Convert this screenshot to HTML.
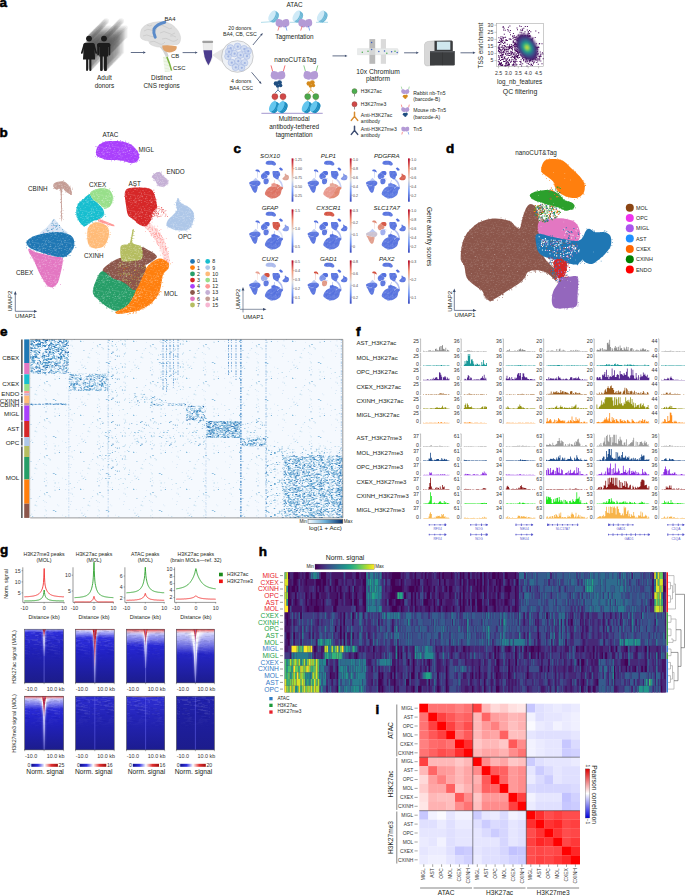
<!DOCTYPE html>
<html><head><meta charset="utf-8"><style>
html,body{margin:0;padding:0;background:#fff;width:685px;height:896px;overflow:hidden}
svg{display:block;font-family:"Liberation Sans", sans-serif}
</style></head><body>
<svg width="685" height="896" viewBox="0 0 685 896" fill="#231f20">
<defs><pattern id="bspk" patternUnits="userSpaceOnUse" width="16" height="16"><path d="M13.0 1.5h1.0v.5h-1.0zM11.7 4.1h0.7v.5h-0.7zM0.5 2.4h0.9v.5h-0.9zM12.4 3.0h0.9v.5h-0.9zM6.1 8.7h1.0v.5h-1.0zM3.8 2.8h0.7v.5h-0.7zM15.6 6.5h1.0v.5h-1.0zM2.8 12.1h1.0v.5h-1.0zM5.8 3.3h0.5v.5h-0.5zM2.3 4.7h0.8v.5h-0.8zM14.0 4.1h1.1v.5h-1.1zM2.7 8.0h0.9v.5h-0.9zM14.4 14.6h1.1v.5h-1.1zM1.3 13.8h0.4v.5h-0.4zM7.3 5.8h0.7v.5h-0.7zM1.4 6.5h0.9v.5h-0.9zM10.7 0.1h1.0v.5h-1.0zM5.0 8.6h0.6v.5h-0.6zM10.7 8.1h1.0v.5h-1.0zM0.9 6.4h1.1v.5h-1.1zM0.4 1.7h0.9v.5h-0.9zM15.7 1.3h0.5v.5h-0.5zM11.1 8.2h1.0v.5h-1.0zM2.0 2.1h0.5v.5h-0.5zM6.8 3.8h0.7v.5h-0.7zM1.4 9.3h0.6v.5h-0.6zM3.5 2.4h0.6v.5h-0.6zM4.8 15.6h0.9v.5h-0.9zM13.8 7.7h0.5v.5h-0.5zM10.1 11.8h1.1v.5h-1.1zM0.1 0.6h1.0v.5h-1.0zM3.7 0.2h0.5v.5h-0.5zM12.9 8.6h1.0v.5h-1.0zM12.4 7.7h0.6v.5h-0.6zM5.5 2.7h1.0v.5h-1.0zM6.5 7.6h0.7v.5h-0.7zM8.7 13.7h0.9v.5h-0.9zM7.9 10.8h0.9v.5h-0.9zM9.8 8.5h0.5v.5h-0.5zM2.4 10.6h0.9v.5h-0.9zM13.3 4.2h0.7v.5h-0.7zM0.1 9.3h0.8v.5h-0.8zM4.2 10.7h1.0v.5h-1.0zM6.9 9.9h0.8v.5h-0.8zM8.9 3.5h0.4v.5h-0.4zM15.8 13.7h1.1v.5h-1.1zM13.5 2.0h0.5v.5h-0.5zM6.5 10.5h0.9v.5h-0.9zM10.8 7.4h0.6v.5h-0.6zM9.8 5.9h0.9v.5h-0.9zM2.6 13.8h0.4v.5h-0.4zM15.8 15.5h0.9v.5h-0.9zM10.0 3.3h0.8v.5h-0.8zM7.1 9.6h0.4v.5h-0.4zM13.1 10.3h1.0v.5h-1.0zM12.7 0.1h0.6v.5h-0.6zM9.6 5.8h0.5v.5h-0.5zM11.9 14.8h0.7v.5h-0.7zM7.7 8.8h0.9v.5h-0.9zM9.3 4.0h0.6v.5h-0.6zM2.8 5.9h0.6v.5h-0.6zM13.9 3.5h0.5v.5h-0.5zM5.4 8.4h1.0v.5h-1.0zM7.3 6.4h1.0v.5h-1.0zM1.3 6.7h0.8v.5h-0.8zM2.1 4.4h1.0v.5h-1.0zM11.3 5.3h1.1v.5h-1.1zM7.9 8.9h0.9v.5h-0.9zM14.3 4.8h0.5v.5h-0.5zM6.5 12.9h1.0v.5h-1.0z" fill="#fff" opacity="0.45"/></pattern><path id="u_cbex_top" d="M40.4 234.5C37.1 233.4 45.1 229.2 47 227C48.9 224.8 50.8 222.3 52 221C53.2 219.7 53.5 218.7 54.3 218.9C55.1 219.1 55.7 220.5 57 222C58.3 223.5 60.4 226 62 228C63.6 230 70.3 232.7 66.7 233.8C63.1 234.9 43.7 235.6 40.4 234.5Z"/><path id="u_cbinh" d="M53.6 183.9C54.3 182.9 56.3 182.1 58 181.7C59.7 181.3 62.1 180.9 63.8 181.4C65.5 181.9 67 183.2 68.2 184.6C69.4 186 70.5 188 71.1 189.7C71.7 191.4 72 194.1 71.8 194.8C71.5 195.5 70.7 194.7 69.6 194.1C68.5 193.5 66.5 191.8 65.3 191.2C64.1 190.6 62.8 186.1 62.2 190.6C61.6 195.1 62.1 213.6 61.9 218.2C61.7 222.8 61.4 222.7 61.1 218.2C60.9 213.7 61.2 195.8 60.4 191C59.6 186.2 57.6 190.3 56.5 189.7C55.4 189.1 54.4 188.5 53.9 187.5C53.4 186.5 52.9 184.9 53.6 183.9Z"/><path id="u_migl" d="M96 152C96.2 150.3 96.7 147.7 98 146C99.3 144.3 101.7 142.8 104 142C106.3 141.2 109 141.1 112 141C115 140.9 119 141 122 141.5C125 142 127.8 142.9 130 144C132.2 145.1 133.6 146.5 135 148C136.4 149.5 137.8 151.3 138.5 153C139.2 154.7 139.4 156.5 139 158C138.6 159.5 137.5 161.2 136 162C134.5 162.8 132 163.2 130 163C128 162.8 126.3 161.5 124 161C121.7 160.5 118.7 160.2 116 160C113.3 159.8 110.5 160.3 108 160C105.5 159.7 102.8 158.7 101 158C99.2 157.3 97.8 157 97 156C96.2 155 95.8 153.7 96 152Z"/><path id="u_endo" d="M154 174C155 173.2 156.8 172.2 158 172C159.2 171.8 160.2 172.3 161 173C161.8 173.7 162 175 163 176C164 177 166.2 177.8 167 179C167.8 180.2 168.3 181.8 168 183C167.7 184.2 166.3 185.4 165 186C163.7 186.6 161.3 186.8 160 186.5C158.7 186.2 157.8 185.1 157 184C156.2 182.9 155.8 181.2 155 180C154.2 178.8 152.2 178 152 177C151.8 176 153 174.8 154 174Z"/><path id="u_cxex_cyan" d="M76.2 210.9C76.5 208.7 77.1 205.7 78.4 203.6C79.7 201.5 82.3 200.1 84.2 198.5C86.1 196.9 88.5 194 90 194.1C91.5 194.2 91.5 197.5 93 199.2C94.5 200.9 97.1 202.6 98.8 204.3C100.5 206 102.3 207.6 103.2 209.4C104.1 211.2 104.6 213.6 103.9 215.3C103.2 217 100.6 218.6 98.8 219.6C97 220.6 94.7 220.4 93 221.1C91.3 221.8 90.1 223.2 88.6 224C87.1 224.8 85.7 226.4 84.2 226.2C82.8 226 81.1 224.2 79.9 222.6C78.7 221 77.5 218.6 76.9 216.7C76.3 214.8 76 213.1 76.2 210.9Z"/><path id="u_cxex_green" d="M90 193.4C90.2 191.8 92.5 190.6 94.5 189.7C96.5 188.8 99.4 188.2 101.8 188.2C104.2 188.2 107.2 188.5 109 189.7C110.8 190.9 112.2 193.4 112.7 195.5C113.2 197.6 112.9 200.2 112.3 202.1C111.7 204 110.5 206.3 109 207.2C107.5 208 104.9 207.8 103.2 207.2C101.5 206.6 100.5 204.9 98.8 203.6C97.1 202.3 94.5 200.9 93 199.2C91.5 197.5 89.8 195 90 193.4Z"/><path id="u_salmon" d="M98.8 219.2C100 219.2 103.6 220.6 106 221.5C108.4 222.4 112.2 224 113.4 224.8C114.6 225.6 114.4 226.4 113 226.2C111.6 226 107.4 224.6 105 223.8C102.6 223 99.5 222.3 98.5 221.5C97.5 220.7 97.5 219.2 98.8 219.2Z"/><path id="u_cxinh" d="M88.6 226.9C89.8 225.4 92.3 223.2 94.5 222.6C96.7 222 99.6 222.6 101.8 223.3C104 224 106.4 225.3 107.6 226.9C108.8 228.5 109 230.6 109 232.8C109 235 108.4 237.9 107.6 240.1C106.8 242.3 105.4 244.6 103.9 245.9C102.4 247.2 100.6 247.7 98.8 248.1C97 248.5 94.7 248.7 93 248.1C91.3 247.5 89.6 246.3 88.6 244.5C87.6 242.7 87.4 239.4 87.2 237.2C87 235 87.2 233 87.4 231.3C87.6 229.6 87.4 228.4 88.6 226.9Z"/><path id="u_ast_tail" d="M147.8 221C149.6 221.5 153.3 226 156 229C158.7 232 161.9 235.3 163.8 239C165.7 242.7 166.5 247.2 167.5 251C168.5 254.8 170.2 260.1 169.8 262C169.4 263.9 166.5 264.3 165 262.5C163.5 260.7 162.5 254.6 161 251C159.5 247.4 157.8 244 156 241C154.2 238 151.8 235.5 150 233C148.2 230.5 145.4 228 145 226C144.6 224 146 220.5 147.8 221Z"/><path id="u_ast" d="M125 192C125.5 190.4 126 189.2 128 188.5C130 187.8 133.8 187.6 137 187.5C140.2 187.4 144.5 187.6 147 188C149.5 188.4 150.7 188.7 152 190C153.3 191.3 154.2 193.8 155 196C155.8 198.2 156.2 201 156.5 203C156.8 205 157.6 206.5 157 208C156.4 209.5 154 210 153 212C152 214 152.2 217.7 151 220C149.8 222.3 147.8 225.2 146 226C144.2 226.8 142 226 140 225C138 224 136 221.7 134 220C132 218.3 129.3 217.5 128 215C126.7 212.5 126.5 207.8 126 205C125.5 202.2 125.2 200.2 125 198C124.8 195.8 124.5 193.6 125 192Z"/><path id="u_opc" d="M178 198C178.7 197.7 179 200.8 180 202C181 203.2 182.3 204 184 205C185.7 206 188.3 206.5 190 208C191.7 209.5 193.5 211.7 194 214C194.5 216.3 193.7 219.7 193 222C192.3 224.3 191.5 226.6 190 228C188.5 229.4 186.3 230.2 184 230.5C181.7 230.8 178.3 230.4 176 230C173.7 229.6 171.6 228.8 170 228C168.4 227.2 166.8 226.3 166.5 225C166.2 223.7 166.9 221.7 168 220C169.1 218.3 171.5 216.7 173 215C174.5 213.3 176.5 211.8 177 210C177.5 208.2 175.8 206 176 204C176.2 202 177.3 198.3 178 198Z"/><path id="u_cbex_blue" d="M26.6 241.5C27.2 240.1 29.4 238.4 31.7 237.2C34 236 37.5 234.9 40.4 234.2C43.3 233.5 46.3 233.2 49.2 232.8C52.1 232.4 55.1 231.9 58 232C60.9 232.1 64.3 232.6 66.7 233.5C69.1 234.4 71.3 235.6 72.6 237.2C73.9 238.8 74.2 241.1 74.3 243C74.4 244.9 74.3 246.9 73.3 248.8C72.3 250.8 70 253.2 68.2 254.7C66.4 256.2 64.7 257.4 62.3 257.6C59.9 257.8 56.8 256.8 53.6 256.1C50.5 255.4 46.8 254.3 43.4 253.2C40 252.1 35.7 250.8 33.1 249.6C30.5 248.4 29.1 247.2 28 245.9C26.9 244.6 26 242.9 26.6 241.5Z"/><path id="u_cbex_pink" d="M28.8 248.8C29.7 248.6 31.7 250.8 34.6 251.8C37.5 252.8 42.9 253.8 46.3 254.7C49.7 255.5 52.3 256.4 55 256.9C57.7 257.4 61.1 256.3 62.3 257.6C63.5 258.9 62.7 262 62.3 264.9C61.9 267.8 60.8 272.2 60.1 275.1C59.4 278 59 280.4 57.9 282.4C56.8 284.3 55 286.1 53.6 286.8C52.2 287.5 50.7 287.5 49.2 286.8C47.7 286.1 46.5 284.8 44.8 282.4C43.1 280 40.8 275.8 39 272.2C37.2 268.6 35.5 263.7 33.9 260.5C32.3 257.3 30.4 255.1 29.5 253.2C28.6 251.2 27.9 249 28.8 248.8Z"/><path id="u_mol_brown" d="M103.2 268.8C104.4 266.7 108.5 264 111.3 262.2C114.1 260.4 116.9 258.9 120 258C123.1 257.1 126.5 258.8 130 257C133.5 255.2 138 248.7 141 247.5C144 246.3 145.5 248.7 147.8 249.8C150.2 250.9 153.7 252.9 155.1 254.2C156.5 255.5 157.5 256.3 156.5 257.8C155.5 259.3 151.4 261.6 149.2 263C146.9 264.4 144.7 264.8 143 266C141.3 267.2 140.6 268.3 139 270C137.4 271.7 135.4 274.4 133.2 276.1C131 277.9 128.3 279.8 125.9 280.5C123.5 281.2 121.3 280.8 118.6 280.5C115.9 280.2 112.2 280 109.8 279C107.4 278 105.1 276.3 104 274.6C102.9 272.9 102 270.9 103.2 268.8Z"/><path id="u_mol_green" d="M99.6 273.2C100.9 271.7 101.6 270.7 104 271.7C106.4 272.7 110.5 277.3 114.2 279C117.9 280.7 122.5 280.9 125.9 281.9C129.3 282.9 132.2 283.9 134.6 284.9C136.9 285.9 139.1 285.5 140 288C140.9 290.5 141.5 296.5 140 300C138.5 303.5 133.8 307.2 131 309C128.2 310.8 125.8 310.3 123 310.5C120.2 310.7 116.9 311 114.2 310.4C111.5 309.8 109.3 308.3 106.9 306.7C104.5 305.1 101.8 302.8 99.6 300.9C97.4 299 94.9 297.1 93.8 295.1C92.7 293.2 92.6 291.6 93 289.2C93.4 286.8 94.9 283.2 96 280.5C97.1 277.8 98.3 274.7 99.6 273.2Z"/><path id="u_mol_orange" d="M156.5 259.3C158.4 258.3 159.4 258.4 160.9 258.6C162.4 258.9 164 260 165.3 260.8C166.6 261.6 168.4 262.4 168.9 263.7C169.4 265 169.2 267 168.2 268.8C167.2 270.6 164.3 271.7 163.1 274.6C161.9 277.5 161.8 282.9 160.9 286.3C160.1 289.7 159.7 292.2 158 295.1C156.3 298 153.6 301.4 150.7 303.8C147.8 306.2 144.2 308.2 140.5 309.7C136.8 311.2 132.5 311.9 128.8 312.6C125.2 313.3 120.8 314.1 118.6 314C116.4 313.9 115 312.9 115.7 311.9C116.4 310.9 120.8 309.5 123 308.2C125.2 306.9 127.1 305.8 128.8 303.8C130.5 301.9 132 298.9 133.2 296.5C134.4 294.1 135.4 291.9 136.1 289.2C136.8 286.5 136.4 283.4 137.6 280.5C138.8 277.6 141.5 274.4 143.4 271.7C145.3 269 147 266.5 149.2 264.4C151.4 262.3 154.6 260.3 156.5 259.3Z"/><path id="u_mol_mix" d="M118 262C120.2 259.4 126.3 261.5 130 261.5C133.7 261.5 137.3 261.1 140 262C142.7 262.9 145.8 264 146 267C146.2 270 142.8 276.2 141 280C139.2 283.8 137.5 289.3 135 290C132.5 290.7 129 286.2 126 284C123 281.8 118.3 280.7 117 277C115.7 273.3 115.8 264.6 118 262Z"/><path id="u_mol_olive" d="M120.8 246.2C122 243.5 127.1 245.3 128.8 244C130.5 242.7 130.4 240.4 131 238.1C131.6 235.8 132.1 231.4 132.6 230.1C133.1 228.8 133.8 228.4 133.8 230.5C133.8 232.6 131.2 239.8 132.4 242.5C133.6 245.2 139.6 244.2 141.2 246.9C142.8 249.6 143 256.3 141.9 258.6C140.8 260.9 137 260.3 134.6 260.8C132.2 261.3 129.5 261.6 127.3 261.5C125.1 261.4 122.6 262.6 121.5 260C120.4 257.4 119.6 248.9 120.8 246.2Z"/></defs>
<text x="-0.6" y="137" font-size="13.5" font-weight="bold" fill="#000" stroke="#000" stroke-width="0.55">b</text>
<use href="#u_cbex_top" fill="#aec7e8" opacity="0.45"/>
<path d="M62.6 230.7h0.6v0.6h-0.6zM51.5 222.9h0.6v0.6h-0.6zM53.8 225.2h0.6v0.6h-0.6zM52.9 228h0.6v0.6h-0.6zM47.8 230.7h0.6v0.6h-0.6zM56.7 222.8h0.6v0.6h-0.6zM61.7 233h0.6v0.6h-0.6zM48.6 230.3h0.6v0.6h-0.6zM52.8 220.5h0.6v0.6h-0.6zM51.8 228.4h0.6v0.6h-0.6zM52.9 232.4h0.6v0.6h-0.6zM47.3 231.5h0.6v0.6h-0.6zM59.3 225.1h0.6v0.6h-0.6zM62.1 229.3h0.6v0.6h-0.6zM49 232.5h0.6v0.6h-0.6zM46.7 234h0.6v0.6h-0.6zM53.8 233.5h0.6v0.6h-0.6zM59 227.4h0.6v0.6h-0.6zM55.9 225.8h0.6v0.6h-0.6zM56.1 224.9h0.6v0.6h-0.6zM55.5 223.4h0.6v0.6h-0.6zM56.5 229.1h0.6v0.6h-0.6zM52.9 220.3h0.6v0.6h-0.6zM60.3 232.6h0.6v0.6h-0.6zM64.7 232h0.6v0.6h-0.6zM64 233.3h0.6v0.6h-0.6zM54.6 225h0.6v0.6h-0.6zM61.7 232.2h0.6v0.6h-0.6zM52.2 229.2h0.6v0.6h-0.6zM56.5 226.5h0.6v0.6h-0.6zM57 232.1h0.6v0.6h-0.6zM46.8 230.3h0.6v0.6h-0.6zM57.1 228.4h0.6v0.6h-0.6zM55.5 225h0.6v0.6h-0.6zM50.1 234.2h0.6v0.6h-0.6zM61.5 233.5h0.6v0.6h-0.6zM46.2 229h0.6v0.6h-0.6zM53.6 219.5h0.6v0.6h-0.6zM43.1 234.3h0.6v0.6h-0.6zM59.6 232h0.6v0.6h-0.6zM58.1 234h0.6v0.6h-0.6zM47 228.2h0.6v0.6h-0.6zM52 221.6h0.6v0.6h-0.6zM52.8 225.3h0.6v0.6h-0.6zM55.4 226.8h0.6v0.6h-0.6zM46.7 233.8h0.6v0.6h-0.6zM49.8 233.7h0.6v0.6h-0.6zM57.1 228.6h0.6v0.6h-0.6zM59.2 225h0.6v0.6h-0.6zM51.3 229.1h0.6v0.6h-0.6zM57.2 224.8h0.6v0.6h-0.6zM51.3 225.2h0.6v0.6h-0.6zM58.9 225.4h0.6v0.6h-0.6zM52.1 222.9h0.6v0.6h-0.6zM53.2 227.7h0.6v0.6h-0.6zM60.3 232.7h0.6v0.6h-0.6zM53.4 223.8h0.6v0.6h-0.6zM52.7 231.5h0.6v0.6h-0.6zM63.4 231.6h0.6v0.6h-0.6zM51 229.5h0.6v0.6h-0.6z" fill="#1f77b4"/>
<path d="M43.9 232.1h0.7v0.7h-0.7zM53.4 225.9h0.7v0.7h-0.7zM57.5 231.2h0.7v0.7h-0.7zM52.1 230.2h0.7v0.7h-0.7zM46.4 233.6h0.7v0.7h-0.7zM51.9 226.6h0.7v0.7h-0.7z" fill="#f7b6d2"/>
<use href="#u_cbinh" fill="#c49c94"/>
<path d="M60.2 199.3h0.7v0.7h-0.7zM60.9 201.4h0.7v0.7h-0.7zM68.5 187.2h0.7v0.7h-0.7zM61.3 201.9h0.7v0.7h-0.7zM63.1 180.2h0.7v0.7h-0.7zM59.8 181.7h0.7v0.7h-0.7zM60.7 215.7h0.7v0.7h-0.7zM54.7 183.1h0.7v0.7h-0.7zM70.1 188.1h0.7v0.7h-0.7zM60.5 201.9h0.7v0.7h-0.7zM61.3 206.2h0.7v0.7h-0.7zM60.3 215.4h0.7v0.7h-0.7zM55.3 184.1h0.7v0.7h-0.7zM60.6 211h0.7v0.7h-0.7zM70.4 194.3h0.7v0.7h-0.7zM62.7 193.9h0.7v0.7h-0.7zM54.5 188h0.7v0.7h-0.7zM71.9 189.1h0.7v0.7h-0.7zM53.5 186.2h0.7v0.7h-0.7zM61.6 217.5h0.7v0.7h-0.7zM61 183.5h0.7v0.7h-0.7zM61.3 205.6h0.7v0.7h-0.7zM65.1 182h0.7v0.7h-0.7zM68.5 186.3h0.7v0.7h-0.7zM70 187.4h0.7v0.7h-0.7zM61.8 217.7h0.7v0.7h-0.7zM70.8 192.3h0.7v0.7h-0.7zM60 202.2h0.7v0.7h-0.7zM69.7 190.8h0.7v0.7h-0.7zM63.3 218.9h0.7v0.7h-0.7zM71.1 191.5h0.7v0.7h-0.7zM65.4 191.7h0.7v0.7h-0.7zM61.9 181.1h0.7v0.7h-0.7zM61.2 216.4h0.7v0.7h-0.7zM53.2 188h0.7v0.7h-0.7zM60.7 194.3h0.7v0.7h-0.7zM59.2 189.9h0.7v0.7h-0.7zM69.9 185.7h0.7v0.7h-0.7zM72.1 187.8h0.7v0.7h-0.7zM61.6 216.1h0.7v0.7h-0.7zM57.9 181.9h0.7v0.7h-0.7zM60.8 212.4h0.7v0.7h-0.7zM61.8 215.7h0.7v0.7h-0.7zM61.5 209.4h0.7v0.7h-0.7zM62.7 210.3h0.7v0.7h-0.7zM70.3 193.9h0.7v0.7h-0.7zM55 184.1h0.7v0.7h-0.7zM59.8 182.4h0.7v0.7h-0.7zM62.5 213.2h0.7v0.7h-0.7zM61.7 191.1h0.7v0.7h-0.7zM60.5 211.9h0.7v0.7h-0.7zM58.8 182.5h0.7v0.7h-0.7zM61.1 211.1h0.7v0.7h-0.7zM59.6 218.1h0.7v0.7h-0.7zM66.8 191.9h0.7v0.7h-0.7zM61.8 207.9h0.7v0.7h-0.7z" fill="#c49c94"/>
<path d="M61.6 212.2h0.5v0.5h-0.5zM64.4 187.8h0.5v0.5h-0.5zM61.2 188.8h0.5v0.5h-0.5zM61.8 185.7h0.5v0.5h-0.5zM69.2 189.7h0.5v0.5h-0.5zM69.7 192.2h0.5v0.5h-0.5zM62.4 186.8h0.5v0.5h-0.5zM67.9 185.5h0.5v0.5h-0.5z" fill="#ffffff"/>
<use href="#u_migl" fill="#aa40fc"/>
<path d="M136.7 150.4h0.7v0.7h-0.7zM106.6 141.8h0.7v0.7h-0.7zM120.2 140.1h0.7v0.7h-0.7zM133 161.8h0.7v0.7h-0.7zM105.5 141.9h0.7v0.7h-0.7zM103.9 159h0.7v0.7h-0.7zM99.1 144.3h0.7v0.7h-0.7zM132.6 145.9h0.7v0.7h-0.7zM99.1 145.4h0.7v0.7h-0.7zM103 143.9h0.7v0.7h-0.7zM102.3 143.1h0.7v0.7h-0.7zM123.3 141.7h0.7v0.7h-0.7zM125 161.3h0.7v0.7h-0.7zM111.1 160.5h0.7v0.7h-0.7zM134 162.3h0.7v0.7h-0.7zM96.7 146.6h0.7v0.7h-0.7zM96.2 153.7h0.7v0.7h-0.7zM128.4 142.4h0.7v0.7h-0.7zM102.9 143.6h0.7v0.7h-0.7zM139.1 154.2h0.7v0.7h-0.7zM97.4 148.3h0.7v0.7h-0.7zM139 156.9h0.7v0.7h-0.7zM131.2 144.5h0.7v0.7h-0.7zM138.9 160.3h0.7v0.7h-0.7zM97.1 149.1h0.7v0.7h-0.7zM131.5 163.2h0.7v0.7h-0.7zM112.5 142h0.7v0.7h-0.7zM95 156.4h0.7v0.7h-0.7zM109.1 141.1h0.7v0.7h-0.7zM110.6 139.2h0.7v0.7h-0.7zM96 152.9h0.7v0.7h-0.7zM126.7 143.1h0.7v0.7h-0.7zM95.5 146.2h0.7v0.7h-0.7zM95.8 152.2h0.7v0.7h-0.7zM125.1 140.7h0.7v0.7h-0.7zM130.4 164h0.7v0.7h-0.7zM137.2 151.3h0.7v0.7h-0.7zM98.8 156.4h0.7v0.7h-0.7zM122 141h0.7v0.7h-0.7zM97.3 156.7h0.7v0.7h-0.7zM123.8 161.7h0.7v0.7h-0.7zM117.1 140h0.7v0.7h-0.7zM105.2 141.3h0.7v0.7h-0.7zM113.9 142.2h0.7v0.7h-0.7zM136.2 158.4h0.7v0.7h-0.7zM97 155h0.7v0.7h-0.7zM136.9 161.1h0.7v0.7h-0.7zM135.8 162.3h0.7v0.7h-0.7zM120.2 160.5h0.7v0.7h-0.7zM124.4 160h0.7v0.7h-0.7zM104.2 158.1h0.7v0.7h-0.7zM114.4 160.3h0.7v0.7h-0.7zM127.1 145.3h0.7v0.7h-0.7zM124 161.1h0.7v0.7h-0.7zM102.5 141.8h0.7v0.7h-0.7zM131.7 146.3h0.7v0.7h-0.7zM124.6 141.9h0.7v0.7h-0.7zM100.3 145.4h0.7v0.7h-0.7zM116.7 158.5h0.7v0.7h-0.7zM130.1 143.9h0.7v0.7h-0.7zM136.2 150h0.7v0.7h-0.7zM126.7 143.7h0.7v0.7h-0.7zM99.5 156.9h0.7v0.7h-0.7zM120.6 142.3h0.7v0.7h-0.7z" fill="#aa40fc"/>
<path d="M127.2 151.6h0.5v0.5h-0.5zM103.9 148.6h0.5v0.5h-0.5zM112.6 141.2h0.5v0.5h-0.5zM105.9 147h0.5v0.5h-0.5zM129.5 150.2h0.5v0.5h-0.5zM132.9 160.8h0.5v0.5h-0.5zM134.5 161.8h0.5v0.5h-0.5zM120.8 155.8h0.5v0.5h-0.5z" fill="#ffffff"/>
<use href="#u_endo" fill="#c5b0d5"/>
<path d="M163 175.1h0.7v0.7h-0.7zM154.6 179.9h0.7v0.7h-0.7zM160.4 174.2h0.7v0.7h-0.7zM158.8 172.4h0.7v0.7h-0.7zM163.3 178.1h0.7v0.7h-0.7zM162.4 186.4h0.7v0.7h-0.7zM161.3 171.5h0.7v0.7h-0.7zM156.2 179.6h0.7v0.7h-0.7zM152.9 175.3h0.7v0.7h-0.7zM152.8 179.4h0.7v0.7h-0.7zM163 186.5h0.7v0.7h-0.7zM167.7 182.8h0.7v0.7h-0.7zM156 177.9h0.7v0.7h-0.7zM157 184.7h0.7v0.7h-0.7zM159.2 171.7h0.7v0.7h-0.7zM161.6 174.4h0.7v0.7h-0.7zM162.1 176.5h0.7v0.7h-0.7zM168.2 181.6h0.7v0.7h-0.7zM162.8 176.2h0.7v0.7h-0.7zM168.3 180.1h0.7v0.7h-0.7zM151.7 176.7h0.7v0.7h-0.7zM152.8 176.7h0.7v0.7h-0.7zM156.1 179.8h0.7v0.7h-0.7zM159.2 173.8h0.7v0.7h-0.7zM153.3 177.6h0.7v0.7h-0.7zM153.2 180.2h0.7v0.7h-0.7zM160.9 172.4h0.7v0.7h-0.7zM157.6 185.5h0.7v0.7h-0.7zM162.3 185.7h0.7v0.7h-0.7zM156.7 184.7h0.7v0.7h-0.7zM160.7 172.6h0.7v0.7h-0.7zM163.7 175.8h0.7v0.7h-0.7zM163.9 186h0.7v0.7h-0.7zM167.7 183.1h0.7v0.7h-0.7zM154.6 173.9h0.7v0.7h-0.7zM164.9 178.8h0.7v0.7h-0.7zM156.3 172.6h0.7v0.7h-0.7zM155.6 179.8h0.7v0.7h-0.7zM167.4 184.5h0.7v0.7h-0.7zM166.7 183.3h0.7v0.7h-0.7zM153.3 173.3h0.7v0.7h-0.7zM156.8 185.1h0.7v0.7h-0.7zM154.3 180.5h0.7v0.7h-0.7zM167 179.8h0.7v0.7h-0.7z" fill="#c5b0d5"/>
<path d="M161.9 184.9h0.5v0.5h-0.5zM159.3 182.3h0.5v0.5h-0.5zM167 179.5h0.5v0.5h-0.5zM163.7 182.6h0.5v0.5h-0.5zM157.8 178.4h0.5v0.5h-0.5zM155.7 174h0.5v0.5h-0.5zM160.1 181.4h0.5v0.5h-0.5zM157.1 181.6h0.5v0.5h-0.5z" fill="#ffffff"/>
<use href="#u_cxex_cyan" fill="#17becf"/>
<path d="M79.5 201h0.7v0.7h-0.7zM76.8 216.9h0.7v0.7h-0.7zM88.9 222.9h0.7v0.7h-0.7zM91.9 222h0.7v0.7h-0.7zM81 203.5h0.7v0.7h-0.7zM95.6 203.2h0.7v0.7h-0.7zM98.4 220.8h0.7v0.7h-0.7zM95.5 221.7h0.7v0.7h-0.7zM80.8 201.7h0.7v0.7h-0.7zM87.5 196.5h0.7v0.7h-0.7zM75.2 212.2h0.7v0.7h-0.7zM79.3 221.3h0.7v0.7h-0.7zM100.5 217.4h0.7v0.7h-0.7zM79.8 202.3h0.7v0.7h-0.7zM85.2 197.4h0.7v0.7h-0.7zM83.8 226.2h0.7v0.7h-0.7zM83.5 225.5h0.7v0.7h-0.7zM76.9 208h0.7v0.7h-0.7zM104.6 214.2h0.7v0.7h-0.7zM92 220.9h0.7v0.7h-0.7zM102.1 210.4h0.7v0.7h-0.7zM78.4 203.1h0.7v0.7h-0.7zM80 222.1h0.7v0.7h-0.7zM82 199h0.7v0.7h-0.7zM76.1 207.2h0.7v0.7h-0.7zM99.3 206.6h0.7v0.7h-0.7zM76.8 217.1h0.7v0.7h-0.7zM84.8 196.8h0.7v0.7h-0.7zM90 194.6h0.7v0.7h-0.7zM94 198.7h0.7v0.7h-0.7zM92.2 196.2h0.7v0.7h-0.7zM90.5 194.2h0.7v0.7h-0.7zM86.5 198.8h0.7v0.7h-0.7zM90.6 196.3h0.7v0.7h-0.7zM77.2 219.6h0.7v0.7h-0.7zM95.3 201.8h0.7v0.7h-0.7zM76.9 215h0.7v0.7h-0.7zM80.7 224.4h0.7v0.7h-0.7zM75.1 214h0.7v0.7h-0.7zM93.9 198.3h0.7v0.7h-0.7zM90.6 193.9h0.7v0.7h-0.7zM94.4 200.9h0.7v0.7h-0.7zM86.2 196.4h0.7v0.7h-0.7zM89.2 195h0.7v0.7h-0.7zM97.4 202.3h0.7v0.7h-0.7zM96 202.4h0.7v0.7h-0.7zM88.8 196.9h0.7v0.7h-0.7zM82.3 199.4h0.7v0.7h-0.7zM95.9 219.5h0.7v0.7h-0.7zM76.3 215.9h0.7v0.7h-0.7zM76.8 207.3h0.7v0.7h-0.7zM104.3 208.1h0.7v0.7h-0.7zM76.9 203.7h0.7v0.7h-0.7zM105.4 216.1h0.7v0.7h-0.7zM102 205.6h0.7v0.7h-0.7zM82.4 224.3h0.7v0.7h-0.7z" fill="#17becf"/>
<path d="M91.6 209.6h0.5v0.5h-0.5zM88.6 212.6h0.5v0.5h-0.5zM86.8 223.4h0.5v0.5h-0.5zM100.5 217.3h0.5v0.5h-0.5zM91.4 213.3h0.5v0.5h-0.5zM91.2 210.7h0.5v0.5h-0.5zM83.4 203h0.5v0.5h-0.5zM88.3 222.9h0.5v0.5h-0.5z" fill="#ffffff"/>
<use href="#u_cxex_green" fill="#98df8a"/>
<path d="M92.5 195.5h0.7v0.7h-0.7zM99.1 188.8h0.7v0.7h-0.7zM93.3 198.4h0.7v0.7h-0.7zM90.1 194.2h0.7v0.7h-0.7zM102.8 207.6h0.7v0.7h-0.7zM104.6 187.1h0.7v0.7h-0.7zM98.7 205.3h0.7v0.7h-0.7zM112.5 202.5h0.7v0.7h-0.7zM113.7 196h0.7v0.7h-0.7zM108.7 191.3h0.7v0.7h-0.7zM105.4 208.2h0.7v0.7h-0.7zM88 193.8h0.7v0.7h-0.7zM91.3 193h0.7v0.7h-0.7zM91.3 195.7h0.7v0.7h-0.7zM105.3 189.4h0.7v0.7h-0.7zM95.4 189.7h0.7v0.7h-0.7zM113.1 197.7h0.7v0.7h-0.7zM111.5 194.5h0.7v0.7h-0.7zM91.2 196.9h0.7v0.7h-0.7zM109.1 188.9h0.7v0.7h-0.7zM92.4 199.8h0.7v0.7h-0.7zM95.1 189.4h0.7v0.7h-0.7zM113.3 199.7h0.7v0.7h-0.7zM112.3 191.3h0.7v0.7h-0.7zM101.2 205.8h0.7v0.7h-0.7zM93.8 199.3h0.7v0.7h-0.7zM109.9 201h0.7v0.7h-0.7zM93.8 192.3h0.7v0.7h-0.7zM109.1 205.1h0.7v0.7h-0.7zM109.5 205.4h0.7v0.7h-0.7zM95.1 189.9h0.7v0.7h-0.7zM106.1 207.8h0.7v0.7h-0.7zM108.4 206h0.7v0.7h-0.7zM109.5 188.2h0.7v0.7h-0.7zM93.5 199.4h0.7v0.7h-0.7zM104.9 207.9h0.7v0.7h-0.7zM112.7 202.4h0.7v0.7h-0.7zM89.4 195.9h0.7v0.7h-0.7zM104.1 207.9h0.7v0.7h-0.7zM109.1 205.9h0.7v0.7h-0.7z" fill="#98df8a"/>
<path d="M109.1 202.4h0.5v0.5h-0.5zM96.9 194.9h0.5v0.5h-0.5zM106.4 206.5h0.5v0.5h-0.5zM105 198.5h0.5v0.5h-0.5zM98.8 195.9h0.5v0.5h-0.5zM106.3 196.3h0.5v0.5h-0.5zM102.1 200.2h0.5v0.5h-0.5zM104.4 189h0.5v0.5h-0.5z" fill="#ffffff"/>
<use href="#u_salmon" fill="#ff9896"/>
<path d="M109.6 223.6h0.7v0.7h-0.7zM112.1 225.4h0.7v0.7h-0.7zM107.2 222h0.7v0.7h-0.7zM108.4 223.1h0.7v0.7h-0.7zM104.1 225.2h0.7v0.7h-0.7zM98.6 222.6h0.7v0.7h-0.7zM102.5 222.8h0.7v0.7h-0.7zM112.8 224.4h0.7v0.7h-0.7zM105.9 222.2h0.7v0.7h-0.7zM102.7 224h0.7v0.7h-0.7zM108.7 224.5h0.7v0.7h-0.7zM101.9 219.4h0.7v0.7h-0.7zM102.5 223.1h0.7v0.7h-0.7zM103.6 221.8h0.7v0.7h-0.7zM100.5 218.5h0.7v0.7h-0.7zM99.8 218.5h0.7v0.7h-0.7zM97.4 221.9h0.7v0.7h-0.7zM112.6 224.2h0.7v0.7h-0.7zM100 220h0.7v0.7h-0.7zM111.2 225h0.7v0.7h-0.7zM106.9 225h0.7v0.7h-0.7zM113.9 225.6h0.7v0.7h-0.7zM107.9 224h0.7v0.7h-0.7zM102.5 220.5h0.7v0.7h-0.7z" fill="#ff9896"/>
<path d="M105.6 222.9h0.5v0.5h-0.5zM106.8 221.9h0.5v0.5h-0.5zM99 220.3h0.5v0.5h-0.5zM107.7 223.1h0.5v0.5h-0.5zM99.4 220.7h0.5v0.5h-0.5zM108.6 223.3h0.5v0.5h-0.5zM101.4 222.5h0.5v0.5h-0.5zM98.6 221.3h0.5v0.5h-0.5z" fill="#ffffff"/>
<use href="#u_cxinh" fill="#ffbb78"/>
<path d="M105.6 242.3h0.7v0.7h-0.7zM107.9 226.3h0.7v0.7h-0.7zM95.6 248.2h0.7v0.7h-0.7zM108.6 234h0.7v0.7h-0.7zM105 244.7h0.7v0.7h-0.7zM84.9 232.8h0.7v0.7h-0.7zM93.2 222.4h0.7v0.7h-0.7zM98.4 221.9h0.7v0.7h-0.7zM88 231.3h0.7v0.7h-0.7zM86.8 235.2h0.7v0.7h-0.7zM94.6 222.8h0.7v0.7h-0.7zM89.6 228.5h0.7v0.7h-0.7zM88.1 240.9h0.7v0.7h-0.7zM110.2 234.3h0.7v0.7h-0.7zM109.8 232.3h0.7v0.7h-0.7zM88.9 243.4h0.7v0.7h-0.7zM104.1 246h0.7v0.7h-0.7zM108.8 234.5h0.7v0.7h-0.7zM101 222.7h0.7v0.7h-0.7zM104.2 247.1h0.7v0.7h-0.7zM87 233.9h0.7v0.7h-0.7zM86.7 233.4h0.7v0.7h-0.7zM89.2 225.6h0.7v0.7h-0.7zM106.9 242.1h0.7v0.7h-0.7zM90.7 246.7h0.7v0.7h-0.7zM88.5 227.8h0.7v0.7h-0.7zM102.2 245.6h0.7v0.7h-0.7zM91.9 245.9h0.7v0.7h-0.7zM108.8 235.9h0.7v0.7h-0.7zM99.2 223.4h0.7v0.7h-0.7zM85.9 238.5h0.7v0.7h-0.7zM87.5 232.6h0.7v0.7h-0.7zM88.7 233.3h0.7v0.7h-0.7zM87.1 238.3h0.7v0.7h-0.7zM94.4 224.2h0.7v0.7h-0.7zM104.4 225.2h0.7v0.7h-0.7zM99.3 224.5h0.7v0.7h-0.7zM105.5 242.8h0.7v0.7h-0.7zM102.3 246.1h0.7v0.7h-0.7zM87.9 228.7h0.7v0.7h-0.7zM108.6 230.6h0.7v0.7h-0.7zM90.3 224.5h0.7v0.7h-0.7zM108.7 237.1h0.7v0.7h-0.7zM102.6 246.4h0.7v0.7h-0.7zM97 250.3h0.7v0.7h-0.7zM89 245.9h0.7v0.7h-0.7zM99.5 247.2h0.7v0.7h-0.7zM100.6 222.7h0.7v0.7h-0.7z" fill="#ffbb78"/>
<path d="M88.1 237.6h0.5v0.5h-0.5zM87.6 235.7h0.5v0.5h-0.5zM103.2 235.8h0.5v0.5h-0.5zM100.4 232.2h0.5v0.5h-0.5zM103 240h0.5v0.5h-0.5zM99.1 243.3h0.5v0.5h-0.5zM100.6 237h0.5v0.5h-0.5zM90.2 236.8h0.5v0.5h-0.5z" fill="#ffffff"/>
<use href="#u_ast_tail" fill="#ff9896" opacity="0.25"/>
<path d="M160.9 240.1h0.7v0.7h-0.7zM148.5 223.7h0.7v0.7h-0.7zM149.9 227.2h0.7v0.7h-0.7zM158.1 242.2h0.7v0.7h-0.7zM150.5 231.1h0.7v0.7h-0.7zM154.8 227.9h0.7v0.7h-0.7zM156.1 238.3h0.7v0.7h-0.7zM147.4 224.5h0.7v0.7h-0.7zM160 241.6h0.7v0.7h-0.7zM162.7 240.6h0.7v0.7h-0.7zM154.8 236h0.7v0.7h-0.7zM150.6 229.2h0.7v0.7h-0.7zM163 250.4h0.7v0.7h-0.7zM163.7 241.9h0.7v0.7h-0.7zM163.4 247.9h0.7v0.7h-0.7zM167.5 251.8h0.7v0.7h-0.7zM168 261.7h0.7v0.7h-0.7zM150.5 233.3h0.7v0.7h-0.7zM165.9 249.4h0.7v0.7h-0.7zM165.4 246.1h0.7v0.7h-0.7zM157.2 243h0.7v0.7h-0.7zM151.8 233.1h0.7v0.7h-0.7zM155.2 236h0.7v0.7h-0.7zM165.2 245.8h0.7v0.7h-0.7zM164.4 253.9h0.7v0.7h-0.7zM167.8 253.6h0.7v0.7h-0.7zM167.5 259.4h0.7v0.7h-0.7zM166.5 248.1h0.7v0.7h-0.7zM167.8 256.7h0.7v0.7h-0.7zM161.2 236.2h0.7v0.7h-0.7zM165.5 254.8h0.7v0.7h-0.7zM163 245.9h0.7v0.7h-0.7zM152.9 233.3h0.7v0.7h-0.7zM153.9 234.6h0.7v0.7h-0.7zM154.7 238.9h0.7v0.7h-0.7zM150.5 233.2h0.7v0.7h-0.7zM147.7 223.1h0.7v0.7h-0.7zM163.3 240.9h0.7v0.7h-0.7zM160.2 238.2h0.7v0.7h-0.7zM167.2 259.3h0.7v0.7h-0.7zM157.1 236.2h0.7v0.7h-0.7zM164 255.2h0.7v0.7h-0.7zM159.9 248.2h0.7v0.7h-0.7zM153.6 236.4h0.7v0.7h-0.7zM153.9 236.2h0.7v0.7h-0.7zM158.9 233.5h0.7v0.7h-0.7zM164.4 251.8h0.7v0.7h-0.7zM160.6 241.7h0.7v0.7h-0.7zM156.3 240.5h0.7v0.7h-0.7zM147.9 222.5h0.7v0.7h-0.7zM163.3 251.6h0.7v0.7h-0.7zM148.7 227.1h0.7v0.7h-0.7zM159.8 248.3h0.7v0.7h-0.7zM160 237.9h0.7v0.7h-0.7zM165 248.2h0.7v0.7h-0.7zM166.5 253.4h0.7v0.7h-0.7zM166.6 261.3h0.7v0.7h-0.7zM160.3 246.6h0.7v0.7h-0.7zM156.6 230.2h0.7v0.7h-0.7zM164.8 246.3h0.7v0.7h-0.7zM149 231h0.7v0.7h-0.7zM162.1 244.4h0.7v0.7h-0.7zM165.8 259.3h0.7v0.7h-0.7zM166.3 248.6h0.7v0.7h-0.7zM166.9 261.5h0.7v0.7h-0.7zM157.4 236.5h0.7v0.7h-0.7zM153.3 237h0.7v0.7h-0.7zM164.7 247.1h0.7v0.7h-0.7zM169.1 260.4h0.7v0.7h-0.7zM156.8 240.4h0.7v0.7h-0.7zM163.9 257.5h0.7v0.7h-0.7zM162.1 242.3h0.7v0.7h-0.7zM157.6 237.6h0.7v0.7h-0.7zM156.1 240.7h0.7v0.7h-0.7zM160.5 239.5h0.7v0.7h-0.7zM149.5 227.6h0.7v0.7h-0.7zM164.7 258.2h0.7v0.7h-0.7zM161.8 246.2h0.7v0.7h-0.7zM162.1 239.2h0.7v0.7h-0.7zM149.5 225.2h0.7v0.7h-0.7zM148.1 228.6h0.7v0.7h-0.7zM162.5 239.2h0.7v0.7h-0.7zM159.5 239.4h0.7v0.7h-0.7zM154.1 234.6h0.7v0.7h-0.7zM147.6 229h0.7v0.7h-0.7zM145.7 226.2h0.7v0.7h-0.7zM156.1 234.8h0.7v0.7h-0.7zM146.8 228.6h0.7v0.7h-0.7zM156 232.5h0.7v0.7h-0.7zM167.1 261.9h0.7v0.7h-0.7zM166.3 260.1h0.7v0.7h-0.7zM152.4 230.1h0.7v0.7h-0.7zM155.9 233h0.7v0.7h-0.7zM157.3 234.9h0.7v0.7h-0.7zM161.1 238.7h0.7v0.7h-0.7zM160.6 246.9h0.7v0.7h-0.7zM164.9 248.5h0.7v0.7h-0.7zM155.4 229h0.7v0.7h-0.7zM169.2 259.7h0.7v0.7h-0.7zM152.3 226.8h0.7v0.7h-0.7zM162.9 252.6h0.7v0.7h-0.7zM162.9 248.8h0.7v0.7h-0.7zM163.8 257.7h0.7v0.7h-0.7zM160.6 243.7h0.7v0.7h-0.7zM162.4 243h0.7v0.7h-0.7zM166.1 249.7h0.7v0.7h-0.7zM156.2 233.3h0.7v0.7h-0.7zM162.9 253.9h0.7v0.7h-0.7zM157.4 236.6h0.7v0.7h-0.7zM165.6 254.3h0.7v0.7h-0.7zM158.9 237.1h0.7v0.7h-0.7zM152.9 231.9h0.7v0.7h-0.7zM154.7 231.8h0.7v0.7h-0.7zM160.1 242.3h0.7v0.7h-0.7zM165.6 248.3h0.7v0.7h-0.7zM146.2 225.6h0.7v0.7h-0.7zM156.1 230.7h0.7v0.7h-0.7zM165.4 257.7h0.7v0.7h-0.7zM157.1 241.2h0.7v0.7h-0.7zM154.7 236.8h0.7v0.7h-0.7zM155.4 232.9h0.7v0.7h-0.7zM146.8 224.1h0.7v0.7h-0.7zM158.3 245h0.7v0.7h-0.7zM158.9 234.1h0.7v0.7h-0.7zM152.3 228.5h0.7v0.7h-0.7zM155 233.4h0.7v0.7h-0.7zM155.1 230h0.7v0.7h-0.7zM148.6 226.8h0.7v0.7h-0.7zM156.2 238.9h0.7v0.7h-0.7zM147.3 224h0.7v0.7h-0.7zM154.6 234.2h0.7v0.7h-0.7zM152.9 233.1h0.7v0.7h-0.7zM154.7 228.8h0.7v0.7h-0.7zM160.4 239.5h0.7v0.7h-0.7zM155.2 233.6h0.7v0.7h-0.7zM163 242.4h0.7v0.7h-0.7zM159.1 237.9h0.7v0.7h-0.7zM157.9 233.5h0.7v0.7h-0.7zM154.2 231.9h0.7v0.7h-0.7zM152.9 234.8h0.7v0.7h-0.7zM149.6 226.2h0.7v0.7h-0.7zM154.4 227.7h0.7v0.7h-0.7zM157.2 242.5h0.7v0.7h-0.7zM162.3 253h0.7v0.7h-0.7zM159.7 234.3h0.7v0.7h-0.7zM148.4 228.2h0.7v0.7h-0.7zM167.7 255.8h0.7v0.7h-0.7zM155.3 233.9h0.7v0.7h-0.7zM157 238.1h0.7v0.7h-0.7zM156.8 235.8h0.7v0.7h-0.7zM166.9 254.3h0.7v0.7h-0.7zM158.3 233h0.7v0.7h-0.7zM160.1 242.3h0.7v0.7h-0.7zM164.9 249.2h0.7v0.7h-0.7zM158.3 237.2h0.7v0.7h-0.7zM162.5 246.9h0.7v0.7h-0.7zM158 244.7h0.7v0.7h-0.7zM148.9 227.3h0.7v0.7h-0.7zM166.1 251.6h0.7v0.7h-0.7zM156.2 234.1h0.7v0.7h-0.7z" fill="#ff9896"/>
<path d="M159.3 232.9h0.7v0.7h-0.7zM159.1 235.8h0.7v0.7h-0.7zM168.2 262.4h0.7v0.7h-0.7zM163.6 238.8h0.7v0.7h-0.7zM160.6 244.9h0.7v0.7h-0.7zM145.2 227.2h0.7v0.7h-0.7zM156 242.5h0.7v0.7h-0.7zM162 245.8h0.7v0.7h-0.7zM162.2 237.3h0.7v0.7h-0.7zM147.1 226h0.7v0.7h-0.7zM162.7 260.1h0.7v0.7h-0.7zM150.7 234.7h0.7v0.7h-0.7zM152 229.6h0.7v0.7h-0.7zM156.9 229.1h0.7v0.7h-0.7zM159.6 235.3h0.7v0.7h-0.7zM167.3 259.2h0.7v0.7h-0.7zM154.4 225.8h0.7v0.7h-0.7zM162.9 264.4h0.7v0.7h-0.7zM151.3 235.5h0.7v0.7h-0.7zM158.5 232.3h0.7v0.7h-0.7zM159.7 250.5h0.7v0.7h-0.7zM144.7 226.3h0.7v0.7h-0.7zM151.4 234.2h0.7v0.7h-0.7zM148.9 224.4h0.7v0.7h-0.7zM145.1 231.2h0.7v0.7h-0.7zM158.9 235h0.7v0.7h-0.7zM167.9 253.2h0.7v0.7h-0.7zM167.6 247.2h0.7v0.7h-0.7zM159 229.9h0.7v0.7h-0.7zM148.2 221.8h0.7v0.7h-0.7zM158.8 230.3h0.7v0.7h-0.7zM166.5 256.8h0.7v0.7h-0.7zM171.9 262h0.7v0.7h-0.7zM153.6 240.9h0.7v0.7h-0.7zM160.4 254.7h0.7v0.7h-0.7zM149.8 230.9h0.7v0.7h-0.7zM160.6 229.2h0.7v0.7h-0.7zM157.1 244.1h0.7v0.7h-0.7zM154.6 234.1h0.7v0.7h-0.7zM159.1 242.6h0.7v0.7h-0.7zM145.7 227.8h0.7v0.7h-0.7zM150.1 231.4h0.7v0.7h-0.7zM156.3 232.6h0.7v0.7h-0.7zM151.3 227.7h0.7v0.7h-0.7zM145 224.7h0.7v0.7h-0.7zM165.4 254.9h0.7v0.7h-0.7zM151.7 221.7h0.7v0.7h-0.7zM154.6 237.8h0.7v0.7h-0.7zM165 243.2h0.7v0.7h-0.7zM156.5 229h0.7v0.7h-0.7zM157.4 225.7h0.7v0.7h-0.7zM165.9 238.2h0.7v0.7h-0.7zM167.2 263.5h0.7v0.7h-0.7zM152.3 228.7h0.7v0.7h-0.7zM159.8 232.7h0.7v0.7h-0.7zM165 250.2h0.7v0.7h-0.7zM167.4 260.4h0.7v0.7h-0.7zM149 231.1h0.7v0.7h-0.7zM146.7 219.1h0.7v0.7h-0.7zM161.1 235h0.7v0.7h-0.7zM168.2 251.3h0.7v0.7h-0.7zM163 258.9h0.7v0.7h-0.7zM157.4 230.8h0.7v0.7h-0.7zM156.5 228.3h0.7v0.7h-0.7zM145.4 224.1h0.7v0.7h-0.7zM166.2 263.3h0.7v0.7h-0.7zM167.6 263.7h0.7v0.7h-0.7zM149.7 223.3h0.7v0.7h-0.7zM165.7 261.3h0.7v0.7h-0.7zM146.5 225.6h0.7v0.7h-0.7z" fill="#ff9896"/>
<path d="M150.3 205h0.7v0.7h-0.7zM150.6 210h0.7v0.7h-0.7zM156.4 206.2h0.7v0.7h-0.7zM155.8 215.6h0.7v0.7h-0.7zM150.6 205.8h0.7v0.7h-0.7zM158.1 213.4h0.7v0.7h-0.7zM161.2 207.1h0.7v0.7h-0.7zM152.7 213.2h0.7v0.7h-0.7zM150.6 203.2h0.7v0.7h-0.7zM163.4 212.5h0.7v0.7h-0.7zM153.2 210.8h0.7v0.7h-0.7zM150.5 209.3h0.7v0.7h-0.7zM151.4 208.5h0.7v0.7h-0.7zM155.6 206.9h0.7v0.7h-0.7zM167.1 216.2h0.7v0.7h-0.7zM151.4 214.5h0.7v0.7h-0.7zM151.8 213.3h0.7v0.7h-0.7zM154.4 213.1h0.7v0.7h-0.7zM163.2 209h0.7v0.7h-0.7zM158 215.9h0.7v0.7h-0.7zM162.5 210.8h0.7v0.7h-0.7zM158.9 209.7h0.7v0.7h-0.7zM156.5 213.1h0.7v0.7h-0.7zM152.9 216h0.7v0.7h-0.7zM153.9 206.5h0.7v0.7h-0.7zM156.1 211.3h0.7v0.7h-0.7zM156.8 215.4h0.7v0.7h-0.7zM161.5 210.6h0.7v0.7h-0.7zM155.3 208.4h0.7v0.7h-0.7zM152.4 205.9h0.7v0.7h-0.7zM150.1 205h0.7v0.7h-0.7zM161.4 207.4h0.7v0.7h-0.7zM158.2 212.8h0.7v0.7h-0.7zM151.9 215.1h0.7v0.7h-0.7zM154.4 210.6h0.7v0.7h-0.7zM162.3 209h0.7v0.7h-0.7zM156 213.5h0.7v0.7h-0.7zM154.6 214.8h0.7v0.7h-0.7zM154.8 211.6h0.7v0.7h-0.7zM158.4 210.9h0.7v0.7h-0.7zM164.8 216.4h0.7v0.7h-0.7zM163.6 212.7h0.7v0.7h-0.7zM155.9 208.9h0.7v0.7h-0.7zM157.2 215.7h0.7v0.7h-0.7zM152.9 203.9h0.7v0.7h-0.7zM154.1 215.4h0.7v0.7h-0.7zM163 212.2h0.7v0.7h-0.7zM157.7 208.1h0.7v0.7h-0.7zM155.9 206.1h0.7v0.7h-0.7zM159.5 216h0.7v0.7h-0.7zM150.3 208.6h0.7v0.7h-0.7zM149.3 206h0.7v0.7h-0.7zM151.2 206.8h0.7v0.7h-0.7zM157 212.6h0.7v0.7h-0.7zM157.9 214.1h0.7v0.7h-0.7zM155.2 211.8h0.7v0.7h-0.7zM152.1 203.6h0.7v0.7h-0.7zM164.6 210.7h0.7v0.7h-0.7zM155.4 212.7h0.7v0.7h-0.7zM153.5 208.6h0.7v0.7h-0.7zM151 209.4h0.7v0.7h-0.7zM154.4 211.3h0.7v0.7h-0.7zM165.5 214.8h0.7v0.7h-0.7zM161.2 211.8h0.7v0.7h-0.7zM165.6 210.4h0.7v0.7h-0.7zM148.7 207.8h0.7v0.7h-0.7zM150.5 207.7h0.7v0.7h-0.7zM153 212.9h0.7v0.7h-0.7zM156.2 204.8h0.7v0.7h-0.7zM149.6 205.4h0.7v0.7h-0.7z" fill="#d62728"/>
<path d="M159 208.2h0.7v0.7h-0.7zM158.2 208.2h0.7v0.7h-0.7zM150.1 209.7h0.7v0.7h-0.7zM152.5 208.2h0.7v0.7h-0.7zM160.2 209.3h0.7v0.7h-0.7zM162.6 209.7h0.7v0.7h-0.7zM151.4 209.5h0.7v0.7h-0.7zM156.2 214.9h0.7v0.7h-0.7zM159.3 205.9h0.7v0.7h-0.7zM161.5 207.5h0.7v0.7h-0.7zM158.2 206.3h0.7v0.7h-0.7zM156.2 214.8h0.7v0.7h-0.7zM158.3 214.3h0.7v0.7h-0.7zM163.1 211.8h0.7v0.7h-0.7zM160.9 209h0.7v0.7h-0.7zM160.4 214.7h0.7v0.7h-0.7zM155.3 205.1h0.7v0.7h-0.7zM151 208.1h0.7v0.7h-0.7zM149.4 209h0.7v0.7h-0.7zM156.3 212.8h0.7v0.7h-0.7zM157.3 217h0.7v0.7h-0.7zM161.2 207.8h0.7v0.7h-0.7zM165.5 213.5h0.7v0.7h-0.7zM167.2 216h0.7v0.7h-0.7zM162.5 214.4h0.7v0.7h-0.7zM160.6 216.2h0.7v0.7h-0.7zM157 206.5h0.7v0.7h-0.7zM150.3 205.5h0.7v0.7h-0.7zM160.7 216.1h0.7v0.7h-0.7zM152.9 208h0.7v0.7h-0.7zM165.6 214.4h0.7v0.7h-0.7zM160.4 214.9h0.7v0.7h-0.7zM159.5 207.7h0.7v0.7h-0.7zM161.7 214.8h0.7v0.7h-0.7zM149.1 207.8h0.7v0.7h-0.7zM153.9 216.3h0.7v0.7h-0.7zM153.8 213.1h0.7v0.7h-0.7zM156.7 208.7h0.7v0.7h-0.7zM158 216.4h0.7v0.7h-0.7zM161.2 208.8h0.7v0.7h-0.7z" fill="#ff9896"/>
<use href="#u_ast" fill="#d62728"/>
<path d="M138.8 222.7h0.7v0.7h-0.7zM149.4 218.8h0.7v0.7h-0.7zM154.3 194.2h0.7v0.7h-0.7zM152 191.3h0.7v0.7h-0.7zM135.3 188.3h0.7v0.7h-0.7zM148.9 222.9h0.7v0.7h-0.7zM145.7 187.7h0.7v0.7h-0.7zM133.9 218.8h0.7v0.7h-0.7zM134.5 186.3h0.7v0.7h-0.7zM156.3 204.8h0.7v0.7h-0.7zM126.3 200.3h0.7v0.7h-0.7zM125.1 198.4h0.7v0.7h-0.7zM134.1 219h0.7v0.7h-0.7zM138.9 187.3h0.7v0.7h-0.7zM137.1 221.8h0.7v0.7h-0.7zM153.4 214h0.7v0.7h-0.7zM150.8 217h0.7v0.7h-0.7zM127 206.8h0.7v0.7h-0.7zM126.6 190.1h0.7v0.7h-0.7zM136 222.2h0.7v0.7h-0.7zM152.3 193.9h0.7v0.7h-0.7zM153.1 212.7h0.7v0.7h-0.7zM128.9 189.8h0.7v0.7h-0.7zM132.2 218.5h0.7v0.7h-0.7zM151.8 216.1h0.7v0.7h-0.7zM155.4 209.9h0.7v0.7h-0.7zM142.7 188.8h0.7v0.7h-0.7zM134.9 186.3h0.7v0.7h-0.7zM139.1 223.8h0.7v0.7h-0.7zM143.9 225.6h0.7v0.7h-0.7zM142.9 224.5h0.7v0.7h-0.7zM146.9 221.4h0.7v0.7h-0.7zM147.1 188.2h0.7v0.7h-0.7zM129.6 216.1h0.7v0.7h-0.7zM144.4 187.7h0.7v0.7h-0.7zM138.4 188.6h0.7v0.7h-0.7zM153.5 189.8h0.7v0.7h-0.7zM124.1 196.1h0.7v0.7h-0.7zM152.7 193.2h0.7v0.7h-0.7zM154.3 213.9h0.7v0.7h-0.7zM139 188.2h0.7v0.7h-0.7zM152.2 216.5h0.7v0.7h-0.7zM152.5 212.5h0.7v0.7h-0.7zM154.8 203h0.7v0.7h-0.7zM126.1 196.1h0.7v0.7h-0.7zM151.1 218.9h0.7v0.7h-0.7zM155.8 202.4h0.7v0.7h-0.7zM146.5 225.3h0.7v0.7h-0.7zM154 192h0.7v0.7h-0.7zM125.7 196.3h0.7v0.7h-0.7zM149.6 220.3h0.7v0.7h-0.7zM126 206.2h0.7v0.7h-0.7zM137.6 223h0.7v0.7h-0.7zM134.2 219.2h0.7v0.7h-0.7zM140.1 188.8h0.7v0.7h-0.7zM155.8 210.5h0.7v0.7h-0.7zM149.7 220.3h0.7v0.7h-0.7zM128.7 215.2h0.7v0.7h-0.7zM156.4 199.6h0.7v0.7h-0.7zM154.2 211.5h0.7v0.7h-0.7zM128.6 215.5h0.7v0.7h-0.7zM131.5 189h0.7v0.7h-0.7zM153.3 214h0.7v0.7h-0.7zM152 218.5h0.7v0.7h-0.7z" fill="#d62728"/>
<path d="M152.1 215h0.5v0.5h-0.5zM151.5 202.1h0.5v0.5h-0.5zM150.8 208.1h0.5v0.5h-0.5zM149.4 215.6h0.5v0.5h-0.5zM135.8 213.3h0.5v0.5h-0.5zM145.5 220.1h0.5v0.5h-0.5zM134.8 189.2h0.5v0.5h-0.5zM148.9 209.2h0.5v0.5h-0.5z" fill="#ffffff"/>
<use href="#u_opc" fill="#aec7e8"/>
<path d="M175.8 205.2h0.7v0.7h-0.7zM176.4 207.9h0.7v0.7h-0.7zM177.3 205.8h0.7v0.7h-0.7zM187.4 209.5h0.7v0.7h-0.7zM183.3 207.1h0.7v0.7h-0.7zM186.1 230.5h0.7v0.7h-0.7zM175.9 207.1h0.7v0.7h-0.7zM170 226.7h0.7v0.7h-0.7zM182.4 203.8h0.7v0.7h-0.7zM184.1 206h0.7v0.7h-0.7zM193.4 216.9h0.7v0.7h-0.7zM186.9 206h0.7v0.7h-0.7zM176.5 211.4h0.7v0.7h-0.7zM178.1 198.5h0.7v0.7h-0.7zM186.4 205.6h0.7v0.7h-0.7zM186.8 230.7h0.7v0.7h-0.7zM175.6 230.2h0.7v0.7h-0.7zM177 203.4h0.7v0.7h-0.7zM177.2 198h0.7v0.7h-0.7zM184.5 205h0.7v0.7h-0.7zM188.8 229.1h0.7v0.7h-0.7zM185.3 205.6h0.7v0.7h-0.7zM167.4 227.6h0.7v0.7h-0.7zM175.1 202h0.7v0.7h-0.7zM180.3 202h0.7v0.7h-0.7zM185.3 230.2h0.7v0.7h-0.7zM170 219h0.7v0.7h-0.7zM182.5 203.6h0.7v0.7h-0.7zM180.5 201.9h0.7v0.7h-0.7zM180.9 230.3h0.7v0.7h-0.7zM166.4 225.2h0.7v0.7h-0.7zM193.7 220.6h0.7v0.7h-0.7zM190.7 227.3h0.7v0.7h-0.7zM192.6 213.5h0.7v0.7h-0.7zM176.1 207.6h0.7v0.7h-0.7zM178.6 199.5h0.7v0.7h-0.7zM190.9 226.5h0.7v0.7h-0.7zM192.9 219.2h0.7v0.7h-0.7zM167.2 225h0.7v0.7h-0.7zM175.2 210.8h0.7v0.7h-0.7zM190.8 226.5h0.7v0.7h-0.7zM183.4 204.7h0.7v0.7h-0.7zM175.9 204.4h0.7v0.7h-0.7zM173.9 204.3h0.7v0.7h-0.7zM168 221.8h0.7v0.7h-0.7zM177.7 213.2h0.7v0.7h-0.7zM179.7 200.2h0.7v0.7h-0.7zM188.8 227.4h0.7v0.7h-0.7zM191.8 224.6h0.7v0.7h-0.7zM168.3 225.4h0.7v0.7h-0.7zM175.8 211.2h0.7v0.7h-0.7zM173.3 214.9h0.7v0.7h-0.7zM176.3 211.2h0.7v0.7h-0.7zM194.3 218.3h0.7v0.7h-0.7zM192.3 211h0.7v0.7h-0.7zM183.4 204.3h0.7v0.7h-0.7zM185.6 206.3h0.7v0.7h-0.7zM172.6 216.8h0.7v0.7h-0.7zM192.6 224h0.7v0.7h-0.7zM178.8 231.1h0.7v0.7h-0.7z" fill="#aec7e8"/>
<path d="M175 216.8h0.5v0.5h-0.5zM173.8 224.3h0.5v0.5h-0.5zM179.3 208.8h0.5v0.5h-0.5zM191.2 223.8h0.5v0.5h-0.5zM190.1 219.6h0.5v0.5h-0.5zM173.1 223.8h0.5v0.5h-0.5zM183.8 219.9h0.5v0.5h-0.5zM180.6 216.1h0.5v0.5h-0.5z" fill="#ffffff"/>
<use href="#u_cbex_blue" fill="#1f77b4"/>
<path d="M43.3 232.5h0.7v0.7h-0.7zM74.5 245.1h0.7v0.7h-0.7zM43 253.3h0.7v0.7h-0.7zM52.9 232.6h0.7v0.7h-0.7zM70.1 254.9h0.7v0.7h-0.7zM51.6 232.8h0.7v0.7h-0.7zM26.6 239.9h0.7v0.7h-0.7zM66.4 256.2h0.7v0.7h-0.7zM75.5 247.2h0.7v0.7h-0.7zM68.2 235.2h0.7v0.7h-0.7zM40.1 234.2h0.7v0.7h-0.7zM70.6 252.1h0.7v0.7h-0.7zM48.1 233.7h0.7v0.7h-0.7zM52 232h0.7v0.7h-0.7zM28.9 244h0.7v0.7h-0.7zM47.8 254.1h0.7v0.7h-0.7zM37.3 235h0.7v0.7h-0.7zM49.6 232.1h0.7v0.7h-0.7zM70.7 237.1h0.7v0.7h-0.7zM69.9 234.9h0.7v0.7h-0.7zM30.2 240.3h0.7v0.7h-0.7zM25.8 242.3h0.7v0.7h-0.7zM71.3 250.5h0.7v0.7h-0.7zM65.1 255.2h0.7v0.7h-0.7zM46 234.1h0.7v0.7h-0.7zM30.5 249.2h0.7v0.7h-0.7zM60.5 232.6h0.7v0.7h-0.7zM43.5 252.3h0.7v0.7h-0.7zM57.3 255.2h0.7v0.7h-0.7zM26 247.5h0.7v0.7h-0.7zM26.4 244.8h0.7v0.7h-0.7zM73.5 245.4h0.7v0.7h-0.7zM36.6 251.1h0.7v0.7h-0.7zM44.5 252.4h0.7v0.7h-0.7zM41.5 252.5h0.7v0.7h-0.7zM57.8 232.3h0.7v0.7h-0.7zM32.1 238.4h0.7v0.7h-0.7zM27.2 242.3h0.7v0.7h-0.7zM55 232.1h0.7v0.7h-0.7zM53.6 256h0.7v0.7h-0.7zM41.2 250.5h0.7v0.7h-0.7zM66.1 255.8h0.7v0.7h-0.7zM39 252.9h0.7v0.7h-0.7zM56.7 232h0.7v0.7h-0.7zM58.1 256.8h0.7v0.7h-0.7zM66.8 253.5h0.7v0.7h-0.7zM68.7 255h0.7v0.7h-0.7zM28.6 245.8h0.7v0.7h-0.7zM36.1 235.9h0.7v0.7h-0.7zM74.5 241.3h0.7v0.7h-0.7zM62.2 258.2h0.7v0.7h-0.7zM61.6 232.8h0.7v0.7h-0.7zM44.3 234.4h0.7v0.7h-0.7zM54.8 256.3h0.7v0.7h-0.7zM56.1 255.2h0.7v0.7h-0.7zM47 254h0.7v0.7h-0.7zM32.5 236.4h0.7v0.7h-0.7zM54.9 257.7h0.7v0.7h-0.7zM61.9 232.8h0.7v0.7h-0.7zM61.1 232h0.7v0.7h-0.7z" fill="#1f77b4"/>
<path d="M50.2 246.3h0.5v0.5h-0.5zM65.2 240.2h0.5v0.5h-0.5zM41.9 249.7h0.5v0.5h-0.5zM49.8 241.2h0.5v0.5h-0.5zM45.9 240.4h0.5v0.5h-0.5zM34.6 248.2h0.5v0.5h-0.5zM69.2 249.6h0.5v0.5h-0.5zM56.9 240.6h0.5v0.5h-0.5z" fill="#ffffff"/>
<use href="#u_cbex_pink" fill="#e377c2"/>
<path d="M29.8 253.6h0.7v0.7h-0.7zM29 249.4h0.7v0.7h-0.7zM45.5 285.7h0.7v0.7h-0.7zM54.8 256.5h0.7v0.7h-0.7zM52.4 286.2h0.7v0.7h-0.7zM31.6 256.6h0.7v0.7h-0.7zM33.5 260.6h0.7v0.7h-0.7zM50.1 254.5h0.7v0.7h-0.7zM31.2 253.2h0.7v0.7h-0.7zM54.3 284.5h0.7v0.7h-0.7zM57.8 256.9h0.7v0.7h-0.7zM40 271.2h0.7v0.7h-0.7zM44.7 253h0.7v0.7h-0.7zM49.9 255.7h0.7v0.7h-0.7zM33 250h0.7v0.7h-0.7zM57.1 282.1h0.7v0.7h-0.7zM31.8 258.4h0.7v0.7h-0.7zM52.9 288h0.7v0.7h-0.7zM55.3 284.3h0.7v0.7h-0.7zM60.3 284.2h0.7v0.7h-0.7zM61.5 263.8h0.7v0.7h-0.7zM32.4 256h0.7v0.7h-0.7zM63.1 269.6h0.7v0.7h-0.7zM46.5 254.7h0.7v0.7h-0.7zM61.9 260.8h0.7v0.7h-0.7zM31 250.4h0.7v0.7h-0.7zM47.3 285.8h0.7v0.7h-0.7zM32.7 252.4h0.7v0.7h-0.7zM30.2 257.6h0.7v0.7h-0.7zM57.6 279.2h0.7v0.7h-0.7zM28.9 248.8h0.7v0.7h-0.7zM41.2 276.3h0.7v0.7h-0.7zM39.1 270.1h0.7v0.7h-0.7zM31.6 255.1h0.7v0.7h-0.7zM47.6 286h0.7v0.7h-0.7zM43.1 280.8h0.7v0.7h-0.7zM33.9 250.8h0.7v0.7h-0.7zM41.5 254.2h0.7v0.7h-0.7zM35.1 263.3h0.7v0.7h-0.7zM38.5 253h0.7v0.7h-0.7zM62.1 260.1h0.7v0.7h-0.7zM37.2 266.2h0.7v0.7h-0.7zM36.2 264.6h0.7v0.7h-0.7zM58 279.4h0.7v0.7h-0.7zM41.6 278h0.7v0.7h-0.7zM53.9 256.9h0.7v0.7h-0.7zM46.4 284.5h0.7v0.7h-0.7zM48 284.9h0.7v0.7h-0.7zM51.9 287.1h0.7v0.7h-0.7zM31.8 250.3h0.7v0.7h-0.7zM49.8 285.5h0.7v0.7h-0.7zM53.7 256.6h0.7v0.7h-0.7zM63.4 260.6h0.7v0.7h-0.7zM28.8 250.2h0.7v0.7h-0.7zM48.4 253.3h0.7v0.7h-0.7zM54.8 285.8h0.7v0.7h-0.7z" fill="#e377c2"/>
<path d="M61.3 257.8h0.5v0.5h-0.5zM40.7 268.1h0.5v0.5h-0.5zM46.2 278.3h0.5v0.5h-0.5zM40.3 271.2h0.5v0.5h-0.5zM34.2 256.9h0.5v0.5h-0.5zM47.7 272.2h0.5v0.5h-0.5zM60.1 260.4h0.5v0.5h-0.5zM40.3 266.4h0.5v0.5h-0.5z" fill="#ffffff"/>
<use href="#u_mol_brown" fill="#8c564b"/>
<path d="M109 276.5h0.7v0.7h-0.7zM111 261.4h0.7v0.7h-0.7zM152.2 261.6h0.7v0.7h-0.7zM153.8 254.3h0.7v0.7h-0.7zM107 267.5h0.7v0.7h-0.7zM149.6 251.6h0.7v0.7h-0.7zM145 248.9h0.7v0.7h-0.7zM144.4 263.9h0.7v0.7h-0.7zM102.7 273.8h0.7v0.7h-0.7zM143.6 248.2h0.7v0.7h-0.7zM139.5 250.1h0.7v0.7h-0.7zM131.8 275.9h0.7v0.7h-0.7zM139.9 269.9h0.7v0.7h-0.7zM139.7 248.3h0.7v0.7h-0.7zM115.7 260.3h0.7v0.7h-0.7zM133.2 252.2h0.7v0.7h-0.7zM139.7 248.7h0.7v0.7h-0.7zM137.8 249.3h0.7v0.7h-0.7zM134.2 255.4h0.7v0.7h-0.7zM134.1 274.9h0.7v0.7h-0.7zM151.2 261.7h0.7v0.7h-0.7zM106.3 277.5h0.7v0.7h-0.7zM108.8 264.2h0.7v0.7h-0.7zM120.8 278.3h0.7v0.7h-0.7zM123.4 280.1h0.7v0.7h-0.7zM103.4 269.5h0.7v0.7h-0.7zM103.2 272.6h0.7v0.7h-0.7zM110.4 262.6h0.7v0.7h-0.7zM106.9 276.2h0.7v0.7h-0.7zM113.7 260.7h0.7v0.7h-0.7zM150.6 261.5h0.7v0.7h-0.7zM151.9 251.2h0.7v0.7h-0.7zM142.8 246.7h0.7v0.7h-0.7zM110.1 278.3h0.7v0.7h-0.7zM135.6 273h0.7v0.7h-0.7zM130.7 257h0.7v0.7h-0.7zM125.5 279.7h0.7v0.7h-0.7zM120.4 281.3h0.7v0.7h-0.7zM138.8 247.4h0.7v0.7h-0.7zM132.3 255.2h0.7v0.7h-0.7zM147.7 263.3h0.7v0.7h-0.7zM147.5 263.5h0.7v0.7h-0.7zM133.5 276.5h0.7v0.7h-0.7zM126 281.9h0.7v0.7h-0.7zM126.5 256.8h0.7v0.7h-0.7zM153.9 253.8h0.7v0.7h-0.7zM133.1 275h0.7v0.7h-0.7zM149.8 261.5h0.7v0.7h-0.7zM137.2 250.8h0.7v0.7h-0.7zM113.6 278.7h0.7v0.7h-0.7zM125.4 279.4h0.7v0.7h-0.7zM136 252.3h0.7v0.7h-0.7zM138.2 250.4h0.7v0.7h-0.7zM145.7 250.4h0.7v0.7h-0.7zM155.4 256.5h0.7v0.7h-0.7zM135.5 253h0.7v0.7h-0.7zM134.2 253.1h0.7v0.7h-0.7zM114.6 260.5h0.7v0.7h-0.7zM146.2 264.3h0.7v0.7h-0.7zM133.5 253.8h0.7v0.7h-0.7zM103.3 270.9h0.7v0.7h-0.7zM121.9 281.3h0.7v0.7h-0.7zM119.5 258h0.7v0.7h-0.7zM129.3 278.6h0.7v0.7h-0.7z" fill="#8c564b"/>
<path d="M107.8 272.2h0.5v0.5h-0.5zM107.1 268.2h0.5v0.5h-0.5zM115.1 275.4h0.5v0.5h-0.5zM149.7 258.3h0.5v0.5h-0.5zM117.8 269.7h0.5v0.5h-0.5zM115.3 267.7h0.5v0.5h-0.5zM126 268.6h0.5v0.5h-0.5zM121.4 258.4h0.5v0.5h-0.5z" fill="#ffffff"/>
<use href="#u_mol_green" fill="#279e68"/>
<path d="M105.7 305h0.7v0.7h-0.7zM100 274.7h0.7v0.7h-0.7zM110.3 275.7h0.7v0.7h-0.7zM105.8 304.5h0.7v0.7h-0.7zM139.6 300.2h0.7v0.7h-0.7zM110.7 277.9h0.7v0.7h-0.7zM101.9 303.5h0.7v0.7h-0.7zM98.1 279.7h0.7v0.7h-0.7zM94 293.7h0.7v0.7h-0.7zM136.3 286.1h0.7v0.7h-0.7zM94.7 286.1h0.7v0.7h-0.7zM94.4 286.4h0.7v0.7h-0.7zM111.4 307.1h0.7v0.7h-0.7zM99.6 273.6h0.7v0.7h-0.7zM102.6 302.8h0.7v0.7h-0.7zM133 307.7h0.7v0.7h-0.7zM133 303.7h0.7v0.7h-0.7zM111.7 279h0.7v0.7h-0.7zM99.2 301h0.7v0.7h-0.7zM115.1 311.7h0.7v0.7h-0.7zM111.7 310.8h0.7v0.7h-0.7zM138.3 298.3h0.7v0.7h-0.7zM130.8 284.5h0.7v0.7h-0.7zM139 301h0.7v0.7h-0.7zM140.9 293.9h0.7v0.7h-0.7zM136.5 287.3h0.7v0.7h-0.7zM105.8 271.9h0.7v0.7h-0.7zM94.2 296.4h0.7v0.7h-0.7zM139.5 299.1h0.7v0.7h-0.7zM136.6 287h0.7v0.7h-0.7zM94.9 283.5h0.7v0.7h-0.7zM101.7 273.6h0.7v0.7h-0.7zM106.5 307.7h0.7v0.7h-0.7zM94.4 285.8h0.7v0.7h-0.7zM99.7 302.8h0.7v0.7h-0.7zM141 297.2h0.7v0.7h-0.7zM108.1 272.7h0.7v0.7h-0.7zM129.3 309.1h0.7v0.7h-0.7zM137.5 302.8h0.7v0.7h-0.7zM96.1 296.1h0.7v0.7h-0.7zM125.1 309.8h0.7v0.7h-0.7zM94.7 284.3h0.7v0.7h-0.7zM122.2 281.6h0.7v0.7h-0.7zM109.2 274.2h0.7v0.7h-0.7zM106.3 307.5h0.7v0.7h-0.7zM136.1 302.6h0.7v0.7h-0.7zM100 273h0.7v0.7h-0.7zM140.2 290h0.7v0.7h-0.7zM115.5 279h0.7v0.7h-0.7zM93.2 290.6h0.7v0.7h-0.7zM129.6 284.8h0.7v0.7h-0.7zM118.8 310.2h0.7v0.7h-0.7zM133.4 284.5h0.7v0.7h-0.7zM97.5 275.2h0.7v0.7h-0.7zM140.1 288.1h0.7v0.7h-0.7zM118.5 280.1h0.7v0.7h-0.7zM94.8 295.5h0.7v0.7h-0.7zM127.7 284h0.7v0.7h-0.7zM101.7 303.3h0.7v0.7h-0.7zM129.7 282.4h0.7v0.7h-0.7z" fill="#279e68"/>
<path d="M115.4 296.2h0.5v0.5h-0.5zM112 307.4h0.5v0.5h-0.5zM126.1 302.9h0.5v0.5h-0.5zM131.5 297h0.5v0.5h-0.5zM113.7 299.7h0.5v0.5h-0.5zM96.9 298.1h0.5v0.5h-0.5zM129.2 287.1h0.5v0.5h-0.5zM103 300.5h0.5v0.5h-0.5z" fill="#ffffff"/>
<use href="#u_mol_orange" fill="#ff7f0e"/>
<path d="M149.3 304.7h0.7v0.7h-0.7zM162.4 282.3h0.7v0.7h-0.7zM163.9 259.6h0.7v0.7h-0.7zM155.1 297.9h0.7v0.7h-0.7zM166.5 268.4h0.7v0.7h-0.7zM127.1 311.7h0.7v0.7h-0.7zM137.9 281.7h0.7v0.7h-0.7zM135.6 312.9h0.7v0.7h-0.7zM124.5 308.5h0.7v0.7h-0.7zM142.6 309.1h0.7v0.7h-0.7zM136.2 311.5h0.7v0.7h-0.7zM127.6 314.3h0.7v0.7h-0.7zM163.7 261.1h0.7v0.7h-0.7zM160.2 284.9h0.7v0.7h-0.7zM138.1 310.1h0.7v0.7h-0.7zM133.1 312.5h0.7v0.7h-0.7zM159.2 294.5h0.7v0.7h-0.7zM136.6 281.9h0.7v0.7h-0.7zM132.6 313h0.7v0.7h-0.7zM151.8 303.2h0.7v0.7h-0.7zM168 263.4h0.7v0.7h-0.7zM135 292.6h0.7v0.7h-0.7zM149.4 264.4h0.7v0.7h-0.7zM116.4 312.3h0.7v0.7h-0.7zM136.2 311.7h0.7v0.7h-0.7zM135.2 310h0.7v0.7h-0.7zM151.3 303.5h0.7v0.7h-0.7zM133.5 292.9h0.7v0.7h-0.7zM130.4 298.7h0.7v0.7h-0.7zM162.5 285.9h0.7v0.7h-0.7zM160.8 291.5h0.7v0.7h-0.7zM117.9 311.5h0.7v0.7h-0.7zM163.5 274.4h0.7v0.7h-0.7zM148.2 265h0.7v0.7h-0.7zM144.5 307.9h0.7v0.7h-0.7zM163.3 274.3h0.7v0.7h-0.7zM167.5 264.5h0.7v0.7h-0.7zM159.7 283.1h0.7v0.7h-0.7zM143.8 271.8h0.7v0.7h-0.7zM145.4 269.3h0.7v0.7h-0.7zM136.7 286.6h0.7v0.7h-0.7zM129.8 302.6h0.7v0.7h-0.7zM158.2 294.5h0.7v0.7h-0.7zM159.2 292.2h0.7v0.7h-0.7zM139 310.1h0.7v0.7h-0.7zM158 292.3h0.7v0.7h-0.7zM152 301.9h0.7v0.7h-0.7zM130 313h0.7v0.7h-0.7zM156.1 298.2h0.7v0.7h-0.7zM136 289h0.7v0.7h-0.7zM165.1 260.8h0.7v0.7h-0.7zM115.3 311.9h0.7v0.7h-0.7zM141.6 272.2h0.7v0.7h-0.7zM143.2 272.8h0.7v0.7h-0.7zM153.5 261.4h0.7v0.7h-0.7zM140.2 277.2h0.7v0.7h-0.7zM141.2 275h0.7v0.7h-0.7zM131.6 297.8h0.7v0.7h-0.7zM165.8 260.9h0.7v0.7h-0.7zM169.9 263.5h0.7v0.7h-0.7zM161.6 278.2h0.7v0.7h-0.7zM160.2 291.2h0.7v0.7h-0.7zM146.1 306.6h0.7v0.7h-0.7zM153.8 262.6h0.7v0.7h-0.7zM121.6 313.4h0.7v0.7h-0.7zM129.1 313.2h0.7v0.7h-0.7zM120.8 309.3h0.7v0.7h-0.7zM162.6 277.4h0.7v0.7h-0.7zM161.1 280.2h0.7v0.7h-0.7zM157.2 260.7h0.7v0.7h-0.7zM135.2 311.6h0.7v0.7h-0.7zM145.7 270.2h0.7v0.7h-0.7zM161.3 259.6h0.7v0.7h-0.7zM133.3 295.9h0.7v0.7h-0.7zM138.3 280.1h0.7v0.7h-0.7zM165.9 260.4h0.7v0.7h-0.7zM132.9 311.7h0.7v0.7h-0.7zM167.6 268.4h0.7v0.7h-0.7zM137.4 287.1h0.7v0.7h-0.7zM158.7 260.4h0.7v0.7h-0.7z" fill="#ff7f0e"/>
<path d="M160.6 283.2h0.5v0.5h-0.5zM143.8 289.1h0.5v0.5h-0.5zM163.6 262.6h0.5v0.5h-0.5zM145.5 273.2h0.5v0.5h-0.5zM150.6 293.1h0.5v0.5h-0.5zM143.8 306.2h0.5v0.5h-0.5zM146.4 278.9h0.5v0.5h-0.5zM128 309.7h0.5v0.5h-0.5z" fill="#ffffff"/>
<use href="#u_mol_mix" fill="#8c564b"/>
<path d="M127.5 275.2h0.7v0.7h-0.7zM129.1 274.2h0.7v0.7h-0.7zM128.9 280.2h0.7v0.7h-0.7zM124.5 279.6h0.7v0.7h-0.7zM126.7 265.5h0.7v0.7h-0.7zM138.6 270.3h0.7v0.7h-0.7zM140.4 280.5h0.7v0.7h-0.7zM117.8 274.5h0.7v0.7h-0.7zM135.2 269.9h0.7v0.7h-0.7zM123.5 270.3h0.7v0.7h-0.7zM127.1 273.6h0.7v0.7h-0.7zM135.6 288.5h0.7v0.7h-0.7zM125.5 262.8h0.7v0.7h-0.7zM139.9 276.4h0.7v0.7h-0.7zM123.8 265.9h0.7v0.7h-0.7zM125.8 274.6h0.7v0.7h-0.7zM141.4 275.5h0.7v0.7h-0.7zM140.1 274.4h0.7v0.7h-0.7zM134.8 275.7h0.7v0.7h-0.7zM123.7 273.1h0.7v0.7h-0.7zM127.7 276.9h0.7v0.7h-0.7zM136.1 272.9h0.7v0.7h-0.7zM126.3 276.1h0.7v0.7h-0.7zM136 284.8h0.7v0.7h-0.7zM123.6 264.4h0.7v0.7h-0.7zM119.7 265h0.7v0.7h-0.7zM139.2 265.9h0.7v0.7h-0.7zM135.5 268.8h0.7v0.7h-0.7zM132.2 287.7h0.7v0.7h-0.7zM120 265.7h0.7v0.7h-0.7zM128.3 262.6h0.7v0.7h-0.7zM130.5 282.3h0.7v0.7h-0.7zM130.4 262.6h0.7v0.7h-0.7zM117.9 267.1h0.7v0.7h-0.7zM131.6 264.4h0.7v0.7h-0.7zM123.3 273.4h0.7v0.7h-0.7zM120.1 264.8h0.7v0.7h-0.7zM129.6 285.5h0.7v0.7h-0.7zM142.4 273.8h0.7v0.7h-0.7zM123.5 266.8h0.7v0.7h-0.7zM136.4 285h0.7v0.7h-0.7zM142 267.4h0.7v0.7h-0.7zM129.4 262.1h0.7v0.7h-0.7zM125.8 269.9h0.7v0.7h-0.7zM120.6 263.7h0.7v0.7h-0.7zM131.5 276.7h0.7v0.7h-0.7zM130.7 278.3h0.7v0.7h-0.7zM131.6 275.5h0.7v0.7h-0.7zM136.4 282.1h0.7v0.7h-0.7zM126.1 274.7h0.7v0.7h-0.7zM118.5 271h0.7v0.7h-0.7zM128.7 272.6h0.7v0.7h-0.7zM123.5 274.4h0.7v0.7h-0.7zM137.8 279.5h0.7v0.7h-0.7zM123.4 272.8h0.7v0.7h-0.7zM135.1 263.1h0.7v0.7h-0.7zM135.1 265.7h0.7v0.7h-0.7zM123.5 275.9h0.7v0.7h-0.7zM136.2 279.7h0.7v0.7h-0.7zM131.9 279h0.7v0.7h-0.7zM140.1 276.1h0.7v0.7h-0.7zM123.3 278h0.7v0.7h-0.7zM127.1 281.9h0.7v0.7h-0.7zM120.2 262.1h0.7v0.7h-0.7zM144.6 265.9h0.7v0.7h-0.7zM122.4 279h0.7v0.7h-0.7zM139 264.8h0.7v0.7h-0.7zM144.5 268.1h0.7v0.7h-0.7zM122.9 273.9h0.7v0.7h-0.7zM122.3 264.1h0.7v0.7h-0.7zM119.3 262.4h0.7v0.7h-0.7zM129.1 283h0.7v0.7h-0.7zM128.9 265h0.7v0.7h-0.7zM128.1 267h0.7v0.7h-0.7zM138.5 272.2h0.7v0.7h-0.7zM128.9 283.8h0.7v0.7h-0.7zM134.2 273.3h0.7v0.7h-0.7zM138.2 277.3h0.7v0.7h-0.7zM127.1 280.1h0.7v0.7h-0.7zM121.8 263.1h0.7v0.7h-0.7zM118.2 272.9h0.7v0.7h-0.7zM141.6 274.3h0.7v0.7h-0.7zM144 265.6h0.7v0.7h-0.7zM145 266.3h0.7v0.7h-0.7zM142.6 267.1h0.7v0.7h-0.7zM133.9 279h0.7v0.7h-0.7zM126.1 279h0.7v0.7h-0.7zM134 270.1h0.7v0.7h-0.7zM121.3 273.7h0.7v0.7h-0.7zM125.2 278.9h0.7v0.7h-0.7zM128.8 263.8h0.7v0.7h-0.7zM134.9 270h0.7v0.7h-0.7zM129.9 282.2h0.7v0.7h-0.7zM142.9 268.9h0.7v0.7h-0.7zM125.9 280h0.7v0.7h-0.7zM142.8 273h0.7v0.7h-0.7zM141.2 267.7h0.7v0.7h-0.7zM119.4 273.4h0.7v0.7h-0.7zM139.3 282.7h0.7v0.7h-0.7zM126.2 266.3h0.7v0.7h-0.7zM129.1 269.8h0.7v0.7h-0.7zM138.8 266h0.7v0.7h-0.7zM118.1 263.9h0.7v0.7h-0.7zM124.8 264.5h0.7v0.7h-0.7zM131.4 271.7h0.7v0.7h-0.7zM124.4 273.5h0.7v0.7h-0.7zM120.4 273.5h0.7v0.7h-0.7zM134.7 270.2h0.7v0.7h-0.7zM123.5 266.7h0.7v0.7h-0.7zM135.7 283.3h0.7v0.7h-0.7zM135.4 264.1h0.7v0.7h-0.7zM126.8 283.8h0.7v0.7h-0.7zM139.9 272.8h0.7v0.7h-0.7zM126.7 274.6h0.7v0.7h-0.7zM132.6 262h0.7v0.7h-0.7zM128.8 273.2h0.7v0.7h-0.7zM134.1 276.6h0.7v0.7h-0.7zM137.2 276.7h0.7v0.7h-0.7zM124.6 271.8h0.7v0.7h-0.7zM126.1 273.5h0.7v0.7h-0.7z" fill="#b5bd61"/>
<path d="M132.1 284.5h0.7v0.7h-0.7zM144.9 269.8h0.7v0.7h-0.7zM139.2 281.6h0.7v0.7h-0.7zM136.2 264.6h0.7v0.7h-0.7zM117.8 272.4h0.7v0.7h-0.7zM138.6 268.7h0.7v0.7h-0.7zM131.5 270.5h0.7v0.7h-0.7zM142.4 265.8h0.7v0.7h-0.7zM137.5 277.4h0.7v0.7h-0.7zM144.7 267.5h0.7v0.7h-0.7zM132.7 286.6h0.7v0.7h-0.7zM135.5 270.3h0.7v0.7h-0.7zM117.5 272.1h0.7v0.7h-0.7zM127.9 283.6h0.7v0.7h-0.7zM142.2 268.3h0.7v0.7h-0.7zM132.3 271.8h0.7v0.7h-0.7zM122.6 278.7h0.7v0.7h-0.7zM133.1 277.3h0.7v0.7h-0.7zM143.6 270.6h0.7v0.7h-0.7zM133.8 269.3h0.7v0.7h-0.7zM127.1 274.8h0.7v0.7h-0.7zM124.9 279.5h0.7v0.7h-0.7zM138.1 270.3h0.7v0.7h-0.7zM133.4 281.1h0.7v0.7h-0.7zM128.7 282.4h0.7v0.7h-0.7zM128.4 267.1h0.7v0.7h-0.7zM124.3 265.8h0.7v0.7h-0.7zM120.2 267.6h0.7v0.7h-0.7zM141.4 276.8h0.7v0.7h-0.7zM140.5 262.9h0.7v0.7h-0.7zM136.1 273h0.7v0.7h-0.7zM119.2 263.9h0.7v0.7h-0.7zM135.5 268.4h0.7v0.7h-0.7zM132.4 269.1h0.7v0.7h-0.7zM121.7 269.9h0.7v0.7h-0.7zM138 275.4h0.7v0.7h-0.7zM128.4 275.4h0.7v0.7h-0.7zM133.1 276.2h0.7v0.7h-0.7zM138.8 268h0.7v0.7h-0.7zM126.2 266.9h0.7v0.7h-0.7zM127.6 262.3h0.7v0.7h-0.7zM138.6 277.7h0.7v0.7h-0.7zM126.5 278h0.7v0.7h-0.7zM134.8 272h0.7v0.7h-0.7zM125.8 271.6h0.7v0.7h-0.7zM134.2 276.3h0.7v0.7h-0.7zM132.2 267h0.7v0.7h-0.7zM133.7 281.6h0.7v0.7h-0.7zM139.2 274.3h0.7v0.7h-0.7zM129.9 275.9h0.7v0.7h-0.7zM132.6 275h0.7v0.7h-0.7zM130.6 282.9h0.7v0.7h-0.7zM123.1 269.1h0.7v0.7h-0.7zM132 281.4h0.7v0.7h-0.7zM117.8 274.9h0.7v0.7h-0.7zM117.8 276.8h0.7v0.7h-0.7zM139 267.8h0.7v0.7h-0.7zM135.8 285.7h0.7v0.7h-0.7zM140 273.7h0.7v0.7h-0.7zM118.7 276.9h0.7v0.7h-0.7z" fill="#8c564b"/>
<path d="M122.3 280.4h0.6v0.6h-0.6zM126.7 267.1h0.6v0.6h-0.6zM131.2 275.6h0.6v0.6h-0.6zM130.9 274.6h0.6v0.6h-0.6zM124.7 268.7h0.6v0.6h-0.6zM137.1 270.7h0.6v0.6h-0.6zM136.6 283.9h0.6v0.6h-0.6zM123.8 268.3h0.6v0.6h-0.6zM138.3 277.9h0.6v0.6h-0.6zM122.9 280.8h0.6v0.6h-0.6zM123.3 270h0.6v0.6h-0.6zM132.6 278.4h0.6v0.6h-0.6zM132.3 285h0.6v0.6h-0.6zM134.4 270.1h0.6v0.6h-0.6zM120.3 275.1h0.6v0.6h-0.6zM143.8 265.6h0.6v0.6h-0.6zM136.8 279.5h0.6v0.6h-0.6zM121.6 267.4h0.6v0.6h-0.6zM136.9 274h0.6v0.6h-0.6zM128.8 275.2h0.6v0.6h-0.6zM134.1 276.7h0.6v0.6h-0.6zM140.9 277h0.6v0.6h-0.6zM119.6 265.7h0.6v0.6h-0.6zM121.4 263.7h0.6v0.6h-0.6zM135.8 277h0.6v0.6h-0.6z" fill="#ff7f0e"/>
<use href="#u_mol_olive" fill="#b5bd61"/>
<path d="M139 257.1h0.7v0.7h-0.7zM133.2 235.3h0.7v0.7h-0.7zM131.9 238.4h0.7v0.7h-0.7zM132.3 235.2h0.7v0.7h-0.7zM128.2 243.9h0.7v0.7h-0.7zM128.6 243h0.7v0.7h-0.7zM129.9 258.7h0.7v0.7h-0.7zM123.2 245.7h0.7v0.7h-0.7zM132.6 229.8h0.7v0.7h-0.7zM139.2 258.3h0.7v0.7h-0.7zM128.5 243.7h0.7v0.7h-0.7zM132 260.5h0.7v0.7h-0.7zM142.1 251.2h0.7v0.7h-0.7zM134.3 231h0.7v0.7h-0.7zM122.5 249.3h0.7v0.7h-0.7zM132 238h0.7v0.7h-0.7zM131.8 235.5h0.7v0.7h-0.7zM131.8 240.2h0.7v0.7h-0.7zM130.7 237.2h0.7v0.7h-0.7zM142 250.1h0.7v0.7h-0.7zM141.2 247h0.7v0.7h-0.7zM125.7 245.2h0.7v0.7h-0.7zM132 229.9h0.7v0.7h-0.7zM132.3 234.4h0.7v0.7h-0.7zM142.2 254.7h0.7v0.7h-0.7zM126.6 260.8h0.7v0.7h-0.7zM136.8 260.2h0.7v0.7h-0.7zM125.9 262.4h0.7v0.7h-0.7zM128.2 243h0.7v0.7h-0.7zM140.1 245.4h0.7v0.7h-0.7zM122 258.9h0.7v0.7h-0.7zM132.9 233.5h0.7v0.7h-0.7zM131.7 238.1h0.7v0.7h-0.7zM133.5 238.3h0.7v0.7h-0.7zM121.4 260.4h0.7v0.7h-0.7zM138.5 245.1h0.7v0.7h-0.7zM141.9 255.8h0.7v0.7h-0.7zM140.3 247.6h0.7v0.7h-0.7zM122.5 260.7h0.7v0.7h-0.7zM132 233.5h0.7v0.7h-0.7zM135.1 260.8h0.7v0.7h-0.7zM122.1 256.2h0.7v0.7h-0.7zM142.7 257.6h0.7v0.7h-0.7zM133.9 235.4h0.7v0.7h-0.7z" fill="#b5bd61"/>
<path d="M122.4 254.2h0.5v0.5h-0.5zM133.9 259h0.5v0.5h-0.5zM129.3 257.8h0.5v0.5h-0.5zM121.1 250.5h0.5v0.5h-0.5zM139.9 253.1h0.5v0.5h-0.5zM141.2 254.1h0.5v0.5h-0.5zM137.9 250.5h0.5v0.5h-0.5zM130 255.5h0.5v0.5h-0.5z" fill="#ffffff"/>
<g fill="url(#bspk)"><use href="#u_migl"/><use href="#u_cxex_cyan"/><use href="#u_cxex_green"/><use href="#u_cxinh"/><use href="#u_ast"/><use href="#u_opc"/><use href="#u_cbex_blue"/><use href="#u_cbex_pink"/><use href="#u_mol_green"/><use href="#u_mol_orange"/><use href="#u_mol_olive"/><use href="#u_mol_brown"/><use href="#u_cbinh"/><use href="#u_endo"/></g>
<text x="102.5" y="137" font-size="6.3">ATAC</text>
<text x="138.5" y="151.5" font-size="6.3">MIGL</text>
<text x="166.5" y="174" font-size="6.3">ENDO</text>
<text x="28" y="190.5" font-size="6.3">CBINH</text>
<text x="89" y="186.5" font-size="6.3">CXEX</text>
<text x="128.5" y="186" font-size="6.3">AST</text>
<text x="178" y="238.5" font-size="6.3">OPC</text>
<text x="84" y="257.5" font-size="6.3">CXINH</text>
<text x="16" y="275" font-size="6.3">CBEX</text>
<text x="164" y="295.5" font-size="6.3">MOL</text>
<circle cx="192.5" cy="261.4" r="2.4" fill="#1f77b4"/>
<text x="197.1" y="263.3" font-size="5.3">0</text>
<circle cx="192.5" cy="267.6" r="2.4" fill="#ff7f0e"/>
<text x="197.1" y="269.5" font-size="5.3">1</text>
<circle cx="192.5" cy="273.9" r="2.4" fill="#279e68"/>
<text x="197.1" y="275.8" font-size="5.3">2</text>
<circle cx="192.5" cy="280.1" r="2.4" fill="#d62728"/>
<text x="197.1" y="282" font-size="5.3">3</text>
<circle cx="192.5" cy="286.3" r="2.4" fill="#aa40fc"/>
<text x="197.1" y="288.2" font-size="5.3">4</text>
<circle cx="192.5" cy="292.5" r="2.4" fill="#8c564b"/>
<text x="197.1" y="294.4" font-size="5.3">5</text>
<circle cx="192.5" cy="298.8" r="2.4" fill="#e377c2"/>
<text x="197.1" y="300.7" font-size="5.3">6</text>
<circle cx="192.5" cy="305" r="2.4" fill="#b5bd61"/>
<text x="197.1" y="306.9" font-size="5.3">7</text>
<circle cx="207.7" cy="261.4" r="2.4" fill="#17becf"/>
<text x="212.3" y="263.3" font-size="5.3">8</text>
<circle cx="207.7" cy="267.6" r="2.4" fill="#aec7e8"/>
<text x="212.3" y="269.5" font-size="5.3">9</text>
<circle cx="207.7" cy="273.9" r="2.4" fill="#ffbb78"/>
<text x="212.3" y="275.8" font-size="5.3">10</text>
<circle cx="207.7" cy="280.1" r="2.4" fill="#98df8a"/>
<text x="212.3" y="282" font-size="5.3">11</text>
<circle cx="207.7" cy="286.3" r="2.4" fill="#ff9896"/>
<text x="212.3" y="288.2" font-size="5.3">12</text>
<circle cx="207.7" cy="292.5" r="2.4" fill="#c5b0d5"/>
<text x="212.3" y="294.4" font-size="5.3">13</text>
<circle cx="207.7" cy="298.8" r="2.4" fill="#c49c94"/>
<text x="212.3" y="300.7" font-size="5.3">14</text>
<circle cx="207.7" cy="305" r="2.4" fill="#f7b6d2"/>
<text x="212.3" y="306.9" font-size="5.3">15</text>
<path d="M15.3 311.3V293.5M15.3 311.3H35" stroke="#3b4a6b" stroke-width="0.7" fill="none"/>
<path d="M13.9 294.5L15.3 291L16.7 294.5Z M34 309.9L37.3 311.3L34 312.7Z" fill="#3b4a6b"/>
<text x="15" y="318.3" font-size="6.1">UMAP1</text>
<text x="11.6" y="311.5" font-size="6.1" transform="rotate(-90 11.6 311.5)">UMAP2</text>
<text x="-0.4" y="6.9" font-size="13.5" font-weight="bold" fill="#000" stroke="#000" stroke-width="0.55">a</text>
<defs><g id="ppl"><circle cx="89" cy="38.6" r="2.95"/><path d="M85.2 43H92.8Q94 43 94.3 44.2L95.1 59.6H83L83.8 44.2Q84 43 85.2 43Z"/><path d="M84.4 44.2L81.8 53M93.6 44.2L96.2 53" stroke="currentColor" stroke-width="1.7" stroke-linecap="round"/><rect x="86.1" y="58" width="1.9" height="13" rx="0.9"/><rect x="89.3" y="58" width="2.1" height="13" rx="0.9"/><circle cx="104" cy="38.6" r="2.95"/><rect x="97.2" y="43" width="13.1" height="4" rx="1.6"/><rect x="99.3" y="44" width="8.9" height="12.5"/><rect x="97.2" y="44" width="1.8" height="11.4" rx="0.9"/><rect x="108.5" y="44" width="1.8" height="11.4" rx="0.9"/><rect x="100.1" y="55" width="2.6" height="16" rx="0.9"/><rect x="104" y="55" width="2.9" height="16" rx="0.9"/></g><filter id="pblur" x="-10%" y="-10%" width="120%" height="120%"><feGaussianBlur stdDeviation="0.5"/></filter></defs><g fill="#555" color="#555" filter="url(#pblur)"><use href="#ppl" transform="translate(17.2 -17.5)" opacity="0.08"/><use href="#ppl" transform="translate(16.1 -16.4)" opacity="0.09"/><use href="#ppl" transform="translate(15 -15.3)" opacity="0.11"/><use href="#ppl" transform="translate(14 -14.2)" opacity="0.12"/><use href="#ppl" transform="translate(12.9 -13.1)" opacity="0.14"/><use href="#ppl" transform="translate(11.8 -12)" opacity="0.15"/><use href="#ppl" transform="translate(10.8 -10.9)" opacity="0.16"/><use href="#ppl" transform="translate(9.7 -9.8)" opacity="0.18"/><use href="#ppl" transform="translate(8.6 -8.8)" opacity="0.19"/><use href="#ppl" transform="translate(7.5 -7.7)" opacity="0.20"/><use href="#ppl" transform="translate(6.4 -6.6)" opacity="0.22"/><use href="#ppl" transform="translate(5.4 -5.5)" opacity="0.23"/><use href="#ppl" transform="translate(4.3 -4.4)" opacity="0.24"/><use href="#ppl" transform="translate(3.2 -3.3)" opacity="0.26"/><use href="#ppl" transform="translate(2.1 -2.2)" opacity="0.27"/><use href="#ppl" transform="translate(1.1 -1.1)" opacity="0.29"/></g><use href="#ppl" fill="#1c1c1c" color="#1c1c1c"/>
<text x="104.4" y="80.2" font-size="6.4" text-anchor="middle">Adult</text>
<text x="104.4" y="87.6" font-size="6.4" text-anchor="middle">donors</text>
<path d="M130.8 52.5L143.2 52.5" stroke="#3b4a6b" stroke-width="0.8"/><path d="M145.8 52.5L143.2 53.7L143.2 51.3Z" fill="#3b4a6b"/>
<path d="M158.5 45.5Q163 50 165.8 56.8L168.8 56.4Q166.5 50 164.5 46Z" fill="#d2d2d2"/><path d="M140.4 33.9C140.6 32.6 140.8 30.3 141.8 28.8C142.8 27.3 144.4 25.8 146.2 24.8C148 23.8 150.5 23.2 152.8 22.6C155.1 22.1 157.8 21.6 160.1 21.5C162.4 21.4 164.6 21.6 166.7 22.2C168.8 22.8 170.7 23.8 172.5 25.1C174.3 26.4 176.3 28.5 177.6 30.2C178.9 31.9 179.7 33.8 180.2 35.4C180.7 37 180.7 38.4 180.5 39.7C180.3 41 179.9 42.5 179.1 43.4C178.3 44.2 177.3 44.6 175.8 44.8C174.3 45 171.8 44.2 170.3 44.5C168.8 44.8 167.9 45.9 166.7 46.3C165.5 46.7 164.5 46.9 163 47C161.5 47.1 159.6 47.2 157.9 47C156.2 46.8 154.2 46.2 152.8 45.6C151.4 45 150.2 44.1 149.5 43.4C148.8 42.7 149.5 41.7 148.8 41.2C148.1 40.7 146.7 40.9 145.5 40.5C144.3 40.1 142.7 39.6 141.8 39C141 38.4 140.6 37.6 140.4 36.8C140.2 35.9 140.2 35.2 140.4 33.9Z" fill="#dedede" stroke="#c9c9c9" stroke-width="0.4"/><path d="M144 31Q148 28 151 30T157 29M143 36Q147 34 150 36T156 35M158 26Q162 24 166 27T172 28M160 33Q164 30 168 33T175 33M162 39Q166 37 170 40T178 39M150 42Q154 40 158 43T165 42M147 25Q150 27 152 25M170 36Q173 35 176 37" stroke="#bdbdbd" stroke-width="0.5" fill="none"/><path d="M164.8 22.2Q157 24 154 29Q153.2 33 155.2 37.2" stroke="#5b8bc9" stroke-width="3" fill="none" stroke-linecap="round"/><path d="M162.3 45.6Q168 44.6 176.6 46.2Q177.6 49.5 173.5 51.5Q169 53.2 165.5 51.6Q162 49.5 162.3 45.6Z" fill="#e0a26a"/><path d="M163 57.5l4.3 -0.5M163.2 58.9l4.4 -0.5M163.4 60.3l4.5 -0.5M163.5 61.7l4.6 -0.5M163.7 63.1l4.7 -0.5M163.9 64.5l4.8 -0.5M164.1 65.9l4.9 -0.5M164.3 67.3l5 -0.5M164.4 68.7l5.1 -0.5M164.6 70.1l5.2 -0.5M164.8 71.5l5.3 -0.5" stroke="#b5d39a" stroke-width="0.4"/><path d="M166.9 56.9Q169.5 63 171.6 70.6" stroke="#7cb342" stroke-width="1.6" fill="none"/><text x="164.4" y="21.1" font-size="5.9">BA4</text><text x="170.9" y="57.6" font-size="5.9">CB</text><text x="173.1" y="70.4" font-size="5.9">CSC</text>
<text x="161.6" y="80.2" font-size="6.4" text-anchor="middle">Distinct</text>
<text x="161.6" y="87.6" font-size="6.4" text-anchor="middle">CNS regions</text>
<path d="M182.6 52.6L195.1 52.6" stroke="#3b4a6b" stroke-width="0.8"/><path d="M197.7 52.6L195.1 53.8L195.1 51.4Z" fill="#3b4a6b"/>
<path d="M212 55L236 40.8L236 72.2Z" fill="#e6e6e6"/><path d="M203 43.4H212.4V57Q211 62 208.4 65.5Q205.8 62 204.3 57Z" fill="#ebebeb" stroke="#c8c8c8" stroke-width="0.3"/><path d="M203.4 50.2H212V57Q210.8 61.5 208.4 65.3Q206 61.5 204.6 57Z" fill="#4b3c8e"/><rect x="202.3" y="40.8" width="10.8" height="2.2" rx="0.8" fill="#a0a0a0"/><circle cx="237.4" cy="56.5" r="15.8" fill="#eef1f6" stroke="#9a9a9a" stroke-width="0.45"/><circle cx="230.4" cy="48" r="3.4" fill="#c5d3ef" fill-opacity="0.7" stroke="#8aa2db" stroke-width="0.35"/><circle cx="230.7" cy="48.2" r="1.1" fill="#7f98d8" opacity="0.6"/><circle cx="237.5" cy="46.5" r="3.4" fill="#c5d3ef" fill-opacity="0.7" stroke="#8aa2db" stroke-width="0.35"/><circle cx="237.8" cy="46.7" r="1.1" fill="#7f98d8" opacity="0.6"/><circle cx="244" cy="48.8" r="3.4" fill="#c5d3ef" fill-opacity="0.7" stroke="#8aa2db" stroke-width="0.35"/><circle cx="244.3" cy="49" r="1.1" fill="#7f98d8" opacity="0.6"/><circle cx="228" cy="56.3" r="3.4" fill="#c5d3ef" fill-opacity="0.7" stroke="#8aa2db" stroke-width="0.35"/><circle cx="228.3" cy="56.5" r="1.1" fill="#7f98d8" opacity="0.6"/><circle cx="234.3" cy="53.5" r="3.4" fill="#c5d3ef" fill-opacity="0.7" stroke="#8aa2db" stroke-width="0.35"/><circle cx="234.6" cy="53.7" r="1.1" fill="#7f98d8" opacity="0.6"/><circle cx="240.3" cy="55" r="3.4" fill="#c5d3ef" fill-opacity="0.7" stroke="#8aa2db" stroke-width="0.35"/><circle cx="240.6" cy="55.2" r="1.1" fill="#7f98d8" opacity="0.6"/><circle cx="246.7" cy="56" r="3.4" fill="#c5d3ef" fill-opacity="0.7" stroke="#8aa2db" stroke-width="0.35"/><circle cx="247" cy="56.2" r="1.1" fill="#7f98d8" opacity="0.6"/><circle cx="231.5" cy="62.5" r="3.4" fill="#c5d3ef" fill-opacity="0.7" stroke="#8aa2db" stroke-width="0.35"/><circle cx="231.8" cy="62.7" r="1.1" fill="#7f98d8" opacity="0.6"/><circle cx="238" cy="61" r="3.4" fill="#c5d3ef" fill-opacity="0.7" stroke="#8aa2db" stroke-width="0.35"/><circle cx="238.3" cy="61.2" r="1.1" fill="#7f98d8" opacity="0.6"/><circle cx="244.5" cy="62.8" r="3.4" fill="#c5d3ef" fill-opacity="0.7" stroke="#8aa2db" stroke-width="0.35"/><circle cx="244.8" cy="63" r="1.1" fill="#7f98d8" opacity="0.6"/><circle cx="235.5" cy="67.2" r="3.4" fill="#c5d3ef" fill-opacity="0.7" stroke="#8aa2db" stroke-width="0.35"/><circle cx="235.8" cy="67.4" r="1.1" fill="#7f98d8" opacity="0.6"/><circle cx="241.5" cy="67.6" r="3.4" fill="#c5d3ef" fill-opacity="0.7" stroke="#8aa2db" stroke-width="0.35"/><circle cx="241.8" cy="67.8" r="1.1" fill="#7f98d8" opacity="0.6"/><circle cx="228.7" cy="51.7" r="3.4" fill="#c5d3ef" fill-opacity="0.7" stroke="#8aa2db" stroke-width="0.35"/><circle cx="229" cy="51.9" r="1.1" fill="#7f98d8" opacity="0.6"/><circle cx="248" cy="51" r="3.4" fill="#c5d3ef" fill-opacity="0.7" stroke="#8aa2db" stroke-width="0.35"/><circle cx="248.3" cy="51.2" r="1.1" fill="#7f98d8" opacity="0.6"/>
<text x="239.8" y="29.9" font-size="5.2" text-anchor="middle">20 donors</text>
<text x="239.8" y="35.6" font-size="5.2" text-anchor="middle">BA4, CB, CSC</text>
<text x="241.2" y="83.3" font-size="5.2" text-anchor="middle">4 donors</text>
<text x="241.2" y="89.5" font-size="5.2" text-anchor="middle">BA4, CSC</text>
<path d="M252.9 45L261.1 35.1" stroke="#3b4a6b" stroke-width="0.8"/><path d="M262.8 33.1L262 35.8L260.2 34.4Z" fill="#3b4a6b"/>
<path d="M251.6 72.3L259.8 82" stroke="#3b4a6b" stroke-width="0.8"/><path d="M261.5 84L258.9 82.8L260.7 81.3Z" fill="#3b4a6b"/>
<text x="294.6" y="6.9" font-size="6.4" text-anchor="middle">ATAC</text><path d="M261 22.4Q270 21.8 274 21.5M290 22.3H300M316 22.3H328" stroke="#7ec6de" stroke-width="0.6" fill="none"/><g transform="translate(273.2 16.4) rotate(28) scale(1.13)"><ellipse cx="1.3" cy="0" rx="3.4" ry="5.2" fill="#8ccbe3"/><rect x="-1.2" y="-5.2" width="2.5" height="10.4" fill="#8ccbe3"/><path d="M0.2 -4.9A2.2 5 0 0 1 0.2 4.9M1.4 -4.8A2.2 4.9 0 0 1 1.4 4.8M2.6 -4.4A2 4.5 0 0 1 2.6 4.4" stroke="#5aa9cc" stroke-width="0.5" fill="none"/><ellipse cx="-1.2" cy="0" rx="2.5" ry="5.2" fill="#cfeaf7"/></g><g transform="translate(297.4 16.4) rotate(28) scale(1.13)"><ellipse cx="1.3" cy="0" rx="3.4" ry="5.2" fill="#8ccbe3"/><rect x="-1.2" y="-5.2" width="2.5" height="10.4" fill="#8ccbe3"/><path d="M0.2 -4.9A2.2 5 0 0 1 0.2 4.9M1.4 -4.8A2.2 4.9 0 0 1 1.4 4.8M2.6 -4.4A2 4.5 0 0 1 2.6 4.4" stroke="#5aa9cc" stroke-width="0.5" fill="none"/><ellipse cx="-1.2" cy="0" rx="2.5" ry="5.2" fill="#cfeaf7"/></g><g transform="translate(321.8 16.4) rotate(28) scale(1.13)"><ellipse cx="1.3" cy="0" rx="3.4" ry="5.2" fill="#8ccbe3"/><rect x="-1.2" y="-5.2" width="2.5" height="10.4" fill="#8ccbe3"/><path d="M0.2 -4.9A2.2 5 0 0 1 0.2 4.9M1.4 -4.8A2.2 4.9 0 0 1 1.4 4.8M2.6 -4.4A2 4.5 0 0 1 2.6 4.4" stroke="#5aa9cc" stroke-width="0.5" fill="none"/><ellipse cx="-1.2" cy="0" rx="2.5" ry="5.2" fill="#cfeaf7"/></g><g transform="translate(282.5 23.1) scale(0.95)" fill="#b49bd6"><circle cx="-3.3" cy="0" r="4"/><circle cx="3.3" cy="0" r="4"/><circle cx="-4.5" cy="-2" r="2.2"/><circle cx="4.5" cy="-2" r="2.2"/><circle cx="-2" cy="2.2" r="2.3"/><circle cx="2" cy="2.2" r="2.3"/></g><path d="M279.3 26.2L277.9 30.6" stroke="#ee3030" stroke-width="0.6"/><path d="M285.7 26.2L286.9 30.6" stroke="#2a6de0" stroke-width="0.6"/><g transform="translate(305.3 23.1) scale(0.95)" fill="#b49bd6"><circle cx="-3.3" cy="0" r="4"/><circle cx="3.3" cy="0" r="4"/><circle cx="-4.5" cy="-2" r="2.2"/><circle cx="4.5" cy="-2" r="2.2"/><circle cx="-2" cy="2.2" r="2.3"/><circle cx="2" cy="2.2" r="2.3"/></g><path d="M302.1 26.2L300.7 30.6" stroke="#ee3030" stroke-width="0.6"/><path d="M308.5 26.2L309.7 30.6" stroke="#2a6de0" stroke-width="0.6"/><text x="294.4" y="38.7" font-size="6.4" text-anchor="middle">Tagmentation</text>
<text x="295.3" y="61.5" font-size="6.4" text-anchor="middle">nanoCUT&amp;Tag</text><path d="M261.4 113.3H322.7" stroke="#b6acd8" stroke-width="1.2"/><path d="M272.7 71.5L271 65.4M283.3 71.5L285 65.4" stroke="#ee3030" stroke-width="0.7"/><g transform="translate(278 75.2) scale(1.0)" fill="#b49bd6"><circle cx="-3.3" cy="0" r="4"/><circle cx="3.3" cy="0" r="4"/><circle cx="-4.5" cy="-2" r="2.2"/><circle cx="4.5" cy="-2" r="2.2"/><circle cx="-2" cy="2.2" r="2.3"/><circle cx="2" cy="2.2" r="2.3"/></g><g fill="#1f4e80"><circle cx="276" cy="83.5" r="2.3"/><circle cx="279.5" cy="82.6" r="2.4"/><circle cx="280.6" cy="85.5" r="1.8"/><circle cx="277.7" cy="86" r="1.8"/></g><path d="M278 87.5V90M278 90L275 93M278 90L281 93" stroke="#1f4e80" stroke-width="0.9" opacity="0.75"/><path d="M274.9 99.5V102" stroke="#555" stroke-width="0.4"/><circle cx="274.9" cy="96.6" r="3.1" fill="#d04848" stroke="#7a4a3a" stroke-width="0.25"/><path d="M283 99.5V102" stroke="#555" stroke-width="0.4"/><circle cx="283" cy="96.6" r="3.1" fill="#d04848" stroke="#7a4a3a" stroke-width="0.25"/><g transform="translate(273.8 107) rotate(28) scale(1.12)"><ellipse cx="1.3" cy="0" rx="3.4" ry="5.2" fill="#2fa9dc"/><rect x="-1.2" y="-5.2" width="2.5" height="10.4" fill="#2fa9dc"/><path d="M0.2 -4.9A2.2 5 0 0 1 0.2 4.9M1.4 -4.8A2.2 4.9 0 0 1 1.4 4.8M2.6 -4.4A2 4.5 0 0 1 2.6 4.4" stroke="#17709e" stroke-width="0.5" fill="none"/><ellipse cx="-1.2" cy="0" rx="2.5" ry="5.2" fill="#64c6ee"/></g><g transform="translate(282 107) rotate(28) scale(1.12)"><ellipse cx="1.3" cy="0" rx="3.4" ry="5.2" fill="#2fa9dc"/><rect x="-1.2" y="-5.2" width="2.5" height="10.4" fill="#2fa9dc"/><path d="M0.2 -4.9A2.2 5 0 0 1 0.2 4.9M1.4 -4.8A2.2 4.9 0 0 1 1.4 4.8M2.6 -4.4A2 4.5 0 0 1 2.6 4.4" stroke="#17709e" stroke-width="0.5" fill="none"/><ellipse cx="-1.2" cy="0" rx="2.5" ry="5.2" fill="#64c6ee"/></g><path d="M305.5 71.5L303.8 65.4M316.1 71.5L317.8 65.4" stroke="#5cb85c" stroke-width="0.7"/><g transform="translate(310.8 75.2) scale(1.0)" fill="#b49bd6"><circle cx="-3.3" cy="0" r="4"/><circle cx="3.3" cy="0" r="4"/><circle cx="-4.5" cy="-2" r="2.2"/><circle cx="4.5" cy="-2" r="2.2"/><circle cx="-2" cy="2.2" r="2.3"/><circle cx="2" cy="2.2" r="2.3"/></g><g fill="#d48a1c"><circle cx="308.8" cy="83.5" r="2.3"/><circle cx="312.3" cy="82.6" r="2.4"/><circle cx="313.4" cy="85.5" r="1.8"/><circle cx="310.5" cy="86" r="1.8"/></g><path d="M310.8 87.5V90M310.8 90L307.8 93M310.8 90L313.8 93" stroke="#d48a1c" stroke-width="0.9" opacity="0.75"/><path d="M307.7 99.5V102" stroke="#555" stroke-width="0.4"/><circle cx="307.7" cy="96.6" r="3.1" fill="#4aa84a" stroke="#7a4a3a" stroke-width="0.25"/><path d="M315.8 99.5V102" stroke="#555" stroke-width="0.4"/><circle cx="315.8" cy="96.6" r="3.1" fill="#4aa84a" stroke="#7a4a3a" stroke-width="0.25"/><g transform="translate(306.6 107) rotate(28) scale(1.12)"><ellipse cx="1.3" cy="0" rx="3.4" ry="5.2" fill="#2fa9dc"/><rect x="-1.2" y="-5.2" width="2.5" height="10.4" fill="#2fa9dc"/><path d="M0.2 -4.9A2.2 5 0 0 1 0.2 4.9M1.4 -4.8A2.2 4.9 0 0 1 1.4 4.8M2.6 -4.4A2 4.5 0 0 1 2.6 4.4" stroke="#17709e" stroke-width="0.5" fill="none"/><ellipse cx="-1.2" cy="0" rx="2.5" ry="5.2" fill="#64c6ee"/></g><g transform="translate(314.8 107) rotate(28) scale(1.12)"><ellipse cx="1.3" cy="0" rx="3.4" ry="5.2" fill="#2fa9dc"/><rect x="-1.2" y="-5.2" width="2.5" height="10.4" fill="#2fa9dc"/><path d="M0.2 -4.9A2.2 5 0 0 1 0.2 4.9M1.4 -4.8A2.2 4.9 0 0 1 1.4 4.8M2.6 -4.4A2 4.5 0 0 1 2.6 4.4" stroke="#17709e" stroke-width="0.5" fill="none"/><ellipse cx="-1.2" cy="0" rx="2.5" ry="5.2" fill="#64c6ee"/></g><text x="294.2" y="121.3" font-size="6.4" text-anchor="middle">Multimodal</text><text x="294.2" y="129.1" font-size="6.4" text-anchor="middle">antibody-tethered</text><text x="294.2" y="136.9" font-size="6.4" text-anchor="middle">tagmentation</text>
<path d="M332.5 55.9L344.9 55.9" stroke="#3b4a6b" stroke-width="0.8"/><path d="M347.5 55.9L344.9 57.1L344.9 54.7Z" fill="#3b4a6b"/>
<rect x="369.4" y="39.1" width="5.8" height="24.7" fill="#b9b9b9"/><rect x="380.8" y="39.1" width="5.2" height="24.7" fill="#dadada"/><path d="M357.5 48.6H397.5Q399.8 51.6 397.5 54.7H357.5Z" fill="#e9ebeb" stroke="#cfd2d2" stroke-width="0.3"/><rect x="369.4" y="48.6" width="5.8" height="6.1" fill="#c8c8c8" opacity="0.6"/><circle cx="371.6" cy="42.6" r="0.75" fill="#3b5fc0"/><circle cx="371.6" cy="49.5" r="0.75" fill="#3b5fc0"/><circle cx="378.8" cy="51.4" r="0.75" fill="#3b5fc0"/><circle cx="384.5" cy="51" r="0.75" fill="#3b5fc0"/><circle cx="391.6" cy="51.8" r="0.75" fill="#3b5fc0"/><circle cx="397.2" cy="52.4" r="0.75" fill="#3b5fc0"/><circle cx="362.3" cy="52.2" r="0.75" fill="#4caf50"/><circle cx="368" cy="51.3" r="0.75" fill="#4caf50"/><circle cx="386.8" cy="53.2" r="0.75" fill="#4caf50"/><circle cx="395" cy="51.3" r="0.75" fill="#4caf50"/><text x="378" y="73.7" font-size="6.7" text-anchor="middle">10x Chromium</text><text x="378" y="81.3" font-size="6.7" text-anchor="middle">platform</text><path d="M404.1 52.8L416.2 52.8" stroke="#3b4a6b" stroke-width="0.8"/><path d="M418.8 52.8L416.2 54L416.2 51.6Z" fill="#3b4a6b"/><path d="M424.5 44.5Q425 42 427.5 41.5L434.5 40.8V65.2L427 66Q424.5 65.6 424.5 63.5Z" fill="#d8d8d8" stroke="#9a9a9a" stroke-width="0.3"/><path d="M434.5 40.8L451.5 40.4Q452.8 40.5 452.8 42V51H434.5Z" fill="#3a3c3e"/><rect x="436.9" y="41.6" width="13.4" height="8.2" fill="#cfe7ee"/><path d="M430 51.2H454.8V64.2Q454.8 65.4 453.5 65.4H430Z" fill="#3c3e40"/><path d="M430 51.2H454.8V52.4H430Z" fill="#55595c"/><path d="M442.5 52.5V65.3" stroke="#2a2b2c" stroke-width="0.4"/><path d="M460.5 52.8L472.9 52.8" stroke="#3b4a6b" stroke-width="0.8"/><path d="M475.5 52.8L472.9 54L472.9 51.6Z" fill="#3b4a6b"/><rect x="496.5" y="23.5" width="47.1" height="43" fill="#fff" stroke="#9a9a9a" stroke-width="0.5"/><path d="M500.8 55.4h1v1h-1zM508.6 46.9h1v1h-1zM499.6 48.7h1v1h-1zM531.1 51h1v1h-1zM530.7 41.2h1v1h-1zM517.5 37.4h1v1h-1zM534.7 56.6h1v1h-1zM525.6 58.7h1v1h-1zM499 42.1h1v1h-1zM529 60.2h1v1h-1zM531.1 64.1h1v1h-1zM532.5 59.1h1v1h-1zM526.7 35.6h1v1h-1zM534.1 54.2h1v1h-1zM511.3 58.8h1v1h-1zM526.4 41.6h1v1h-1zM516.6 45.8h1v1h-1zM523.3 27.8h1v1h-1zM523.6 46.6h1v1h-1zM503.8 33.7h1v1h-1zM529.4 57.1h1v1h-1zM532.7 46.4h1v1h-1zM500.2 37.8h1v1h-1zM502.8 47.7h1v1h-1zM533.6 49.9h1v1h-1zM527.5 34.1h1v1h-1zM529.9 57.5h1v1h-1zM515.7 64.5h1v1h-1zM520.5 47.1h1v1h-1zM506.3 47h1v1h-1zM531.8 40.3h1v1h-1zM515.2 43.6h1v1h-1zM516 59.2h1v1h-1zM523.1 39.7h1v1h-1zM499.9 54.9h1v1h-1zM505.1 36.8h1v1h-1zM531.3 52.1h1v1h-1zM505.2 39.7h1v1h-1zM502.6 27h1v1h-1zM503.1 60.7h1v1h-1zM498.3 64.3h1v1h-1zM534.8 54.4h1v1h-1zM508.5 65.2h1v1h-1zM521.1 43.3h1v1h-1zM501.2 59h1v1h-1zM522.7 40.8h1v1h-1zM514.2 65.4h1v1h-1zM521.2 32.3h1v1h-1zM532.6 57.8h1v1h-1zM511.8 64.5h1v1h-1zM535.3 30.6h1v1h-1zM526 54.3h1v1h-1zM501.8 42.1h1v1h-1zM524.7 38.7h1v1h-1zM524.8 44.8h1v1h-1zM529.5 36.2h1v1h-1zM523.1 51.1h1v1h-1zM528.6 64.1h1v1h-1zM528.4 36h1v1h-1zM500.4 40.5h1v1h-1zM539.2 57.2h1v1h-1zM516.5 27.4h1v1h-1zM517.4 55.4h1v1h-1zM529.2 41.9h1v1h-1zM524.8 42.5h1v1h-1zM506.3 39.9h1v1h-1zM507.1 53.4h1v1h-1zM520.5 63.4h1v1h-1zM518.4 50.2h1v1h-1zM533.6 55.1h1v1h-1zM520.1 48.5h1v1h-1zM514.3 48.7h1v1h-1zM518.8 52h1v1h-1zM528.3 41h1v1h-1zM519.4 51.9h1v1h-1zM521.4 55.2h1v1h-1zM531.1 39.4h1v1h-1zM528.6 44h1v1h-1zM532.5 37.4h1v1h-1zM500.3 49.2h1v1h-1zM502.7 38.2h1v1h-1zM526.8 44.2h1v1h-1zM522.2 45.6h1v1h-1zM529 45.2h1v1h-1zM524.3 57h1v1h-1zM512.9 33h1v1h-1zM501.8 45.5h1v1h-1zM533.5 45.9h1v1h-1zM531.3 46.6h1v1h-1zM523.9 49.4h1v1h-1zM503.1 29.4h1v1h-1zM529.8 35.6h1v1h-1zM500.8 63.4h1v1h-1zM523.3 45.5h1v1h-1zM511.7 48.7h1v1h-1zM516.8 54.9h1v1h-1zM539.8 51.4h1v1h-1zM515.2 49.5h1v1h-1zM509 63.6h1v1h-1zM500.4 51.7h1v1h-1zM504.1 45.1h1v1h-1zM529.8 58.8h1v1h-1zM512.6 52.4h1v1h-1zM507.4 63.9h1v1h-1zM514.3 48.9h1v1h-1zM524.6 39.8h1v1h-1zM507.7 30.2h1v1h-1zM514.6 57.1h1v1h-1zM524.4 55.2h1v1h-1zM500.4 38.1h1v1h-1zM501.1 38.5h1v1h-1zM520.5 43.8h1v1h-1zM503.7 49.7h1v1h-1zM506.8 43.8h1v1h-1zM529 30h1v1h-1zM497.8 47.4h1v1h-1zM522.3 50.5h1v1h-1zM530.3 46.3h1v1h-1zM502.5 53.5h1v1h-1zM519.1 36.4h1v1h-1zM526.6 40.6h1v1h-1zM517.7 40.5h1v1h-1zM538.3 47.1h1v1h-1zM514.4 42.4h1v1h-1zM534.6 53.8h1v1h-1zM523.5 32.8h1v1h-1zM511.1 45.4h1v1h-1zM521.4 43.7h1v1h-1zM500.5 46.7h1v1h-1zM514.7 52.6h1v1h-1zM515.2 42.9h1v1h-1zM535.8 43.3h1v1h-1zM519.2 52.1h1v1h-1zM537.2 49.3h1v1h-1zM499.3 43.9h1v1h-1zM512.7 65.1h1v1h-1zM525.1 57.4h1v1h-1zM520.2 36.7h1v1h-1zM529.9 49.1h1v1h-1zM512.8 45.1h1v1h-1zM528 47.6h1v1h-1zM511.4 56.6h1v1h-1zM529.9 59h1v1h-1zM523.9 50.9h1v1h-1zM532.5 46.1h1v1h-1zM530.7 43.4h1v1h-1zM502 64.2h1v1h-1zM539.2 55.9h1v1h-1zM527.5 36.5h1v1h-1zM515.9 50.5h1v1h-1zM497.9 50.7h1v1h-1zM527.5 53.3h1v1h-1zM504.2 61h1v1h-1zM513 61h1v1h-1zM516.5 57.2h1v1h-1zM529.2 56.9h1v1h-1zM518 53.6h1v1h-1zM514.7 44.5h1v1h-1zM503.2 51.2h1v1h-1zM505.3 64.5h1v1h-1zM522.7 36.1h1v1h-1zM530.1 41.1h1v1h-1zM536.7 47.8h1v1h-1zM519.3 36.6h1v1h-1zM498.8 63.6h1v1h-1zM507.3 46.2h1v1h-1zM512.7 65.1h1v1h-1zM522.3 50.8h1v1h-1zM531.8 44.9h1v1h-1zM521.1 40h1v1h-1zM508.4 47.2h1v1h-1zM499.1 44.3h1v1h-1zM508 54.8h1v1h-1zM530.6 54.4h1v1h-1zM505.9 49.3h1v1h-1zM524.5 31.2h1v1h-1zM498.5 57.1h1v1h-1zM520 54.4h1v1h-1zM505.7 63.6h1v1h-1zM524.8 26h1v1h-1zM531.3 39.1h1v1h-1zM521.3 39.1h1v1h-1zM537.1 46.8h1v1h-1zM516.4 55.2h1v1h-1zM500.4 43.5h1v1h-1zM528.7 49.6h1v1h-1zM519 47.1h1v1h-1zM531.7 41.2h1v1h-1zM522.7 51.7h1v1h-1zM517.2 57h1v1h-1zM498.2 50.8h1v1h-1zM524.1 53.7h1v1h-1zM527.9 43.8h1v1h-1zM504.6 48.5h1v1h-1zM537.1 60.6h1v1h-1zM522.3 50.4h1v1h-1zM530.4 64.8h1v1h-1zM502.3 58.7h1v1h-1zM517 50.8h1v1h-1zM502.3 48.4h1v1h-1zM528 45.4h1v1h-1zM502.1 65h1v1h-1zM527.3 35.8h1v1h-1zM505.6 39.1h1v1h-1zM535.2 46.4h1v1h-1zM505.4 45.9h1v1h-1zM505 60.5h1v1h-1zM525.1 50.5h1v1h-1zM505.2 62.7h1v1h-1zM506.1 60.2h1v1h-1zM527.7 48.3h1v1h-1zM516.4 43.7h1v1h-1zM526.9 55.4h1v1h-1zM520.4 46h1v1h-1zM527.7 55.5h1v1h-1zM513.1 63.3h1v1h-1zM526.7 47.2h1v1h-1zM507.4 64.5h1v1h-1zM525.3 54.4h1v1h-1zM514.1 56.4h1v1h-1zM514 58h1v1h-1zM520.6 36.8h1v1h-1zM504.3 46.8h1v1h-1zM530.6 49.3h1v1h-1zM527.8 51.5h1v1h-1zM509 45.7h1v1h-1zM507.9 26.7h1v1h-1zM507.9 57.2h1v1h-1zM531.5 56.7h1v1h-1zM514.9 38.7h1v1h-1zM522.5 45.7h1v1h-1zM530 59.8h1v1h-1zM500.9 62.3h1v1h-1zM527.7 57.3h1v1h-1zM524.3 35h1v1h-1zM524.6 37.7h1v1h-1zM531.3 47.7h1v1h-1zM501.6 65h1v1h-1zM528.7 42.4h1v1h-1zM523.2 52.8h1v1h-1zM527.6 45.8h1v1h-1zM521 46.1h1v1h-1zM521.3 45.2h1v1h-1zM504.4 56.2h1v1h-1zM504.1 42.1h1v1h-1zM529.1 48.7h1v1h-1zM508.9 55h1v1h-1zM501.1 56.7h1v1h-1zM503.5 45.2h1v1h-1zM529 59.9h1v1h-1zM506.2 61.8h1v1h-1zM521.8 28.5h1v1h-1zM516 48.6h1v1h-1zM522.2 63.3h1v1h-1zM527.2 49.4h1v1h-1zM510.5 38.9h1v1h-1zM510.4 47.1h1v1h-1zM531.7 52.3h1v1h-1zM527.3 45.4h1v1h-1zM519.1 25.6h1v1h-1zM500.4 64.1h1v1h-1zM527.8 31.1h1v1h-1zM512.6 42.2h1v1h-1zM525 43h1v1h-1zM505.9 51.4h1v1h-1zM500.3 43.4h1v1h-1zM534.2 47.3h1v1h-1zM538.1 46.5h1v1h-1zM509.9 52.4h1v1h-1zM528.7 57.7h1v1h-1zM522.1 58h1v1h-1zM525.3 49.8h1v1h-1zM522.3 51.2h1v1h-1zM521.9 38.9h1v1h-1zM533.7 50.5h1v1h-1zM535.1 47.2h1v1h-1zM512.6 59.2h1v1h-1zM533.9 48.3h1v1h-1zM517 40.1h1v1h-1zM505.8 39.7h1v1h-1zM534.7 36.9h1v1h-1zM513.7 63.7h1v1h-1zM504.9 58.5h1v1h-1zM515.9 44.2h1v1h-1zM507.9 63.4h1v1h-1zM503.1 51.1h1v1h-1zM512 35.5h1v1h-1zM526.5 65.4h1v1h-1zM511.5 45.9h1v1h-1zM517.9 54.8h1v1h-1zM513.9 43.9h1v1h-1zM526.4 62.6h1v1h-1zM537 58.4h1v1h-1zM514.4 43.6h1v1h-1zM509.4 25.5h1v1h-1zM500.8 54.4h1v1h-1zM513.8 53.7h1v1h-1zM502.4 55.5h1v1h-1zM497.9 46.6h1v1h-1zM534.5 58.3h1v1h-1zM542.7 58.2h1v1h-1zM500.8 38.9h1v1h-1zM522.4 39.7h1v1h-1zM498 55.2h1v1h-1zM527 60.7h1v1h-1zM531.1 38.7h1v1h-1zM502.6 37.7h1v1h-1zM508.9 64h1v1h-1zM501.8 54.1h1v1h-1zM513 40.4h1v1h-1zM520.4 34.7h1v1h-1zM514.9 58.2h1v1h-1zM520.5 39.7h1v1h-1zM512.9 56.7h1v1h-1zM521.4 42.8h1v1h-1zM520.6 59.2h1v1h-1zM532 60.7h1v1h-1zM537.8 63.8h1v1h-1zM503.1 43h1v1h-1zM521.7 41.2h1v1h-1zM527.2 54.9h1v1h-1zM515 42.5h1v1h-1zM531.3 43.8h1v1h-1zM513.7 35.1h1v1h-1zM518.8 38.6h1v1h-1zM502.1 54.6h1v1h-1zM516.6 46.3h1v1h-1zM498.4 37.2h1v1h-1zM515.8 37.5h1v1h-1zM509.7 46.8h1v1h-1zM521.7 30h1v1h-1zM515.3 63.2h1v1h-1zM530.9 50.3h1v1h-1zM498.5 61.3h1v1h-1zM512.7 40.9h1v1h-1zM527.5 52.5h1v1h-1zM530.6 47h1v1h-1zM512.3 47h1v1h-1zM517.3 51h1v1h-1zM524.2 47.7h1v1h-1zM506.6 59h1v1h-1zM512 52h1v1h-1zM515.2 38.7h1v1h-1zM497.8 42h1v1h-1zM514.7 37.1h1v1h-1zM507.8 46.3h1v1h-1zM502.1 56.8h1v1h-1zM536.2 52.6h1v1h-1zM513.7 56.8h1v1h-1zM519.3 45h1v1h-1zM505.8 62.5h1v1h-1zM516 50.9h1v1h-1zM518.3 34.6h1v1h-1zM526.7 56.1h1v1h-1zM514.8 55.7h1v1h-1zM533.3 54.6h1v1h-1zM522.4 47.9h1v1h-1zM526.7 42.8h1v1h-1zM503.9 57h1v1h-1zM530 51.4h1v1h-1zM504.4 51.6h1v1h-1zM504.4 41.6h1v1h-1zM505.6 65.3h1v1h-1zM520.4 40.1h1v1h-1zM498.5 47.9h1v1h-1zM518.6 40.7h1v1h-1zM523.7 51.2h1v1h-1zM523.1 60.3h1v1h-1zM522.3 56.7h1v1h-1zM524.2 53.3h1v1h-1zM527.1 34.9h1v1h-1zM525.1 35.8h1v1h-1zM522.7 53.1h1v1h-1zM533.4 50.8h1v1h-1zM517.7 38.2h1v1h-1zM506.4 49.6h1v1h-1zM523.1 59.1h1v1h-1zM535.5 57.6h1v1h-1zM524.8 57.4h1v1h-1zM504.8 36.8h1v1h-1zM523.3 49.5h1v1h-1zM515.8 49.9h1v1h-1zM512.7 40.4h1v1h-1zM521.1 65.6h1v1h-1zM511.6 47.7h1v1h-1zM506.3 48.5h1v1h-1zM526.5 55.1h1v1h-1zM512.8 64h1v1h-1zM536.3 61.9h1v1h-1zM502.1 39.9h1v1h-1zM518 43.9h1v1h-1zM510.7 60.4h1v1h-1zM522.4 52.4h1v1h-1zM539.6 55.4h1v1h-1zM528.7 55h1v1h-1zM507.5 48.8h1v1h-1zM519.5 43.5h1v1h-1zM525.8 45.6h1v1h-1zM529.2 36h1v1h-1zM514.6 54.9h1v1h-1zM498 64.4h1v1h-1zM528.2 52.3h1v1h-1zM502.5 59.1h1v1h-1zM500.9 62.9h1v1h-1zM540.3 60.4h1v1h-1zM520.6 35.6h1v1h-1zM519.6 31.8h1v1h-1zM511.8 51.8h1v1h-1zM519.4 60.9h1v1h-1zM529.1 54.7h1v1h-1zM507.7 50.8h1v1h-1zM526 47.5h1v1h-1zM520.5 54.5h1v1h-1zM524.9 40.2h1v1h-1zM517.2 38.2h1v1h-1zM534.4 46.3h1v1h-1zM528.6 42.9h1v1h-1zM526.9 26h1v1h-1zM519.5 45.2h1v1h-1zM526 57.8h1v1h-1zM523.2 42.6h1v1h-1zM522.8 56.9h1v1h-1zM531.9 64.9h1v1h-1zM509.9 30.1h1v1h-1zM509.6 54.9h1v1h-1zM536.2 47h1v1h-1zM523.9 48.7h1v1h-1zM497.9 41.7h1v1h-1zM513.8 39.3h1v1h-1zM516.1 44.4h1v1h-1zM517.6 39.4h1v1h-1zM534.7 59.3h1v1h-1zM524 44.6h1v1h-1zM498.5 59.1h1v1h-1zM519.3 43.6h1v1h-1zM521.6 37.3h1v1h-1zM503.9 48.6h1v1h-1zM506.5 55.1h1v1h-1zM534.6 48.3h1v1h-1zM500.2 60.1h1v1h-1zM528.6 41.2h1v1h-1zM505.6 53.6h1v1h-1zM531.4 43.9h1v1h-1zM499.9 55.2h1v1h-1zM534.1 61.6h1v1h-1zM498.8 59.1h1v1h-1zM525.3 34.9h1v1h-1zM510.5 57.1h1v1h-1zM528.2 43.7h1v1h-1zM525.1 47.4h1v1h-1zM510.9 60.4h1v1h-1zM504.1 57.7h1v1h-1zM515.2 50.5h1v1h-1zM505.2 53.1h1v1h-1zM522.3 45.1h1v1h-1zM526.1 60.4h1v1h-1zM523.7 55.2h1v1h-1zM532 38.5h1v1h-1zM527.1 51.6h1v1h-1zM510 34.3h1v1h-1zM509.3 31.7h1v1h-1zM525.2 60.6h1v1h-1zM528.5 35h1v1h-1zM521.4 30.2h1v1h-1zM514.6 60.2h1v1h-1zM520.5 47.9h1v1h-1zM522.1 35.1h1v1h-1zM526.3 52.1h1v1h-1zM524 42.6h1v1h-1zM528.1 43.9h1v1h-1zM518.6 41.8h1v1h-1zM502.9 58.4h1v1h-1zM524.3 50.7h1v1h-1zM523.1 42.3h1v1h-1zM528.9 33h1v1h-1zM519.8 54.2h1v1h-1zM501.7 41.4h1v1h-1zM509.2 48h1v1h-1zM528.1 49.9h1v1h-1zM519 36.9h1v1h-1zM509.9 46.3h1v1h-1zM527.6 48h1v1h-1zM517 29.3h1v1h-1zM519.5 64.1h1v1h-1zM520.7 25.9h1v1h-1zM498.8 52.6h1v1h-1zM516.4 60.9h1v1h-1zM535.2 49h1v1h-1zM500.2 64.6h1v1h-1zM509.2 55.1h1v1h-1zM519.3 42.8h1v1h-1zM507.7 30.6h1v1h-1zM529.3 34.8h1v1h-1zM513.7 57.1h1v1h-1zM527.7 47.2h1v1h-1zM513.1 64h1v1h-1zM529.9 60.2h1v1h-1zM532.3 50.8h1v1h-1zM500.3 50.3h1v1h-1zM502.6 40.3h1v1h-1zM526.6 44.3h1v1h-1zM542.4 53.5h1v1h-1zM518.2 44.3h1v1h-1zM514.4 50.2h1v1h-1zM531 51.7h1v1h-1zM512.2 52.5h1v1h-1zM503.3 61h1v1h-1zM501.2 50.6h1v1h-1zM516 39.4h1v1h-1zM515.9 55.9h1v1h-1zM505.2 65.5h1v1h-1zM508.7 38.5h1v1h-1zM512.5 44.7h1v1h-1zM514.1 46.2h1v1h-1zM497.8 60.8h1v1h-1zM532.9 55.3h1v1h-1zM533.4 58.2h1v1h-1zM501.4 59h1v1h-1zM528.5 51.2h1v1h-1zM510.1 50.8h1v1h-1zM502 54.3h1v1h-1zM522.9 36.9h1v1h-1zM499.1 57.8h1v1h-1zM512.4 37.7h1v1h-1zM514.8 61.8h1v1h-1zM538.7 43.5h1v1h-1zM526.2 42.1h1v1h-1zM514.6 46.9h1v1h-1zM505.3 53.7h1v1h-1zM508.3 49.3h1v1h-1zM537.3 53.9h1v1h-1zM526 41.3h1v1h-1zM524.8 61.6h1v1h-1zM515.4 64.4h1v1h-1zM518.9 51.5h1v1h-1zM541.5 43.2h1v1h-1zM528.8 47.8h1v1h-1zM527.2 49.8h1v1h-1zM517.5 47.2h1v1h-1zM540.4 53.5h1v1h-1zM529.3 48.2h1v1h-1zM521.6 51h1v1h-1zM535.2 54.6h1v1h-1zM538.8 58.7h1v1h-1zM524.9 56.5h1v1h-1zM519.9 50.2h1v1h-1zM522.6 40.7h1v1h-1zM504.6 49h1v1h-1zM524.5 37.8h1v1h-1zM508.3 64.5h1v1h-1zM531 57.1h1v1h-1zM526 58.6h1v1h-1zM506.5 51h1v1h-1zM500.6 64.9h1v1h-1zM530.4 40h1v1h-1zM527.8 32.3h1v1h-1zM510.8 43.9h1v1h-1zM508.8 63.5h1v1h-1zM531.7 58.5h1v1h-1zM529 44h1v1h-1zM521.4 50.4h1v1h-1zM522.5 49.2h1v1h-1zM516.7 44.8h1v1h-1zM535.7 59.4h1v1h-1zM517 49.2h1v1h-1zM527.8 55h1v1h-1zM508.2 47.4h1v1h-1zM531.3 46.2h1v1h-1zM532.5 58.7h1v1h-1zM524.8 50.6h1v1h-1zM506.7 57.9h1v1h-1zM502.3 64.6h1v1h-1zM532.3 53.1h1v1h-1zM511.4 54.4h1v1h-1zM523.6 37.9h1v1h-1zM517.6 34.8h1v1h-1zM520.6 34.8h1v1h-1zM540.5 56.1h1v1h-1zM513.3 53.5h1v1h-1zM531.4 42.1h1v1h-1zM513.6 62h1v1h-1zM525.3 57.2h1v1h-1zM521.3 42.2h1v1h-1zM509 47.5h1v1h-1zM513.7 61.3h1v1h-1zM523.8 52.2h1v1h-1zM500.7 53.1h1v1h-1zM541.9 52.3h1v1h-1zM514.8 61h1v1h-1zM532.4 55.9h1v1h-1zM527.8 47.7h1v1h-1zM514.1 55.8h1v1h-1zM503.3 52.2h1v1h-1zM517.1 51.8h1v1h-1zM505 53.7h1v1h-1zM516.9 56.2h1v1h-1zM532.9 50.7h1v1h-1zM509.1 53.1h1v1h-1zM530.8 42.9h1v1h-1zM502.2 36.5h1v1h-1zM508.5 60.3h1v1h-1zM504.2 65.2h1v1h-1zM523.2 49.7h1v1h-1zM514.1 36.4h1v1h-1zM504.7 29.7h1v1h-1zM522.4 50.3h1v1h-1zM510.5 54h1v1h-1zM517.9 55h1v1h-1zM506.1 59.5h1v1h-1zM515.5 46.1h1v1h-1zM507.9 52.5h1v1h-1zM510.9 51.8h1v1h-1zM503.6 27.8h1v1h-1zM529.3 49.7h1v1h-1zM508.4 60.5h1v1h-1zM525.1 45.4h1v1h-1zM513.4 45.6h1v1h-1zM526.3 53.6h1v1h-1zM499.8 62.9h1v1h-1zM526.8 57.8h1v1h-1zM498.9 62.5h1v1h-1zM530.3 43h1v1h-1zM527.4 51h1v1h-1zM525.6 41.2h1v1h-1zM524.1 41h1v1h-1zM530.7 42.6h1v1h-1zM531 56.5h1v1h-1zM530.8 55h1v1h-1zM517.3 55.4h1v1h-1zM501.3 46.7h1v1h-1zM508.6 47.5h1v1h-1zM499.1 39.7h1v1h-1zM498.5 55.8h1v1h-1zM500.9 57h1v1h-1zM503.2 60.9h1v1h-1zM506.8 60.9h1v1h-1zM532.4 53.4h1v1h-1zM517 51h1v1h-1zM506.9 39.9h1v1h-1zM516 53.5h1v1h-1zM502.8 54.1h1v1h-1zM532.9 63.2h1v1h-1zM511.1 52.9h1v1h-1zM528.9 61.4h1v1h-1zM509.2 46.8h1v1h-1zM527.1 51.7h1v1h-1zM502.4 39.8h1v1h-1zM505.9 63.1h1v1h-1zM527.6 33h1v1h-1zM503.4 36.9h1v1h-1zM526.6 57.2h1v1h-1zM521.3 43.3h1v1h-1zM526.8 60.4h1v1h-1zM500.1 63.2h1v1h-1zM524.3 46.4h1v1h-1zM498.6 45.3h1v1h-1zM538.6 60.2h1v1h-1zM521.6 42.8h1v1h-1zM520 42.7h1v1h-1zM514.7 59.1h1v1h-1zM498.7 61.5h1v1h-1zM530.9 48.1h1v1h-1zM513.8 42.3h1v1h-1zM536.9 50.9h1v1h-1zM512.9 60.7h1v1h-1zM499.6 64.2h1v1h-1zM530.4 38.8h1v1h-1zM523.8 36.3h1v1h-1zM536.3 48.2h1v1h-1zM512.9 54.2h1v1h-1zM513.2 37.3h1v1h-1zM531.5 59.1h1v1h-1zM517.1 43.2h1v1h-1zM499 46.7h1v1h-1zM501.9 45.3h1v1h-1zM512.1 56h1v1h-1zM502.7 51.4h1v1h-1zM528.9 42.8h1v1h-1zM514.3 52.3h1v1h-1zM536 56.9h1v1h-1zM519.1 57h1v1h-1zM531.9 51.1h1v1h-1zM512 49.4h1v1h-1zM504.4 50h1v1h-1zM521.5 39.7h1v1h-1zM534.3 51.7h1v1h-1zM534 56.6h1v1h-1zM516.4 55.2h1v1h-1zM530.4 39.6h1v1h-1zM525 41.3h1v1h-1zM510.7 61.2h1v1h-1zM537.9 58.4h1v1h-1zM521.5 41.3h1v1h-1zM514.5 45.5h1v1h-1zM508.9 47h1v1h-1zM527.5 50.8h1v1h-1zM512.8 41.5h1v1h-1zM530.3 31.2h1v1h-1zM522.9 50.3h1v1h-1zM509.5 38.4h1v1h-1zM506.8 64.9h1v1h-1zM498.6 49.1h1v1h-1zM512.4 36.1h1v1h-1zM522.4 39.3h1v1h-1zM511.2 51.3h1v1h-1zM527.3 57.8h1v1h-1zM522.2 29.6h1v1h-1zM503.8 49.2h1v1h-1zM526.5 54.1h1v1h-1zM504.3 49.7h1v1h-1zM529.2 39.4h1v1h-1zM525.2 45.4h1v1h-1zM520 46.1h1v1h-1zM530.3 42.4h1v1h-1zM528.6 56.6h1v1h-1zM530 47.5h1v1h-1zM524.5 50.9h1v1h-1zM525.6 59.1h1v1h-1zM508.5 52.8h1v1h-1zM500.1 41.4h1v1h-1zM540.3 54.4h1v1h-1zM499.7 51.8h1v1h-1zM507.7 52.5h1v1h-1zM533.2 49.8h1v1h-1zM506.7 61.7h1v1h-1zM516.2 36.2h1v1h-1zM517.8 57.5h1v1h-1zM514.6 47.7h1v1h-1zM517.2 52.8h1v1h-1zM538.3 55.8h1v1h-1zM502.6 47.1h1v1h-1zM520.4 62h1v1h-1zM526.4 38.1h1v1h-1zM526.2 43.6h1v1h-1zM527.8 63.1h1v1h-1zM525.1 44h1v1h-1zM512.7 64.3h1v1h-1zM534.8 47.5h1v1h-1zM508.9 59.9h1v1h-1zM516.5 56.1h1v1h-1zM501.7 49.3h1v1h-1zM522.6 47.9h1v1h-1zM500 59.9h1v1h-1zM509 44.6h1v1h-1zM500.7 62.1h1v1h-1zM514.4 36.7h1v1h-1zM531.3 46.3h1v1h-1zM507.9 62h1v1h-1zM530 47.7h1v1h-1zM519.4 42.4h1v1h-1zM539.3 58.6h1v1h-1zM515.4 54.2h1v1h-1zM504.5 42.4h1v1h-1zM529.9 48h1v1h-1zM507.2 53.2h1v1h-1zM498.2 49.7h1v1h-1zM520.1 29.5h1v1h-1zM538.2 32.3h1v1h-1zM509.1 59h1v1h-1zM520.5 36.3h1v1h-1zM526.1 55.2h1v1h-1zM526.8 29.5h1v1h-1zM530.6 63.4h1v1h-1zM518 52.2h1v1h-1zM508.9 48.1h1v1h-1zM504.6 45.6h1v1h-1zM507.3 28.9h1v1h-1zM500.5 36.2h1v1h-1zM521.5 55.9h1v1h-1zM512.5 52.4h1v1h-1zM530.4 49.3h1v1h-1zM530.7 45h1v1h-1zM520.4 61.3h1v1h-1zM507.6 62.8h1v1h-1zM510 61.7h1v1h-1zM536.2 59.5h1v1h-1zM523.1 47.5h1v1h-1zM526.4 41.2h1v1h-1zM501.6 52h1v1h-1zM510 38.6h1v1h-1zM504.4 58.3h1v1h-1zM523.3 59.3h1v1h-1zM499 48.3h1v1h-1zM510.5 46h1v1h-1zM520.5 46.8h1v1h-1zM539.1 43.1h1v1h-1zM527.7 47.2h1v1h-1zM521 41.7h1v1h-1zM501 40.3h1v1h-1zM514.2 48.6h1v1h-1zM517 46.3h1v1h-1zM519.6 46.3h1v1h-1zM533.1 61.7h1v1h-1zM522.7 41.1h1v1h-1zM531.1 43.8h1v1h-1zM508.4 64h1v1h-1zM498 50.2h1v1h-1zM522.3 40.3h1v1h-1zM502.7 25.9h1v1h-1zM499 51h1v1h-1zM541.5 63.2h1v1h-1zM500.8 41.3h1v1h-1zM527.7 49.8h1v1h-1zM519.5 44.7h1v1h-1zM522.4 53h1v1h-1zM537.6 53h1v1h-1zM510.8 48h1v1h-1zM534.7 48.7h1v1h-1zM516.4 64.2h1v1h-1zM530.2 54.3h1v1h-1zM520.1 44.7h1v1h-1z" fill="#46085c"/><defs><filter id="qcb" x="-30%" y="-30%" width="160%" height="160%"><feGaussianBlur stdDeviation="1.1"/></filter></defs><g transform="rotate(-30 527 47.4)" filter="url(#qcb)"><ellipse cx="527" cy="47.4" rx="9.6" ry="14.6" fill="#471567"/><ellipse cx="527" cy="47.4" rx="8.4" ry="12.6" fill="#46307e"/><ellipse cx="527" cy="47.4" rx="7.6" ry="10.4" fill="#3d4b8a"/><ellipse cx="527" cy="47.4" rx="6.4" ry="8.6" fill="#31688e"/><ellipse cx="527" cy="47.4" rx="5.2" ry="7.0" fill="#26828e"/><ellipse cx="527" cy="47.4" rx="4.1" ry="5.6" fill="#1f9e89"/><ellipse cx="527" cy="47.4" rx="3.1" ry="4.3" fill="#35b779"/><ellipse cx="527" cy="47.4" rx="2.2" ry="3.1" fill="#6ece58"/><ellipse cx="527" cy="47.4" rx="1.4" ry="2.0" fill="#b5de2b"/><ellipse cx="527" cy="47.4" rx="0.8" ry="1.2" fill="#fde725"/></g><text x="493.4" y="27" font-size="5.2" text-anchor="end" fill="#333">30</text><path d="M494.4 25.2h2.1" stroke="#666" stroke-width="0.35"/><text x="493.4" y="34.1" font-size="5.2" text-anchor="end" fill="#333">25</text><path d="M494.4 32.3h2.1" stroke="#666" stroke-width="0.35"/><text x="493.4" y="41.2" font-size="5.2" text-anchor="end" fill="#333">20</text><path d="M494.4 39.4h2.1" stroke="#666" stroke-width="0.35"/><text x="493.4" y="48.3" font-size="5.2" text-anchor="end" fill="#333">15</text><path d="M494.4 46.5h2.1" stroke="#666" stroke-width="0.35"/><text x="493.4" y="55.3" font-size="5.2" text-anchor="end" fill="#333">10</text><path d="M494.4 53.5h2.1" stroke="#666" stroke-width="0.35"/><text x="493.4" y="62.4" font-size="5.2" text-anchor="end" fill="#333">5</text><path d="M494.4 60.6h2.1" stroke="#666" stroke-width="0.35"/><text x="498.5" y="74.6" font-size="5.2" text-anchor="middle" fill="#333">2.5</text><path d="M498.5 66.5v1.8" stroke="#666" stroke-width="0.35"/><text x="508.4" y="74.6" font-size="5.2" text-anchor="middle" fill="#333">3.0</text><path d="M508.4 66.5v1.8" stroke="#666" stroke-width="0.35"/><text x="518.3" y="74.6" font-size="5.2" text-anchor="middle" fill="#333">3.5</text><path d="M518.3 66.5v1.8" stroke="#666" stroke-width="0.35"/><text x="528.2" y="74.6" font-size="5.2" text-anchor="middle" fill="#333">4.0</text><path d="M528.2 66.5v1.8" stroke="#666" stroke-width="0.35"/><text x="538.6" y="74.6" font-size="5.2" text-anchor="middle" fill="#333">4.5</text><path d="M538.6 66.5v1.8" stroke="#666" stroke-width="0.35"/><text x="519.6" y="84.3" font-size="6.3" text-anchor="middle">log_nb_features</text><text x="520" y="93.6" font-size="6.9" text-anchor="middle">QC filtering</text><text x="482.6" y="45.5" font-size="6.4" text-anchor="middle" transform="rotate(-90 482.6 45.5)">TSS enrichment</text>
<path d="M354.5 93.5V96.5" stroke="#333" stroke-width="0.5"/><circle cx="354.5" cy="91.2" r="2.6" fill="#4caf50" stroke="#6d4c41" stroke-width="0.3"/><text x="360.8" y="93.1" font-size="5.1">H3K27ac</text><path d="M354.5 106.5V109.5" stroke="#333" stroke-width="0.5"/><circle cx="354.5" cy="104.2" r="2.6" fill="#d04848" stroke="#6d4c41" stroke-width="0.3"/><text x="360.8" y="106" font-size="5.1">H3K27me3</text><path d="M354.5 112.2V116.4L351.3 120.4M354.5 116.4L357.7 120.4" stroke="#d88a2c" stroke-width="1.5" stroke-linecap="round" stroke-linejoin="round" fill="none"/><text x="360.8" y="117.3" font-size="5.1">Anti-H3K27ac</text><text x="360.8" y="123" font-size="5.1">antibody</text><path d="M354.5 126.2V130.4L351.3 134.4M354.5 130.4L357.7 134.4" stroke="#3a4a70" stroke-width="1.5" stroke-linecap="round" stroke-linejoin="round" fill="none"/><text x="360.8" y="131" font-size="5.1">Anti-H3K27me3</text><text x="360.8" y="136.6" font-size="5.1">antibody</text><path d="M402 89.4L401.3 86.6M408.6 89.4L409.3 86.6" stroke="#5cb85c" stroke-width="0.5"/><g transform="translate(405.3 91.6) scale(0.55)" fill="#b49bd6"><circle cx="-3.3" cy="0" r="4"/><circle cx="3.3" cy="0" r="4"/><circle cx="-4.5" cy="-2" r="2.2"/><circle cx="4.5" cy="-2" r="2.2"/><circle cx="-2" cy="2.2" r="2.3"/><circle cx="2" cy="2.2" r="2.3"/></g><g fill="#d48a1c"><circle cx="404.3" cy="96.2" r="1.5"/><circle cx="406.3" cy="95.9" r="1.5"/><circle cx="405.3" cy="97.6" r="1.3"/></g><path d="M402 107.4L401.3 104.6M408.6 107.4L409.3 104.6" stroke="#ee3030" stroke-width="0.5"/><g transform="translate(405.3 109.6) scale(0.55)" fill="#b49bd6"><circle cx="-3.3" cy="0" r="4"/><circle cx="3.3" cy="0" r="4"/><circle cx="-4.5" cy="-2" r="2.2"/><circle cx="4.5" cy="-2" r="2.2"/><circle cx="-2" cy="2.2" r="2.3"/><circle cx="2" cy="2.2" r="2.3"/></g><g fill="#1f4e80"><circle cx="404.3" cy="114.2" r="1.5"/><circle cx="406.3" cy="113.9" r="1.5"/><circle cx="405.3" cy="115.6" r="1.3"/></g><text x="413.2" y="94.6" font-size="5.1">Rabbit nb-Tn5</text><text x="413.2" y="100.7" font-size="5.1">(barcode-B)</text><text x="413.2" y="112.4" font-size="5.1">Mouse nb-Tn5</text><text x="413.2" y="118.5" font-size="5.1">(barcode-A)</text><g transform="translate(405.3 129) scale(0.55)" fill="#b49bd6"><circle cx="-3.3" cy="0" r="4"/><circle cx="3.3" cy="0" r="4"/><circle cx="-4.5" cy="-2" r="2.2"/><circle cx="4.5" cy="-2" r="2.2"/><circle cx="-2" cy="2.2" r="2.3"/><circle cx="2" cy="2.2" r="2.3"/></g><path d="M402.5 131.8L401.8 134.5" stroke="#ee3030" stroke-width="0.5"/><path d="M408.1 131.8L408.8 134.5" stroke="#2a6de0" stroke-width="0.5"/><text x="413.2" y="131.4" font-size="5.1">Tn5</text>
<defs><pattern id="cspk" patternUnits="userSpaceOnUse" width="20" height="20"><path d="M16.0 6.5h1.1v1.2h-1.1zM16.5 2.3h1.5v1.2h-1.5zM11.2 12.2h1.0v1.2h-1.0zM12.6 10.0h2.0v1.2h-2.0zM0.6 19.1h1.0v1.2h-1.0zM16.3 10.1h2.0v1.2h-2.0zM3.7 6.4h0.9v1.2h-0.9zM15.6 10.7h1.1v1.2h-1.1zM3.8 1.6h1.1v1.2h-1.1zM11.2 8.8h1.8v1.2h-1.8zM1.5 16.8h2.2v1.2h-2.2zM14.8 14.9h2.0v1.2h-2.0zM1.9 9.2h0.9v1.2h-0.9zM15.6 10.8h0.9v1.2h-0.9zM8.9 15.5h1.6v1.2h-1.6zM2.4 18.7h0.9v1.2h-0.9zM16.9 19.5h1.9v1.2h-1.9zM18.9 10.6h1.1v1.2h-1.1zM9.4 14.8h1.9v1.2h-1.9zM7.7 18.9h0.8v1.2h-0.8zM9.9 0.8h1.3v1.2h-1.3zM19.8 2.4h2.2v1.2h-2.2zM18.1 13.8h0.9v1.2h-0.9zM9.4 13.8h0.9v1.2h-0.9zM6.0 1.8h2.0v1.2h-2.0zM18.3 18.5h1.9v1.2h-1.9zM11.5 1.2h1.5v1.2h-1.5zM15.2 15.1h0.8v1.2h-0.8zM0.2 1.8h2.1v1.2h-2.1zM2.3 7.8h1.5v1.2h-1.5zM17.7 2.7h1.2v1.2h-1.2zM15.4 1.7h1.0v1.2h-1.0zM0.5 19.2h1.1v1.2h-1.1zM10.0 7.6h2.2v1.2h-2.2zM14.2 12.0h1.5v1.2h-1.5zM5.4 16.8h0.9v1.2h-0.9zM12.4 5.9h1.2v1.2h-1.2zM9.1 3.8h1.6v1.2h-1.6zM1.4 0.4h1.0v1.2h-1.0zM1.8 17.6h1.5v1.2h-1.5zM13.6 15.6h1.0v1.2h-1.0zM19.0 7.7h1.4v1.2h-1.4zM9.8 13.9h1.9v1.2h-1.9zM3.9 16.6h1.4v1.2h-1.4zM5.0 17.3h2.0v1.2h-2.0zM17.2 6.5h2.1v1.2h-2.1zM15.5 19.4h1.9v1.2h-1.9zM20.0 9.6h1.8v1.2h-1.8zM15.6 10.5h1.5v1.2h-1.5zM8.0 17.4h1.3v1.2h-1.3zM14.9 11.2h1.8v1.2h-1.8zM6.2 1.6h1.7v1.2h-1.7zM2.9 7.2h1.9v1.2h-1.9zM1.0 18.2h1.6v1.2h-1.6zM11.2 13.5h0.9v1.2h-0.9zM0.4 14.4h1.6v1.2h-1.6zM12.8 16.5h1.2v1.2h-1.2zM3.2 19.4h0.9v1.2h-0.9zM10.3 12.5h2.1v1.2h-2.1zM1.7 14.0h0.9v1.2h-0.9z" fill="#fff" opacity="0.35"/></pattern><linearGradient id="cwg" x1="0" y1="1" x2="0" y2="0"><stop offset="0" stop-color="#3b4cc0"/><stop offset="0.25" stop-color="#7b9ff9"/><stop offset="0.5" stop-color="#dddddd"/><stop offset="0.75" stop-color="#f49a7b"/><stop offset="1" stop-color="#b40426"/></linearGradient></defs>
<text x="233.5" y="153.3" font-size="13.5" font-weight="bold" fill="#000" stroke="#000" stroke-width="0.55">c</text>
<text x="270" y="158.3" font-size="6.2" text-anchor="middle" font-style="italic">SOX10</text>
<g transform="translate(249 160.7) scale(0.238 0.219) translate(-26 -141)"><use href="#u_cbex_top" fill="#8fa6ee" opacity="0.6"/><use href="#u_cbinh" fill="#5470de"/><use href="#u_migl" fill="#5470de"/><use href="#u_endo" fill="#5470de"/><use href="#u_cxex_cyan" fill="#5470de"/><use href="#u_cxex_green" fill="#5470de"/><use href="#u_salmon" fill="#5470de" opacity="0.45"/><use href="#u_cxinh" fill="#5470de"/><use href="#u_ast_tail" fill="#7d93e6" opacity="0.45"/><use href="#u_ast" fill="#5470de"/><use href="#u_opc" fill="#dca090"/><use href="#u_cbex_blue" fill="#5470de"/><use href="#u_cbex_pink" fill="#5470de"/><use href="#u_mol_brown" fill="#dc7060"/><use href="#u_mol_green" fill="#dc7060"/><use href="#u_mol_orange" fill="#dc7060"/><use href="#u_mol_mix" fill="#dc7060"/><use href="#u_mol_olive" fill="#e8968a"/></g><g transform="translate(249 160.7) scale(0.238 0.219) translate(-26 -141)" fill="url(#cspk)"><use href="#u_mol_green"/><use href="#u_mol_orange"/><use href="#u_mol_brown"/><use href="#u_cbex_blue"/><use href="#u_cbex_pink"/><use href="#u_ast"/><use href="#u_opc"/><use href="#u_migl"/><use href="#u_cxex_cyan"/><use href="#u_cxinh"/></g>
<rect x="291.6" y="158.4" width="1.8" height="43.3" fill="url(#cwg)"/><path d="M293.4 159.9h1" stroke="#333" stroke-width="0.4"/><text x="294.9" y="161.2" font-size="3.6" fill="#444">1.25</text><path d="M293.4 168.7h1" stroke="#333" stroke-width="0.4"/><text x="294.9" y="170" font-size="3.6" fill="#444">1.00</text><path d="M293.4 177.6h1" stroke="#333" stroke-width="0.4"/><text x="294.9" y="178.9" font-size="3.6" fill="#444">0.75</text><path d="M293.4 186.4h1" stroke="#333" stroke-width="0.4"/><text x="294.9" y="187.7" font-size="3.6" fill="#444">0.50</text><path d="M293.4 195.2h1" stroke="#333" stroke-width="0.4"/><text x="294.9" y="196.5" font-size="3.6" fill="#444">0.25</text>
<text x="328.4" y="158.3" font-size="6.2" text-anchor="middle" font-style="italic">PLP1</text>
<g transform="translate(307.4 160.7) scale(0.238 0.219) translate(-26 -141)"><use href="#u_cbex_top" fill="#8fa6ee" opacity="0.6"/><use href="#u_cbinh" fill="#5470de"/><use href="#u_migl" fill="#5470de"/><use href="#u_endo" fill="#5470de"/><use href="#u_cxex_cyan" fill="#5470de"/><use href="#u_cxex_green" fill="#5470de"/><use href="#u_salmon" fill="#5470de" opacity="0.45"/><use href="#u_cxinh" fill="#5470de"/><use href="#u_ast_tail" fill="#7d93e6" opacity="0.45"/><use href="#u_ast" fill="#5470de"/><use href="#u_opc" fill="#7d93e6"/><use href="#u_cbex_blue" fill="#5470de"/><use href="#u_cbex_pink" fill="#5470de"/><use href="#u_mol_brown" fill="#e8968a"/><use href="#u_mol_green" fill="#e8968a"/><use href="#u_mol_orange" fill="#e0826a"/><use href="#u_mol_mix" fill="#e8968a"/><use href="#u_mol_olive" fill="#e6a898"/></g><g transform="translate(307.4 160.7) scale(0.238 0.219) translate(-26 -141)" fill="url(#cspk)"><use href="#u_mol_green"/><use href="#u_mol_orange"/><use href="#u_mol_brown"/><use href="#u_cbex_blue"/><use href="#u_cbex_pink"/><use href="#u_ast"/><use href="#u_opc"/><use href="#u_migl"/><use href="#u_cxex_cyan"/><use href="#u_cxinh"/></g>
<rect x="349.8" y="158.4" width="1.8" height="43.3" fill="url(#cwg)"/><path d="M351.6 159.9h1" stroke="#333" stroke-width="0.4"/><text x="353.1" y="161.2" font-size="3.6" fill="#444">1.0</text><path d="M351.6 168.7h1" stroke="#333" stroke-width="0.4"/><text x="353.1" y="170" font-size="3.6" fill="#444">0.8</text><path d="M351.6 177.6h1" stroke="#333" stroke-width="0.4"/><text x="353.1" y="178.9" font-size="3.6" fill="#444">0.6</text><path d="M351.6 186.4h1" stroke="#333" stroke-width="0.4"/><text x="353.1" y="187.7" font-size="3.6" fill="#444">0.4</text><path d="M351.6 195.2h1" stroke="#333" stroke-width="0.4"/><text x="353.1" y="196.5" font-size="3.6" fill="#444">0.2</text>
<text x="386.8" y="158.3" font-size="6.2" text-anchor="middle" font-style="italic">PDGFRA</text>
<g transform="translate(365.8 160.7) scale(0.238 0.219) translate(-26 -141)"><use href="#u_cbex_top" fill="#8fa6ee" opacity="0.6"/><use href="#u_cbinh" fill="#5470de"/><use href="#u_migl" fill="#5470de"/><use href="#u_endo" fill="#5470de"/><use href="#u_cxex_cyan" fill="#5470de"/><use href="#u_cxex_green" fill="#5470de"/><use href="#u_salmon" fill="#5470de" opacity="0.45"/><use href="#u_cxinh" fill="#5470de"/><use href="#u_ast_tail" fill="#5470de" opacity="0.45"/><use href="#u_ast" fill="#5470de"/><use href="#u_opc" fill="#d65a48"/><use href="#u_cbex_blue" fill="#5470de"/><use href="#u_cbex_pink" fill="#5470de"/><use href="#u_mol_brown" fill="#5574e0"/><use href="#u_mol_green" fill="#5574e0"/><use href="#u_mol_orange" fill="#5574e0"/><use href="#u_mol_mix" fill="#5470de"/><use href="#u_mol_olive" fill="#6a84e6"/></g><g transform="translate(365.8 160.7) scale(0.238 0.219) translate(-26 -141)" fill="url(#cspk)"><use href="#u_mol_green"/><use href="#u_mol_orange"/><use href="#u_mol_brown"/><use href="#u_cbex_blue"/><use href="#u_cbex_pink"/><use href="#u_ast"/><use href="#u_opc"/><use href="#u_migl"/><use href="#u_cxex_cyan"/><use href="#u_cxinh"/></g>
<rect x="408" y="158.4" width="1.8" height="43.3" fill="url(#cwg)"/><path d="M409.8 159.9h1" stroke="#333" stroke-width="0.4"/><text x="411.3" y="161.2" font-size="3.6" fill="#444">1.0</text><path d="M409.8 168.7h1" stroke="#333" stroke-width="0.4"/><text x="411.3" y="170" font-size="3.6" fill="#444">0.8</text><path d="M409.8 177.6h1" stroke="#333" stroke-width="0.4"/><text x="411.3" y="178.9" font-size="3.6" fill="#444">0.6</text><path d="M409.8 186.4h1" stroke="#333" stroke-width="0.4"/><text x="411.3" y="187.7" font-size="3.6" fill="#444">0.4</text><path d="M409.8 195.2h1" stroke="#333" stroke-width="0.4"/><text x="411.3" y="196.5" font-size="3.6" fill="#444">0.2</text>
<text x="270" y="209.5" font-size="6.2" text-anchor="middle" font-style="italic">GFAP</text>
<g transform="translate(249 211.7) scale(0.238 0.219) translate(-26 -141)"><use href="#u_cbex_top" fill="#8fa6ee" opacity="0.6"/><use href="#u_cbinh" fill="#5470de"/><use href="#u_migl" fill="#5470de"/><use href="#u_endo" fill="#5470de"/><use href="#u_cxex_cyan" fill="#5470de"/><use href="#u_cxex_green" fill="#5470de"/><use href="#u_salmon" fill="#5470de" opacity="0.45"/><use href="#u_cxinh" fill="#5470de"/><use href="#u_ast_tail" fill="#b8c4ee" opacity="0.45"/><use href="#u_ast" fill="#d4503e"/><use href="#u_opc" fill="#7f96e8"/><use href="#u_cbex_blue" fill="#5470de"/><use href="#u_cbex_pink" fill="#5470de"/><use href="#u_mol_brown" fill="#5470de"/><use href="#u_mol_green" fill="#5470de"/><use href="#u_mol_orange" fill="#5470de"/><use href="#u_mol_mix" fill="#5470de"/><use href="#u_mol_olive" fill="#5470de"/></g><g transform="translate(249 211.7) scale(0.238 0.219) translate(-26 -141)" fill="url(#cspk)"><use href="#u_mol_green"/><use href="#u_mol_orange"/><use href="#u_mol_brown"/><use href="#u_cbex_blue"/><use href="#u_cbex_pink"/><use href="#u_ast"/><use href="#u_opc"/><use href="#u_migl"/><use href="#u_cxex_cyan"/><use href="#u_cxinh"/></g>
<rect x="291.6" y="209.4" width="1.8" height="43.3" fill="url(#cwg)"/><path d="M293.4 210.9h1" stroke="#333" stroke-width="0.4"/><text x="294.9" y="212.2" font-size="3.6" fill="#444">1.5</text><path d="M293.4 228.6h1" stroke="#333" stroke-width="0.4"/><text x="294.9" y="229.9" font-size="3.6" fill="#444">1.0</text><path d="M293.4 246.2h1" stroke="#333" stroke-width="0.4"/><text x="294.9" y="247.5" font-size="3.6" fill="#444">0.5</text>
<text x="328.4" y="209.5" font-size="6.2" text-anchor="middle" font-style="italic">CX3CR1</text>
<g transform="translate(307.4 211.7) scale(0.238 0.219) translate(-26 -141)"><use href="#u_cbex_top" fill="#8fa6ee" opacity="0.6"/><use href="#u_cbinh" fill="#5470de"/><use href="#u_migl" fill="#d4503e"/><use href="#u_endo" fill="#5470de"/><use href="#u_cxex_cyan" fill="#5470de"/><use href="#u_cxex_green" fill="#5470de"/><use href="#u_salmon" fill="#5470de" opacity="0.45"/><use href="#u_cxinh" fill="#5470de"/><use href="#u_ast_tail" fill="#5470de" opacity="0.45"/><use href="#u_ast" fill="#5470de"/><use href="#u_opc" fill="#5470de"/><use href="#u_cbex_blue" fill="#5470de"/><use href="#u_cbex_pink" fill="#5470de"/><use href="#u_mol_brown" fill="#5470de"/><use href="#u_mol_green" fill="#5470de"/><use href="#u_mol_orange" fill="#5470de"/><use href="#u_mol_mix" fill="#5470de"/><use href="#u_mol_olive" fill="#5470de"/></g><g transform="translate(307.4 211.7) scale(0.238 0.219) translate(-26 -141)" fill="url(#cspk)"><use href="#u_mol_green"/><use href="#u_mol_orange"/><use href="#u_mol_brown"/><use href="#u_cbex_blue"/><use href="#u_cbex_pink"/><use href="#u_ast"/><use href="#u_opc"/><use href="#u_migl"/><use href="#u_cxex_cyan"/><use href="#u_cxinh"/></g>
<rect x="349.8" y="209.4" width="1.8" height="43.3" fill="url(#cwg)"/><path d="M351.6 210.9h1" stroke="#333" stroke-width="0.4"/><text x="353.1" y="212.2" font-size="3.6" fill="#444">0.3</text><path d="M351.6 222.7h1" stroke="#333" stroke-width="0.4"/><text x="353.1" y="224" font-size="3.6" fill="#444">0.2</text><path d="M351.6 234.4h1" stroke="#333" stroke-width="0.4"/><text x="353.1" y="235.7" font-size="3.6" fill="#444">0.1</text><path d="M351.6 246.2h1" stroke="#333" stroke-width="0.4"/><text x="353.1" y="247.5" font-size="3.6" fill="#444">0</text>
<text x="386.8" y="209.5" font-size="6.2" text-anchor="middle" font-style="italic">SLC17A7</text>
<g transform="translate(365.8 211.7) scale(0.238 0.219) translate(-26 -141)"><use href="#u_cbex_top" fill="#8fa6ee" opacity="0.6"/><use href="#u_cbinh" fill="#e08a74"/><use href="#u_migl" fill="#5470de"/><use href="#u_endo" fill="#5470de"/><use href="#u_cxex_cyan" fill="#e08a74"/><use href="#u_cxex_green" fill="#d65a48"/><use href="#u_salmon" fill="#5470de" opacity="0.45"/><use href="#u_cxinh" fill="#9aaaee"/><use href="#u_ast_tail" fill="#5470de" opacity="0.45"/><use href="#u_ast" fill="#5470de"/><use href="#u_opc" fill="#5470de"/><use href="#u_cbex_blue" fill="#c8c0d0"/><use href="#u_cbex_pink" fill="#e09a88"/><use href="#u_mol_brown" fill="#5470de"/><use href="#u_mol_green" fill="#5470de"/><use href="#u_mol_orange" fill="#5470de"/><use href="#u_mol_mix" fill="#5470de"/><use href="#u_mol_olive" fill="#5470de"/></g><g transform="translate(365.8 211.7) scale(0.238 0.219) translate(-26 -141)" fill="url(#cspk)"><use href="#u_mol_green"/><use href="#u_mol_orange"/><use href="#u_mol_brown"/><use href="#u_cbex_blue"/><use href="#u_cbex_pink"/><use href="#u_ast"/><use href="#u_opc"/><use href="#u_migl"/><use href="#u_cxex_cyan"/><use href="#u_cxinh"/></g>
<rect x="408" y="209.4" width="1.8" height="43.3" fill="url(#cwg)"/><path d="M409.8 210.9h1" stroke="#333" stroke-width="0.4"/><text x="411.3" y="212.2" font-size="3.6" fill="#444">1.0</text><path d="M409.8 219.7h1" stroke="#333" stroke-width="0.4"/><text x="411.3" y="221" font-size="3.6" fill="#444">0.8</text><path d="M409.8 228.6h1" stroke="#333" stroke-width="0.4"/><text x="411.3" y="229.9" font-size="3.6" fill="#444">0.6</text><path d="M409.8 237.4h1" stroke="#333" stroke-width="0.4"/><text x="411.3" y="238.7" font-size="3.6" fill="#444">0.4</text><path d="M409.8 246.2h1" stroke="#333" stroke-width="0.4"/><text x="411.3" y="247.5" font-size="3.6" fill="#444">0.2</text>
<text x="270" y="260.7" font-size="6.2" text-anchor="middle" font-style="italic">CUX2</text>
<g transform="translate(249 262.7) scale(0.238 0.219) translate(-26 -141)"><use href="#u_cbex_top" fill="#8fa6ee" opacity="0.6"/><use href="#u_cbinh" fill="#e8a090"/><use href="#u_migl" fill="#a8b8ec"/><use href="#u_endo" fill="#5470de"/><use href="#u_cxex_cyan" fill="#9aa8e6"/><use href="#u_cxex_green" fill="#d4503e"/><use href="#u_salmon" fill="#5470de" opacity="0.45"/><use href="#u_cxinh" fill="#5470de"/><use href="#u_ast_tail" fill="#5470de" opacity="0.45"/><use href="#u_ast" fill="#5470de"/><use href="#u_opc" fill="#5470de"/><use href="#u_cbex_blue" fill="#5470de"/><use href="#u_cbex_pink" fill="#5470de"/><use href="#u_mol_brown" fill="#5470de"/><use href="#u_mol_green" fill="#5470de"/><use href="#u_mol_orange" fill="#5470de"/><use href="#u_mol_mix" fill="#5470de"/><use href="#u_mol_olive" fill="#5470de"/></g><g transform="translate(249 262.7) scale(0.238 0.219) translate(-26 -141)" fill="url(#cspk)"><use href="#u_mol_green"/><use href="#u_mol_orange"/><use href="#u_mol_brown"/><use href="#u_cbex_blue"/><use href="#u_cbex_pink"/><use href="#u_ast"/><use href="#u_opc"/><use href="#u_migl"/><use href="#u_cxex_cyan"/><use href="#u_cxinh"/></g>
<rect x="291.6" y="260.4" width="1.8" height="43.3" fill="url(#cwg)"/><path d="M293.4 261.9h1" stroke="#333" stroke-width="0.4"/><text x="294.9" y="263.2" font-size="3.6" fill="#444">0.5</text><path d="M293.4 270.7h1" stroke="#333" stroke-width="0.4"/><text x="294.9" y="272" font-size="3.6" fill="#444">0.4</text><path d="M293.4 279.5h1" stroke="#333" stroke-width="0.4"/><text x="294.9" y="280.8" font-size="3.6" fill="#444">0.3</text><path d="M293.4 288.4h1" stroke="#333" stroke-width="0.4"/><text x="294.9" y="289.7" font-size="3.6" fill="#444">0.2</text><path d="M293.4 297.2h1" stroke="#333" stroke-width="0.4"/><text x="294.9" y="298.5" font-size="3.6" fill="#444">0.1</text>
<text x="328.4" y="260.7" font-size="6.2" text-anchor="middle" font-style="italic">GAD1</text>
<g transform="translate(307.4 262.7) scale(0.238 0.219) translate(-26 -141)"><use href="#u_cbex_top" fill="#8fa6ee" opacity="0.6"/><use href="#u_cbinh" fill="#d4503e"/><use href="#u_migl" fill="#5470de"/><use href="#u_endo" fill="#5470de"/><use href="#u_cxex_cyan" fill="#7890e6"/><use href="#u_cxex_green" fill="#5470de"/><use href="#u_salmon" fill="#5470de" opacity="0.45"/><use href="#u_cxinh" fill="#e09480"/><use href="#u_ast_tail" fill="#5470de" opacity="0.45"/><use href="#u_ast" fill="#5470de"/><use href="#u_opc" fill="#5470de"/><use href="#u_cbex_blue" fill="#5470de"/><use href="#u_cbex_pink" fill="#5470de"/><use href="#u_mol_brown" fill="#5470de"/><use href="#u_mol_green" fill="#5470de"/><use href="#u_mol_orange" fill="#5470de"/><use href="#u_mol_mix" fill="#5470de"/><use href="#u_mol_olive" fill="#5470de"/></g><g transform="translate(307.4 262.7) scale(0.238 0.219) translate(-26 -141)" fill="url(#cspk)"><use href="#u_mol_green"/><use href="#u_mol_orange"/><use href="#u_mol_brown"/><use href="#u_cbex_blue"/><use href="#u_cbex_pink"/><use href="#u_ast"/><use href="#u_opc"/><use href="#u_migl"/><use href="#u_cxex_cyan"/><use href="#u_cxinh"/></g>
<rect x="349.8" y="260.4" width="1.8" height="43.3" fill="url(#cwg)"/><path d="M351.6 261.9h1" stroke="#333" stroke-width="0.4"/><text x="353.1" y="263.2" font-size="3.6" fill="#444">0.8</text><path d="M351.6 273.7h1" stroke="#333" stroke-width="0.4"/><text x="353.1" y="275" font-size="3.6" fill="#444">0.6</text><path d="M351.6 285.4h1" stroke="#333" stroke-width="0.4"/><text x="353.1" y="286.7" font-size="3.6" fill="#444">0.4</text><path d="M351.6 297.2h1" stroke="#333" stroke-width="0.4"/><text x="353.1" y="298.5" font-size="3.6" fill="#444">0.2</text>
<text x="386.8" y="260.7" font-size="6.2" text-anchor="middle" font-style="italic">PAX2</text>
<g transform="translate(365.8 262.7) scale(0.238 0.219) translate(-26 -141)"><use href="#u_cbex_top" fill="#8fa6ee" opacity="0.6"/><use href="#u_cbinh" fill="#d4503e"/><use href="#u_migl" fill="#5470de"/><use href="#u_endo" fill="#5470de"/><use href="#u_cxex_cyan" fill="#5470de"/><use href="#u_cxex_green" fill="#5470de"/><use href="#u_salmon" fill="#5470de" opacity="0.45"/><use href="#u_cxinh" fill="#5470de"/><use href="#u_ast_tail" fill="#5470de" opacity="0.45"/><use href="#u_ast" fill="#5470de"/><use href="#u_opc" fill="#5470de"/><use href="#u_cbex_blue" fill="#5470de"/><use href="#u_cbex_pink" fill="#5470de"/><use href="#u_mol_brown" fill="#5470de"/><use href="#u_mol_green" fill="#5470de"/><use href="#u_mol_orange" fill="#5470de"/><use href="#u_mol_mix" fill="#5470de"/><use href="#u_mol_olive" fill="#5470de"/></g><g transform="translate(365.8 262.7) scale(0.238 0.219) translate(-26 -141)" fill="url(#cspk)"><use href="#u_mol_green"/><use href="#u_mol_orange"/><use href="#u_mol_brown"/><use href="#u_cbex_blue"/><use href="#u_cbex_pink"/><use href="#u_ast"/><use href="#u_opc"/><use href="#u_migl"/><use href="#u_cxex_cyan"/><use href="#u_cxinh"/></g>
<rect x="408" y="260.4" width="1.8" height="43.3" fill="url(#cwg)"/><path d="M409.8 261.9h1" stroke="#333" stroke-width="0.4"/><text x="411.3" y="263.2" font-size="3.6" fill="#444">0.3</text><path d="M409.8 279.5h1" stroke="#333" stroke-width="0.4"/><text x="411.3" y="280.8" font-size="3.6" fill="#444">0.2</text><path d="M409.8 297.2h1" stroke="#333" stroke-width="0.4"/><text x="411.3" y="298.5" font-size="3.6" fill="#444">0.1</text>
<text x="427.4" y="207" font-size="6.6" transform="rotate(90 427.4 207)">Gene activity scores</text>
<path d="M243 312.4V289.5M239.9 309.3H264" stroke="#56647e" stroke-width="0.7" fill="none"/>
<path d="M241.6 290.5L243 287L244.4 290.5Z M263 307.9L266.5 309.3L263 310.7Z" fill="#3b4a6b"/>
<text x="243" y="318.5" font-size="6.0">UMAP1</text>
<text x="239.6" y="309.3" font-size="6.0" transform="rotate(-90 239.6 309.3)">UMAP2</text>
<text x="446" y="152.7" font-size="13.5" font-weight="bold" fill="#000" stroke="#000" stroke-width="0.55">d</text>
<text x="536" y="155" font-size="6.3" text-anchor="middle">nanoCUT&amp;Tag</text>
<path d="M469 231C471.1 228.8 474.9 224.8 478.4 222.8C481.9 220.8 486.1 219.6 490 218.9C493.9 218.2 498.2 218.4 501.7 218.9C505.2 219.4 508.6 220.3 511 221.7C513.4 223 514.5 225.9 516 227C517.5 228.1 519 229.2 520 228C521 226.8 521.2 222.7 522 220C522.8 217.3 523.6 214.3 524.5 212C525.4 209.7 526.4 207.3 527.5 206C528.6 204.7 529.8 203.9 531 204C532.2 204.1 533.9 205 535 206.5C536.1 208 536.8 210.4 537.5 213C538.2 215.6 538.4 218.2 539 222C539.6 225.8 540.7 231.3 541 236C541.3 240.7 540.1 246 541 250C541.9 254 544.1 257.3 546.1 260.2C548.1 263.1 551.2 264.7 553.1 267.2C555 269.7 557.4 273.2 557.8 275.4C558.2 277.5 556.6 280 555.4 280.1C554.2 280.2 552.5 277.4 550.8 276C549.1 274.6 547.5 273 545 272C542.5 271 538.8 270 536 270C533.2 270 529.8 270.8 528 272C526.2 273.2 526.4 275.3 525.1 277C523.8 278.7 522.4 280.7 520.4 282.4C518.4 284.1 516.1 285.4 513.4 287.1C510.7 288.9 507.2 290.9 504.1 292.9C501 294.8 497.1 297.4 494.7 298.8C492.3 300.2 491.6 301.3 490 301.1C488.4 300.9 486.8 299.4 485.4 297.6C484 295.9 483.8 292.8 481.9 290.6C479.9 288.5 476.2 286.9 473.7 284.7C471.2 282.5 468.3 280.8 466.7 277.7C465.1 274.6 465.3 269.2 464.3 266.1C463.3 263 461.2 262.6 460.8 259.1C460.4 255.6 461.2 248.9 462 245C462.8 241.1 464.3 238 465.5 235.7C466.7 233.4 466.9 233.2 469 231Z" fill="#8c564b"/>
<path d="M511.3 223.8h0.7v0.7h-0.7zM502.6 292.9h0.7v0.7h-0.7zM479 288.7h0.7v0.7h-0.7zM552.3 265.2h0.7v0.7h-0.7zM461.5 247.4h0.7v0.7h-0.7zM485.4 297.8h0.7v0.7h-0.7zM520.6 223.9h0.7v0.7h-0.7zM463.8 243.6h0.7v0.7h-0.7zM544.7 270.8h0.7v0.7h-0.7zM515.7 226.6h0.7v0.7h-0.7zM469.3 230.6h0.7v0.7h-0.7zM540.5 272.3h0.7v0.7h-0.7zM461 258.7h0.7v0.7h-0.7zM521.7 281.1h0.7v0.7h-0.7zM545 271.6h0.7v0.7h-0.7zM499.5 294.9h0.7v0.7h-0.7zM536.6 212.3h0.7v0.7h-0.7zM540.7 229.7h0.7v0.7h-0.7zM556 270.6h0.7v0.7h-0.7zM463.3 264.4h0.7v0.7h-0.7zM468.6 277.8h0.7v0.7h-0.7zM484.5 297.5h0.7v0.7h-0.7zM535.4 271.3h0.7v0.7h-0.7zM466.7 275.4h0.7v0.7h-0.7zM502.7 294.1h0.7v0.7h-0.7zM530.7 272h0.7v0.7h-0.7zM524.2 276h0.7v0.7h-0.7zM539.3 270.8h0.7v0.7h-0.7zM503.5 220.2h0.7v0.7h-0.7zM498.8 297.1h0.7v0.7h-0.7zM460.5 251.1h0.7v0.7h-0.7zM525 275.6h0.7v0.7h-0.7zM546.4 272.6h0.7v0.7h-0.7zM479.9 288.8h0.7v0.7h-0.7zM522 220.3h0.7v0.7h-0.7zM511 221.7h0.7v0.7h-0.7zM488.4 219.4h0.7v0.7h-0.7zM547.1 274h0.7v0.7h-0.7zM550.5 265.3h0.7v0.7h-0.7zM530.1 205.1h0.7v0.7h-0.7zM543.5 252.5h0.7v0.7h-0.7zM464.8 236.6h0.7v0.7h-0.7zM502.3 297.3h0.7v0.7h-0.7zM540.9 246.6h0.7v0.7h-0.7zM540.6 216.6h0.7v0.7h-0.7zM542.5 271.6h0.7v0.7h-0.7zM491.5 220h0.7v0.7h-0.7zM524.8 277.2h0.7v0.7h-0.7zM540.2 232.6h0.7v0.7h-0.7zM497.2 299.8h0.7v0.7h-0.7zM474.2 225.5h0.7v0.7h-0.7zM480.2 289.9h0.7v0.7h-0.7zM469.7 229.1h0.7v0.7h-0.7zM556.3 279.7h0.7v0.7h-0.7zM548.5 262.9h0.7v0.7h-0.7zM468 279.5h0.7v0.7h-0.7zM523.8 277.9h0.7v0.7h-0.7zM533.7 270.3h0.7v0.7h-0.7zM538.7 215.6h0.7v0.7h-0.7zM523.8 212.5h0.7v0.7h-0.7zM502.1 294h0.7v0.7h-0.7zM481.1 221.9h0.7v0.7h-0.7zM514.8 225.7h0.7v0.7h-0.7zM524.9 278.8h0.7v0.7h-0.7zM464.5 241.8h0.7v0.7h-0.7zM535.1 272.2h0.7v0.7h-0.7zM492.6 300.4h0.7v0.7h-0.7zM500.7 217.6h0.7v0.7h-0.7zM505 218.8h0.7v0.7h-0.7zM460.7 258.8h0.7v0.7h-0.7zM483.4 294h0.7v0.7h-0.7zM471.5 227.9h0.7v0.7h-0.7zM506.4 220.2h0.7v0.7h-0.7zM554.4 270.4h0.7v0.7h-0.7zM482.8 220.8h0.7v0.7h-0.7zM533.8 271h0.7v0.7h-0.7zM463.4 240.5h0.7v0.7h-0.7zM478.5 222.3h0.7v0.7h-0.7zM466.9 234.6h0.7v0.7h-0.7zM465.2 268.6h0.7v0.7h-0.7zM539.3 217.4h0.7v0.7h-0.7zM461.6 251.5h0.7v0.7h-0.7zM540.3 229.2h0.7v0.7h-0.7zM461.4 250.4h0.7v0.7h-0.7zM539 221.7h0.7v0.7h-0.7zM512.4 287.4h0.7v0.7h-0.7zM473.4 227.3h0.7v0.7h-0.7zM492.2 299.9h0.7v0.7h-0.7zM547.4 273.6h0.7v0.7h-0.7zM556.8 276.4h0.7v0.7h-0.7zM522 221.7h0.7v0.7h-0.7zM523.5 215.4h0.7v0.7h-0.7zM461.9 246.3h0.7v0.7h-0.7zM534.3 205.5h0.7v0.7h-0.7zM515.6 286.5h0.7v0.7h-0.7zM518.3 227.2h0.7v0.7h-0.7zM483.6 295.5h0.7v0.7h-0.7zM474.5 226.1h0.7v0.7h-0.7zM558.6 276.4h0.7v0.7h-0.7zM541.3 234.1h0.7v0.7h-0.7zM533.9 269.7h0.7v0.7h-0.7zM536.7 212.8h0.7v0.7h-0.7zM461 255.4h0.7v0.7h-0.7zM483.9 295.2h0.7v0.7h-0.7zM557.7 276.9h0.7v0.7h-0.7zM491.9 219.4h0.7v0.7h-0.7zM471.9 282.1h0.7v0.7h-0.7zM461.2 247.6h0.7v0.7h-0.7zM529.3 271.6h0.7v0.7h-0.7zM463.3 263.9h0.7v0.7h-0.7zM466 273.4h0.7v0.7h-0.7zM464.9 236.9h0.7v0.7h-0.7zM464.2 241.2h0.7v0.7h-0.7zM489.7 300.6h0.7v0.7h-0.7zM479.1 288.1h0.7v0.7h-0.7zM554.9 272.1h0.7v0.7h-0.7zM544.4 271.7h0.7v0.7h-0.7zM509.1 289.8h0.7v0.7h-0.7zM494.3 219h0.7v0.7h-0.7zM522.1 279.5h0.7v0.7h-0.7zM502.2 294.6h0.7v0.7h-0.7zM541.5 247.5h0.7v0.7h-0.7zM541.9 269.9h0.7v0.7h-0.7zM490.2 300h0.7v0.7h-0.7zM464.4 240.9h0.7v0.7h-0.7zM549.2 262.8h0.7v0.7h-0.7zM520.9 220.4h0.7v0.7h-0.7zM551.7 275.6h0.7v0.7h-0.7zM522.2 217.1h0.7v0.7h-0.7zM474.9 225.8h0.7v0.7h-0.7zM522.1 280.9h0.7v0.7h-0.7zM463.5 244.7h0.7v0.7h-0.7zM486.4 299.2h0.7v0.7h-0.7zM519.6 228.9h0.7v0.7h-0.7zM540 246.1h0.7v0.7h-0.7zM511.5 289.5h0.7v0.7h-0.7zM485.1 294.7h0.7v0.7h-0.7zM473.4 226.9h0.7v0.7h-0.7zM475.1 227.1h0.7v0.7h-0.7zM533.8 206h0.7v0.7h-0.7zM527.2 275h0.7v0.7h-0.7zM541.7 237.9h0.7v0.7h-0.7zM534 210.3h0.7v0.7h-0.7zM540.7 245.8h0.7v0.7h-0.7zM521.8 279.7h0.7v0.7h-0.7zM511.2 288.5h0.7v0.7h-0.7zM464 236h0.7v0.7h-0.7zM541.7 235.6h0.7v0.7h-0.7zM552.3 278h0.7v0.7h-0.7zM517.4 227.4h0.7v0.7h-0.7zM551.9 275h0.7v0.7h-0.7zM489.7 298.9h0.7v0.7h-0.7zM461.6 256.2h0.7v0.7h-0.7zM542.1 231.9h0.7v0.7h-0.7zM476.7 285.2h0.7v0.7h-0.7zM535.5 270.1h0.7v0.7h-0.7zM535.9 210.4h0.7v0.7h-0.7zM534.2 206.4h0.7v0.7h-0.7zM546.7 261.3h0.7v0.7h-0.7zM527.8 207.1h0.7v0.7h-0.7zM511.4 222.8h0.7v0.7h-0.7zM522 279.7h0.7v0.7h-0.7zM468.5 232.9h0.7v0.7h-0.7zM537 215.6h0.7v0.7h-0.7zM535.3 271.2h0.7v0.7h-0.7zM523.8 277.2h0.7v0.7h-0.7zM535.5 211.5h0.7v0.7h-0.7zM502.8 294.5h0.7v0.7h-0.7zM467.1 233.7h0.7v0.7h-0.7zM467.5 232.2h0.7v0.7h-0.7zM465.8 272.1h0.7v0.7h-0.7zM553.2 267.5h0.7v0.7h-0.7zM500 294.7h0.7v0.7h-0.7zM520.9 282.3h0.7v0.7h-0.7zM539.3 226.9h0.7v0.7h-0.7zM535.1 269.7h0.7v0.7h-0.7zM481.2 220.2h0.7v0.7h-0.7zM488.4 218.4h0.7v0.7h-0.7zM492.9 299.8h0.7v0.7h-0.7zM546.3 273h0.7v0.7h-0.7zM485.4 295.8h0.7v0.7h-0.7zM480 287.9h0.7v0.7h-0.7zM537.4 213.3h0.7v0.7h-0.7zM489.8 301.1h0.7v0.7h-0.7zM488.2 299.4h0.7v0.7h-0.7zM461.9 242.5h0.7v0.7h-0.7zM487.1 298h0.7v0.7h-0.7zM484.2 221.2h0.7v0.7h-0.7zM554.7 269.9h0.7v0.7h-0.7zM526.7 209.3h0.7v0.7h-0.7z" fill="#8c564b"/>
<path d="M529.6 217.9h0.5v0.5h-0.5zM461.9 246.7h0.5v0.5h-0.5zM487.8 248.6h0.5v0.5h-0.5zM479.5 286.8h0.5v0.5h-0.5zM489.9 272.1h0.5v0.5h-0.5zM503 270.6h0.5v0.5h-0.5zM508 266.4h0.5v0.5h-0.5zM473.4 251.7h0.5v0.5h-0.5zM482.7 269.4h0.5v0.5h-0.5zM474.9 256.6h0.5v0.5h-0.5zM483.8 276.8h0.5v0.5h-0.5zM517.1 270.9h0.5v0.5h-0.5zM488.9 289.6h0.5v0.5h-0.5zM471 273.6h0.5v0.5h-0.5zM495.8 284.2h0.5v0.5h-0.5zM494.3 254h0.5v0.5h-0.5zM490.7 269.6h0.5v0.5h-0.5zM462.7 247.5h0.5v0.5h-0.5zM472.2 237.6h0.5v0.5h-0.5zM555.7 277.7h0.5v0.5h-0.5zM523.4 239.3h0.5v0.5h-0.5zM532.2 224.6h0.5v0.5h-0.5zM465.3 253.4h0.5v0.5h-0.5zM538.1 248.1h0.5v0.5h-0.5zM505.4 254.4h0.5v0.5h-0.5zM503.7 274.8h0.5v0.5h-0.5zM479.4 268.1h0.5v0.5h-0.5zM482.4 264.8h0.5v0.5h-0.5zM535.9 244h0.5v0.5h-0.5zM505.2 269.7h0.5v0.5h-0.5z" fill="#ffffff"/>
<path d="M539 222C540.7 220.2 544.9 219.9 548.4 219.3C551.9 218.7 556.2 218 560.1 218.2C564 218.4 568.9 219.3 571.8 220.5C574.7 221.7 576.2 223 577.6 225.2C579 227.3 579.9 230.8 580 233.4C580.1 236 579.8 239.3 578 241C576.2 242.7 572.5 243.5 569.5 243.5C566.5 243.5 563.2 241.6 560 241C556.8 240.4 553.2 240.7 550 240C546.8 239.3 543 238.7 541 237C539 235.3 538.3 232.5 538 230C537.7 227.5 537.3 223.8 539 222Z" fill="#e377c2"/>
<path d="M571.7 245h0.7v0.7h-0.7zM537 230.6h0.7v0.7h-0.7zM562.5 219.3h0.7v0.7h-0.7zM559.5 243h0.7v0.7h-0.7zM546.6 220.2h0.7v0.7h-0.7zM549.8 240.7h0.7v0.7h-0.7zM573.5 221.6h0.7v0.7h-0.7zM561.1 218.8h0.7v0.7h-0.7zM551.5 218h0.7v0.7h-0.7zM562.6 241h0.7v0.7h-0.7zM577.2 226.8h0.7v0.7h-0.7zM562.4 241.4h0.7v0.7h-0.7zM575.8 241.8h0.7v0.7h-0.7zM558.7 240.8h0.7v0.7h-0.7zM556.1 218.7h0.7v0.7h-0.7zM546.7 221h0.7v0.7h-0.7zM554.3 241.4h0.7v0.7h-0.7zM577.5 236.7h0.7v0.7h-0.7zM573.5 220.3h0.7v0.7h-0.7zM560.3 241h0.7v0.7h-0.7zM541.3 222.6h0.7v0.7h-0.7zM540.5 235h0.7v0.7h-0.7zM557.8 239.3h0.7v0.7h-0.7zM548.4 239.7h0.7v0.7h-0.7zM547.9 237.7h0.7v0.7h-0.7zM580.3 233.3h0.7v0.7h-0.7zM539 226.3h0.7v0.7h-0.7zM545.1 219.6h0.7v0.7h-0.7zM576.7 224.2h0.7v0.7h-0.7zM546.2 239.2h0.7v0.7h-0.7zM566.4 219.8h0.7v0.7h-0.7zM539.3 223.7h0.7v0.7h-0.7zM548.3 217.8h0.7v0.7h-0.7zM539.2 220.5h0.7v0.7h-0.7zM578.3 234.3h0.7v0.7h-0.7zM564.8 220.3h0.7v0.7h-0.7zM573.4 242h0.7v0.7h-0.7zM537.8 230.1h0.7v0.7h-0.7zM539.2 233.6h0.7v0.7h-0.7zM563.4 219h0.7v0.7h-0.7zM551.6 219.6h0.7v0.7h-0.7zM579.3 232.6h0.7v0.7h-0.7zM558.8 241.8h0.7v0.7h-0.7zM575 242.8h0.7v0.7h-0.7zM572.7 220.6h0.7v0.7h-0.7zM564.4 219.6h0.7v0.7h-0.7zM571.6 220.5h0.7v0.7h-0.7zM538.8 221.9h0.7v0.7h-0.7zM561.6 242.7h0.7v0.7h-0.7zM538.5 226.5h0.7v0.7h-0.7zM539 223.7h0.7v0.7h-0.7zM578.4 230.1h0.7v0.7h-0.7zM568 243.9h0.7v0.7h-0.7zM542.3 237.5h0.7v0.7h-0.7zM567.2 218.8h0.7v0.7h-0.7zM538.9 223.9h0.7v0.7h-0.7zM555.6 241.5h0.7v0.7h-0.7zM579.1 231h0.7v0.7h-0.7zM562.7 218.4h0.7v0.7h-0.7zM564.5 219.5h0.7v0.7h-0.7z" fill="#e377c2"/>
<path d="M540.8 226.4h0.5v0.5h-0.5zM569.6 235.8h0.5v0.5h-0.5zM557.7 237.3h0.5v0.5h-0.5zM556.9 240.1h0.5v0.5h-0.5zM563.6 221.7h0.5v0.5h-0.5zM561.8 230.3h0.5v0.5h-0.5z" fill="#ffffff"/>
<path d="M537 234C539.8 232.5 548.5 236.1 553.1 237C557.7 237.9 560.9 238.8 564.8 239.5C568.7 240.2 573.6 241.2 576.5 241C579.4 240.8 580.8 239.7 582.3 238C583.8 236.3 584.6 232.6 585.8 231C587 229.4 587.7 228.5 589.3 228.7C590.9 228.9 592.7 231.6 595.2 232.2C597.7 232.8 602 231.6 604.5 232.2C607 232.8 609.2 233.6 610.3 235.7C611.4 237.8 611.6 242.3 611 245C610.4 247.7 608.3 250.1 606.8 252C605.3 253.9 604.5 254.8 602.2 256.7C599.9 258.6 595.5 262.7 592.8 263.7C590.1 264.7 587.5 263.2 585.8 262.6C584 262 583.8 259.9 582.3 260.2C580.8 260.5 579 264 576.5 264.5C574 265 570.2 263.8 567.1 263C564 262.2 560.9 260.8 557.8 260C554.7 259.2 551.4 259 548.4 258C545.4 257 542 256 540 254C538 252 537 249.3 536.5 246C536 242.7 534.2 235.5 537 234Z" fill="#1f77b4"/>
<path d="M565 239.2h0.7v0.7h-0.7zM573 263.5h0.7v0.7h-0.7zM589.7 263.1h0.7v0.7h-0.7zM603.1 254.4h0.7v0.7h-0.7zM542.4 254.4h0.7v0.7h-0.7zM581.1 240.2h0.7v0.7h-0.7zM577 263.1h0.7v0.7h-0.7zM607.7 251.7h0.7v0.7h-0.7zM564 238.7h0.7v0.7h-0.7zM580.8 261.7h0.7v0.7h-0.7zM594.3 231h0.7v0.7h-0.7zM566.1 263.3h0.7v0.7h-0.7zM539.2 252h0.7v0.7h-0.7zM594.3 261.5h0.7v0.7h-0.7zM598.6 259h0.7v0.7h-0.7zM541.4 253.4h0.7v0.7h-0.7zM611.5 245.3h0.7v0.7h-0.7zM589.1 262.1h0.7v0.7h-0.7zM605.6 231.8h0.7v0.7h-0.7zM537.6 249.5h0.7v0.7h-0.7zM536 238.9h0.7v0.7h-0.7zM537 246h0.7v0.7h-0.7zM551.9 235.3h0.7v0.7h-0.7zM604.5 233.5h0.7v0.7h-0.7zM536.7 246.5h0.7v0.7h-0.7zM582.1 261.3h0.7v0.7h-0.7zM563.8 239.5h0.7v0.7h-0.7zM552.1 237.2h0.7v0.7h-0.7zM560.2 239.1h0.7v0.7h-0.7zM592 229.5h0.7v0.7h-0.7zM582.9 238h0.7v0.7h-0.7zM568 263.9h0.7v0.7h-0.7zM556.3 258.8h0.7v0.7h-0.7zM548.6 257.7h0.7v0.7h-0.7zM555.5 238.6h0.7v0.7h-0.7zM606.5 231h0.7v0.7h-0.7zM537.9 249.4h0.7v0.7h-0.7zM585.7 232.7h0.7v0.7h-0.7zM576.8 263.8h0.7v0.7h-0.7zM536.1 241.2h0.7v0.7h-0.7zM549.9 259.7h0.7v0.7h-0.7zM570.9 263.4h0.7v0.7h-0.7zM573.5 240.4h0.7v0.7h-0.7zM610 241.5h0.7v0.7h-0.7zM543.2 255h0.7v0.7h-0.7zM563.4 238.6h0.7v0.7h-0.7zM583.2 236.5h0.7v0.7h-0.7zM595.7 262.4h0.7v0.7h-0.7zM535.6 248.7h0.7v0.7h-0.7zM549.9 235h0.7v0.7h-0.7zM537.6 242.2h0.7v0.7h-0.7zM599.3 257.8h0.7v0.7h-0.7zM586.6 231.2h0.7v0.7h-0.7zM576.8 264.1h0.7v0.7h-0.7zM552.1 236.5h0.7v0.7h-0.7zM565.9 262.3h0.7v0.7h-0.7zM566.6 239.9h0.7v0.7h-0.7zM537.1 239.9h0.7v0.7h-0.7zM562.2 239.8h0.7v0.7h-0.7zM600.1 232.1h0.7v0.7h-0.7zM609.4 248.2h0.7v0.7h-0.7zM577.1 264.5h0.7v0.7h-0.7zM577.5 264.1h0.7v0.7h-0.7zM578.2 263.3h0.7v0.7h-0.7zM612.3 242.2h0.7v0.7h-0.7zM534.8 235.7h0.7v0.7h-0.7zM546.2 236.3h0.7v0.7h-0.7zM604.8 233.2h0.7v0.7h-0.7zM604.5 230.2h0.7v0.7h-0.7zM580.2 240.1h0.7v0.7h-0.7zM568 262h0.7v0.7h-0.7zM539 249.2h0.7v0.7h-0.7zM587.8 231.4h0.7v0.7h-0.7zM546.7 256.6h0.7v0.7h-0.7zM569.1 263h0.7v0.7h-0.7zM541.8 235.3h0.7v0.7h-0.7zM579.9 261.1h0.7v0.7h-0.7zM579.9 263.2h0.7v0.7h-0.7zM611.7 239.1h0.7v0.7h-0.7zM582.4 236.8h0.7v0.7h-0.7zM607.2 233.7h0.7v0.7h-0.7zM602.4 256.2h0.7v0.7h-0.7zM548.7 236.2h0.7v0.7h-0.7zM554.7 238.2h0.7v0.7h-0.7zM552.3 236.5h0.7v0.7h-0.7zM609.5 246.8h0.7v0.7h-0.7zM540.1 253.4h0.7v0.7h-0.7zM593.7 230.2h0.7v0.7h-0.7zM586.4 262.2h0.7v0.7h-0.7zM605.3 232.1h0.7v0.7h-0.7zM548 257.9h0.7v0.7h-0.7zM607.2 252h0.7v0.7h-0.7zM563.6 261.8h0.7v0.7h-0.7zM603.8 231.3h0.7v0.7h-0.7zM541.5 254h0.7v0.7h-0.7zM588.8 263h0.7v0.7h-0.7zM586.5 228.5h0.7v0.7h-0.7zM582.2 237.9h0.7v0.7h-0.7zM600.6 232.4h0.7v0.7h-0.7zM584 263.1h0.7v0.7h-0.7zM582.4 235.2h0.7v0.7h-0.7zM567.9 241.6h0.7v0.7h-0.7zM607.5 234.6h0.7v0.7h-0.7zM550.8 260.1h0.7v0.7h-0.7zM600.8 260.8h0.7v0.7h-0.7zM539.4 251.7h0.7v0.7h-0.7zM566.2 262.4h0.7v0.7h-0.7zM582.5 236.8h0.7v0.7h-0.7zM537.4 236.1h0.7v0.7h-0.7zM566.7 239.2h0.7v0.7h-0.7z" fill="#1f77b4"/>
<path d="M593.4 251.8h0.5v0.5h-0.5zM568.4 259.2h0.5v0.5h-0.5zM539.2 247.6h0.5v0.5h-0.5zM551.5 246.4h0.5v0.5h-0.5zM582 259.3h0.5v0.5h-0.5zM575.5 259.8h0.5v0.5h-0.5z" fill="#ffffff"/>
<path d="M554.3 260.6C555.6 258.9 560.4 258.8 562.5 259.4C564.6 260 566.4 262 567 264.1C567.6 266.2 566.8 269.6 566 272.1C565.2 274.6 563.7 278 562.3 278.9C560.9 279.8 559.1 279.2 557.8 277.6C556.5 276.1 555 272.4 554.4 269.6C553.8 266.8 552.9 262.3 554.3 260.6Z" fill="#d62728"/>
<path d="M553.1 262.1h0.7v0.7h-0.7zM556.4 274.6h0.7v0.7h-0.7zM561.6 279.1h0.7v0.7h-0.7zM554.6 266.2h0.7v0.7h-0.7zM558.9 261.4h0.7v0.7h-0.7zM555.7 260.8h0.7v0.7h-0.7zM560.5 259.5h0.7v0.7h-0.7zM566 269.7h0.7v0.7h-0.7zM566.3 270.2h0.7v0.7h-0.7zM554.5 270.5h0.7v0.7h-0.7zM563.2 278.5h0.7v0.7h-0.7zM564.9 274.8h0.7v0.7h-0.7zM566.3 261.5h0.7v0.7h-0.7zM553.1 266h0.7v0.7h-0.7zM566.4 265.1h0.7v0.7h-0.7zM566.1 271.9h0.7v0.7h-0.7zM555.6 265.7h0.7v0.7h-0.7zM557.9 276.5h0.7v0.7h-0.7zM555.3 260.7h0.7v0.7h-0.7zM555.4 271.8h0.7v0.7h-0.7zM562.3 277.2h0.7v0.7h-0.7zM553.4 270.6h0.7v0.7h-0.7zM557.5 260.2h0.7v0.7h-0.7zM559.5 277.2h0.7v0.7h-0.7zM562.2 277.9h0.7v0.7h-0.7zM565.3 269.2h0.7v0.7h-0.7zM565.6 269.5h0.7v0.7h-0.7zM562.6 277.2h0.7v0.7h-0.7zM558 275.9h0.7v0.7h-0.7zM553.7 263.3h0.7v0.7h-0.7zM562.5 261.5h0.7v0.7h-0.7zM554.8 259.3h0.7v0.7h-0.7zM554 262.9h0.7v0.7h-0.7zM566.4 266.7h0.7v0.7h-0.7zM556.6 259.6h0.7v0.7h-0.7z" fill="#d62728"/>
<path d="M561.9 263.5h0.5v0.5h-0.5zM564.2 271h0.5v0.5h-0.5zM564.8 271.3h0.5v0.5h-0.5zM563.5 274.5h0.5v0.5h-0.5zM558.7 261.3h0.5v0.5h-0.5zM558.8 264.5h0.5v0.5h-0.5z" fill="#ffffff"/>
<path d="M560.1 277.9C562.1 276.7 566.8 277 569.5 276.7C572.2 276.4 575 275.7 576.5 276.3C578 276.9 578.1 277.1 578.3 280.1C578.5 283.1 577.9 289.8 577.6 294.1C577.3 298.4 578.2 303.5 576.5 305.8C574.8 308.1 570.6 307.7 567.1 308.1C563.6 308.5 557.9 309.1 555.4 308.1C552.9 307.1 552.3 305 551.9 302.3C551.5 299.6 552.1 294.9 553.1 291.8C554.1 288.7 556.6 286 557.8 283.7C559 281.4 558.1 279.1 560.1 277.9Z" fill="#9467bd"/>
<path d="M559.5 280.7h0.7v0.7h-0.7zM577.6 283.5h0.7v0.7h-0.7zM553.1 295.7h0.7v0.7h-0.7zM556.5 288.2h0.7v0.7h-0.7zM576.7 291.4h0.7v0.7h-0.7zM564.1 308.5h0.7v0.7h-0.7zM560 307.5h0.7v0.7h-0.7zM575.4 305.8h0.7v0.7h-0.7zM576.9 277.6h0.7v0.7h-0.7zM563.5 306.7h0.7v0.7h-0.7zM576.5 285.8h0.7v0.7h-0.7zM578.1 294.6h0.7v0.7h-0.7zM554.2 292.5h0.7v0.7h-0.7zM551.6 295.4h0.7v0.7h-0.7zM557.1 285.8h0.7v0.7h-0.7zM571.2 307.5h0.7v0.7h-0.7zM575.2 277.4h0.7v0.7h-0.7zM568.6 276.9h0.7v0.7h-0.7zM552.8 295.3h0.7v0.7h-0.7zM560.4 307h0.7v0.7h-0.7zM566.8 307.6h0.7v0.7h-0.7zM578.4 289.6h0.7v0.7h-0.7zM554.9 289.7h0.7v0.7h-0.7zM569.5 307h0.7v0.7h-0.7zM566.6 308.4h0.7v0.7h-0.7zM577.2 279.6h0.7v0.7h-0.7zM568.5 276.2h0.7v0.7h-0.7zM552.2 294.6h0.7v0.7h-0.7zM567.4 307.8h0.7v0.7h-0.7zM554.3 292h0.7v0.7h-0.7zM578.6 281.3h0.7v0.7h-0.7zM577.6 277.9h0.7v0.7h-0.7zM578.2 284.1h0.7v0.7h-0.7zM568.5 277.1h0.7v0.7h-0.7zM572.2 307.9h0.7v0.7h-0.7zM578.4 284.2h0.7v0.7h-0.7zM568 276.3h0.7v0.7h-0.7zM575.3 298.6h0.7v0.7h-0.7zM572.8 306.9h0.7v0.7h-0.7zM577.4 296.6h0.7v0.7h-0.7zM578.3 286.9h0.7v0.7h-0.7zM577.8 293.5h0.7v0.7h-0.7zM577.5 305.7h0.7v0.7h-0.7zM577.5 302.5h0.7v0.7h-0.7zM555.5 288.7h0.7v0.7h-0.7zM576.9 276h0.7v0.7h-0.7zM554.7 307h0.7v0.7h-0.7zM577.8 304.5h0.7v0.7h-0.7zM572.7 307.6h0.7v0.7h-0.7zM553.2 294.2h0.7v0.7h-0.7zM577.4 292.7h0.7v0.7h-0.7zM578 302.2h0.7v0.7h-0.7zM558.2 281.1h0.7v0.7h-0.7zM566.6 309h0.7v0.7h-0.7zM575 276.1h0.7v0.7h-0.7z" fill="#9467bd"/>
<path d="M562.4 279h0.5v0.5h-0.5zM567.3 280.5h0.5v0.5h-0.5zM564.6 286.9h0.5v0.5h-0.5zM570.3 281.3h0.5v0.5h-0.5zM577.4 278.6h0.5v0.5h-0.5zM553.7 297.7h0.5v0.5h-0.5z" fill="#ffffff"/>
<path d="M541.4 167.5C541.9 165.6 542.9 161.9 544.9 160.5C546.9 159.1 550.2 158.9 553.1 158.9C556 158.9 559.4 158.9 562.5 160.5C565.6 162.1 568.7 165.8 571.8 168.7C574.9 171.6 579 175.3 581.1 178C583.2 180.7 584.2 182.5 584.6 185C585 187.5 584.9 191 583.5 193.2C582.1 195.3 579.2 197.3 576.5 197.9C573.8 198.5 569.8 197.5 567.1 196.7C564.4 195.9 562.1 194.8 560.1 193.2C558.1 191.6 556.6 189.3 555.4 187.4C554.2 185.5 554.6 183.4 553.1 181.5C551.6 179.6 548 177.2 546.1 175.7C544.2 174.1 542.7 173.6 541.9 172.2C541.1 170.8 540.9 169.4 541.4 167.5Z" fill="#ff7f0e"/>
<path d="M549.3 180.2h0.7v0.7h-0.7zM542.4 174.3h0.7v0.7h-0.7zM575.1 172.2h0.7v0.7h-0.7zM559.7 192.8h0.7v0.7h-0.7zM576.6 173.8h0.7v0.7h-0.7zM577.7 176.6h0.7v0.7h-0.7zM546.3 178h0.7v0.7h-0.7zM576.5 197.4h0.7v0.7h-0.7zM583.6 194h0.7v0.7h-0.7zM541.1 167.3h0.7v0.7h-0.7zM554.4 182.7h0.7v0.7h-0.7zM543 170.3h0.7v0.7h-0.7zM578.9 176.6h0.7v0.7h-0.7zM557.3 189.9h0.7v0.7h-0.7zM582.1 189.8h0.7v0.7h-0.7zM556.9 187.4h0.7v0.7h-0.7zM552 159.3h0.7v0.7h-0.7zM568.3 165.7h0.7v0.7h-0.7zM584.7 185h0.7v0.7h-0.7zM541.7 171.5h0.7v0.7h-0.7zM562.5 160.8h0.7v0.7h-0.7zM573.2 169.4h0.7v0.7h-0.7zM579 195.8h0.7v0.7h-0.7zM546 159.6h0.7v0.7h-0.7zM541.6 171h0.7v0.7h-0.7zM545.5 175.6h0.7v0.7h-0.7zM556.3 187h0.7v0.7h-0.7zM558.4 159.2h0.7v0.7h-0.7zM568.1 164.4h0.7v0.7h-0.7zM566 163.7h0.7v0.7h-0.7zM564.9 195.3h0.7v0.7h-0.7zM574.2 199.2h0.7v0.7h-0.7zM583.7 186h0.7v0.7h-0.7zM583.3 193.3h0.7v0.7h-0.7zM557.3 158.4h0.7v0.7h-0.7zM580.2 196.7h0.7v0.7h-0.7zM553.7 180.3h0.7v0.7h-0.7zM568.3 197.5h0.7v0.7h-0.7zM560.4 159.6h0.7v0.7h-0.7zM554.9 186.6h0.7v0.7h-0.7zM547.6 161.3h0.7v0.7h-0.7zM554.3 184h0.7v0.7h-0.7zM565.4 195.9h0.7v0.7h-0.7zM543.8 173.4h0.7v0.7h-0.7zM553 183.8h0.7v0.7h-0.7zM584.3 186.1h0.7v0.7h-0.7zM554.1 185.5h0.7v0.7h-0.7zM558.8 159.8h0.7v0.7h-0.7zM543.5 165.7h0.7v0.7h-0.7zM566.3 196h0.7v0.7h-0.7zM583.5 181.8h0.7v0.7h-0.7zM584.2 183.3h0.7v0.7h-0.7zM544.1 172.7h0.7v0.7h-0.7zM575.5 172.6h0.7v0.7h-0.7zM584.9 183.5h0.7v0.7h-0.7zM549 158.4h0.7v0.7h-0.7zM547.6 159.2h0.7v0.7h-0.7zM570.2 196.3h0.7v0.7h-0.7zM582.8 180h0.7v0.7h-0.7zM585.2 185h0.7v0.7h-0.7zM567.9 194.9h0.7v0.7h-0.7zM568.3 166.1h0.7v0.7h-0.7zM575.2 171.3h0.7v0.7h-0.7zM585.4 185.4h0.7v0.7h-0.7zM583.4 184.2h0.7v0.7h-0.7zM573.5 170.2h0.7v0.7h-0.7zM545.9 159.2h0.7v0.7h-0.7zM581.2 180.2h0.7v0.7h-0.7zM566.8 165.2h0.7v0.7h-0.7zM576.9 198.2h0.7v0.7h-0.7zM543.8 162.9h0.7v0.7h-0.7zM584.2 185.7h0.7v0.7h-0.7zM541.3 171h0.7v0.7h-0.7zM574.5 171.9h0.7v0.7h-0.7zM542 167.6h0.7v0.7h-0.7z" fill="#ff7f0e"/>
<path d="M560.2 187.2h0.5v0.5h-0.5zM564.6 178.3h0.5v0.5h-0.5zM554.3 183.3h0.5v0.5h-0.5zM553.4 172h0.5v0.5h-0.5zM570.4 179.7h0.5v0.5h-0.5zM564.6 173.1h0.5v0.5h-0.5z" fill="#ffffff"/>
<path d="M529.7 195.5C529.7 194.1 532 192.9 534.4 192C536.8 191.1 540.7 190.4 543.8 190.2C546.9 190 550.4 190 553.1 190.9C555.8 191.8 558.2 193.9 560.1 195.5C562 197.1 562.8 199 564.8 200.2C566.8 201.4 570.2 201.6 571.8 202.6C573.4 203.6 574.6 204.9 574.6 206.1C574.6 207.3 573.4 208.9 571.8 209.6C570.2 210.3 567.1 210.7 564.8 210.3C562.5 209.9 560.5 208.1 557.8 207.2C555.1 206.3 551.1 205.7 548.4 204.9C545.7 204.1 543.7 203.4 541.4 202.6C539.1 201.8 536.3 201.4 534.4 200.2C532.5 199 529.7 196.9 529.7 195.5Z" fill="#2ca02c"/>
<path d="M556.4 206.7h0.7v0.7h-0.7zM534 199.4h0.7v0.7h-0.7zM547 203.9h0.7v0.7h-0.7zM531.2 198.2h0.7v0.7h-0.7zM561.2 207.7h0.7v0.7h-0.7zM555.7 192.9h0.7v0.7h-0.7zM555.5 192.7h0.7v0.7h-0.7zM562 196.8h0.7v0.7h-0.7zM570.2 201.9h0.7v0.7h-0.7zM539.2 192.4h0.7v0.7h-0.7zM568.8 201.6h0.7v0.7h-0.7zM573.5 205.5h0.7v0.7h-0.7zM543 191h0.7v0.7h-0.7zM560.2 194.9h0.7v0.7h-0.7zM541.7 191h0.7v0.7h-0.7zM545.9 203.3h0.7v0.7h-0.7zM532.2 198.6h0.7v0.7h-0.7zM564.1 199.3h0.7v0.7h-0.7zM572.6 208.2h0.7v0.7h-0.7zM540.3 201.9h0.7v0.7h-0.7zM567.4 209h0.7v0.7h-0.7zM536.1 192.4h0.7v0.7h-0.7zM554.3 206.7h0.7v0.7h-0.7zM572.1 209h0.7v0.7h-0.7zM544.4 203.2h0.7v0.7h-0.7zM551 192.1h0.7v0.7h-0.7zM564.3 210.1h0.7v0.7h-0.7zM559 194h0.7v0.7h-0.7zM538.4 191.9h0.7v0.7h-0.7zM568.2 201.4h0.7v0.7h-0.7zM558 193.2h0.7v0.7h-0.7zM573.2 205h0.7v0.7h-0.7zM566.8 210.2h0.7v0.7h-0.7zM559.1 208.1h0.7v0.7h-0.7zM542.2 204.3h0.7v0.7h-0.7zM547.4 203.5h0.7v0.7h-0.7zM551.5 205.7h0.7v0.7h-0.7zM568.1 209.5h0.7v0.7h-0.7zM567.8 201.2h0.7v0.7h-0.7zM548.4 190.1h0.7v0.7h-0.7zM550.6 205.4h0.7v0.7h-0.7zM565.9 209.8h0.7v0.7h-0.7zM534.8 191.5h0.7v0.7h-0.7zM537.7 201.7h0.7v0.7h-0.7zM544.5 204.3h0.7v0.7h-0.7zM556.4 190.9h0.7v0.7h-0.7zM542.7 205.2h0.7v0.7h-0.7zM573 208.5h0.7v0.7h-0.7zM536.6 190.8h0.7v0.7h-0.7zM571.3 209.1h0.7v0.7h-0.7zM531.7 193.6h0.7v0.7h-0.7zM566.2 209.8h0.7v0.7h-0.7zM561.7 209h0.7v0.7h-0.7zM549.5 191h0.7v0.7h-0.7zM552.2 189h0.7v0.7h-0.7zM565.2 210.1h0.7v0.7h-0.7zM560.8 194.8h0.7v0.7h-0.7zM536.2 192.1h0.7v0.7h-0.7zM536.2 192.4h0.7v0.7h-0.7zM562 197.8h0.7v0.7h-0.7zM564.4 209.5h0.7v0.7h-0.7zM575.1 207.6h0.7v0.7h-0.7zM537.4 201h0.7v0.7h-0.7zM546.9 189.6h0.7v0.7h-0.7zM542.5 202.8h0.7v0.7h-0.7zM540.1 190.3h0.7v0.7h-0.7zM565.7 200.4h0.7v0.7h-0.7zM538.4 191.2h0.7v0.7h-0.7zM561.2 197.2h0.7v0.7h-0.7zM537.1 190.3h0.7v0.7h-0.7z" fill="#2ca02c"/>
<path d="M562.7 207.1h0.5v0.5h-0.5zM569.9 209.7h0.5v0.5h-0.5zM538 195.4h0.5v0.5h-0.5zM553.4 203.3h0.5v0.5h-0.5zM558.6 196.3h0.5v0.5h-0.5zM548.8 204h0.5v0.5h-0.5z" fill="#ffffff"/>
<g fill="url(#bspk)" opacity="0.5"><path d="M469 231C471.1 228.8 474.9 224.8 478.4 222.8C481.9 220.8 486.1 219.6 490 218.9C493.9 218.2 498.2 218.4 501.7 218.9C505.2 219.4 508.6 220.3 511 221.7C513.4 223 514.5 225.9 516 227C517.5 228.1 519 229.2 520 228C521 226.8 521.2 222.7 522 220C522.8 217.3 523.6 214.3 524.5 212C525.4 209.7 526.4 207.3 527.5 206C528.6 204.7 529.8 203.9 531 204C532.2 204.1 533.9 205 535 206.5C536.1 208 536.8 210.4 537.5 213C538.2 215.6 538.4 218.2 539 222C539.6 225.8 540.7 231.3 541 236C541.3 240.7 540.1 246 541 250C541.9 254 544.1 257.3 546.1 260.2C548.1 263.1 551.2 264.7 553.1 267.2C555 269.7 557.4 273.2 557.8 275.4C558.2 277.5 556.6 280 555.4 280.1C554.2 280.2 552.5 277.4 550.8 276C549.1 274.6 547.5 273 545 272C542.5 271 538.8 270 536 270C533.2 270 529.8 270.8 528 272C526.2 273.2 526.4 275.3 525.1 277C523.8 278.7 522.4 280.7 520.4 282.4C518.4 284.1 516.1 285.4 513.4 287.1C510.7 288.9 507.2 290.9 504.1 292.9C501 294.8 497.1 297.4 494.7 298.8C492.3 300.2 491.6 301.3 490 301.1C488.4 300.9 486.8 299.4 485.4 297.6C484 295.9 483.8 292.8 481.9 290.6C479.9 288.5 476.2 286.9 473.7 284.7C471.2 282.5 468.3 280.8 466.7 277.7C465.1 274.6 465.3 269.2 464.3 266.1C463.3 263 461.2 262.6 460.8 259.1C460.4 255.6 461.2 248.9 462 245C462.8 241.1 464.3 238 465.5 235.7C466.7 233.4 466.9 233.2 469 231Z"/></g>
<path d="M534.6 214h1.0v1.0h-1.0zM550 214.3h1.0v1.0h-1.0zM548.6 210.8h1.0v1.0h-1.0zM540.8 206.2h1.0v1.0h-1.0zM542.8 208.1h1.0v1.0h-1.0zM541.1 212.7h1.0v1.0h-1.0zM552.7 208.8h1.0v1.0h-1.0zM546.4 218.2h1.0v1.0h-1.0zM545.8 215.8h1.0v1.0h-1.0zM542.4 220.9h1.0v1.0h-1.0zM537.5 205.7h1.0v1.0h-1.0zM537.8 207.8h1.0v1.0h-1.0zM537.9 208.7h1.0v1.0h-1.0zM538.6 206.5h1.0v1.0h-1.0zM537.1 205.4h1.0v1.0h-1.0zM539.8 209.9h1.0v1.0h-1.0zM551.7 213.1h1.0v1.0h-1.0zM558.7 213.3h1.0v1.0h-1.0zM556.3 216.4h1.0v1.0h-1.0zM547 220.3h1.0v1.0h-1.0zM555.1 217.2h1.0v1.0h-1.0zM539 207.7h1.0v1.0h-1.0zM543.7 210.9h1.0v1.0h-1.0zM552.6 206.6h1.0v1.0h-1.0zM554.6 216.9h1.0v1.0h-1.0zM549.7 205.7h1.0v1.0h-1.0zM534.5 207h1.0v1.0h-1.0zM549.4 207.2h1.0v1.0h-1.0zM540 213.9h1.0v1.0h-1.0zM536.3 211.7h1.0v1.0h-1.0zM551.1 211.4h1.0v1.0h-1.0zM542.9 208.2h1.0v1.0h-1.0zM537.4 215.9h1.0v1.0h-1.0zM543.9 211.3h1.0v1.0h-1.0zM541.6 216.9h1.0v1.0h-1.0zM549.8 213h1.0v1.0h-1.0zM539.2 219.7h1.0v1.0h-1.0zM551.6 211.4h1.0v1.0h-1.0zM556.3 211.9h1.0v1.0h-1.0zM540.1 206.9h1.0v1.0h-1.0zM550 213.3h1.0v1.0h-1.0zM540.8 212.8h1.0v1.0h-1.0zM540.3 218.4h1.0v1.0h-1.0zM541.3 207.5h1.0v1.0h-1.0zM552.7 206.1h1.0v1.0h-1.0zM556.8 211.5h1.0v1.0h-1.0zM556.5 215.9h1.0v1.0h-1.0zM549.2 216.3h1.0v1.0h-1.0zM541.7 204.1h1.0v1.0h-1.0zM538.9 206.9h1.0v1.0h-1.0zM535.4 210.9h1.0v1.0h-1.0zM552.6 215.4h1.0v1.0h-1.0zM545.2 204.4h1.0v1.0h-1.0zM540.1 212h1.0v1.0h-1.0zM552.9 208.2h1.0v1.0h-1.0zM538.4 214.6h1.0v1.0h-1.0zM539.9 217.2h1.0v1.0h-1.0zM547.1 221.1h1.0v1.0h-1.0zM549.3 215.2h1.0v1.0h-1.0zM536.8 209.9h1.0v1.0h-1.0zM536.3 209.6h1.0v1.0h-1.0zM543.5 219.6h1.0v1.0h-1.0zM542.7 211.4h1.0v1.0h-1.0zM556.1 208.7h1.0v1.0h-1.0zM555.5 208.8h1.0v1.0h-1.0zM547.8 216.8h1.0v1.0h-1.0zM553.3 215.4h1.0v1.0h-1.0zM536.4 212.2h1.0v1.0h-1.0zM546.4 207.6h1.0v1.0h-1.0zM536.8 207.1h1.0v1.0h-1.0zM537.7 213.8h1.0v1.0h-1.0zM547.2 210.5h1.0v1.0h-1.0zM539.7 205.5h1.0v1.0h-1.0zM541.1 212h1.0v1.0h-1.0zM545.8 207.8h1.0v1.0h-1.0zM542.8 210.8h1.0v1.0h-1.0zM534.8 212.7h1.0v1.0h-1.0zM541.4 218.7h1.0v1.0h-1.0zM545.6 208.4h1.0v1.0h-1.0zM550.9 210.5h1.0v1.0h-1.0zM559.6 211.7h1.0v1.0h-1.0zM542.5 221.2h1.0v1.0h-1.0zM542.8 220.1h1.0v1.0h-1.0zM558.8 210.7h1.0v1.0h-1.0zM536.6 212.7h1.0v1.0h-1.0zM551.7 206.3h1.0v1.0h-1.0zM541.9 209.4h1.0v1.0h-1.0zM538.3 217.4h1.0v1.0h-1.0zM540.2 205.1h1.0v1.0h-1.0zM540.9 214h1.0v1.0h-1.0zM539.7 208h1.0v1.0h-1.0zM540.6 220.3h1.0v1.0h-1.0zM541.8 210.8h1.0v1.0h-1.0zM535.7 212.1h1.0v1.0h-1.0zM539.2 211.8h1.0v1.0h-1.0zM534.1 208.9h1.0v1.0h-1.0zM549.1 215h1.0v1.0h-1.0zM534 209.8h1.0v1.0h-1.0z" fill="#8c564b"/><path d="M535.5 214.3h1.0v1.0h-1.0zM538.8 205.1h1.0v1.0h-1.0zM534.9 205.2h1.0v1.0h-1.0zM538.6 216.1h1.0v1.0h-1.0zM554 212.1h1.0v1.0h-1.0zM551.9 208h1.0v1.0h-1.0zM542.2 220.8h1.0v1.0h-1.0zM541.5 216.4h1.0v1.0h-1.0zM552.7 209.2h1.0v1.0h-1.0zM546.4 206.6h1.0v1.0h-1.0zM544.2 210.1h1.0v1.0h-1.0zM544.3 210.3h1.0v1.0h-1.0zM554.5 210.8h1.0v1.0h-1.0zM543.6 212.4h1.0v1.0h-1.0zM549.2 205.4h1.0v1.0h-1.0zM545.8 205.6h1.0v1.0h-1.0zM559.8 212.1h1.0v1.0h-1.0zM546.6 215.3h1.0v1.0h-1.0zM542.1 212.4h1.0v1.0h-1.0zM554.1 217.4h1.0v1.0h-1.0zM545.6 215.6h1.0v1.0h-1.0zM550.7 210h1.0v1.0h-1.0zM547.2 220.8h1.0v1.0h-1.0zM548.8 208.3h1.0v1.0h-1.0zM550.9 218.6h1.0v1.0h-1.0zM544.4 220.5h1.0v1.0h-1.0zM536.5 206.3h1.0v1.0h-1.0zM554.6 206.7h1.0v1.0h-1.0zM541.8 213.1h1.0v1.0h-1.0zM546 217.9h1.0v1.0h-1.0zM553.9 212.9h1.0v1.0h-1.0zM534.7 209.5h1.0v1.0h-1.0zM545.2 213.4h1.0v1.0h-1.0zM546.7 208.1h1.0v1.0h-1.0zM558.7 210.9h1.0v1.0h-1.0zM537.4 211.5h1.0v1.0h-1.0zM558.5 211h1.0v1.0h-1.0zM535.4 208.3h1.0v1.0h-1.0zM546.9 208h1.0v1.0h-1.0zM545.4 206.4h1.0v1.0h-1.0zM543.3 212.3h1.0v1.0h-1.0zM539.3 214.3h1.0v1.0h-1.0zM555.3 216.7h1.0v1.0h-1.0zM549.9 216.1h1.0v1.0h-1.0zM553.2 212.8h1.0v1.0h-1.0zM538.5 217.2h1.0v1.0h-1.0zM546.3 210.6h1.0v1.0h-1.0zM549.8 206h1.0v1.0h-1.0zM535.7 207.5h1.0v1.0h-1.0zM540.9 213.1h1.0v1.0h-1.0zM545.6 217.7h1.0v1.0h-1.0zM545.4 218.7h1.0v1.0h-1.0zM539.2 220.1h1.0v1.0h-1.0zM543.6 206.4h1.0v1.0h-1.0zM540.8 210.4h1.0v1.0h-1.0zM539.7 208.4h1.0v1.0h-1.0zM554.9 215.2h1.0v1.0h-1.0zM558.2 211.1h1.0v1.0h-1.0zM546.1 220.4h1.0v1.0h-1.0zM550.7 209.1h1.0v1.0h-1.0zM539.5 208.3h1.0v1.0h-1.0zM553.3 212.7h1.0v1.0h-1.0zM557.2 212.3h1.0v1.0h-1.0zM547.3 212.2h1.0v1.0h-1.0zM551.9 219.2h1.0v1.0h-1.0zM549.9 213.3h1.0v1.0h-1.0zM534.9 213.2h1.0v1.0h-1.0zM546.5 216h1.0v1.0h-1.0zM535.2 207.7h1.0v1.0h-1.0zM533.9 209.8h1.0v1.0h-1.0zM554.5 217.2h1.0v1.0h-1.0zM535.9 215h1.0v1.0h-1.0zM538.1 207.6h1.0v1.0h-1.0zM541.9 206.9h1.0v1.0h-1.0zM548.2 217.5h1.0v1.0h-1.0zM552 207.1h1.0v1.0h-1.0zM542.2 208.5h1.0v1.0h-1.0zM541 216.8h1.0v1.0h-1.0zM539.3 212.3h1.0v1.0h-1.0zM554.2 214.5h1.0v1.0h-1.0zM544 215.5h1.0v1.0h-1.0zM547.9 209.5h1.0v1.0h-1.0zM544.4 221.8h1.0v1.0h-1.0zM537.7 206h1.0v1.0h-1.0zM539.9 208.3h1.0v1.0h-1.0zM543.1 219.5h1.0v1.0h-1.0zM538.5 208.2h1.0v1.0h-1.0zM544 210.4h1.0v1.0h-1.0zM546.4 212.4h1.0v1.0h-1.0z" fill="#2ca02c"/><path d="M541.7 206.3h1.0v1.0h-1.0zM548.4 213.9h1.0v1.0h-1.0zM537.9 214.3h1.0v1.0h-1.0zM538.1 205.3h1.0v1.0h-1.0zM540.7 210.6h1.0v1.0h-1.0zM538.9 208.8h1.0v1.0h-1.0zM544.6 213.7h1.0v1.0h-1.0zM546.9 214.9h1.0v1.0h-1.0zM538.6 210.5h1.0v1.0h-1.0zM541.4 206.2h1.0v1.0h-1.0zM553.5 209h1.0v1.0h-1.0zM538.4 212.6h1.0v1.0h-1.0zM540.5 208.3h1.0v1.0h-1.0zM555.7 212.4h1.0v1.0h-1.0zM557 211.5h1.0v1.0h-1.0zM542 218.3h1.0v1.0h-1.0zM537.2 216.7h1.0v1.0h-1.0zM542.1 212h1.0v1.0h-1.0zM557.8 214.1h1.0v1.0h-1.0zM542.3 218.9h1.0v1.0h-1.0zM543.6 209h1.0v1.0h-1.0zM549.1 217.6h1.0v1.0h-1.0zM554.5 216.7h1.0v1.0h-1.0zM535.5 213.2h1.0v1.0h-1.0zM534.6 208.5h1.0v1.0h-1.0zM535 205.2h1.0v1.0h-1.0zM551.4 211h1.0v1.0h-1.0zM540.6 208.2h1.0v1.0h-1.0zM551.1 205.7h1.0v1.0h-1.0zM556.5 210.6h1.0v1.0h-1.0zM557.2 210.6h1.0v1.0h-1.0zM533.8 211.1h1.0v1.0h-1.0zM549.1 211.2h1.0v1.0h-1.0zM534.6 210.8h1.0v1.0h-1.0zM550.1 208.1h1.0v1.0h-1.0zM549.7 216h1.0v1.0h-1.0zM549.3 217.8h1.0v1.0h-1.0z" fill="#ff7f0e"/><path d="M536.2 211.2h1.0v1.0h-1.0zM553.6 214.1h1.0v1.0h-1.0zM539.7 210.7h1.0v1.0h-1.0zM547.8 219.8h1.0v1.0h-1.0zM541.6 205.8h1.0v1.0h-1.0zM553 211.9h1.0v1.0h-1.0zM542.3 208.4h1.0v1.0h-1.0zM553.8 213.4h1.0v1.0h-1.0zM549.3 209.9h1.0v1.0h-1.0zM542.3 215.4h1.0v1.0h-1.0zM538.7 212.8h1.0v1.0h-1.0zM551.1 218h1.0v1.0h-1.0zM540.2 204.2h1.0v1.0h-1.0zM537.9 217.5h1.0v1.0h-1.0zM544.4 220.4h1.0v1.0h-1.0zM541.8 208.7h1.0v1.0h-1.0zM544.7 212.7h1.0v1.0h-1.0zM550.7 208.1h1.0v1.0h-1.0zM549.9 217.1h1.0v1.0h-1.0zM546.6 220.3h1.0v1.0h-1.0zM546.6 218.9h1.0v1.0h-1.0zM555.8 207.8h1.0v1.0h-1.0zM541.5 217.8h1.0v1.0h-1.0zM537.4 207.3h1.0v1.0h-1.0zM546.6 215.1h1.0v1.0h-1.0zM545 221.1h1.0v1.0h-1.0zM536.4 211.4h1.0v1.0h-1.0zM546.2 204.9h1.0v1.0h-1.0zM538.2 208.3h1.0v1.0h-1.0zM542.6 218.7h1.0v1.0h-1.0zM554.7 217.2h1.0v1.0h-1.0zM547.5 217.8h1.0v1.0h-1.0zM546.7 207.8h1.0v1.0h-1.0zM535.8 212.3h1.0v1.0h-1.0zM534.4 214.6h1.0v1.0h-1.0zM541.4 207.3h1.0v1.0h-1.0z" fill="#1f77b4"/>
<path d="M541.8 241.2h1.0v1.0h-1.0zM575.9 244.3h1.0v1.0h-1.0zM563.5 247.9h1.0v1.0h-1.0zM550.4 240.8h1.0v1.0h-1.0zM561.7 245h1.0v1.0h-1.0zM562.7 242.4h1.0v1.0h-1.0zM571.2 244.4h1.0v1.0h-1.0zM568.2 247.3h1.0v1.0h-1.0zM572.3 246h1.0v1.0h-1.0zM546.3 245.8h1.0v1.0h-1.0zM553.3 245.5h1.0v1.0h-1.0zM563.6 251.1h1.0v1.0h-1.0zM569.3 257.3h1.0v1.0h-1.0zM552.2 240.4h1.0v1.0h-1.0zM558 242.4h1.0v1.0h-1.0zM564.5 257.2h1.0v1.0h-1.0zM542.5 243h1.0v1.0h-1.0zM575.4 242.9h1.0v1.0h-1.0zM550.7 250.2h1.0v1.0h-1.0zM550.7 242.8h1.0v1.0h-1.0zM572.1 243.2h1.0v1.0h-1.0zM555.4 256h1.0v1.0h-1.0zM572.4 245.3h1.0v1.0h-1.0zM574 245h1.0v1.0h-1.0zM567.6 255.3h1.0v1.0h-1.0zM568.9 242h1.0v1.0h-1.0zM556.4 252.9h1.0v1.0h-1.0zM550.6 240.8h1.0v1.0h-1.0zM568.7 242.8h1.0v1.0h-1.0zM576.2 248.7h1.0v1.0h-1.0zM553.2 251.5h1.0v1.0h-1.0zM564.4 242.7h1.0v1.0h-1.0zM567.2 252.1h1.0v1.0h-1.0zM564.3 248h1.0v1.0h-1.0zM558.6 252.4h1.0v1.0h-1.0zM561.1 253.6h1.0v1.0h-1.0zM544.7 241.1h1.0v1.0h-1.0zM559.9 248.4h1.0v1.0h-1.0zM543.3 241.7h1.0v1.0h-1.0zM546.1 248h1.0v1.0h-1.0zM557.5 241.1h1.0v1.0h-1.0zM541 245.7h1.0v1.0h-1.0zM556.8 252.3h1.0v1.0h-1.0zM540.1 239h1.0v1.0h-1.0zM557 245.5h1.0v1.0h-1.0zM551.7 245.2h1.0v1.0h-1.0z" fill="#8c564b"/><path d="M542.5 237.3h1.0v1.0h-1.0zM559.7 240.6h1.0v1.0h-1.0zM559.2 240.3h1.0v1.0h-1.0zM559.3 251.4h1.0v1.0h-1.0zM570.1 247.6h1.0v1.0h-1.0zM544.2 249.3h1.0v1.0h-1.0zM550.6 243.2h1.0v1.0h-1.0zM562.4 246h1.0v1.0h-1.0zM554.1 247.4h1.0v1.0h-1.0zM572.9 243.9h1.0v1.0h-1.0zM573.6 242.9h1.0v1.0h-1.0zM560 251.2h1.0v1.0h-1.0zM572.5 249.3h1.0v1.0h-1.0zM544.9 247h1.0v1.0h-1.0zM564.2 254.1h1.0v1.0h-1.0zM564.6 241.4h1.0v1.0h-1.0zM568.3 243.7h1.0v1.0h-1.0zM547.5 240.8h1.0v1.0h-1.0zM573 254.5h1.0v1.0h-1.0zM560.4 256.6h1.0v1.0h-1.0zM567.4 249.7h1.0v1.0h-1.0zM572.8 245.9h1.0v1.0h-1.0zM568.1 244.1h1.0v1.0h-1.0zM558 239.7h1.0v1.0h-1.0zM558 248.7h1.0v1.0h-1.0zM558.3 246.5h1.0v1.0h-1.0zM566.7 246h1.0v1.0h-1.0zM575.7 245.7h1.0v1.0h-1.0zM562.3 252.2h1.0v1.0h-1.0zM568.1 250.7h1.0v1.0h-1.0zM560 249h1.0v1.0h-1.0zM561 250.6h1.0v1.0h-1.0zM547.1 250h1.0v1.0h-1.0zM556.6 254.2h1.0v1.0h-1.0zM555.9 239.3h1.0v1.0h-1.0zM550 252.9h1.0v1.0h-1.0zM572.8 242.8h1.0v1.0h-1.0zM571.5 249.4h1.0v1.0h-1.0zM568.4 249.1h1.0v1.0h-1.0zM552.2 238.8h1.0v1.0h-1.0zM551.2 243.8h1.0v1.0h-1.0zM558.5 248.1h1.0v1.0h-1.0zM563.5 247h1.0v1.0h-1.0zM558.1 246.3h1.0v1.0h-1.0zM559.4 251.3h1.0v1.0h-1.0zM564.2 245.8h1.0v1.0h-1.0zM550.5 252.5h1.0v1.0h-1.0zM551.5 241.2h1.0v1.0h-1.0zM543.3 245.9h1.0v1.0h-1.0zM578.1 249.9h1.0v1.0h-1.0zM570.6 251.8h1.0v1.0h-1.0zM573.2 254.4h1.0v1.0h-1.0zM546.9 247.5h1.0v1.0h-1.0zM562.9 255.8h1.0v1.0h-1.0zM554.3 245.7h1.0v1.0h-1.0zM575.4 243h1.0v1.0h-1.0zM572.3 244h1.0v1.0h-1.0zM571.6 250.6h1.0v1.0h-1.0zM574.6 250.1h1.0v1.0h-1.0zM551.3 247h1.0v1.0h-1.0zM560.2 249.7h1.0v1.0h-1.0zM567.9 251h1.0v1.0h-1.0zM574.9 248.8h1.0v1.0h-1.0zM573.7 251.2h1.0v1.0h-1.0zM571.8 248.3h1.0v1.0h-1.0zM577.4 246.8h1.0v1.0h-1.0zM546.3 241.1h1.0v1.0h-1.0zM554.3 243h1.0v1.0h-1.0zM552 246.7h1.0v1.0h-1.0zM544.4 246.7h1.0v1.0h-1.0zM542.8 248.8h1.0v1.0h-1.0zM555 250.6h1.0v1.0h-1.0zM562.8 246.3h1.0v1.0h-1.0zM576.4 245h1.0v1.0h-1.0zM555 245.8h1.0v1.0h-1.0zM551 243.1h1.0v1.0h-1.0zM558 249.5h1.0v1.0h-1.0zM541.4 244.1h1.0v1.0h-1.0zM568.4 250.9h1.0v1.0h-1.0zM560 245.8h1.0v1.0h-1.0zM541.7 248.3h1.0v1.0h-1.0zM556.9 254.5h1.0v1.0h-1.0zM547.1 239.2h1.0v1.0h-1.0zM574.6 249.5h1.0v1.0h-1.0zM576.8 246.1h1.0v1.0h-1.0zM543.8 246.4h1.0v1.0h-1.0z" fill="#1f77b4"/><path d="M546.8 250.1h1.0v1.0h-1.0zM567.4 247.4h1.0v1.0h-1.0zM572.2 244.5h1.0v1.0h-1.0zM557.2 248.9h1.0v1.0h-1.0zM550 243.8h1.0v1.0h-1.0zM567.5 256.9h1.0v1.0h-1.0zM556.3 241.1h1.0v1.0h-1.0zM545.2 243.4h1.0v1.0h-1.0zM563.4 246.9h1.0v1.0h-1.0zM568.1 246.4h1.0v1.0h-1.0zM576.2 252.4h1.0v1.0h-1.0zM560.1 240.3h1.0v1.0h-1.0zM570.8 253.5h1.0v1.0h-1.0zM562.6 249.5h1.0v1.0h-1.0zM545.9 241.9h1.0v1.0h-1.0zM571.9 248.5h1.0v1.0h-1.0zM556.8 249.8h1.0v1.0h-1.0zM567.6 256.6h1.0v1.0h-1.0zM567.2 241h1.0v1.0h-1.0zM559.9 249.3h1.0v1.0h-1.0zM571.9 250.4h1.0v1.0h-1.0zM561.3 256.7h1.0v1.0h-1.0zM552.5 251.6h1.0v1.0h-1.0zM570.2 250.3h1.0v1.0h-1.0zM568.9 248.5h1.0v1.0h-1.0zM543.2 240.1h1.0v1.0h-1.0zM566.1 256.1h1.0v1.0h-1.0zM563 253.3h1.0v1.0h-1.0zM576.7 245.6h1.0v1.0h-1.0zM559.8 256.3h1.0v1.0h-1.0zM573.3 247.7h1.0v1.0h-1.0zM575.2 247h1.0v1.0h-1.0zM554.4 241.7h1.0v1.0h-1.0zM567.4 242.9h1.0v1.0h-1.0zM566.8 255.1h1.0v1.0h-1.0zM541.1 244.6h1.0v1.0h-1.0zM551.7 242.8h1.0v1.0h-1.0zM554 245h1.0v1.0h-1.0zM571.8 255.5h1.0v1.0h-1.0z" fill="#e377c2"/><path d="M541.6 241.4h1.0v1.0h-1.0zM558.5 244.6h1.0v1.0h-1.0zM567 246.9h1.0v1.0h-1.0zM558.5 240.3h1.0v1.0h-1.0zM552.9 242.3h1.0v1.0h-1.0zM555.8 244.3h1.0v1.0h-1.0zM554.6 239.7h1.0v1.0h-1.0zM554 254.4h1.0v1.0h-1.0zM571.9 247.1h1.0v1.0h-1.0zM554.2 248.6h1.0v1.0h-1.0zM569.9 257.8h1.0v1.0h-1.0zM563.2 255.9h1.0v1.0h-1.0zM563.2 254h1.0v1.0h-1.0zM546.4 241h1.0v1.0h-1.0zM547.4 242.5h1.0v1.0h-1.0zM555.6 252.4h1.0v1.0h-1.0zM573.7 247.4h1.0v1.0h-1.0zM558.4 244.3h1.0v1.0h-1.0zM554.7 244.4h1.0v1.0h-1.0zM566.3 240.3h1.0v1.0h-1.0zM569.4 241.5h1.0v1.0h-1.0zM541.5 239.8h1.0v1.0h-1.0zM542 246.1h1.0v1.0h-1.0zM541.9 249.4h1.0v1.0h-1.0zM545.5 239.8h1.0v1.0h-1.0zM568.9 246.5h1.0v1.0h-1.0zM572.2 245.6h1.0v1.0h-1.0zM558.6 244.1h1.0v1.0h-1.0zM570.2 254.1h1.0v1.0h-1.0zM570.2 254.5h1.0v1.0h-1.0zM553.7 247.1h1.0v1.0h-1.0zM569.6 245.4h1.0v1.0h-1.0zM570.9 252.3h1.0v1.0h-1.0zM557.7 244.4h1.0v1.0h-1.0zM568.9 252.2h1.0v1.0h-1.0zM574.5 251h1.0v1.0h-1.0zM559.5 246.6h1.0v1.0h-1.0zM565.6 253.1h1.0v1.0h-1.0zM565.6 241.6h1.0v1.0h-1.0zM571.4 251.5h1.0v1.0h-1.0zM556.3 255.6h1.0v1.0h-1.0zM566.7 256h1.0v1.0h-1.0zM578.8 249.6h1.0v1.0h-1.0zM545 238.1h1.0v1.0h-1.0zM541 243.1h1.0v1.0h-1.0zM543.9 241.2h1.0v1.0h-1.0zM543 244.5h1.0v1.0h-1.0zM538.7 236.3h1.0v1.0h-1.0zM561 240.4h1.0v1.0h-1.0zM575 247.9h1.0v1.0h-1.0zM560 255.3h1.0v1.0h-1.0zM544.7 238.6h1.0v1.0h-1.0zM541 241.4h1.0v1.0h-1.0zM540.9 244.7h1.0v1.0h-1.0zM559.8 242.7h1.0v1.0h-1.0zM559.7 248.6h1.0v1.0h-1.0zM555.8 245.9h1.0v1.0h-1.0zM556.6 242.1h1.0v1.0h-1.0zM571.5 247.1h1.0v1.0h-1.0zM572.9 245.2h1.0v1.0h-1.0zM565 246.9h1.0v1.0h-1.0zM564.4 249.7h1.0v1.0h-1.0zM559.4 242.2h1.0v1.0h-1.0zM575.2 247.3h1.0v1.0h-1.0zM544.9 249.7h1.0v1.0h-1.0zM561.2 242.6h1.0v1.0h-1.0zM567.3 251.9h1.0v1.0h-1.0zM543.5 242h1.0v1.0h-1.0zM567.2 252.7h1.0v1.0h-1.0zM562.4 251.3h1.0v1.0h-1.0zM573.2 248.3h1.0v1.0h-1.0zM547.3 244.3h1.0v1.0h-1.0zM560.3 255.3h1.0v1.0h-1.0zM553.1 239.7h1.0v1.0h-1.0zM578 250.3h1.0v1.0h-1.0zM573.8 249.4h1.0v1.0h-1.0zM560.2 253.1h1.0v1.0h-1.0zM542.7 242.3h1.0v1.0h-1.0zM549.5 253.3h1.0v1.0h-1.0zM575.2 248.6h1.0v1.0h-1.0zM547.4 240.2h1.0v1.0h-1.0zM556 255.2h1.0v1.0h-1.0zM545.7 245.7h1.0v1.0h-1.0zM573.6 245.5h1.0v1.0h-1.0zM553.8 250.9h1.0v1.0h-1.0zM549.1 249.9h1.0v1.0h-1.0zM550.8 239.4h1.0v1.0h-1.0zM578.3 251.2h1.0v1.0h-1.0zM542.5 239h1.0v1.0h-1.0z" fill="#ffffff"/>
<path d="M559.1 279.4h1.0v1.0h-1.0zM555.3 280.3h1.0v1.0h-1.0zM553.2 258.9h1.0v1.0h-1.0zM565 266h1.0v1.0h-1.0zM552.9 276.6h1.0v1.0h-1.0zM551.1 262.2h1.0v1.0h-1.0zM557.2 266.4h1.0v1.0h-1.0zM563.4 259.8h1.0v1.0h-1.0zM564.4 275.2h1.0v1.0h-1.0zM556.1 273.5h1.0v1.0h-1.0zM556.8 281.6h1.0v1.0h-1.0zM556.3 271.8h1.0v1.0h-1.0zM561.8 258.7h1.0v1.0h-1.0zM565.3 263.7h1.0v1.0h-1.0zM559.6 260.5h1.0v1.0h-1.0zM559.8 280.5h1.0v1.0h-1.0zM560 269.6h1.0v1.0h-1.0zM558 268.7h1.0v1.0h-1.0zM560 268.3h1.0v1.0h-1.0zM555.3 276.4h1.0v1.0h-1.0zM552.2 261.8h1.0v1.0h-1.0zM549.2 257.9h1.0v1.0h-1.0zM561.8 261.2h1.0v1.0h-1.0zM548.3 262.6h1.0v1.0h-1.0zM561.3 261.7h1.0v1.0h-1.0zM563 259.4h1.0v1.0h-1.0zM565.3 279.4h1.0v1.0h-1.0zM562.5 259.6h1.0v1.0h-1.0zM564.8 276.8h1.0v1.0h-1.0zM559.8 280.7h1.0v1.0h-1.0zM560.2 279.9h1.0v1.0h-1.0zM555.3 266.3h1.0v1.0h-1.0zM557.2 275.5h1.0v1.0h-1.0zM566.9 261.1h1.0v1.0h-1.0zM553.6 263.7h1.0v1.0h-1.0zM560.3 260.2h1.0v1.0h-1.0z" fill="#8c564b"/><path d="M558.2 265.7h1.0v1.0h-1.0zM568.9 267h1.0v1.0h-1.0zM554.2 277h1.0v1.0h-1.0zM564.8 261.1h1.0v1.0h-1.0zM555.3 279.2h1.0v1.0h-1.0zM549.9 268.9h1.0v1.0h-1.0zM549.2 270.4h1.0v1.0h-1.0zM567.4 265.5h1.0v1.0h-1.0zM565.8 268.9h1.0v1.0h-1.0zM560.5 257.7h1.0v1.0h-1.0zM565.8 262.8h1.0v1.0h-1.0zM548.3 257.6h1.0v1.0h-1.0zM551.1 270.6h1.0v1.0h-1.0zM549.4 261.8h1.0v1.0h-1.0zM556.9 257.8h1.0v1.0h-1.0zM558.2 267.7h1.0v1.0h-1.0zM555.7 262h1.0v1.0h-1.0zM553.2 262.7h1.0v1.0h-1.0zM562.3 266.3h1.0v1.0h-1.0zM560.5 276.8h1.0v1.0h-1.0zM554.1 265h1.0v1.0h-1.0zM558 264.9h1.0v1.0h-1.0zM557.6 274.9h1.0v1.0h-1.0zM567.6 262.8h1.0v1.0h-1.0zM551.8 257.5h1.0v1.0h-1.0zM562.5 264.8h1.0v1.0h-1.0zM551.8 259.7h1.0v1.0h-1.0zM566.6 276.5h1.0v1.0h-1.0zM554.9 278.1h1.0v1.0h-1.0z" fill="#d62728"/><path d="M552.1 273.6h1.0v1.0h-1.0zM553.9 277.2h1.0v1.0h-1.0zM559.2 280.9h1.0v1.0h-1.0zM551.1 263.5h1.0v1.0h-1.0zM560.9 276.9h1.0v1.0h-1.0zM555.7 280h1.0v1.0h-1.0zM549.8 270.3h1.0v1.0h-1.0zM567.3 270.9h1.0v1.0h-1.0zM553.4 267.9h1.0v1.0h-1.0zM549.3 262.5h1.0v1.0h-1.0zM555 262.4h1.0v1.0h-1.0zM557.5 258h1.0v1.0h-1.0zM549.3 258.4h1.0v1.0h-1.0zM560 260.9h1.0v1.0h-1.0zM552.6 270.1h1.0v1.0h-1.0zM557.3 261.9h1.0v1.0h-1.0zM554.9 258.4h1.0v1.0h-1.0zM559.2 265.3h1.0v1.0h-1.0zM551.9 259.8h1.0v1.0h-1.0zM555.8 265.7h1.0v1.0h-1.0zM552.1 269.8h1.0v1.0h-1.0zM558.2 274.1h1.0v1.0h-1.0zM559.3 269h1.0v1.0h-1.0zM553.6 271.9h1.0v1.0h-1.0zM551.9 272.5h1.0v1.0h-1.0zM556.1 272.6h1.0v1.0h-1.0zM550 261.5h1.0v1.0h-1.0zM566.5 274.5h1.0v1.0h-1.0z" fill="#1f77b4"/><path d="M564 260.4h1.0v1.0h-1.0zM565 279.7h1.0v1.0h-1.0zM557 279.3h1.0v1.0h-1.0zM557.5 261.5h1.0v1.0h-1.0zM554.5 259.1h1.0v1.0h-1.0zM557.9 274.3h1.0v1.0h-1.0zM565 278.9h1.0v1.0h-1.0zM566.9 261.3h1.0v1.0h-1.0zM558 270.5h1.0v1.0h-1.0zM560.8 271.2h1.0v1.0h-1.0zM566.1 275h1.0v1.0h-1.0zM561.1 271.9h1.0v1.0h-1.0zM549.9 256.8h1.0v1.0h-1.0zM556.2 275.3h1.0v1.0h-1.0zM569.1 269.5h1.0v1.0h-1.0zM558.8 265h1.0v1.0h-1.0zM558.2 271.9h1.0v1.0h-1.0zM557.7 260.8h1.0v1.0h-1.0zM555.4 267.6h1.0v1.0h-1.0zM551.6 258.5h1.0v1.0h-1.0zM558.5 278.5h1.0v1.0h-1.0zM554 259.7h1.0v1.0h-1.0zM552.5 273.8h1.0v1.0h-1.0zM565.8 266.4h1.0v1.0h-1.0zM556.9 276.3h1.0v1.0h-1.0zM562 276.7h1.0v1.0h-1.0zM564.2 272.8h1.0v1.0h-1.0z" fill="#9467bd"/>
<path d="M569.8 229.9h1.0v1.0h-1.0zM567.3 232.4h1.0v1.0h-1.0zM566.1 231.1h1.0v1.0h-1.0zM576.9 228.2h1.0v1.0h-1.0zM575.5 230.6h1.0v1.0h-1.0zM566.6 230.5h1.0v1.0h-1.0zM565.2 231.7h1.0v1.0h-1.0zM570.4 234.4h1.0v1.0h-1.0zM576.7 237.2h1.0v1.0h-1.0zM578.3 236.7h1.0v1.0h-1.0zM564.2 234.4h1.0v1.0h-1.0zM572.5 234.8h1.0v1.0h-1.0zM577.4 235.1h1.0v1.0h-1.0zM575.4 237.2h1.0v1.0h-1.0zM563.7 228.4h1.0v1.0h-1.0zM571.1 237.4h1.0v1.0h-1.0z" fill="#ffffff"/><path d="M574.9 231.1h1.0v1.0h-1.0zM577.2 234.4h1.0v1.0h-1.0zM568.4 237.6h1.0v1.0h-1.0zM566.3 233.7h1.0v1.0h-1.0zM569.4 235.1h1.0v1.0h-1.0zM579.3 236.8h1.0v1.0h-1.0zM568.3 229.4h1.0v1.0h-1.0zM577.3 229.7h1.0v1.0h-1.0zM576.4 236.9h1.0v1.0h-1.0zM577.9 236.3h1.0v1.0h-1.0zM570.8 230.9h1.0v1.0h-1.0zM569.8 228.3h1.0v1.0h-1.0zM576.6 238.2h1.0v1.0h-1.0zM561.9 227.5h1.0v1.0h-1.0zM578.5 230.8h1.0v1.0h-1.0zM578 235.8h1.0v1.0h-1.0zM569.6 237.3h1.0v1.0h-1.0zM568 237h1.0v1.0h-1.0zM563.7 234.3h1.0v1.0h-1.0zM564.2 227.3h1.0v1.0h-1.0zM568.5 231.7h1.0v1.0h-1.0zM567 231h1.0v1.0h-1.0zM575.2 234.8h1.0v1.0h-1.0zM569.3 230.1h1.0v1.0h-1.0zM570.2 229.7h1.0v1.0h-1.0zM572.8 230.9h1.0v1.0h-1.0zM569.7 232.3h1.0v1.0h-1.0z" fill="#e377c2"/><path d="M571.4 232h1.0v1.0h-1.0zM569.1 235.6h1.0v1.0h-1.0zM567.8 238.2h1.0v1.0h-1.0zM569.2 232.1h1.0v1.0h-1.0zM566.6 233.3h1.0v1.0h-1.0zM563.1 229.3h1.0v1.0h-1.0zM578.1 234.1h1.0v1.0h-1.0zM568.7 238h1.0v1.0h-1.0zM565.8 227.2h1.0v1.0h-1.0zM573.4 228h1.0v1.0h-1.0zM577.8 232.5h1.0v1.0h-1.0zM575 237.6h1.0v1.0h-1.0zM568.5 235.3h1.0v1.0h-1.0zM570.8 231.1h1.0v1.0h-1.0zM568.1 237.1h1.0v1.0h-1.0zM566.6 230.5h1.0v1.0h-1.0zM567.9 231.2h1.0v1.0h-1.0z" fill="#1f77b4"/>
<path d="M558.4 186.1h1v1h-1zM556.7 188.4h1v1h-1zM550.9 187.6h1v1h-1zM557.3 191.4h1v1h-1zM556.1 196.2h1v1h-1zM552.8 190.8h1v1h-1zM550.4 198.4h1v1h-1zM558.7 188.8h1v1h-1zM558.7 187.9h1v1h-1zM554 194h1v1h-1zM556.9 196.3h1v1h-1zM555.3 186.6h1v1h-1zM550.7 189.8h1v1h-1zM551.7 190h1v1h-1z" fill="#ff7f0e"/><path d="M555.4 189.7h1v1h-1zM554.7 194.6h1v1h-1zM559.4 191.9h1v1h-1zM558.7 196.8h1v1h-1zM548.7 191.3h1v1h-1zM549.7 189.3h1v1h-1zM550.3 196.7h1v1h-1zM554.7 194.5h1v1h-1zM558.1 193.3h1v1h-1zM549.3 198.3h1v1h-1zM553.4 191.6h1v1h-1z" fill="#8c564b"/><path d="M553.6 194.5h1v1h-1zM558.5 199.9h1v1h-1zM558.6 198.9h1v1h-1zM558.9 187.6h1v1h-1zM548 196.7h1v1h-1zM559.1 191.9h1v1h-1zM555 188.4h1v1h-1zM556.6 186.6h1v1h-1zM560 187.7h1v1h-1zM552.8 198.7h1v1h-1zM557.3 187.2h1v1h-1zM556.9 191.3h1v1h-1zM551.9 192.1h1v1h-1zM557.4 186.4h1v1h-1zM557.7 193h1v1h-1z" fill="#2ca02c"/>
<circle cx="629.8" cy="207.7" r="4" fill="#8b4513"/>
<text x="636" y="209.7" font-size="5.4">MOL</text>
<circle cx="629.8" cy="218" r="4" fill="#ee33ee"/>
<text x="636" y="220" font-size="5.4">OPC</text>
<circle cx="629.8" cy="228.3" r="4" fill="#aa55ee"/>
<text x="636" y="230.3" font-size="5.4">MIGL</text>
<circle cx="629.8" cy="238.6" r="4" fill="#1e90ff"/>
<text x="636" y="240.6" font-size="5.4">AST</text>
<circle cx="629.8" cy="248.9" r="4" fill="#ff6600"/>
<text x="636" y="250.9" font-size="5.4">CXEX</text>
<circle cx="629.8" cy="259.2" r="4" fill="#008000"/>
<text x="636" y="261.2" font-size="5.4">CXINH</text>
<circle cx="629.8" cy="269.5" r="4" fill="#ff0000"/>
<text x="636" y="271.5" font-size="5.4">ENDO</text>
<path d="M454.3 310.4V291M454.3 310.4H474" stroke="#3b4a6b" stroke-width="0.7" fill="none"/>
<path d="M452.9 292L454.3 288.5L455.7 292Z M473 309L476.5 310.4L473 311.8Z" fill="#3b4a6b"/>
<text x="454.5" y="317.4" font-size="6.1">UMAP1</text>
<text x="451.7" y="311.8" font-size="6.1" transform="rotate(-90 451.7 311.8)">UMAP2</text>
<defs><pattern id="ebg" patternUnits="userSpaceOnUse" width="53" height="37"><path d="M44.9 28.3h0.7v0.6h-0.7zM28.7 34.7h0.8v0.6h-0.8zM1.5 8.2h0.9v0.6h-0.9zM12.2 8.1h0.9v0.6h-0.9zM44.4 20.6h1v0.6h-1zM31.1 32.7h1.2v0.7h-1.2zM29.1 26h1v0.6h-1zM26.9 28.8h0.9v0.6h-0.9zM46.1 21.1h0.7v0.7h-0.7zM44.6 24.9h0.6v0.5h-0.6zM40 9.2h0.6v0.7h-0.6zM3.7 5.9h0.9v0.6h-0.9zM37.7 16.8h0.8v0.6h-0.8zM20.5 15.6h0.7v0.5h-0.7zM0.9 5.4h1.1v0.5h-1.1zM46 36h1.1v0.7h-1.1zM18.4 7.6h1v0.6h-1zM5.5 24.6h0.7v0.6h-0.7zM46.2 33.3h0.5v0.6h-0.5zM52.3 29h0.8v0.6h-0.8zM9 33.7h0.7v0.7h-0.7zM30.3 8.3h0.6v0.6h-0.6zM46.9 1.5h0.7v0.8h-0.7zM6.1 6.2h0.7v0.7h-0.7zM48.3 14h1.3v0.8h-1.3zM13.4 17.6h0.6v0.7h-0.6zM0.6 36.4h0.7v0.7h-0.7zM13.1 3h0.7v0.8h-0.7zM17.3 11.7h1.2v0.8h-1.2zM17.7 20.1h1v0.7h-1zM1.1 9h0.6v0.7h-0.6zM4 23.5h0.7v0.7h-0.7z" fill="#c6dbef"/><path d="M34.5 29.2h0.6v0.5h-0.6zM12.1 35h1.2v0.5h-1.2zM49.6 15.6h1.2v0.7h-1.2zM1.8 9h1.1v0.6h-1.1zM1.6 1.6h1.1v0.8h-1.1zM20.9 6.3h0.9v0.8h-0.9zM42.9 19.2h0.9v0.6h-0.9zM18.9 12.8h0.9v0.7h-0.9zM24.3 1h0.7v0.6h-0.7zM45.6 29.5h1.1v0.7h-1.1zM35.9 20.2h0.7v0.8h-0.7zM17 23.3h0.5v0.6h-0.5zM44.4 34.5h0.8v0.8h-0.8zM25.7 36.5h0.7v0.7h-0.7zM44.6 13.6h0.8v0.6h-0.8zM5.5 1.4h0.6v0.8h-0.6zM16.6 2.3h1.2v0.8h-1.2zM36.5 24.5h0.7v0.7h-0.7zM34.6 23.8h1.3v0.6h-1.3z" fill="#9ecae1"/><path d="M22.9 28.2h0.5v0.6h-0.5zM28.6 31.8h0.7v0.7h-0.7zM27 7.7h1v0.7h-1zM27.4 8.3h1v0.6h-1zM2 30.3h1.3v0.7h-1.3zM32 35.3h1.2v0.5h-1.2zM43.9 12.6h1v0.7h-1zM29.9 34.2h0.9v0.6h-0.9zM43.9 0.5h1v0.5h-1z" fill="#6baed6"/><path d="M30.6 17h0.7v0.7h-0.7zM0.3 29h1.2v0.8h-1.2zM46.4 11.3h1.2v0.6h-1.2zM39.4 15.4h0.7v0.5h-0.7zM5.9 8h1v0.8h-1z" fill="#4292c6"/><path d="M45.6 4.5h0.8v0.7h-0.8z" fill="#2171b5"/></pattern><pattern id="eblk" patternUnits="userSpaceOnUse" width="41" height="27"><path d="M1.1 12.6h0.9v0.6h-0.9zM14.9 4.6h1.4v0.5h-1.4zM40.6 4.1h0.6v0.6h-0.6zM1.5 11h0.7v0.7h-0.7zM32.9 9.9h1.2v0.8h-1.2zM18.5 11.1h1.2v0.6h-1.2zM31 5.2h1.3v0.6h-1.3zM34.9 17.3h1.8v0.7h-1.8zM27 21h1.5v0.6h-1.5zM36.7 26.7h1.4v0.5h-1.4zM21.2 19.3h0.9v0.8h-0.9zM19.9 22.6h1.4v0.7h-1.4zM3.3 20.4h0.7v0.7h-0.7zM22.9 26.1h1v0.7h-1zM9.8 5.1h1.4v0.6h-1.4zM12.5 21.5h0.5v0.5h-0.5zM8.7 1.4h0.8v0.6h-0.8zM22.9 2.3h1.4v0.6h-1.4zM10.1 21.3h1.8v0.6h-1.8zM25.6 26h0.7v0.7h-0.7zM12.3 11.5h0.5v0.6h-0.5zM15.1 26.3h1.1v0.7h-1.1zM10.5 0.5h1.3v0.8h-1.3zM39.2 15.7h1.4v0.6h-1.4zM12 21.3h1.8v0.7h-1.8zM29.3 14h1.3v0.6h-1.3zM27.9 0.8h0.5v0.5h-0.5zM17.8 14.9h1.7v0.5h-1.7zM34.8 20.2h1.5v0.8h-1.5zM34.2 7.1h0.5v0.7h-0.5zM20.5 14.3h1v0.7h-1zM17.3 14.3h0.8v0.8h-0.8zM21.9 19.6h1.8v0.6h-1.8zM6.1 14.3h1.5v0.7h-1.5zM16.7 13.3h1v0.7h-1zM17.2 10.8h1.6v0.6h-1.6zM33.4 11.4h0.7v0.5h-0.7zM23.1 26.8h0.5v0.8h-0.5zM25.2 26.9h1.5v0.6h-1.5zM4.3 15h1.5v0.6h-1.5zM1.8 8.9h1v0.8h-1zM29.9 24.3h1.2v0.8h-1.2zM23.9 10.7h1.4v0.6h-1.4zM23 2.3h1.2v0.7h-1.2zM28.9 6.4h1.1v0.8h-1.1zM34.6 0.2h1.8v0.8h-1.8zM11.7 9.9h1.4v0.7h-1.4zM40.2 5.8h0.7v0.7h-0.7zM34.3 0.2h1.9v0.7h-1.9zM27.6 22.7h1.4v0.7h-1.4zM34.3 3.9h1.6v0.6h-1.6zM21 9.3h1.7v0.5h-1.7zM13.7 14.8h1.5v0.7h-1.5zM34.9 16h1.5v0.5h-1.5zM8.5 6.8h1.9v0.6h-1.9zM29 25.3h1.4v0.5h-1.4zM9.3 10.5h1.8v0.6h-1.8zM10.9 3.3h1.9v0.6h-1.9zM37.9 6.8h1.9v0.6h-1.9zM38.3 13.1h1.2v0.6h-1.2zM1.5 1.7h1.1v0.5h-1.1zM18.8 10.1h0.8v0.5h-0.8zM20.5 19h1.2v0.5h-1.2zM7.7 4.2h0.7v0.6h-0.7zM38.6 24.8h1.1v0.8h-1.1z" fill="#c6dbef"/><path d="M36.6 21.5h1.5v0.8h-1.5zM30.9 19.3h1.1v0.7h-1.1zM37.2 7.2h1.8v0.6h-1.8zM30.5 1.6h1.4v0.6h-1.4zM35.9 2.9h1.2v0.8h-1.2zM8.6 23.8h1.1v0.7h-1.1zM24.8 11.3h0.5v0.7h-0.5zM2.3 0.9h0.7v0.5h-0.7zM18.2 6.8h1.3v0.7h-1.3zM4.1 4.9h0.8v0.6h-0.8zM25.5 10.9h1.4v0.8h-1.4zM6.7 10.3h1.2v0.6h-1.2zM34.2 10.5h0.9v0.7h-0.9zM13 25h0.6v0.5h-0.6zM10.3 11.4h0.9v0.6h-0.9zM9.8 16.5h1v0.6h-1zM37.7 22.2h1.2v0.7h-1.2zM15.5 8h1.1v0.6h-1.1zM31.4 26.6h0.8v0.7h-0.8zM23.8 17.4h1.4v0.7h-1.4zM19.2 15.5h0.9v0.6h-0.9zM24.9 10.1h0.6v0.7h-0.6zM12.3 26h1.8v0.6h-1.8zM8.7 1.7h1.4v0.5h-1.4zM1 12.9h0.7v0.5h-0.7zM12.7 17.8h1.2v0.8h-1.2zM0.3 10.9h1.2v0.6h-1.2zM14.4 0.6h1.5v0.8h-1.5zM34.7 26.5h0.8v0.6h-0.8zM28.9 0h0.6v0.7h-0.6zM7.6 10.7h1.7v0.5h-1.7zM9.4 16.7h1.4v0.7h-1.4zM4.2 20.9h1.2v0.8h-1.2zM17.9 11.1h1.4v0.8h-1.4zM14.1 10.6h1.3v0.7h-1.3zM22.7 9.1h0.8v0.5h-0.8zM9.5 14h1.6v0.6h-1.6zM33 8h1.3v0.7h-1.3zM21.1 19.9h1.5v0.6h-1.5zM10.7 0.7h1.4v0.6h-1.4zM39.2 17.4h1.2v0.6h-1.2zM27.4 18.4h0.7v0.8h-0.7zM4.3 13.3h0.8v0.6h-0.8zM3.5 22.1h1.3v0.7h-1.3zM31.8 25.9h1.9v0.5h-1.9zM7.8 10.1h1.4v0.6h-1.4zM13.9 8.3h0.7v0.7h-0.7zM34.4 0.9h0.7v0.5h-0.7zM17.3 22.8h1.7v0.8h-1.7zM25.5 23.6h1v0.7h-1zM35.1 12h1.2v0.7h-1.2zM31.3 4.9h1.2v0.6h-1.2zM0.2 5.6h0.9v0.7h-0.9zM37.6 22h0.5v0.6h-0.5zM35.5 0.2h0.5v0.6h-0.5zM28 23.3h1.9v0.6h-1.9zM10.3 8.1h0.8v0.8h-0.8zM4 18.8h0.8v0.6h-0.8zM22.9 9.9h1.5v0.6h-1.5zM6.6 0.8h1v0.5h-1zM38.9 12.3h0.6v0.8h-0.6zM10.4 7.1h1.4v0.5h-1.4zM21.8 24.8h0.8v0.8h-0.8zM22.1 15.7h1.5v0.8h-1.5zM4.3 26.2h1.2v0.8h-1.2zM18.7 15h1.5v0.6h-1.5zM30.4 5.3h1.8v0.6h-1.8zM31.1 15.7h1.4v0.6h-1.4zM38.9 25.2h0.8v0.8h-0.8zM18.3 9.9h1.7v0.6h-1.7zM15.4 17.5h1.3v0.5h-1.3zM16.7 19.4h0.9v0.7h-0.9zM7.1 26.6h1v0.6h-1zM11.8 4.8h0.5v0.6h-0.5zM1.4 10.5h1.7v0.5h-1.7zM16.1 4.9h1.9v0.7h-1.9zM3.7 19.4h1.8v0.6h-1.8zM31.3 22.9h1.1v0.6h-1.1zM37.3 7.2h1.7v0.6h-1.7zM36.4 2.3h1.7v0.6h-1.7zM20.3 6.6h1.9v0.6h-1.9zM13.3 24.1h0.8v0.6h-0.8zM23.7 25.6h1v0.6h-1zM3.2 18h0.7v0.7h-0.7zM6.2 8.8h1v0.8h-1zM14.3 19.6h1v0.8h-1zM19.4 24.2h1.1v0.6h-1.1zM1.3 4.2h1.3v0.6h-1.3zM40.7 2.5h1.5v0.7h-1.5zM25.5 15h0.9v0.6h-0.9zM17.9 0.5h1.1v0.5h-1.1zM39.5 26h0.9v0.5h-0.9zM3.2 7.7h1.2v0.6h-1.2zM22.2 16.9h0.7v0.7h-0.7zM26.1 2.9h1.1v0.8h-1.1z" fill="#9ecae1"/><path d="M5.6 13.8h1.9v0.7h-1.9zM37.9 13.5h1.7v0.6h-1.7zM31.4 20h1.8v0.7h-1.8zM4.2 12.1h1.7v0.5h-1.7zM19 8.4h1.4v0.6h-1.4zM30.9 10.7h0.7v0.5h-0.7zM18.7 21.6h0.9v0.7h-0.9zM39.1 21.7h1.8v0.8h-1.8zM9.5 13.2h0.9v0.6h-0.9zM40.9 4h1.1v0.5h-1.1zM9.5 18.1h1.5v0.6h-1.5zM4.6 14.6h1.8v0.7h-1.8zM28.8 10.9h1.9v0.7h-1.9zM30.6 17.8h1.6v0.8h-1.6zM27.7 9h0.9v0.7h-0.9zM18.2 23.5h0.9v0.7h-0.9zM22.1 24.7h0.6v0.7h-0.6zM26.5 21.5h1.4v0.6h-1.4zM9.5 7.5h1.8v0.5h-1.8zM6.8 11.9h0.9v0.8h-0.9zM32.6 6.3h1.6v0.7h-1.6zM33.8 9.2h1.7v0.8h-1.7zM28.3 25.6h1.5v0.7h-1.5zM25.4 8.6h1.7v0.7h-1.7zM16.9 14.2h0.6v0.5h-0.6zM7.1 4h1.4v0.5h-1.4zM22.9 3.7h1.2v0.5h-1.2zM32.7 21.9h1.3v0.6h-1.3zM29.5 12.3h1.4v0.5h-1.4zM19.4 6.9h0.8v0.6h-0.8zM0.5 23.5h0.8v0.6h-0.8zM10.5 19.6h1v0.6h-1zM34.2 0.5h1.3v0.5h-1.3zM15.6 5.8h0.8v0.7h-0.8zM32.1 15.7h1.5v0.7h-1.5zM22 16.6h1.4v0.8h-1.4zM13.9 24.9h1.3v0.5h-1.3zM32.4 4.4h0.6v0.7h-0.6zM11 5.9h1.6v0.8h-1.6zM20.7 24.2h1.5v0.7h-1.5zM1.7 12.3h0.7v0.8h-0.7zM24.8 19.8h0.8v0.8h-0.8zM3.3 16.2h1.1v0.8h-1.1zM3.9 0.5h0.5v0.6h-0.5zM14.8 4.9h0.8v0.7h-0.8zM8.1 1.1h1v0.7h-1zM37.9 17.6h1v0.6h-1zM31.4 6h0.9v0.7h-0.9zM9.7 12.3h1.1v0.5h-1.1zM12.9 4.2h0.9v0.6h-0.9zM19.8 22.7h1.6v0.8h-1.6zM26.2 4.3h0.8v0.7h-0.8zM36.6 4.4h0.6v0.7h-0.6zM40.9 19.6h1.6v0.8h-1.6zM27.9 3.6h1.5v0.6h-1.5zM9.7 23.9h1.8v0.7h-1.8zM3.7 12.8h1.4v0.7h-1.4zM39.5 16.8h1.9v0.6h-1.9zM13.3 0h1.8v0.5h-1.8zM33.3 12.4h1.1v0.7h-1.1zM4.9 7.8h1.5v0.8h-1.5zM17.7 19.7h1.4v0.5h-1.4zM17.5 16.5h1.7v0.6h-1.7zM37.7 9.2h0.7v0.7h-0.7zM38.5 22.2h0.9v0.6h-0.9zM11.3 26.6h1.9v0.7h-1.9zM16.9 1.9h1.1v0.5h-1.1zM33.1 6.1h0.8v0.8h-0.8zM24.6 20.4h1.7v0.6h-1.7zM28.9 22h1.4v0.6h-1.4zM22.3 22.5h0.5v0.7h-0.5zM10 22.4h0.8v0.6h-0.8zM5.7 8.4h0.5v0.7h-0.5zM32.3 11.4h1.5v0.8h-1.5zM31.6 0.6h1.1v0.5h-1.1zM1.3 22.1h0.8v0.6h-0.8zM24.4 20.4h0.7v0.6h-0.7zM17.9 12.1h0.9v0.7h-0.9zM37.8 22.6h0.9v0.5h-0.9zM26.9 3.8h0.9v0.5h-0.9zM18.8 4.5h1.7v0.7h-1.7zM36.7 5.6h0.6v0.7h-0.6zM5.9 15.8h1v0.7h-1zM16.5 23.6h0.7v0.7h-0.7zM11.5 1.9h1.6v0.7h-1.6zM20.1 0.5h1.6v0.7h-1.6zM31.5 21.1h0.9v0.7h-0.9zM29.9 4.1h0.6v0.6h-0.6zM29.3 23.4h1v0.7h-1zM10.4 1.5h1.1v0.7h-1.1zM18.4 20.8h1.1v0.7h-1.1zM32.6 8.8h0.7v0.7h-0.7zM34.6 21.6h0.8v0.8h-0.8zM11.1 5.2h1.2v0.6h-1.2zM7.6 16.5h1.5v0.7h-1.5zM38.7 13.9h1.3v0.5h-1.3zM35.7 26.4h1.9v0.5h-1.9zM40.4 26.1h1.7v0.7h-1.7zM36.2 13h0.7v0.6h-0.7zM40.8 23.9h0.9v0.5h-0.9zM10.7 10h1.8v0.6h-1.8zM22 17.8h1.8v0.6h-1.8zM24.5 25.6h0.5v0.6h-0.5zM1.5 21.8h0.8v0.6h-0.8zM17.7 19.8h0.6v0.5h-0.6zM9.3 3.5h1.7v0.6h-1.7zM18.7 24.7h1.3v0.7h-1.3zM13.9 12.2h1.6v0.8h-1.6zM4.2 13.9h1.8v0.5h-1.8zM31.3 8.1h1.5v0.6h-1.5zM23.1 11.4h1.1v0.5h-1.1zM8.9 14.8h0.5v0.7h-0.5zM27.7 3.1h0.7v0.6h-0.7zM19.2 14.8h0.6v0.6h-0.6zM4.1 11.3h1.6v0.6h-1.6zM4.7 4.3h0.7v0.7h-0.7zM0 13.1h1.7v0.6h-1.7zM22.8 23.8h0.5v0.7h-0.5zM17.5 25.7h1.4v0.6h-1.4zM18.4 2h1v0.5h-1zM4.7 16.4h1.3v0.8h-1.3zM22.8 9.7h0.5v0.6h-0.5zM35.7 3.3h0.6v0.7h-0.6zM3.2 14.6h1.1v0.5h-1.1zM18.3 7.4h1.8v0.6h-1.8zM37.9 7h1.5v0.7h-1.5zM36.4 6.5h1.9v0.6h-1.9zM29.6 13.4h0.6v0.5h-0.6zM30.7 16.6h1.6v0.6h-1.6zM15.6 13.2h1v0.6h-1zM10.6 25.3h0.6v0.5h-0.6zM37.6 0.1h1.6v0.8h-1.6zM29 22.9h1.3v0.5h-1.3zM10.4 22.3h1.7v0.5h-1.7z" fill="#6baed6"/><path d="M27.5 8.3h1.3v0.7h-1.3zM6.5 11.6h1.1v0.7h-1.1zM32.4 9.6h1.9v0.8h-1.9zM20 6h1v0.7h-1zM12.8 5.6h1.2v0.8h-1.2zM3.1 22.2h1.5v0.8h-1.5zM30.4 3.1h1v0.5h-1zM16.1 13.9h0.7v0.8h-0.7zM20.8 26.6h1.8v0.8h-1.8zM2.1 11.3h1.2v0.6h-1.2zM11.9 26.6h1v0.5h-1zM4.1 8.3h1.7v0.7h-1.7zM3 7.7h1v0.8h-1zM37.7 15.8h1.6v0.5h-1.6zM5.9 11.9h0.5v0.7h-0.5zM38.4 19h1.2v0.8h-1.2zM0.5 12.5h1.5v0.8h-1.5zM33.5 0.5h1.8v0.7h-1.8zM37.1 23.9h0.6v0.7h-0.6zM19.2 5.5h1.9v0.5h-1.9zM27.5 9.9h1.1v0.6h-1.1zM22.1 26.6h1.9v0.8h-1.9zM35.2 24.4h1.5v0.7h-1.5zM27 0.8h1.3v0.6h-1.3zM19.5 1.3h1.6v0.7h-1.6zM22.3 5h1.8v0.8h-1.8zM11.4 24.4h1.3v0.6h-1.3zM11.2 24.6h0.8v0.6h-0.8zM16.1 14.2h1.8v0.6h-1.8zM35.3 6h1.4v0.7h-1.4zM35.8 16h1.5v0.7h-1.5zM16 11.8h1.9v0.6h-1.9zM16.5 13.9h0.6v0.7h-0.6zM2.1 14h1.2v0.6h-1.2zM23.4 6.8h1.1v0.6h-1.1zM15 22.9h1.1v0.7h-1.1zM21.9 12.4h1.8v0.7h-1.8zM14.9 21.6h1v0.5h-1zM26.6 11h1.2v0.8h-1.2zM32.1 24.2h1.4v0.7h-1.4zM2.1 8.9h1.2v0.8h-1.2zM6.8 8.2h1.7v0.7h-1.7zM19.1 7.5h1.2v0.7h-1.2zM34.8 4.2h1.8v0.5h-1.8zM8 14.9h0.5v0.5h-0.5zM29.5 23.2h1.6v0.5h-1.6zM40.2 18.3h1.2v0.6h-1.2zM36.1 14.5h0.6v0.8h-0.6zM31.9 6.2h1v0.5h-1zM25.5 19.2h1.3v0.6h-1.3zM34.2 5.1h0.5v0.7h-0.5zM13.2 1.9h0.5v0.8h-0.5zM40.3 11.7h1.9v0.8h-1.9zM7.1 21.3h1.1v0.7h-1.1zM31.1 12.9h1.8v0.8h-1.8zM24.2 2.8h0.5v0.6h-0.5zM34.7 20.8h1.7v0.5h-1.7zM1.4 7.5h0.8v0.6h-0.8zM35.9 5.5h0.7v0.7h-0.7zM4.1 14.5h1.4v0.6h-1.4zM5.4 12.5h1.3v0.6h-1.3zM24.3 16.9h1.8v0.7h-1.8zM7.1 24.6h1.8v0.7h-1.8zM40.3 12.6h1.4v0.7h-1.4zM29.1 23.6h1.6v0.6h-1.6zM35.4 1.5h1.4v0.7h-1.4zM35.6 20.3h0.9v0.7h-0.9zM2.4 5.6h1.7v0.8h-1.7zM21.7 22.1h0.6v0.6h-0.6zM5.1 5h1v0.7h-1zM24.9 16.9h1.1v0.8h-1.1zM25.8 1.8h0.8v0.7h-0.8zM7.8 1.7h1.6v0.6h-1.6zM28.9 16h1.1v0.6h-1.1zM10.1 7.1h1.6v0.6h-1.6zM27.9 12.6h1.6v0.6h-1.6zM39.2 6.9h0.5v0.5h-0.5zM8.9 25.6h0.6v0.8h-0.6zM31.7 7.1h1.3v0.7h-1.3zM22.8 11.7h1v0.6h-1zM3.3 11.2h1.1v0.8h-1.1zM25.9 24h0.8v0.7h-0.8zM33.2 7.2h1v0.6h-1zM0.9 2.8h1.1v0.5h-1.1zM33.5 10.8h1.5v0.7h-1.5zM2.1 2.5h0.8v0.8h-0.8zM31.7 9.2h1.8v0.6h-1.8zM21.3 7.7h0.7v0.6h-0.7zM28 18.5h0.5v0.7h-0.5zM28 14.1h1.7v0.8h-1.7zM17.7 14.6h1.6v0.7h-1.6zM25.8 18.5h1.3v0.6h-1.3zM18.6 9.2h0.6v0.5h-0.6zM14.7 7.6h0.8v0.7h-0.8zM41 25.9h1v0.8h-1zM3.5 12.6h1.5v0.7h-1.5zM40.1 20h1.1v0.8h-1.1zM24.5 16h1.6v0.7h-1.6zM6.1 24.5h0.8v0.6h-0.8zM4.8 1.1h0.8v0.5h-0.8zM31.1 14.4h1v0.5h-1zM9.9 14.8h1.9v0.6h-1.9zM18 14.4h1.1v0.7h-1.1zM19.3 6.6h1.6v0.8h-1.6zM21.9 4.2h1.2v0.7h-1.2zM9.9 19.5h1.5v0.7h-1.5zM27.6 17.3h1v0.7h-1zM10.8 14.1h1.7v0.7h-1.7zM30.4 0.9h0.7v0.5h-0.7zM39.6 20.6h1.5v0.7h-1.5zM36.6 15.2h1.2v0.6h-1.2zM38.9 9h1.1v0.7h-1.1zM12.5 7.4h1.9v0.7h-1.9zM17.2 14.9h0.9v0.6h-0.9zM37 16.2h1.5v0.7h-1.5zM36.2 20.4h1.5v0.7h-1.5zM2.6 21.3h1.7v0.6h-1.7zM27 5.2h1.6v0.6h-1.6zM8.3 7.7h1.1v0.6h-1.1zM31.2 19h1.8v0.7h-1.8zM6.5 7.2h1.6v0.8h-1.6zM13.1 13.1h0.9v0.6h-0.9zM29.7 6.9h1.2v0.7h-1.2zM38.3 1.5h1v0.6h-1zM3.8 0.6h1.5v0.7h-1.5zM37.6 3.2h0.9v0.7h-0.9zM26.1 7.1h0.5v0.6h-0.5zM37.4 22.5h1.7v0.7h-1.7zM32 6.6h1.9v0.7h-1.9zM6.3 14.2h1.8v0.6h-1.8zM9 8.2h1.3v0.7h-1.3zM7.9 15.5h0.6v0.7h-0.6zM13.7 16.9h1v0.6h-1zM32.8 5.2h1.8v0.8h-1.8zM13.7 20.8h1.8v0.7h-1.8zM9.7 23.3h1v0.7h-1zM22.8 22.5h0.8v0.6h-0.8zM9.3 20.9h1.6v0.6h-1.6zM13.2 11.7h1.8v0.8h-1.8zM29.5 15.6h1.1v0.6h-1.1zM37 11.8h1.1v0.7h-1.1zM19.9 5.5h1.6v0.5h-1.6zM4.8 9.3h1.8v0.7h-1.8zM30.1 26.5h1.4v0.7h-1.4zM32.2 24.5h0.5v0.6h-0.5zM29.5 5.2h1.3v0.7h-1.3zM34 23.6h1.4v0.8h-1.4zM1.3 12h0.7v0.6h-0.7zM27.7 13.3h1v0.5h-1zM37 19.6h1.7v0.7h-1.7zM1.1 4.8h1v0.6h-1zM13.1 23.2h1.7v0.7h-1.7zM15.6 20.2h1.9v0.7h-1.9zM26.7 16.7h0.9v0.5h-0.9zM18.5 11.6h1.1v0.8h-1.1zM24.9 6.5h1.6v0.7h-1.6z" fill="#4292c6"/><path d="M21.6 15.1h0.8v0.5h-0.8zM36.9 12.4h1.3v0.8h-1.3zM6.4 5h1.5v0.6h-1.5zM28.9 12.8h0.8v0.7h-0.8zM29.1 6.9h1.1v0.7h-1.1zM39.5 19.7h1.1v0.7h-1.1zM7.4 13.8h1.2v0.6h-1.2zM8.2 20.1h1.3v0.6h-1.3zM5.7 16.5h1.1v0.6h-1.1zM16.6 18.2h1.6v0.8h-1.6zM3.8 17.1h1v0.7h-1zM32.7 17h0.9v0.6h-0.9zM15.5 9.8h0.9v0.5h-0.9zM18.1 17.3h1.8v0.6h-1.8zM38.4 20.3h1.9v0.6h-1.9zM36.2 20.6h1.1v0.7h-1.1zM2.5 3.9h1.7v0.6h-1.7zM5.4 14.1h1.7v0.6h-1.7zM25 10.7h1.9v0.6h-1.9zM5.7 13.3h0.7v0.5h-0.7zM6.7 2.8h1.6v0.7h-1.6zM24.5 1h0.8v0.5h-0.8zM19 7.9h0.8v0.7h-0.8zM28.4 21.2h1.1v0.6h-1.1zM28 8.3h0.8v0.8h-0.8zM26.4 13.4h1.6v0.8h-1.6zM3.7 25.5h1.4v0.5h-1.4zM14.9 25.6h1.4v0.7h-1.4zM20.9 26.1h0.5v0.6h-0.5zM0.3 18.2h1.9v0.7h-1.9zM3.1 14.6h1.4v0.6h-1.4zM4.5 16.1h0.6v0.6h-0.6zM5.2 11.5h1.1v0.6h-1.1zM25.5 0.8h0.9v0.8h-0.9zM16.7 24.6h1.3v0.6h-1.3zM29.6 6.1h1.3v0.6h-1.3zM24.1 13.8h0.7v0.6h-0.7zM34.6 16.6h1.6v0.5h-1.6zM12.5 15.4h1.2v0.5h-1.2zM21.6 21.6h0.9v0.5h-0.9zM8.5 11.3h0.7v0.7h-0.7zM14.4 22.8h0.7v0.6h-0.7zM3.5 22.5h1.5v0.6h-1.5zM18.9 2.4h1.7v0.7h-1.7zM1.7 15.2h1.8v0.7h-1.8zM23.5 22.3h1.2v0.6h-1.2zM2.1 21.1h0.8v0.6h-0.8zM1.9 8.7h1.1v0.6h-1.1zM4.4 17.9h1.4v0.7h-1.4zM33.1 20.8h0.9v0.7h-0.9zM39.8 22.1h1v0.5h-1zM11.4 20.5h1.7v0.6h-1.7zM8.8 13h1.2v0.6h-1.2zM7 4.7h1.4v0.5h-1.4zM23.4 20.4h1.5v0.8h-1.5zM17.5 6.4h1.7v0.6h-1.7zM9.4 8.1h1.2v0.6h-1.2zM12.7 16.3h0.8v0.7h-0.8zM8.2 0.3h1.3v0.6h-1.3zM0.8 21.2h0.7v0.6h-0.7zM12.3 3.8h0.7v0.6h-0.7zM8.5 24.9h1v0.7h-1zM16.7 25.8h0.9v0.6h-0.9zM19.6 4.9h1.4v0.8h-1.4zM27.9 8.2h1.1v0.7h-1.1zM37.4 20.7h1v0.7h-1zM14.3 14.7h1.4v0.6h-1.4zM34.8 5.8h1.4v0.8h-1.4zM11.6 1h1.4v0.7h-1.4zM7.6 21.5h1.1v0.6h-1.1zM4.3 11.2h0.7v0.5h-0.7zM6.1 14.1h1.7v0.7h-1.7zM7.4 23.3h0.7v0.6h-0.7zM27.9 18.1h1.5v0.6h-1.5zM19.4 25h1.4v0.7h-1.4zM40.2 19.3h1.8v0.6h-1.8zM1.9 18.8h0.9v0.6h-0.9zM35.4 15.1h1.5v0.7h-1.5zM14.8 12.1h1.5v0.6h-1.5zM32.6 5.6h1.1v0.8h-1.1zM31.4 20.1h0.5v0.6h-0.5zM29.4 14.4h1.7v0.7h-1.7zM30.3 24.6h1.5v0.7h-1.5zM31.5 11h0.7v0.5h-0.7zM9.3 19h1.6v0.7h-1.6zM38.9 26.7h0.5v0.6h-0.5zM10.6 15.7h1.2v0.7h-1.2zM8.9 25.2h0.9v0.6h-0.9zM22.2 22.6h1.2v0.5h-1.2zM23 9.4h1.4v0.6h-1.4zM27.4 0h1.4v0.6h-1.4zM30.7 17h0.6v0.7h-0.6zM19.3 15.5h1v0.7h-1zM8 1h1.6v0.7h-1.6zM34.6 3.3h0.9v0.8h-0.9zM12.2 22.3h1.8v0.6h-1.8zM25.2 21.4h1.1v0.7h-1.1zM20.7 26.1h1.3v0.6h-1.3zM0.8 5.6h1.2v0.7h-1.2zM21.1 13.8h1.6v0.7h-1.6zM18 3.4h1.8v0.6h-1.8zM7.1 10.6h1.5v0.8h-1.5zM20.7 18.5h1.8v0.7h-1.8zM9.6 7.6h0.6v0.5h-0.6zM4.3 20.9h0.9v0.8h-0.9zM15.5 12.2h1.1v0.5h-1.1zM28 14.4h1.5v0.7h-1.5zM9.7 11.4h0.9v0.5h-0.9z" fill="#2171b5"/><path d="M38.9 1.5h0.6v0.8h-0.6zM38.9 14.7h1.1v0.6h-1.1zM29 13.6h1.2v0.7h-1.2zM1 19.7h0.5v0.6h-0.5zM14.5 12.9h1.8v0.6h-1.8zM5.2 0.8h1v0.6h-1zM5.3 25.3h1.5v0.8h-1.5zM26.6 1.3h1.8v0.6h-1.8zM33.9 18.2h0.9v0.8h-0.9zM23.4 13.9h1.1v0.6h-1.1zM32.8 17.5h0.7v0.7h-0.7zM22.5 15.4h1.5v0.6h-1.5zM4.8 16.1h1.4v0.6h-1.4zM39.7 10.5h1.4v0.7h-1.4zM35.9 17.2h1.3v0.6h-1.3zM7.2 21.7h1.7v0.6h-1.7zM2.6 4h1.2v0.5h-1.2zM39 16.6h1v0.8h-1zM26.9 1.2h1.5v0.6h-1.5zM38.2 22.4h0.7v0.5h-0.7zM23.8 0.6h1v0.8h-1zM30.9 23.8h1.7v0.5h-1.7zM39 1h1.1v0.7h-1.1zM28.8 1.5h1.6v0.6h-1.6zM21.4 2.9h1.1v0.7h-1.1zM27 21h1.1v0.6h-1.1zM30.8 26.3h1.1v0.6h-1.1zM16.6 0.2h1.2v0.7h-1.2zM25.2 19.5h0.8v0.8h-0.8zM6.1 15.6h0.7v0.8h-0.7zM20 17.6h0.7v0.6h-0.7zM34.5 26.8h1.3v0.6h-1.3zM25.1 12.4h1.7v0.6h-1.7zM16.8 6.8h1.3v0.5h-1.3zM37.1 11.7h1.6v0.6h-1.6zM17 5.9h0.8v0.7h-0.8zM30.1 19.7h1.4v0.8h-1.4zM13.1 12.8h0.5v0.6h-0.5zM35.4 5.6h1.4v0.5h-1.4zM1.7 15.6h1.4v0.6h-1.4zM25 13.8h1.6v0.7h-1.6zM13.9 14.3h1.8v0.6h-1.8z" fill="#08519c"/></pattern><pattern id="emid" patternUnits="userSpaceOnUse" width="43" height="29"><path d="M0.6 24.3h0.9v0.6h-0.9zM37.2 13.7h1.5v0.8h-1.5zM36.7 28.7h0.6v0.7h-0.6zM26.4 1.3h1.5v0.6h-1.5zM25.8 0.9h0.8v0.6h-0.8zM32 5h0.9v0.7h-0.9zM21.6 9.2h0.9v0.6h-0.9zM25.3 0.1h0.7v0.7h-0.7zM3.9 2.9h1.7v0.6h-1.7zM36.2 3.5h1.7v0.7h-1.7zM21.5 28.2h1.1v0.7h-1.1zM20.6 11.1h0.7v0.6h-0.7zM4 24.2h0.9v0.6h-0.9zM34.5 25.8h1.8v0.6h-1.8zM33.1 19.2h1.2v0.7h-1.2zM1.8 2.3h0.8v0.5h-0.8zM29.3 28.1h1.3v0.5h-1.3zM3.9 4.9h0.6v0.5h-0.6zM16.8 9.7h1.5v0.8h-1.5zM20.1 22h1.4v0.5h-1.4zM17.2 27.7h0.6v0.7h-0.6zM3.5 18.8h0.8v0.5h-0.8zM35.5 3.3h0.5v0.8h-0.5zM9.4 4.8h1.8v0.7h-1.8zM12.9 11.9h0.6v0.5h-0.6zM5.7 15.4h1.3v0.5h-1.3zM8.8 22.3h1.2v0.8h-1.2zM18.5 18.2h1.4v0.8h-1.4zM27.7 26h1.8v0.6h-1.8zM24.7 15.9h1.2v0.6h-1.2zM8.3 27.2h1.9v0.8h-1.9zM0.6 25.2h1.6v0.8h-1.6zM36.7 11.1h1.9v0.6h-1.9zM40.2 15.2h1.3v0.5h-1.3zM18.6 9.1h0.8v0.8h-0.8zM3.6 22.8h1v0.6h-1zM13.6 16.6h1.3v0.7h-1.3zM30.5 25.2h1.8v0.5h-1.8zM10.3 17h1.4v0.6h-1.4zM40.8 9.2h1v0.8h-1zM10.8 5.9h0.7v0.8h-0.7zM38.9 7.7h0.9v0.8h-0.9zM38.3 2.6h0.6v0.7h-0.6zM22 27.2h0.8v0.7h-0.8zM15.1 17.4h1v0.8h-1zM34 9.2h0.9v0.7h-0.9zM23.8 10.5h1.3v0.6h-1.3zM1.6 4.6h0.6v0.8h-0.6zM34.1 18.1h1.3v0.6h-1.3zM10.9 22.4h0.7v0.7h-0.7zM39.9 0.9h1.9v0.6h-1.9zM40.5 9.2h0.6v0.6h-0.6zM12.1 20.6h1.9v0.7h-1.9zM41.6 17.7h0.9v0.6h-0.9zM9.9 24.3h1.5v0.8h-1.5zM25.5 5.4h0.6v0.6h-0.6zM10.8 28.6h0.6v0.7h-0.6zM19.5 26.1h1v0.6h-1zM42 14.8h1.4v0.6h-1.4zM22.7 4.2h1.3v0.8h-1.3zM12 1.5h1.1v0.8h-1.1zM36.5 10.8h1.2v0.7h-1.2zM11.2 28.9h1.5v0.8h-1.5zM40 18.3h1.4v0.7h-1.4zM38.8 9.6h1.4v0.6h-1.4zM25.7 29h0.8v0.7h-0.8zM8.1 18.9h1.1v0.8h-1.1zM3 5.3h1.5v0.6h-1.5zM19.6 27.6h1.7v0.6h-1.7zM2.8 27.8h1.2v0.6h-1.2zM38 28.8h1.5v0.8h-1.5zM17.4 25.6h0.7v0.7h-0.7zM29.7 22.7h0.7v0.7h-0.7zM34.9 23.8h1.1v0.5h-1.1zM34.4 20.2h1v0.7h-1zM18.3 12.9h0.7v0.6h-0.7zM38.3 23.5h0.8v0.7h-0.8zM24.5 19h0.6v0.5h-0.6zM33.8 27.8h1.3v0.6h-1.3zM18 14.8h1.9v0.6h-1.9zM35 9.5h1.8v0.6h-1.8zM40.1 22.3h0.8v0.7h-0.8zM35.6 17.8h1.5v0.6h-1.5zM20.3 17.7h1.3v0.7h-1.3zM31.2 9.3h1.8v0.7h-1.8zM42.4 20.6h0.9v0.7h-0.9zM10.8 21.9h1v0.5h-1zM37 5.2h1.3v0.8h-1.3zM36.7 5.1h1v0.7h-1zM8.1 24.2h1v0.6h-1zM31.3 11h1.7v0.7h-1.7z" fill="#c6dbef"/><path d="M23.4 10.7h1.3v0.7h-1.3zM27.3 25.2h1.2v0.7h-1.2zM37 28h1.8v0.7h-1.8zM19.6 17.2h0.9v0.6h-0.9zM34.6 6.9h0.8v0.6h-0.8zM34.7 24.3h0.8v0.6h-0.8zM34.1 7.9h1v0.6h-1zM37.1 13.8h1.6v0.6h-1.6zM23 23.7h0.7v0.7h-0.7zM5.4 2h1.9v0.8h-1.9zM23.9 20.8h1v0.5h-1zM16.1 17.5h1.6v0.6h-1.6zM20 3.6h1.6v0.7h-1.6zM7.7 7.2h1.4v0.7h-1.4zM29.7 21.9h1.4v0.7h-1.4zM11.5 5.8h1.3v0.6h-1.3zM29.7 27.6h0.9v0.7h-0.9zM8 20.4h1.7v0.8h-1.7zM37.2 9.1h1.1v0.7h-1.1zM38.3 19h0.7v0.8h-0.7zM14.3 20.9h1.3v0.7h-1.3zM16.5 25.3h0.6v0.7h-0.6zM33.1 10.3h1v0.6h-1zM4.3 3.3h1.6v0.7h-1.6zM8.1 12.1h1.5v0.7h-1.5zM34.1 18.1h0.6v0.6h-0.6zM3.3 15.6h1.8v0.6h-1.8zM19.8 5.7h0.8v0.6h-0.8zM33.9 13.5h1.8v0.6h-1.8zM11.4 23.6h1.4v0.6h-1.4zM31.8 21.3h1.7v0.7h-1.7zM36.3 18.6h1.7v0.8h-1.7zM27.7 17h0.5v0.6h-0.5zM38.4 2.5h1.2v0.6h-1.2zM15.1 28.9h1v0.6h-1zM40.8 27.4h0.9v0.6h-0.9zM5.7 7.3h1.9v0.5h-1.9zM8.6 2.3h1.2v0.7h-1.2zM2.3 22h0.7v0.6h-0.7zM6.2 3.7h1v0.8h-1zM15.2 27.6h1.2v0.7h-1.2zM41.4 24.4h0.7v0.6h-0.7zM2.3 28.4h1.1v0.8h-1.1zM5.3 14.5h1.5v0.6h-1.5zM23.6 25.6h1.1v0.8h-1.1zM15.9 17.8h0.7v0.5h-0.7zM20.2 24.9h1.3v0.6h-1.3zM35.4 27.2h0.7v0.8h-0.7zM30.1 6.2h1.4v0.7h-1.4zM32.3 11.4h1.3v0.7h-1.3zM35.2 28.6h1v0.8h-1zM21.7 4.8h0.6v0.7h-0.6zM13.5 27.3h0.7v0.8h-0.7zM6.8 28.4h1.5v0.6h-1.5zM5.9 18.1h1.7v0.5h-1.7zM30 5h0.5v0.7h-0.5zM1.1 0.8h1v0.6h-1zM39.8 12h0.5v0.6h-0.5zM26.9 2.6h1.8v0.5h-1.8zM20.3 7.4h1v0.7h-1zM4.2 5.2h1.2v0.6h-1.2zM9.8 5.7h1.3v0.7h-1.3zM25.6 27.5h0.9v0.8h-0.9zM3.7 25.7h0.8v0.6h-0.8zM23.3 16.2h1.1v0.7h-1.1zM39.7 9h1.4v0.5h-1.4zM5.3 16.7h0.5v0.8h-0.5zM36.4 13.9h1v0.7h-1zM34.2 7.6h0.6v0.7h-0.6zM28.5 0.8h0.8v0.7h-0.8zM23.1 28.1h0.8v0.7h-0.8zM36.4 12.9h1.2v0.7h-1.2zM31.3 23.2h1.7v0.6h-1.7zM7.1 26.1h1.1v0.6h-1.1zM37.1 23.7h1.3v0.5h-1.3zM35.6 24.2h1.9v0.7h-1.9zM8.4 21.2h1.7v0.7h-1.7zM31 15.2h1v0.7h-1zM36.9 22.2h1.6v0.5h-1.6zM7.3 22.2h0.7v0.8h-0.7zM34.4 25.8h1.6v0.6h-1.6zM35.8 3.2h1.7v0.7h-1.7zM23.5 5.9h1.5v0.6h-1.5zM4.7 11h1.2v0.7h-1.2zM0.2 27.9h1.1v0.5h-1.1zM30.1 5.1h1v0.7h-1zM32.6 2.8h0.6v0.5h-0.6zM7.5 24.3h0.9v0.8h-0.9zM23.8 18.1h1.2v0.7h-1.2zM39.2 5.9h0.7v0.7h-0.7zM14.3 24.2h0.9v0.8h-0.9zM22.5 10.6h1.3v0.6h-1.3zM0.7 12.7h1.7v0.6h-1.7zM34.3 2.2h0.5v0.7h-0.5zM16.2 14.7h0.9v0.7h-0.9zM38.9 10.2h0.8v0.5h-0.8zM9.3 25.6h1.1v0.6h-1.1zM10.7 23.9h1v0.6h-1zM22.4 11.6h1v0.6h-1zM21.7 17.4h0.6v0.7h-0.6zM28.1 20.3h0.9v0.5h-0.9zM31.5 5.5h1.3v0.7h-1.3zM22.1 18.5h1.9v0.7h-1.9zM11.6 22h0.8v0.8h-0.8zM29.6 20.1h0.8v0.7h-0.8zM7.5 14.7h1.3v0.6h-1.3zM11.7 18.1h0.6v0.6h-0.6zM11.9 8.9h0.8v0.6h-0.8zM22.9 10.4h1.6v0.8h-1.6zM9.4 0.8h0.9v0.8h-0.9zM21.5 20.6h1.4v0.7h-1.4zM1.7 12h1.7v0.7h-1.7zM2.5 27.6h0.8v0.5h-0.8zM12.2 19h1.5v0.6h-1.5zM21.9 1.7h1.6v0.7h-1.6zM24.9 17.2h0.6v0.6h-0.6zM21.7 3.9h1.3v0.8h-1.3zM12.4 23.1h1v0.6h-1zM22 14.4h0.5v0.5h-0.5zM32.9 6.6h1.9v0.6h-1.9zM0.8 14.3h1.2v0.7h-1.2zM7.5 17h1.4v0.6h-1.4zM0.5 17.2h1.5v0.5h-1.5zM32.3 20.6h0.7v0.8h-0.7zM5.1 25.7h1.3v0.6h-1.3zM0.5 12.2h0.8v0.6h-0.8zM4.3 21.8h1.8v0.6h-1.8zM32.1 10.9h1.5v0.7h-1.5zM31 28.3h1.1v0.8h-1.1zM12.3 10.9h0.7v0.8h-0.7zM41.1 8.3h1.5v0.8h-1.5zM18.2 24h1.8v0.7h-1.8zM22.7 7.6h1v0.5h-1zM42.4 3.6h1.9v0.5h-1.9zM5.1 11.8h1.5v0.7h-1.5zM28.3 24.3h1.5v0.6h-1.5zM10 26.9h0.6v0.6h-0.6zM34.7 0.2h0.9v0.7h-0.9zM28.4 27.2h0.8v0.7h-0.8zM3.9 23.6h1v0.5h-1zM22.3 13.8h0.7v0.8h-0.7zM15.7 13.8h0.6v0.6h-0.6zM32.3 17.2h1v0.7h-1zM2.1 22.4h0.9v0.8h-0.9z" fill="#9ecae1"/><path d="M15.1 17h1.3v0.8h-1.3zM6.5 8.5h1.6v0.8h-1.6zM18.5 20.9h0.8v0.6h-0.8zM15.9 17.3h0.9v0.6h-0.9zM36.8 4.9h1v0.7h-1zM17.6 26.7h0.7v0.5h-0.7zM12.4 9.9h0.8v0.5h-0.8zM17.8 27.2h1.4v0.6h-1.4zM20.3 22.5h0.5v0.5h-0.5zM15.8 11.5h1v0.6h-1zM27.6 26h0.7v0.5h-0.7zM36.7 17h0.9v0.6h-0.9zM33.3 4.2h1.9v0.6h-1.9zM31 24.8h1.1v0.7h-1.1zM9 17h1.8v0.6h-1.8zM24.4 5.9h0.9v0.7h-0.9zM37 14h1.3v0.7h-1.3zM8.3 15.4h0.6v0.7h-0.6zM30.1 15.6h1.1v0.7h-1.1zM20 22h1.1v0.6h-1.1zM7.2 0.8h0.7v0.6h-0.7zM2.6 0.7h1.1v0.6h-1.1zM11.6 4.9h1.5v0.7h-1.5zM38.6 21.3h1v0.6h-1zM25.9 12.9h0.7v0.8h-0.7zM40.8 26.2h1.8v0.6h-1.8zM27.5 1.2h1.5v0.6h-1.5zM14.8 21.5h1.5v0.6h-1.5zM6.9 9h1.1v0.7h-1.1zM14.5 1.5h1.3v0.5h-1.3zM10.6 23.3h1.1v0.6h-1.1zM35.7 16h0.9v0.6h-0.9zM7.3 5.3h1.5v0.8h-1.5zM41.2 4.5h0.9v0.7h-0.9zM36.6 24h1.8v0.7h-1.8zM38.5 27.8h1.4v0.6h-1.4zM4.6 11.3h1.9v0.6h-1.9zM0.9 10h1.5v0.7h-1.5zM6.3 17.4h1v0.7h-1zM13.7 10.4h1.3v0.8h-1.3zM28 25.4h1.3v0.5h-1.3zM12.2 0.9h1.3v0.8h-1.3zM29.3 3.5h1.7v0.6h-1.7zM38.3 8.3h0.8v0.7h-0.8zM27 19.1h1.1v0.5h-1.1zM9.1 5.4h0.6v0.6h-0.6zM36.6 24.2h0.6v0.6h-0.6zM7.6 7.3h0.9v0.7h-0.9zM4.8 6.4h1.1v0.7h-1.1zM24.9 7.8h1.8v0.7h-1.8zM7.7 20.8h1v0.7h-1zM38.4 25.7h1.3v0.8h-1.3zM31.2 5h1.1v0.6h-1.1zM24.8 3.1h0.6v0.6h-0.6zM18.7 7.6h1.8v0.6h-1.8zM37.4 21.6h1.2v0.7h-1.2zM34.6 7.5h1.3v0.7h-1.3zM2 4.9h1.4v0.6h-1.4zM1.9 16.1h1.5v0.8h-1.5zM41.8 2.9h1.6v0.6h-1.6zM34.4 10h0.8v0.6h-0.8zM43 3.5h1.2v0.6h-1.2zM41.4 0.2h0.6v0.7h-0.6zM25.9 0.8h0.9v0.7h-0.9zM18.6 5.8h1.1v0.7h-1.1zM13.6 12.8h1.8v0.6h-1.8zM36 27.1h1.6v0.7h-1.6zM7.3 9.5h0.7v0.6h-0.7zM4.6 21.9h1.1v0.7h-1.1zM30 9.2h1v0.7h-1zM22.5 14.2h1.7v0.6h-1.7zM30.6 5.9h0.9v0.5h-0.9zM30.2 1.7h1.8v0.8h-1.8zM5.3 5.2h1.6v0.5h-1.6zM21.8 21.7h1.6v0.6h-1.6zM26.4 6.6h1.7v0.5h-1.7zM8.9 18.9h0.8v0.7h-0.8zM12.3 28.4h1.7v0.7h-1.7zM27.9 21.8h1.9v0.5h-1.9zM38.1 18.1h0.9v0.7h-0.9zM38.6 11.6h0.6v0.8h-0.6zM38.6 23.8h0.8v0.7h-0.8zM9.6 1.3h1.5v0.7h-1.5zM35.8 5.7h1.1v0.5h-1.1zM38 14.5h0.7v0.6h-0.7zM5.2 28.1h1.3v0.7h-1.3zM24.2 28.6h1.2v0.7h-1.2zM30.6 17.5h1.5v0.8h-1.5zM31.7 16.9h0.9v0.7h-0.9zM26.3 10.9h1.8v0.7h-1.8zM28.1 27.5h1.6v0.7h-1.6zM32.3 5.9h1.5v0.8h-1.5zM39.7 26h0.7v0.6h-0.7zM40.7 9.9h1.2v0.8h-1.2zM14.7 5.1h0.8v0.8h-0.8zM8.2 23.8h1.8v0.7h-1.8zM42.5 23h1.6v0.5h-1.6zM38.6 5.2h1.1v0.5h-1.1zM13.8 26.1h0.6v0.6h-0.6zM11.8 18.1h1.5v0.5h-1.5zM11.1 10.1h0.8v0.6h-0.8zM16.1 2.8h1.3v0.6h-1.3zM27.4 0.6h1.2v0.6h-1.2zM27.3 1.5h1.2v0.7h-1.2zM42.1 27.2h0.7v0.7h-0.7zM4.8 25.4h1.8v0.7h-1.8zM30 2.8h1.7v0.6h-1.7zM31.8 17.6h1.1v0.6h-1.1zM1.3 7.4h1.7v0.5h-1.7zM26.9 8.8h1.5v0.6h-1.5zM1.4 9.1h0.5v0.6h-0.5zM25.4 27.3h0.6v0.6h-0.6zM6.7 10.3h1.3v0.6h-1.3zM32.5 11.2h0.8v0.5h-0.8zM36.8 12.7h1.2v0.7h-1.2zM8 27.6h1.6v0.7h-1.6zM26.5 8.6h0.6v0.7h-0.6zM20.3 25.3h1.5v0.7h-1.5zM21.8 2.2h0.8v0.5h-0.8zM1.1 13.8h0.7v0.8h-0.7zM35.7 12.8h1v0.8h-1zM19.5 10.9h1.6v0.8h-1.6zM2 1.2h1.8v0.8h-1.8zM22 15.9h1.7v0.6h-1.7zM38.5 9.1h1.3v0.7h-1.3zM29.9 24.9h1.9v0.6h-1.9zM8.3 22h1.4v0.6h-1.4zM11.2 19.6h1.4v0.6h-1.4zM7.2 10.9h1.5v0.7h-1.5zM23.3 2.2h1.3v0.6h-1.3zM24.1 16.5h1.6v0.6h-1.6zM23.9 13.4h1.5v0.5h-1.5zM7.6 7.1h0.9v0.5h-0.9zM17 13.1h1.9v0.8h-1.9zM7.2 13.7h1.5v0.6h-1.5zM30.5 11.1h0.5v0.6h-0.5zM21.4 12.7h1.5v0.6h-1.5zM36.1 10.3h1.3v0.6h-1.3zM19.3 0.8h1.6v0.6h-1.6zM31 4.3h1.1v0.7h-1.1zM19.5 10.7h0.9v0.8h-0.9zM9.2 19.1h0.5v0.6h-0.5zM31.6 8h1.4v0.8h-1.4zM40 11.5h1.1v0.8h-1.1zM35.1 9.2h0.6v0.5h-0.6zM33.3 6.8h1.1v0.8h-1.1zM33.6 9.4h1.2v0.7h-1.2zM13.9 21.4h1.7v0.6h-1.7zM37.2 11.9h1.1v0.7h-1.1zM38.5 23h1v0.6h-1zM30.5 19.2h0.7v0.6h-0.7zM2.6 26.4h0.5v0.5h-0.5zM23.1 2.2h0.9v0.8h-0.9zM40.6 27.8h0.9v0.5h-0.9zM18 17.8h1.1v0.6h-1.1zM4.8 24.2h1.5v0.6h-1.5zM6.2 1.3h1.4v0.6h-1.4z" fill="#6baed6"/><path d="M2.8 22h1.3v0.6h-1.3zM39.6 11.5h1.6v0.6h-1.6zM39.9 24.8h1.9v0.7h-1.9zM9.1 24.1h1.3v0.6h-1.3zM6.7 1.2h1.7v0.6h-1.7zM25.6 16.2h1.4v0.8h-1.4zM0.9 17.9h1.4v0.5h-1.4zM20 19.7h1v0.7h-1zM1 1.8h1.4v0.8h-1.4zM4.4 9.3h1v0.8h-1zM12.3 23.5h0.6v0.8h-0.6zM39.7 26h1.8v0.7h-1.8zM25.2 10.5h0.8v0.6h-0.8zM18.1 20.1h1.1v0.6h-1.1zM29.9 2.1h1.1v0.6h-1.1zM39.4 15h1.1v0.7h-1.1zM20.1 24.2h1.7v0.7h-1.7zM41.2 24.8h0.8v0.6h-0.8zM29 0.2h1v0.6h-1zM5.1 8h1.4v0.5h-1.4zM4.9 14.3h1v0.7h-1zM24.4 5.3h1.4v0.7h-1.4zM19.7 9.1h0.7v0.5h-0.7zM32.4 15.8h1.5v0.6h-1.5zM33.2 10.2h1.7v0.5h-1.7zM25.5 4.2h1.1v0.6h-1.1zM25.1 18.4h1.9v0.7h-1.9zM19.1 16.4h1.8v0.8h-1.8zM9.6 0.1h0.8v0.7h-0.8zM2.2 11.7h1.1v0.5h-1.1zM14.9 3.6h0.6v0.7h-0.6zM38.7 5.8h1.9v0.6h-1.9zM40.7 2.5h0.9v0.8h-0.9zM16.6 14.1h0.7v0.7h-0.7zM33.9 15.5h0.8v0.6h-0.8zM35 6h1.3v0.6h-1.3zM3.3 10h1.2v0.5h-1.2zM31.6 12.3h1.4v0.7h-1.4zM30.1 28.3h1.9v0.8h-1.9zM15.5 24.7h0.9v0.6h-0.9zM39.9 23.6h1.3v0.6h-1.3zM17.6 10.2h1.1v0.7h-1.1zM39.2 3h1.4v0.6h-1.4zM2 6.8h1.8v0.5h-1.8zM20 15.6h1.1v0.7h-1.1zM22.6 22.2h0.6v0.7h-0.6zM12.1 28h1.1v0.6h-1.1zM37.6 28.6h1.2v0.6h-1.2zM3 12.3h1.7v0.7h-1.7zM15.5 8.7h1.2v0.6h-1.2zM31.7 24h1.7v0.8h-1.7zM3.6 0.8h1v0.5h-1zM19 1.6h1.6v0.8h-1.6zM4.6 15.3h1.7v0.6h-1.7zM37.1 13h1.2v0.7h-1.2zM15.1 13.9h1.3v0.6h-1.3zM24.2 11.2h0.7v0.7h-0.7zM22 5.8h0.8v0.8h-0.8zM9.7 13.3h1.9v0.6h-1.9zM7.1 19.3h0.9v0.7h-0.9zM21.7 27.6h1.7v0.7h-1.7zM6.4 15.8h1.4v0.7h-1.4zM11.4 22.1h1.3v0.7h-1.3zM22.4 12.4h0.9v0.5h-0.9zM18.9 3.7h1.9v0.6h-1.9zM13.1 13.7h0.9v0.6h-0.9zM41.1 13.8h0.8v0.6h-0.8zM32.3 10.5h1.5v0.6h-1.5zM4.5 22.2h1.2v0.6h-1.2zM39.3 5.6h1.7v0.7h-1.7zM42.1 4h1.6v0.8h-1.6zM17.5 9.7h0.9v0.6h-0.9zM20.6 14.4h1.1v0.6h-1.1zM8 28.5h0.7v0.8h-0.7zM26.7 22.2h1.5v0.5h-1.5zM17.4 27.8h1.1v0.6h-1.1zM19.7 19.1h1.3v0.7h-1.3zM24.8 0h0.7v0.6h-0.7zM21.3 24.9h1.2v0.6h-1.2zM10.3 20.6h1.4v0.5h-1.4zM9.8 28.9h0.7v0.6h-0.7zM17 25.5h1.6v0.7h-1.6zM37.8 21.5h1.8v0.7h-1.8zM20.9 5.7h1.3v0.6h-1.3zM35.5 10.3h0.9v0.8h-0.9zM16.3 16.3h1.1v0.7h-1.1zM40.7 19.1h1.3v0.8h-1.3zM5.4 15.2h0.9v0.8h-0.9zM27 9.3h1.1v0.8h-1.1zM11.9 25.7h0.6v0.8h-0.6zM35.4 10.3h0.6v0.6h-0.6zM1.1 3.2h1.6v0.8h-1.6zM18.3 0.7h0.6v0.6h-0.6zM4.9 6.8h1.1v0.7h-1.1zM23.5 18.2h0.7v0.6h-0.7zM9.2 19.5h1.9v0.6h-1.9zM8.4 15h1.3v0.6h-1.3zM39.1 23.1h1.6v0.5h-1.6zM27 27.2h0.5v0.6h-0.5zM13.3 18.6h1.4v0.7h-1.4zM3 18.3h0.5v0.8h-0.5zM8.4 19.9h1.3v0.6h-1.3zM13.1 5.7h1.8v0.6h-1.8zM25.9 12.9h1.2v0.7h-1.2zM1 24.5h1.1v0.6h-1.1zM22.7 8.5h1.7v0.6h-1.7zM35.5 11.5h1.3v0.6h-1.3zM42.1 16.1h1.4v0.7h-1.4zM15.2 25h1.7v0.7h-1.7zM29.9 5.7h1.6v0.5h-1.6zM13.7 22.3h0.5v0.8h-0.5zM13.8 24.1h1.6v0.6h-1.6zM40.5 6.9h0.8v0.8h-0.8zM5.7 11.2h1.8v0.8h-1.8zM11.8 7.2h0.6v0.6h-0.6zM13 8.1h0.8v0.7h-0.8zM36.2 18.6h1.6v0.6h-1.6zM37.3 21h1.2v0.7h-1.2zM32.4 1.2h0.6v0.6h-0.6zM30.1 4.4h1.2v0.7h-1.2zM35.6 23.4h0.6v0.7h-0.6zM22.6 2.1h1.4v0.5h-1.4zM11.6 15.4h1.4v0.8h-1.4zM13.4 5.2h0.9v0.5h-0.9zM16.7 21.9h1.7v0.6h-1.7zM32.5 17.3h1.3v0.7h-1.3zM29.7 7.9h1.4v0.7h-1.4zM7.9 19.4h0.7v0.7h-0.7zM2.9 22.7h1.8v0.8h-1.8zM34.3 28.1h0.7v0.8h-0.7zM40.2 23.8h0.9v0.6h-0.9zM9.9 17.3h0.6v0.6h-0.6zM11 4.3h1.5v0.6h-1.5zM24 0.3h1v0.5h-1zM41 3.2h1.4v0.6h-1.4zM17.4 1.4h0.8v0.6h-0.8zM19.2 25.5h1.5v0.7h-1.5zM21.2 2.1h1.7v0.7h-1.7zM23.3 1.5h1.8v0.6h-1.8zM30.8 9.3h1.9v0.6h-1.9zM42.3 24.2h0.7v0.5h-0.7zM38.2 15.1h1v0.5h-1zM11.7 12.9h1.7v0.6h-1.7zM29.8 7.9h1.2v0.6h-1.2zM35.2 8.8h0.6v0.8h-0.6zM2.3 4.3h1.2v0.6h-1.2zM5.7 26.5h0.9v0.6h-0.9zM27.1 10.4h1.4v0.6h-1.4zM33.5 17h0.7v0.7h-0.7zM22 18.5h1v0.7h-1zM38.7 10.2h1.6v0.6h-1.6zM6.2 3.5h1.7v0.5h-1.7zM38.3 1.2h0.8v0.6h-0.8zM5.7 12.6h1.3v0.5h-1.3zM9.9 16.7h1v0.8h-1zM15.2 5.2h1.2v0.7h-1.2zM30.3 15h1.8v0.6h-1.8zM41.1 22.9h1.2v0.7h-1.2zM29.5 13.5h1v0.6h-1zM10 3.9h1.7v0.5h-1.7zM11.8 9.2h0.9v0.5h-0.9zM11.8 19.2h1.7v0.6h-1.7z" fill="#4292c6"/><path d="M37.8 2.8h0.7v0.6h-0.7zM42.2 14.7h1.9v0.6h-1.9zM1.2 16.5h1.5v0.6h-1.5zM19.4 6.5h0.7v0.7h-0.7zM27.6 23.4h1v0.5h-1zM9.5 21.6h1.7v0.7h-1.7zM34.7 23.9h0.5v0.7h-0.5zM2.1 7.9h0.9v0.7h-0.9zM26.8 12.5h1v0.6h-1zM40.3 10.9h1.8v0.7h-1.8zM34.1 19.4h1.5v0.7h-1.5zM41 16.8h1.6v0.5h-1.6zM22 20.7h0.6v0.7h-0.6zM2.6 9.4h1.3v0.7h-1.3zM39.1 2.8h1.8v0.6h-1.8zM32.6 8.6h1.4v0.7h-1.4zM11.4 21.9h1.8v0.7h-1.8zM29.9 3.9h1.7v0.7h-1.7zM30.8 21.5h1v0.7h-1zM37 12.7h1.6v0.6h-1.6zM30.9 10.6h1v0.7h-1zM39.4 27.3h0.5v0.6h-0.5zM15.6 12h0.8v0.7h-0.8zM26.5 18.6h1.6v0.8h-1.6zM42.4 17.8h1.8v0.7h-1.8zM17.5 28.9h1.8v0.6h-1.8zM7.9 2.8h1.5v0.6h-1.5zM34.7 8.6h0.8v0.7h-0.8zM42.1 1h0.8v0.5h-0.8zM10.6 3.9h1.6v0.7h-1.6zM7.8 11.1h1.7v0.6h-1.7zM27.1 23.7h0.5v0.6h-0.5zM7.7 28.8h1.4v0.7h-1.4zM37.6 1.4h1.8v0.7h-1.8zM8.6 17.2h1.8v0.8h-1.8zM37.1 24.2h0.9v0.8h-0.9zM7.9 8h1v0.7h-1zM35.5 9.6h1.1v0.7h-1.1zM8.7 11.4h0.6v0.7h-0.6zM5.7 15.4h1.4v0.6h-1.4zM39.1 24.9h1.5v0.6h-1.5zM8.7 2.7h1.6v0.7h-1.6zM32.2 8.4h0.5v0.7h-0.5zM37.3 15h1.1v0.5h-1.1zM31.5 26.2h0.6v0.7h-0.6zM19.1 19.4h1v0.6h-1zM21.5 2.9h1.8v0.7h-1.8zM21.9 18.3h0.6v0.7h-0.6zM18.1 20.6h1.3v0.6h-1.3zM24.3 9.9h1.1v0.5h-1.1zM18.7 4.2h0.8v0.7h-0.8zM9.9 26.1h1v0.6h-1zM39.3 16.2h0.7v0.6h-0.7zM17.1 10h1.4v0.7h-1.4zM18.8 22.3h1.2v0.5h-1.2zM16.1 10.5h1v0.5h-1zM36.4 25.4h1.9v0.5h-1.9zM43 19.6h1.7v0.7h-1.7zM12.7 2.1h1.8v0.7h-1.8zM12.8 24.6h0.6v0.6h-0.6zM28.9 0h1.1v0.6h-1.1zM30 17.9h1.9v0.6h-1.9zM1.8 7.7h1v0.6h-1zM20.3 21.9h1v0.7h-1zM0.5 16.4h1.2v0.5h-1.2zM25.4 10.1h1.6v0.7h-1.6zM36 16.1h1.7v0.7h-1.7zM9.7 25.7h1.8v0.6h-1.8zM35.2 27.7h1.2v0.7h-1.2zM35.4 20.7h1v0.6h-1zM10.6 9.4h1.1v0.7h-1.1zM16 9.7h0.6v0.8h-0.6zM24.6 3.2h1.9v0.5h-1.9zM17.2 0.3h1.6v0.8h-1.6zM19 28.9h1.7v0.8h-1.7zM24.6 7.4h1.9v0.5h-1.9zM28 4.5h0.8v0.6h-0.8zM36.8 8.8h0.8v0.7h-0.8zM26.9 8h0.8v0.7h-0.8zM12.8 22.8h1.2v0.6h-1.2zM40.5 15.4h0.5v0.5h-0.5zM28 10.2h0.8v0.7h-0.8zM37.7 11.6h1.5v0.7h-1.5zM4.3 28.5h1v0.8h-1zM11.7 6.2h1.7v0.8h-1.7zM25.1 15.8h1.6v0.7h-1.6zM12.4 24h1.8v0.7h-1.8zM38.8 7.7h1.2v0.8h-1.2zM30.2 25.1h1.6v0.7h-1.6zM23.4 3.1h0.9v0.8h-0.9zM8.7 14.7h1.2v0.6h-1.2zM15.1 13.1h1.3v0.7h-1.3zM20.3 14.6h0.6v0.8h-0.6zM16.1 19.8h1.5v0.7h-1.5zM27.9 9.7h0.7v0.6h-0.7zM32.6 12.8h1.5v0.7h-1.5zM37 1.5h1.9v0.6h-1.9zM32.5 28h1.6v0.6h-1.6zM15.3 9.6h1.1v0.7h-1.1zM26.4 25.8h1.2v0.6h-1.2zM23.1 16.9h1.8v0.7h-1.8zM19.6 21.1h0.8v0.8h-0.8zM21.3 20.9h1.6v0.5h-1.6zM0.3 21.6h1.9v0.8h-1.9zM18.9 17.6h0.7v0.7h-0.7zM20.3 25.1h0.8v0.6h-0.8zM36.4 25.2h1.5v0.6h-1.5zM14.3 10.5h1.6v0.5h-1.6zM38 26.7h1.6v0.5h-1.6zM29.1 7.7h1v0.6h-1zM31.9 11.9h0.5v0.7h-0.5zM11.9 1.8h1.3v0.5h-1.3zM37.3 1.1h1.9v0.7h-1.9zM18.7 2h1.5v0.7h-1.5zM35.9 23.9h1.7v0.6h-1.7zM21.3 18.9h0.8v0.7h-0.8zM36.8 12.3h0.6v0.8h-0.6zM12.6 11.6h1.6v0.6h-1.6zM34.2 15h0.6v0.5h-0.6zM35.2 6.5h1.8v0.7h-1.8zM39 9.2h1v0.8h-1z" fill="#2171b5"/><path d="M20.2 24.3h1.2v0.7h-1.2zM18.8 18.2h0.9v0.7h-0.9zM38.6 11h1.1v0.7h-1.1zM22.4 15.9h0.5v0.6h-0.5zM37.8 28.6h1.1v0.8h-1.1zM20.1 6.7h0.8v0.7h-0.8zM9.4 2.7h1.2v0.5h-1.2zM9.5 16.3h1.1v0.7h-1.1zM3 7.8h1.2v0.6h-1.2zM29.7 2.4h1.1v0.7h-1.1zM2.8 0.3h1.2v0.6h-1.2zM28.4 15.3h0.8v0.6h-0.8zM26.3 7.6h1.5v0.5h-1.5zM8.2 2.4h1.5v0.7h-1.5zM19.6 16.4h0.9v0.7h-0.9zM38 17h1.7v0.8h-1.7zM0.1 5.7h0.8v0.7h-0.8zM26.4 27.4h1.2v0.7h-1.2zM16 20.5h1.3v0.6h-1.3zM41.6 22.2h0.8v0.6h-0.8zM32.5 10.2h0.5v0.6h-0.5zM5.6 22.5h1.8v0.6h-1.8zM35.3 20.6h1.6v0.8h-1.6zM9.4 10.8h1.8v0.5h-1.8zM42.4 6.4h0.9v0.5h-0.9z" fill="#08519c"/></pattern><pattern id="elow" patternUnits="userSpaceOnUse" width="37" height="31"><path d="M3.8 12.3h0.7v0.5h-0.7zM22.4 20.8h1.1v0.6h-1.1zM33.6 17.7h1.5v0.8h-1.5zM30.1 1.3h0.6v0.7h-0.6zM19.8 14.6h0.9v0.8h-0.9zM15.3 6.3h1.2v0.6h-1.2zM2.3 7.1h1.3v0.7h-1.3zM12.2 5.5h1v0.5h-1zM10.7 29.9h1.4v0.6h-1.4zM1.7 5.3h1.4v0.6h-1.4zM3.6 30.4h1v0.6h-1zM2 5.2h1.2v0.5h-1.2zM18.2 7.7h1.6v0.5h-1.6zM15.2 1.1h1v0.6h-1zM7.7 7.2h1.5v0.5h-1.5zM34.3 17.5h1.6v0.6h-1.6zM7.8 27.1h1.5v0.8h-1.5zM33.3 4h1.6v0.7h-1.6zM6.2 19.7h1.1v0.7h-1.1zM22 15.2h1.5v0.7h-1.5zM13.4 23.8h1.1v0.5h-1.1zM4.2 19.2h1.5v0.7h-1.5zM11.2 25.9h1v0.7h-1zM32.3 5.5h0.7v0.6h-0.7zM9.1 26.3h0.9v0.7h-0.9zM24.2 10.1h0.8v0.5h-0.8zM35.1 25.7h1.4v0.7h-1.4zM36 30.6h1.5v0.7h-1.5zM11.7 3.8h0.6v0.8h-0.6zM32.9 21.8h1.3v0.7h-1.3zM5.8 26.3h1.4v0.6h-1.4zM23.4 7.9h1.4v0.7h-1.4zM33.1 19.4h0.9v0.8h-0.9zM2.6 24.2h1.5v0.7h-1.5zM36.2 25.6h1.1v0.5h-1.1zM17.7 4.5h0.9v0.8h-0.9zM15.3 30.2h1.3v0.8h-1.3zM25.6 24.5h1.3v0.6h-1.3zM0.7 27.5h1.5v0.6h-1.5zM33.8 4.1h1.3v0.5h-1.3zM35.9 9.2h1.1v0.7h-1.1zM28.4 5.6h0.7v0.5h-0.7zM21.2 6h1.2v0.6h-1.2zM16.1 9.7h1.2v0.6h-1.2zM12.4 16.7h1.1v0.6h-1.1zM30.3 27.1h0.6v0.8h-0.6z" fill="#c6dbef"/><path d="M34 24.8h1.3v0.6h-1.3zM10.2 5.4h0.6v0.6h-0.6zM23.2 22.7h1.4v0.8h-1.4zM3.3 29h1.5v0.7h-1.5zM15.3 18.6h1v0.5h-1zM27.6 9.9h1.1v0.8h-1.1zM5 11.8h1.6v0.6h-1.6zM28.6 12.7h1.6v0.6h-1.6zM24.3 24.8h1.2v0.7h-1.2zM24.2 21.3h0.8v0.8h-0.8zM32.5 6.3h1.2v0.6h-1.2zM31.7 24.1h0.6v0.8h-0.6zM20 28h1.3v0.5h-1.3zM20.2 15.1h1.3v0.6h-1.3zM24.5 4.1h0.6v0.5h-0.6zM23 2.9h0.9v0.8h-0.9zM8.5 10.1h1.2v0.8h-1.2zM0.5 5.7h1.1v0.7h-1.1zM13.5 29.5h1.2v0.5h-1.2zM3.4 8h0.7v0.8h-0.7zM2.5 5.2h1.5v0.6h-1.5zM25.2 26.7h0.9v0.6h-0.9zM1 27.2h0.5v0.8h-0.5zM17.6 22.3h0.7v0.7h-0.7zM19.5 30.6h0.9v0.5h-0.9zM36.6 5.2h0.8v0.8h-0.8zM12.1 30.5h1.2v0.6h-1.2zM20.2 16.8h0.9v0.7h-0.9zM26.2 29.3h0.7v0.6h-0.7zM16.5 4.2h0.5v0.7h-0.5zM22.2 18.6h1.3v0.5h-1.3zM29.6 4.3h0.5v0.6h-0.5zM25 16.9h1.6v0.8h-1.6zM36.5 4.4h1.3v0.7h-1.3zM32 6.5h1v0.6h-1z" fill="#9ecae1"/><path d="M33.1 29.6h1.3v0.8h-1.3zM30.6 2.6h1.1v0.6h-1.1zM11.5 7.2h1v0.8h-1zM22.7 13.7h0.7v0.7h-0.7zM6.6 28h0.9v0.7h-0.9zM27.6 19.2h1.4v0.6h-1.4zM20.4 15.6h0.7v0.8h-0.7zM18.4 16.9h1.2v0.6h-1.2zM23.1 19.3h0.5v0.7h-0.5zM30.2 9.2h0.9v0.7h-0.9zM15.1 19.5h1.4v0.6h-1.4zM9.5 15.8h0.5v0.6h-0.5zM33 15.5h0.6v0.6h-0.6zM36.2 1.8h1.5v0.7h-1.5zM31.2 3.2h0.7v0.5h-0.7zM28.1 1.2h0.7v0.6h-0.7zM34.7 15.4h0.5v0.6h-0.5zM14.5 4.3h0.9v0.6h-0.9zM15.5 3.6h0.8v0.7h-0.8zM22.4 16.9h0.8v0.5h-0.8zM35.5 27.5h0.8v0.6h-0.8z" fill="#6baed6"/><path d="M30.7 25h1.4v0.6h-1.4zM23 25.4h0.8v0.6h-0.8zM30.7 15.5h0.5v0.6h-0.5zM24.2 24.5h1.3v0.6h-1.3zM2.8 30.1h1.6v0.7h-1.6zM8.1 0.1h1.5v0.5h-1.5zM4.3 25.1h1.4v0.8h-1.4zM28.6 14.6h1.1v0.5h-1.1zM17.3 28.3h0.8v0.8h-0.8zM5.9 18.1h1v0.7h-1zM28.1 30h0.6v0.7h-0.6zM15 18.6h1.5v0.7h-1.5zM14.8 12.4h1.4v0.6h-1.4zM28.8 4.6h0.8v0.6h-0.8zM6 24.5h1.2v0.7h-1.2zM9.7 16.3h0.7v0.5h-0.7zM32.5 22.3h1.1v0.7h-1.1zM30.8 18.2h0.6v0.7h-0.6zM11.3 20.1h1.5v0.7h-1.5zM33 27.4h1.2v0.7h-1.2zM2.8 26.3h0.7v0.7h-0.7zM17.8 30.2h1.1v0.6h-1.1zM7.3 14.6h0.6v0.8h-0.6z" fill="#4292c6"/><path d="M23.2 21h1.2v0.6h-1.2zM26.1 28.6h1.5v0.6h-1.5zM6.1 2.9h0.7v0.8h-0.7zM6.4 6.7h1.6v0.8h-1.6zM7.9 0.8h0.7v0.7h-0.7z" fill="#2171b5"/></pattern><pattern id="evl" patternUnits="userSpaceOnUse" width="29" height="23"><path d="M0.1 20h0.7v0.6h-0.7zM8.7 13.9h0.5v0.7h-0.5zM21.9 21.4h1.3v0.6h-1.3zM20 22.9h0.6v0.5h-0.6zM14.3 19.3h0.6v0.7h-0.6zM24.5 6.8h0.9v0.8h-0.9zM7.9 18h1.3v0.6h-1.3zM15.9 5.8h1.1v0.6h-1.1zM24.3 21.6h0.9v0.7h-0.9z" fill="#c6dbef"/><path d="M0.4 5h0.8v0.8h-0.8zM9 18.8h0.9v0.6h-0.9zM20.4 1.3h1.4v0.5h-1.4zM0.3 1.1h0.7v0.8h-0.7zM15.2 17.8h0.6v0.7h-0.6zM17.7 21.1h0.8v0.8h-0.8zM9.1 7.3h0.7v0.5h-0.7zM8.4 9.3h0.6v0.6h-0.6zM20.4 6.5h0.9v0.7h-0.9z" fill="#9ecae1"/><path d="M21.5 18.3h1.3v0.7h-1.3zM4.6 18.3h0.6v0.7h-0.6zM5.9 21.6h1.1v0.8h-1.1zM24.5 0.4h1.2v0.6h-1.2zM24.9 0.8h1.4v0.5h-1.4zM13.2 9.7h0.6v0.8h-0.6zM22.5 16h1.1v0.7h-1.1zM8.5 21.7h1.1v0.7h-1.1zM18.8 18.3h0.8v0.7h-0.8zM24 8.1h1.3v0.8h-1.3zM28.3 22h1v0.7h-1zM21.2 4h1.2v0.7h-1.2zM12.2 14.3h1.2v0.7h-1.2zM0.8 3.7h0.9v0.7h-0.9z" fill="#6baed6"/><path d="M0.8 10.7h1.3v0.7h-1.3zM3.3 10.8h0.7v0.7h-0.7zM8.7 8.3h0.6v0.5h-0.6zM18.3 18.1h0.6v0.6h-0.6zM28.3 10.4h0.9v0.7h-0.9z" fill="#4292c6"/><path d="M25.3 6.7h1.4v0.7h-1.4zM15.5 9.3h0.7v0.7h-0.7zM27.8 14.4h0.9v0.6h-0.9z" fill="#2171b5"/></pattern></defs>
<text x="0" y="336" font-size="13.5" font-weight="bold" fill="#000" stroke="#000" stroke-width="0.55">e</text>
<rect x="30.2" y="339.4" width="312.6" height="178.5" fill="#f5f9fe"/>
<rect x="30.2" y="339.4" width="312.6" height="178.5" fill="url(#ebg)"/>
<rect x="30.2" y="339.4" width="38.6" height="23.6" fill="url(#eblk)"/>
<rect x="30.2" y="339.4" width="38.6" height="34.4" fill="url(#eblk)"/>
<rect x="68.8" y="373.8" width="39.4" height="17" fill="url(#eblk)"/>
<rect x="68.8" y="373.8" width="39.4" height="17" fill="url(#elow)"/>
<rect x="129" y="393.3" width="37.5" height="10.2" fill="url(#elow)"/>
<rect x="108" y="339.4" width="20" height="65.6" fill="url(#evl)"/>
<rect x="155" y="339.4" width="31" height="50.6" fill="url(#evl)"/>
<rect x="150" y="403.5" width="36" height="2.3" fill="url(#eblk)"/>
<rect x="185.9" y="405.8" width="20" height="15.2" fill="url(#eblk)"/>
<rect x="205.9" y="421" width="34.4" height="16.8" fill="url(#eblk)"/>
<rect x="205.9" y="421" width="34.4" height="16.8" fill="url(#emid)"/>
<rect x="240.3" y="421" width="25.5" height="16.8" fill="url(#evl)"/>
<rect x="240.3" y="437.8" width="25.5" height="8.4" fill="url(#eblk)"/>
<rect x="100" y="421" width="105" height="25" fill="url(#evl)"/>
<rect x="100" y="446" width="30" height="34" fill="url(#evl)"/>
<rect x="265.8" y="446.2" width="77" height="71.7" fill="url(#elow)"/>
<rect x="265.8" y="446.2" width="17.8" height="71.7" fill="url(#elow)"/>
<rect x="283.6" y="455" width="59.2" height="62.9" fill="url(#emid)"/>
<rect x="283.6" y="455" width="59.2" height="62.9" fill="url(#elow)"/>
<rect x="30.2" y="403.2" width="38.6" height="1.8" fill="url(#eblk)"/>
<path d="M163 339.4V390" stroke="#3a82c4" stroke-width="0.8" stroke-dasharray="1.6 1.2 0.8 1.8 2.2 0.9" opacity="0.9"/>
<path d="M166.5 339.4V392" stroke="#3a82c4" stroke-width="0.8" stroke-dasharray="1.6 1.2 0.8 1.8 2.2 0.9" opacity="0.7"/>
<path d="M170 339.4V372" stroke="#3a82c4" stroke-width="0.8" stroke-dasharray="1.6 1.2 0.8 1.8 2.2 0.9" opacity="0.8"/>
<path d="M173.5 339.4V388" stroke="#3a82c4" stroke-width="0.8" stroke-dasharray="1.6 1.2 0.8 1.8 2.2 0.9" opacity="0.7"/>
<path d="M178 339.4V376" stroke="#3a82c4" stroke-width="0.8" stroke-dasharray="1.6 1.2 0.8 1.8 2.2 0.9" opacity="0.8"/>
<path d="M228.5 339.4V375" stroke="#3a82c4" stroke-width="0.8" stroke-dasharray="1.6 1.2 0.8 1.8 2.2 0.9" opacity="0.9"/>
<path d="M231.5 339.4V372" stroke="#3a82c4" stroke-width="0.8" stroke-dasharray="1.6 1.2 0.8 1.8 2.2 0.9" opacity="0.7"/>
<path d="M236 339.4V380" stroke="#3a82c4" stroke-width="0.8" stroke-dasharray="1.6 1.2 0.8 1.8 2.2 0.9" opacity="0.9"/>
<path d="M240.6 339.4V517.9" stroke="#3a82c4" stroke-width="0.8" stroke-dasharray="1.6 1.2 0.8 1.8 2.2 0.9" opacity="1.0"/>
<path d="M241.4 339.4V517.9" stroke="#3a82c4" stroke-width="0.8" stroke-dasharray="1.6 1.2 0.8 1.8 2.2 0.9" opacity="0.6"/>
<path d="M266 339.4V517.9" stroke="#3a82c4" stroke-width="0.8" stroke-dasharray="1.6 1.2 0.8 1.8 2.2 0.9" opacity="0.6"/>
<path d="M108.2 339.4V517.9" stroke="#3a82c4" stroke-width="0.8" stroke-dasharray="1.6 1.2 0.8 1.8 2.2 0.9" opacity="0.35"/>
<path d="M341.3 339.4V517.9" stroke="#3a82c4" stroke-width="0.8" stroke-dasharray="1.6 1.2 0.8 1.8 2.2 0.9" opacity="0.5"/>
<path d="M68.8 390V517.9" stroke="#3a82c4" stroke-width="0.8" stroke-dasharray="1.6 1.2 0.8 1.8 2.2 0.9" opacity="0.3"/>
<path d="M206 437.8V517.9" stroke="#3a82c4" stroke-width="0.8" stroke-dasharray="1.6 1.2 0.8 1.8 2.2 0.9" opacity="0.3"/>
<path d="M30.5 404.3H68.5" stroke="#3b80c0" stroke-width="0.8" stroke-dasharray="3 1 2 1.5" opacity="0.8"/>
<path d="M30.2 339.4H342.8V517.9H30.2" stroke="#555" stroke-width="0.6" fill="none"/>
<path d="M29.7 339.4V517.9" stroke="#bbb" stroke-width="1"/>
<rect x="24.2" y="339.4" width="5" height="23.6" fill="#1f77b4"/>
<rect x="24.2" y="363" width="5" height="11.3" fill="#e377c2"/>
<rect x="24.2" y="374.3" width="5" height="9.7" fill="#17becf"/>
<rect x="24.2" y="384" width="5" height="7" fill="#98df8a"/>
<rect x="24.2" y="391" width="5" height="2.4" fill="#ff9896"/>
<rect x="24.2" y="393.4" width="5" height="2.3" fill="#c5b0d5"/>
<rect x="24.2" y="395.7" width="5" height="7.3" fill="#ffbb78"/>
<rect x="24.2" y="403" width="5" height="2.6" fill="#c49c94"/>
<rect x="24.2" y="405.6" width="5" height="15.4" fill="#aa40fc"/>
<rect x="24.2" y="421" width="5" height="16.2" fill="#d62728"/>
<rect x="24.2" y="437.2" width="5" height="8.8" fill="#aec7e8"/>
<rect x="24.2" y="446" width="5" height="11" fill="#b5bd61"/>
<rect x="24.2" y="457" width="5" height="22.5" fill="#279e68"/>
<rect x="24.2" y="479.5" width="5" height="24.2" fill="#ff7f0e"/>
<rect x="24.2" y="503.7" width="5" height="14.2" fill="#8c564b"/>
<path d="M21.9 339.4V373.9M21.9 374.8V392.5M21.9 393.8V395.2M21.9 396.2V403M21.9 403.8V404.8M21.9 405.7V420.6M21.9 421.5V437M21.9 437.8V445.6M21.9 446.6V517.9" stroke="#111" stroke-width="1.1"/>
<text x="19.3" y="359.9" font-size="6.25" text-anchor="end">CBEX</text>
<text x="19.3" y="385.8" font-size="6.25" text-anchor="end">CXEX</text>
<text x="19.3" y="395.7" font-size="6.25" text-anchor="end">ENDO</text>
<text x="19.3" y="402.5" font-size="6.25" text-anchor="end">CXINH</text>
<text x="19.3" y="406.8" font-size="6.25" text-anchor="end">CBINH</text>
<text x="19.3" y="415.9" font-size="6.25" text-anchor="end">MIGL</text>
<text x="19.3" y="431.2" font-size="6.25" text-anchor="end">AST</text>
<text x="19.3" y="444.6" font-size="6.25" text-anchor="end">OPC</text>
<text x="19.3" y="480.4" font-size="6.25" text-anchor="end">MOL</text>
<defs><linearGradient id="eblues"><stop offset="0" stop-color="#f7fbff"/><stop offset="0.5" stop-color="#6baed6"/><stop offset="1" stop-color="#08306b"/></linearGradient></defs>
<rect x="308" y="519.5" width="34.8" height="3.8" fill="url(#eblues)" stroke="#444" stroke-width="0.5"/>
<text x="306.8" y="522.9" font-size="4.6" text-anchor="end">Min</text>
<text x="343.8" y="522.9" font-size="4.6">Max</text>
<text x="325.4" y="529.9" font-size="6.2" text-anchor="middle">log(1 + Acc)</text>
<text x="356" y="335.8" font-size="13.5" font-weight="bold" fill="#000" stroke="#000" stroke-width="0.55">f</text>
<text x="356.4" y="345.4" font-size="6.05">AST_H3K27ac</text>
<path d="M419.7 338.9H420.6V351.7H419.7" stroke="#8a8a8a" stroke-width="0.55" fill="none"/>
<text x="419" y="343.2" font-size="5.2" text-anchor="end" fill="#333">25</text>
<text x="419" y="351.6" font-size="5.2" text-anchor="end" fill="#333">0</text>
<path d="M423 351.5v-0.7h0.8v0.2h0.8v0.3h0.8v0h0.8v-0.3h0.8v0.3h0.8v-0.2h0.8v-1h0.8v0.6h0.8v-0.4h0.8v0.7h0.8v-0.2h0.8v0h0.8v0h0.8v0.3h0.8v-2.1h0.8v-0.4h0.8v1.9h0.8v-0.8h0.8v0.8h0.8v-3.3h0.8v-1.2h0.8v4.3h0.8v-4.2h0.8v-1h0.8v3.7h0.8v0.1h0.8v1.6h0.8v-2.7h0.8v3.2h0.8v-1.2h0.8v0.5h0.8v0.5h0.8V351.5Z" fill="#8f8f8f"/>
<path d="M460.3 338.9H461.2V351.7H460.3" stroke="#8a8a8a" stroke-width="0.55" fill="none"/>
<text x="459.6" y="343.2" font-size="5.2" text-anchor="end" fill="#333">36</text>
<text x="459.6" y="351.6" font-size="5.2" text-anchor="end" fill="#333">0</text>
<path d="M463.8 351.5v-0.4h0.8v-0.1h0.8v0h0.8v0h0.8v-0.4h0.8v0h0.8v-0.1h0.8v0h0.8v0.5h0.8v-0.2h0.8v0.2h0.8v0.1h0.8v0.2h0.8v-0.3h0.8v0.3h0.8v0h0.8v-0.3h0.8v0h0.8v0h0.8v0.3h0.8v0h0.8v-0.3h0.8v0.3h0.8v0h0.8v-0.3h0.8v0.1h0.8v0.1h0.8v-0.2h0.8v0.3h0.8V351.5Z" fill="#8f8f8f"/>
<path d="M502.5 338.9H503.4V351.7H502.5" stroke="#8a8a8a" stroke-width="0.55" fill="none"/>
<text x="501.8" y="343.2" font-size="5.2" text-anchor="end" fill="#333">36</text>
<text x="501.8" y="351.6" font-size="5.2" text-anchor="end" fill="#333">0</text>
<path d="M505.8 351.5v-0.5h0.8v-0.2h0.8v-0.7h0.8v0.4h0.8v-1.2h0.8v1.7h0.8v-0.1h0.8v0h0.8v0.1h0.8v0.1h0.8v-0.1h0.8v-0.8h0.8v0.9h0.8v-0.1h0.8v-0.8h0.8v0.7h0.8v-1.3h0.8v-0.3h0.8v-0.8h0.8v1.9h0.8v-1.5h0.8v0.8h0.8v0.5h0.8v-0.1h0.8v0.4h0.8v0.8h0.8v-0.3h0.8v0h0.8v0h0.8v0h0.8v0h0.8v0.2h0.8v0.1h0.8v-0.3h0.8v0.3h0.8v-0.3h0.8v0h0.8V351.5Z" fill="#8f8f8f"/>
<path d="M542.8 338.9H543.7V351.7H542.8" stroke="#8a8a8a" stroke-width="0.55" fill="none"/>
<text x="542.1" y="343.2" font-size="5.2" text-anchor="end" fill="#333">20</text>
<text x="542.1" y="351.6" font-size="5.2" text-anchor="end" fill="#333">0</text>
<path d="M546 351.5v-0.5h0.8v-0.3h0.8v0.3h0.8v-0.4h0.8v0.7h0.8v-0.3h0.8v-0.8h0.8v0.8h0.8v-0.7h0.8v0.7h0.8v0h0.8v0h0.8v-0.1h0.8v-2h0.8v2h0.8v0h0.8v-1.6h0.8v-0.8h0.8v2.4h0.8v-0.1h0.8v-0.1h0.8v-0.9h0.8v0.9h0.8v-0.1h0.8v0.4h0.8v0.3h0.8v-0.4h0.8v0h0.8v0h0.8v0.1h0.8v-0.6h0.8v0.2h0.8v0h0.8v0.4h0.8v-0.7h0.8v0.6h0.8v-0.5h0.8v-0.6h0.8v1.2h0.8v-0.7h0.8v0.4h0.8v-0.2h0.8v0.8h0.8v-0.2h0.8v0.2h0.8v-0.3h0.8v0h0.8v0.3h0.8v-0.3h0.8v0h0.8v0h0.8v0h0.8V351.5Z" fill="#8f8f8f"/>
<path d="M593.3 338.9H594.2V351.7H593.3" stroke="#8a8a8a" stroke-width="0.55" fill="none"/>
<text x="592.6" y="343.2" font-size="5.2" text-anchor="end" fill="#333">20</text>
<text x="592.6" y="351.6" font-size="5.2" text-anchor="end" fill="#333">0</text>
<path d="M596.5 351.5v-1.2h0.8v-0.9h0.8v0.6h0.8v0.3h0.8v-1.8h0.8v0h0.8v2.7h0.8v-3.3h0.8v2.7h0.8v-1.6h0.8v1.4h0.8v-0.9h0.8v0.2h0.8v-6.7h0.8v-0.5h0.8v2h0.8v-4.8h0.8v7.3h0.8v3.8h0.8v-2.9h0.8v1.6h0.8v1.5h0.8v-3.2h0.8v-1.9h0.8v2.4h0.8v-1.3h0.8v3.1h0.8v-3.4h0.8v3.5h0.8v-4.6h0.8v3h0.8v-0.6h0.8v2.1h0.8v0.2h0.8v-3h0.8v1.3h0.8v1.1h0.8v-3h0.8v3.1h0.8v-2.8h0.8v3.4h0.8v0.4h0.8v-2.4h0.8v-0.2h0.8v-0.1h0.8v2.9h0.8v-1.5h0.8v1.5h0.8v-0.6h0.8v0.1h0.8v-1h0.8v0.9h0.8v-0.1h0.8v0.7h0.8v-0.7h0.8v-1.5h0.8v1.4h0.8v-1.7h0.8v-0.2h0.8v0.9h0.8v0.9h0.8v-1.1h0.8v2h0.8v-0.9h0.8v0.3h0.8v0h0.8V351.5Z" fill="#8f8f8f"/>
<path d="M658 338.9H658.9V351.7H658" stroke="#8a8a8a" stroke-width="0.55" fill="none"/>
<text x="657.3" y="343.2" font-size="5.2" text-anchor="end" fill="#333">44</text>
<text x="657.3" y="351.6" font-size="5.2" text-anchor="end" fill="#333">0</text>
<path d="M661 351.5v-0.2h0.8v0h0.8v-0.3h0.8v0.2h0.8v-0.2h0.8v-0.3h0.8v0.3h0.8v0h0.8v0h0.8v0.1h0.8v-0.1h0.8v-0.2h0.8v0h0.8v0.5h0.8v-0.3h0.8v0h0.8v0.3h0.8v0h0.8v0h0.8v-0.3h0.8v0h0.8v0.3h0.8v-0.3h0.8v0h0.8v0.3h0.8v0h0.8v0h0.8v-0.3h0.8v0.3h0.8v-0.3h0.8v0h0.8v0.3h0.8V351.5Z" fill="#8f8f8f"/>
<text x="356.4" y="359.8" font-size="6.05">MOL_H3K27ac</text>
<path d="M419.7 353.3H420.6V366.1H419.7" stroke="#8a8a8a" stroke-width="0.55" fill="none"/>
<text x="419" y="357.6" font-size="5.2" text-anchor="end" fill="#333">25</text>
<text x="419" y="366" font-size="5.2" text-anchor="end" fill="#333">0</text>
<path d="M423 365.9v-0.5h0.8v0.3h0.8v0h0.8v0h0.8v-0.3h0.8v0h0.8v0h0.8v0h0.8v0h0.8v0h0.8v0.3h0.8v0h0.8v-0.3h0.8v0h0.8v0.1h0.8v0.2h0.8v-0.4h0.8v0.3h0.8v-0.2h0.8v0h0.8v0h0.8v0.3h0.8v-0.7h0.8v0.1h0.8v0.6h0.8v-0.3h0.8v0.2h0.8v-0.2h0.8v0.3h0.8v0h0.8v-0.3h0.8v0h0.8v0h0.8V365.9Z" fill="#1a9a9a"/>
<path d="M460.3 353.3H461.2V366.1H460.3" stroke="#8a8a8a" stroke-width="0.55" fill="none"/>
<text x="459.6" y="357.6" font-size="5.2" text-anchor="end" fill="#333">36</text>
<text x="459.6" y="366" font-size="5.2" text-anchor="end" fill="#333">0</text>
<path d="M463.8 365.9v-1.1h0.8v-3.9h0.8v2.9h0.8v-3.4h0.8v0.7h0.8v-7h0.8v2h0.8v-2h0.8v9.3h0.8v-4h0.8v-0.1h0.8v2h0.8v2.4h0.8v1.7h0.8v-0.8h0.8v0.3h0.8v-1.4h0.8v0.4h0.8v1.1h0.8v-0.6h0.8v1.3h0.8v-0.3h0.8v-3.4h0.8v2.8h0.8v-4.7h0.8v3.6h0.8v1.1h0.8v0.3h0.8v-2.2h0.8V365.9Z" fill="#1a9a9a"/>
<path d="M502.5 353.3H503.4V366.1H502.5" stroke="#8a8a8a" stroke-width="0.55" fill="none"/>
<text x="501.8" y="357.6" font-size="5.2" text-anchor="end" fill="#333">36</text>
<text x="501.8" y="366" font-size="5.2" text-anchor="end" fill="#333">0</text>
<path d="M505.8 365.9v-0.5h0.8v0.3h0.8v-0.3h0.8v0h0.8v0h0.8v0.3h0.8v-0.3h0.8v0h0.8v0h0.8v0.3h0.8v-0.3h0.8v0h0.8v0h0.8v0.2h0.8v-0.2h0.8v-0.1h0.8v0h0.8v0.1h0.8v-0.3h0.8v0.3h0.8v0h0.8v0h0.8v0.3h0.8v-0.3h0.8v0h0.8v0h0.8v0.3h0.8v0h0.8v-0.3h0.8v0h0.8v0.3h0.8v-0.3h0.8v0.3h0.8v0h0.8v-0.3h0.8v0h0.8v0h0.8V365.9Z" fill="#1a9a9a"/>
<path d="M542.8 353.3H543.7V366.1H542.8" stroke="#8a8a8a" stroke-width="0.55" fill="none"/>
<text x="542.1" y="357.6" font-size="5.2" text-anchor="end" fill="#333">20</text>
<text x="542.1" y="366" font-size="5.2" text-anchor="end" fill="#333">0</text>
<path d="M546 365.9v-0.2h0.8v0h0.8v-0.3h0.8v-0.1h0.8v0.1h0.8v-0.2h0.8v0.2h0.8v-0.2h0.8v0.2h0.8v-0.2h0.8v0h0.8v0.2h0.8v-0.1h0.8v0.1h0.8v-0.4h0.8v0h0.8v0.1h0.8v0.2h0.8v0.4h0.8v-0.5h0.8v0.2h0.8v0.3h0.8v0h0.8v-0.3h0.8v0.3h0.8v-0.3h0.8v0.2h0.8v0h0.8v-0.2h0.8v0h0.8v0.3h0.8v-0.3h0.8v-0.5h0.8v0.8h0.8v-0.3h0.8v-0.1h0.8v0.4h0.8v-0.3h0.8v0h0.8v0h0.8v0h0.8v0.3h0.8v-0.3h0.8v0h0.8v0.3h0.8v-0.1h0.8v0h0.8v0.1h0.8v-0.3h0.8v0h0.8v0h0.8v0h0.8V365.9Z" fill="#1a9a9a"/>
<path d="M593.3 353.3H594.2V366.1H593.3" stroke="#8a8a8a" stroke-width="0.55" fill="none"/>
<text x="592.6" y="357.6" font-size="5.2" text-anchor="end" fill="#333">20</text>
<text x="592.6" y="366" font-size="5.2" text-anchor="end" fill="#333">0</text>
<path d="M596.5 365.9v-0.5h0.8v-0.2h0.8v0.2h0.8v0.3h0.8v-0.6h0.8v0.3h0.8v-0.1h0.8v0h0.8v0.1h0.8v-0.4h0.8v0.6h0.8v-0.6h0.8v-1h0.8v1.3h0.8v-1.4h0.8v1.4h0.8v-1h0.8v1.2h0.8v-0.6h0.8v-0.1h0.8v0.5h0.8v0h0.8v-1.4h0.8v-0.4h0.8v1.2h0.8v0.5h0.8v-1.2h0.8v0.8h0.8v0.1h0.8v0.1h0.8v0h0.8v0.1h0.8v0.3h0.8v0.3h0.8v-0.3h0.8v-0.8h0.8v0.8h0.8v-0.2h0.8v-0.8h0.8v0.1h0.8v0.9h0.8v-0.8h0.8v0h0.8v0.2h0.8v0.2h0.8v0.4h0.8v-0.6h0.8v0.5h0.8v0.1h0.8v-0.2h0.8v0.2h0.8v-0.2h0.8v0.2h0.8v0h0.8v0h0.8v0.1h0.8v-0.1h0.8v0.2h0.8v-0.2h0.8v0.2h0.8v-1.1h0.8v0.9h0.8v0.2h0.8v-0.2h0.8v-0.5h0.8v0.3h0.8V365.9Z" fill="#1a9a9a"/>
<path d="M658 353.3H658.9V366.1H658" stroke="#8a8a8a" stroke-width="0.55" fill="none"/>
<text x="657.3" y="357.6" font-size="5.2" text-anchor="end" fill="#333">44</text>
<text x="657.3" y="366" font-size="5.2" text-anchor="end" fill="#333">0</text>
<path d="M661 365.9v-0.5h0.8v0h0.8v0.3h0.8v-0.3h0.8v0.3h0.8v-0.4h0.8v0.1h0.8v0h0.8v0.3h0.8v-0.1h0.8v-0.2h0.8v0h0.8v0.1h0.8v-0.1h0.8v0h0.8v0h0.8v0h0.8v0.3h0.8v-0.3h0.8v0h0.8v0h0.8v0h0.8v0h0.8v0h0.8v0h0.8v0h0.8v0.3h0.8v-0.3h0.8v0.3h0.8v-0.3h0.8v0.3h0.8v0h0.8V365.9Z" fill="#1a9a9a"/>
<text x="356.4" y="374.1" font-size="6.05">OPC_H3K27ac</text>
<path d="M419.7 367.6H420.6V380.4H419.7" stroke="#8a8a8a" stroke-width="0.55" fill="none"/>
<text x="419" y="371.9" font-size="5.2" text-anchor="end" fill="#333">25</text>
<text x="419" y="380.3" font-size="5.2" text-anchor="end" fill="#333">0</text>
<path d="M423 380.2v-0.4h0.8v-0.1h0.8v0.3h0.8v-0.3h0.8v0h0.8v-0.4h0.8v0.3h0.8v0.1h0.8v0.2h0.8v-0.6h0.8v0.5h0.8v-1h0.8v0.9h0.8v-1.9h0.8v1.3h0.8v-1.3h0.8v-0.8h0.8v0.5h0.8v1.6h0.8v0.2h0.8v-7h0.8v0.5h0.8v2h0.8v2h0.8v2.9h0.8v-2.5h0.8v0.1h0.8v-1.3h0.8v1.3h0.8v2h0.8v-1.7h0.8v1.7h0.8v-0.8h0.8V380.2Z" fill="#54278f"/>
<path d="M460.3 367.6H461.2V380.4H460.3" stroke="#8a8a8a" stroke-width="0.55" fill="none"/>
<text x="459.6" y="371.9" font-size="5.2" text-anchor="end" fill="#333">36</text>
<text x="459.6" y="380.3" font-size="5.2" text-anchor="end" fill="#333">0</text>
<path d="M463.8 380.2v-0.5h0.8v-0.9h0.8v0.5h0.8v0.4h0.8v-2.2h0.8v-2.6h0.8v1.1h0.8v3.2h0.8v-1.7h0.8v0.3h0.8v1.9h0.8v0.3h0.8v-0.5h0.8v-0.1h0.8v0.3h0.8v-0.7h0.8v1h0.8v-1.1h0.8v0.7h0.8v0.1h0.8v-0.5h0.8v-1.1h0.8v-0.4h0.8v-1.4h0.8v2h0.8v-3.5h0.8v4.5h0.8v-1.6h0.8v2h0.8V380.2Z" fill="#54278f"/>
<path d="M502.5 367.6H503.4V380.4H502.5" stroke="#8a8a8a" stroke-width="0.55" fill="none"/>
<text x="501.8" y="371.9" font-size="5.2" text-anchor="end" fill="#333">36</text>
<text x="501.8" y="380.3" font-size="5.2" text-anchor="end" fill="#333">0</text>
<path d="M505.8 380.2v-1.7h0.8v-2.7h0.8v3.1h0.8v-0.5h0.8v-1.5h0.8v1.5h0.8v1.6h0.8v-3h0.8v2.1h0.8v0.2h0.8v0.2h0.8v-1.9h0.8v1.1h0.8v-0.9h0.8v-3.3h0.8v-1.3h0.8v-0.2h0.8v2.7h0.8v-2.7h0.8v6.8h0.8v-2.9h0.8v-3.7h0.8v0.4h0.8v3h0.8v0.8h0.8v-0.5h0.8v0.8h0.8v1.4h0.8v-0.2h0.8v0.8h0.8v-0.8h0.8v0h0.8v0.4h0.8v0.3h0.8v0.1h0.8v-0.4h0.8v0.4h0.8V380.2Z" fill="#54278f"/>
<path d="M542.8 367.6H543.7V380.4H542.8" stroke="#8a8a8a" stroke-width="0.55" fill="none"/>
<text x="542.1" y="371.9" font-size="5.2" text-anchor="end" fill="#333">20</text>
<text x="542.1" y="380.3" font-size="5.2" text-anchor="end" fill="#333">0</text>
<path d="M546 380.2v-1.3h0.8v0.3h0.8v0.5h0.8v-2.4h0.8v1.9h0.8v-0.9h0.8v0.3h0.8v0h0.8v0.1h0.8v-0.2h0.8v1h0.8v-1.3h0.8v0.8h0.8v-1.5h0.8v2h0.8v-3.3h0.8v1.6h0.8v-0.4h0.8v1.4h0.8v0.8h0.8v-0.1h0.8v-0.7h0.8v0.7h0.8v0.1h0.8v-0.8h0.8v-0.4h0.8v0.7h0.8v0.7h0.8v-0.1h0.8v-0.5h0.8v-1.6h0.8v-0.5h0.8v0.5h0.8v1.9h0.8v-1.3h0.8v0h0.8v0.1h0.8v-0.9h0.8v1.4h0.8v-0.6h0.8v-1.5h0.8v1.7h0.8v0.6h0.8v0.7h0.8v0h0.8v-0.6h0.8v0.9h0.8v-0.2h0.8v-0.3h0.8v0.2h0.8v0h0.8v0h0.8V380.2Z" fill="#54278f"/>
<path d="M593.3 367.6H594.2V380.4H593.3" stroke="#8a8a8a" stroke-width="0.55" fill="none"/>
<text x="592.6" y="371.9" font-size="5.2" text-anchor="end" fill="#333">20</text>
<text x="592.6" y="380.3" font-size="5.2" text-anchor="end" fill="#333">0</text>
<path d="M596.5 380.2v-2.8h0.8v-0.3h0.8v1.4h0.8v-1.3h0.8v-0.1h0.8v1.6h0.8v0.7h0.8v-4.6h0.8v0.8h0.8v-1.4h0.8v-2.1h0.8v4.8h0.8v-7.2h0.8v7.4h0.8v-2.2h0.8v4.1h0.8v-2.2h0.8v-0.5h0.8v0.8h0.8v-8.7h0.8v7.6h0.8v-1.1h0.8v-4.7h0.8v6.8h0.8v0h0.8v-1.9h0.8v-1.2h0.8v1.1h0.8v3.4h0.8v-7.4h0.8v3.3h0.8v-0.2h0.8v0.7h0.8v0.9h0.8v-2.8h0.8v1.6h0.8v0.5h0.8v-3.3h0.8v-3.1h0.8v7.9h0.8v0.2h0.8v1.5h0.8v-2.8h0.8v-7h0.8v6.8h0.8v-5.5h0.8v5.7h0.8v3h0.8v0.4h0.8v-5.8h0.8v4.4h0.8v2.1h0.8v-4.3h0.8v4.7h0.8v-2.6h0.8v-2.9h0.8v2.1h0.8v-0.3h0.8v-3.8h0.8v2.7h0.8v-1.4h0.8v2.1h0.8v0.7h0.8v-1.8h0.8v3.3h0.8v-0.4h0.8V380.2Z" fill="#54278f"/>
<path d="M658 367.6H658.9V380.4H658" stroke="#8a8a8a" stroke-width="0.55" fill="none"/>
<text x="657.3" y="371.9" font-size="5.2" text-anchor="end" fill="#333">44</text>
<text x="657.3" y="380.3" font-size="5.2" text-anchor="end" fill="#333">0</text>
<path d="M661 380.2v-0.5h0.8v0.2h0.8v0.1h0.8v-0.3h0.8v-1h0.8v0.6h0.8v0.3h0.8v-0.6h0.8v-1.2h0.8v0.8h0.8v1.1h0.8v-1.9h0.8v-1.2h0.8v1.4h0.8v1.3h0.8v-0.1h0.8v0.7h0.8v-0.2h0.8v0h0.8v0h0.8v0h0.8v0h0.8v0.3h0.8v0h0.8v-0.1h0.8v-0.2h0.8v0.3h0.8v0h0.8v0h0.8v0h0.8v-0.3h0.8v0.3h0.8V380.2Z" fill="#54278f"/>
<text x="356.4" y="388.5" font-size="6.05">CXEX_H3K27ac</text>
<path d="M419.7 382H420.6V394.8H419.7" stroke="#8a8a8a" stroke-width="0.55" fill="none"/>
<text x="419" y="386.3" font-size="5.2" text-anchor="end" fill="#333">25</text>
<text x="419" y="394.7" font-size="5.2" text-anchor="end" fill="#333">0</text>
<path d="M423 394.6v-0.5h0.8v0.3h0.8v0h0.8v-0.3h0.8v0h0.8v0.3h0.8v-0.3h0.8v0h0.8v0.3h0.8v-0.3h0.8v0h0.8v0.2h0.8v-0.2h0.8v0.3h0.8v-0.3h0.8v0.1h0.8v-0.1h0.8v0h0.8v0.3h0.8v-0.5h0.8v-0.1h0.8v-0.6h0.8v0.2h0.8v0.2h0.8v0.2h0.8v-0.4h0.8v0.7h0.8v0h0.8v0h0.8v0h0.8v0.3h0.8v-0.3h0.8v0h0.8V394.6Z" fill="#9a5a1a"/>
<path d="M460.3 382H461.2V394.8H460.3" stroke="#8a8a8a" stroke-width="0.55" fill="none"/>
<text x="459.6" y="386.3" font-size="5.2" text-anchor="end" fill="#333">36</text>
<text x="459.6" y="394.7" font-size="5.2" text-anchor="end" fill="#333">0</text>
<path d="M463.8 394.6v-0.5h0.8v0h0.8v0.3h0.8v-0.1h0.8v-0.4h0.8v0.3h0.8v-0.7h0.8v0.2h0.8v0.3h0.8v0.1h0.8v0h0.8v0.3h0.8v-0.3h0.8v0h0.8v0.3h0.8v-0.3h0.8v0h0.8v0.3h0.8v-0.3h0.8v0.3h0.8v-0.3h0.8v0h0.8v0h0.8v0h0.8v0.2h0.8v-0.2h0.8v0.3h0.8v0h0.8v-0.3h0.8V394.6Z" fill="#9a5a1a"/>
<path d="M502.5 382H503.4V394.8H502.5" stroke="#8a8a8a" stroke-width="0.55" fill="none"/>
<text x="501.8" y="386.3" font-size="5.2" text-anchor="end" fill="#333">36</text>
<text x="501.8" y="394.7" font-size="5.2" text-anchor="end" fill="#333">0</text>
<path d="M505.8 394.6v-0.5h0.8v0.3h0.8v-0.3h0.8v0.3h0.8v-0.3h0.8v0h0.8v0.3h0.8v-0.3h0.8v0.3h0.8v-0.3h0.8v0.3h0.8v-0.3h0.8v0.3h0.8v0h0.8v-0.3h0.8v0h0.8v-0.1h0.8v0.3h0.8v-0.2h0.8v0h0.8v-0.3h0.8v0.3h0.8v0h0.8v0.2h0.8v0.1h0.8v-0.3h0.8v0h0.8v0.3h0.8v-0.3h0.8v0.3h0.8v-0.3h0.8v0h0.8v0h0.8v0h0.8v0h0.8v0h0.8v0.3h0.8V394.6Z" fill="#9a5a1a"/>
<path d="M542.8 382H543.7V394.8H542.8" stroke="#8a8a8a" stroke-width="0.55" fill="none"/>
<text x="542.1" y="386.3" font-size="5.2" text-anchor="end" fill="#333">20</text>
<text x="542.1" y="394.7" font-size="5.2" text-anchor="end" fill="#333">0</text>
<path d="M546 394.6v-0.6h0.8v0.4h0.8v-0.7h0.8v0.4h0.8v-0.3h0.8v0h0.8v-2.4h0.8v2.6h0.8v-0.6h0.8v-1.7h0.8v0.7h0.8v-0.6h0.8v0.6h0.8v-1.3h0.8v1.7h0.8v-0.6h0.8v0.9h0.8v-0.4h0.8v-2.8h0.8v2.7h0.8v-1.3h0.8v-0.1h0.8v2.3h0.8v-1.8h0.8v0.2h0.8v0.6h0.8v0.1h0.8v0.7h0.8v0.1h0.8v0.5h0.8v-2.4h0.8v-0.4h0.8v0.1h0.8v2.9h0.8v-1.2h0.8v1.2h0.8v-1.5h0.8v-0.4h0.8v1.2h0.8v-0.1h0.8v0.1h0.8v-0.6h0.8v0.4h0.8v0.9h0.8v0h0.8v0h0.8v0.3h0.8v-0.3h0.8v0h0.8v0h0.8v0h0.8v0.3h0.8V394.6Z" fill="#9a5a1a"/>
<path d="M593.3 382H594.2V394.8H593.3" stroke="#8a8a8a" stroke-width="0.55" fill="none"/>
<text x="592.6" y="386.3" font-size="5.2" text-anchor="end" fill="#333">20</text>
<text x="592.6" y="394.7" font-size="5.2" text-anchor="end" fill="#333">0</text>
<path d="M596.5 394.6v-1.1h0.8v0.6h0.8v-0.2h0.8v-1.3h0.8v1.5h0.8v0h0.8v-1.7h0.8v1h0.8v0.5h0.8v-1.2h0.8v-2.2h0.8v-1.2h0.8v2.5h0.8v-3.7h0.8v-1.9h0.8v1.9h0.8v0.4h0.8v-2.2h0.8v-0.7h0.8v2.5h0.8v0h0.8v1.8h0.8v3.2h0.8v-1.4h0.8v1.5h0.8v-2.3h0.8v2.3h0.8v-2.7h0.8v2.1h0.8v-1h0.8v0.1h0.8v2.6h0.8v-0.7h0.8v-2.1h0.8v-1.1h0.8v-2.7h0.8v6.4h0.8v-5.8h0.8v1.2h0.8v3.8h0.8v-2.4h0.8v2.5h0.8v-2.1h0.8v-0.6h0.8v0.9h0.8v2.5h0.8v-1.6h0.8v-1.7h0.8v3.1h0.8v-1.8h0.8v2.1h0.8v-0.9h0.8v-0.6h0.8v0.7h0.8v0.4h0.8v-1.5h0.8v1.8h0.8v-1.2h0.8v-2h0.8v1.6h0.8v1.4h0.8v-0.4h0.8v0.6h0.8v-2.2h0.8v0.8h0.8v1.6h0.8V394.6Z" fill="#9a5a1a"/>
<path d="M658 382H658.9V394.8H658" stroke="#8a8a8a" stroke-width="0.55" fill="none"/>
<text x="657.3" y="386.3" font-size="5.2" text-anchor="end" fill="#333">44</text>
<text x="657.3" y="394.7" font-size="5.2" text-anchor="end" fill="#333">0</text>
<path d="M661 394.6v-0.5h0.8v0.3h0.8v-0.3h0.8v-0.4h0.8v0.4h0.8v0h0.8v-1.3h0.8v-0.3h0.8v0.9h0.8v0.6h0.8v-0.6h0.8v-0.8h0.8v1.3h0.8v0.2h0.8v0h0.8v0h0.8v-0.1h0.8v-0.4h0.8v0.5h0.8v-0.1h0.8v-0.2h0.8v0.3h0.8v0h0.8v-0.2h0.8v0.3h0.8v0.2h0.8v0h0.8v0h0.8v-0.3h0.8v0.3h0.8v-0.3h0.8v0h0.8V394.6Z" fill="#9a5a1a"/>
<text x="356.4" y="402.9" font-size="6.05">CXINH_H3K27ac</text>
<path d="M419.7 396.4H420.6V409.2H419.7" stroke="#8a8a8a" stroke-width="0.55" fill="none"/>
<text x="419" y="400.7" font-size="5.2" text-anchor="end" fill="#333">25</text>
<text x="419" y="409.1" font-size="5.2" text-anchor="end" fill="#333">0</text>
<path d="M423 409v-0.5h0.8v0h0.8v0h0.8v0.3h0.8v-0.3h0.8v-0.1h0.8v0.4h0.8v0h0.8v0h0.8v-0.5h0.8v0h0.8v0.2h0.8v0h0.8v0h0.8v0h0.8v-0.4h0.8v-0.5h0.8v-0.1h0.8v0h0.8v0.6h0.8v-0.3h0.8v0.3h0.8v0h0.8v-0.8h0.8v-1.5h0.8v2h0.8v0.6h0.8v-1.3h0.8v0.3h0.8v1.2h0.8v-0.1h0.8v0.3h0.8v-0.3h0.8V409Z" fill="#949414"/>
<path d="M460.3 396.4H461.2V409.2H460.3" stroke="#8a8a8a" stroke-width="0.55" fill="none"/>
<text x="459.6" y="400.7" font-size="5.2" text-anchor="end" fill="#333">36</text>
<text x="459.6" y="409.1" font-size="5.2" text-anchor="end" fill="#333">0</text>
<path d="M463.8 409v-0.9h0.8v-3.2h0.8v-1.3h0.8v3.6h0.8v-3.8h0.8v1.6h0.8v1.9h0.8v0.3h0.8v-0.2h0.8v-0.4h0.8v1.2h0.8v0.9h0.8v-0.8h0.8v0.5h0.8v0.1h0.8v0.3h0.8v-0.6h0.8v0.4h0.8v-0.1h0.8v0h0.8v-0.3h0.8v0.1h0.8v-1.3h0.8v-0.4h0.8v1.9h0.8v-2.2h0.8v1.3h0.8v-1.3h0.8v0.8h0.8V409Z" fill="#949414"/>
<path d="M502.5 396.4H503.4V409.2H502.5" stroke="#8a8a8a" stroke-width="0.55" fill="none"/>
<text x="501.8" y="400.7" font-size="5.2" text-anchor="end" fill="#333">36</text>
<text x="501.8" y="409.1" font-size="5.2" text-anchor="end" fill="#333">0</text>
<path d="M505.8 409v-1.6h0.8v1.1h0.8v-2.2h0.8v1.3h0.8v0.7h0.8v0.2h0.8v0h0.8v0.2h0.8v-0.2h0.8v-0.2h0.8v0.3h0.8v-0.1h0.8v0.2h0.8v-0.2h0.8v-0.2h0.8v-1.9h0.8v0.4h0.8v-2.2h0.8v1.3h0.8v0.7h0.8v1.7h0.8v-1.2h0.8v0.9h0.8v0.2h0.8v0.5h0.8v-0.3h0.8v-0.1h0.8v0h0.8v0.5h0.8v0h0.8v-0.3h0.8v0h0.8v0h0.8v0h0.8v0h0.8v0h0.8v0h0.8V409Z" fill="#949414"/>
<path d="M542.8 396.4H543.7V409.2H542.8" stroke="#8a8a8a" stroke-width="0.55" fill="none"/>
<text x="542.1" y="400.7" font-size="5.2" text-anchor="end" fill="#333">20</text>
<text x="542.1" y="409.1" font-size="5.2" text-anchor="end" fill="#333">0</text>
<path d="M546 409v-0.8h0.8v0.6h0.8v-0.3h0.8v-0.2h0.8v-0.4h0.8v0.6h0.8v-0.7h0.8v0.9h0.8v-0.9h0.8v0.3h0.8v0.4h0.8v-1.3h0.8v-0.4h0.8v-1.1h0.8v2.4h0.8v-0.3h0.8v0.7h0.8v-1.5h0.8v-1.6h0.8v1.7h0.8v-0.4h0.8v1.9h0.8v-0.7h0.8v-0.8h0.8v0.8h0.8v-0.1h0.8v0.2h0.8v-0.2h0.8v0.4h0.8v-0.8h0.8v0.9h0.8v-0.2h0.8v-1.8h0.8v1.8h0.8v-1.3h0.8v-0.2h0.8v-1.1h0.8v-1h0.8v4h0.8v-0.7h0.8v-0.2h0.8v1.2h0.8v-0.3h0.8v-0.3h0.8v0h0.8v0.6h0.8v-0.7h0.8v0.4h0.8v0.3h0.8v-0.5h0.8v0h0.8v0.2h0.8V409Z" fill="#949414"/>
<path d="M593.3 396.4H594.2V409.2H593.3" stroke="#8a8a8a" stroke-width="0.55" fill="none"/>
<text x="592.6" y="400.7" font-size="5.2" text-anchor="end" fill="#333">20</text>
<text x="592.6" y="409.1" font-size="5.2" text-anchor="end" fill="#333">0</text>
<path d="M596.5 409v-4.4h0.8v4h0.8v-0.1h0.8v-1.8h0.8v-0.5h0.8v-1.5h0.8v-4.3h0.8v4h0.8v-2.2h0.8v1.2h0.8v-4.1h0.8v-2.1h0.8v0h0.8v0h0.8v0h0.8v0h0.8v0h0.8v0h0.8v0h0.8v0h0.8v3.2h0.8v5.4h0.8v-8.6h0.8v7.7h0.8v-7.7h0.8v2.1h0.8v5.9h0.8v-8h0.8v6.3h0.8v-6.2h0.8v6.9h0.8v-1.1h0.8v2.5h0.8v0h0.8v-3.1h0.8v1.4h0.8v-6.7h0.8v4h0.8v-1h0.8v1.6h0.8v-2.1h0.8v2.8h0.8v-5.3h0.8v6.7h0.8v-5h0.8v6.7h0.8v-3.1h0.8v5h0.8v-4.3h0.8v3.9h0.8v-1.6h0.8v-0.4h0.8v-0.4h0.8v3h0.8v-3.5h0.8v-0.9h0.8v3.2h0.8v-1.5h0.8v-1.5h0.8v2.8h0.8v0.3h0.8v1.9h0.8v-1.3h0.8v-0.1h0.8v-2.1h0.8v3.2h0.8V409Z" fill="#949414"/>
<path d="M658 396.4H658.9V409.2H658" stroke="#8a8a8a" stroke-width="0.55" fill="none"/>
<text x="657.3" y="400.7" font-size="5.2" text-anchor="end" fill="#333">44</text>
<text x="657.3" y="409.1" font-size="5.2" text-anchor="end" fill="#333">0</text>
<path d="M661 409v-0.5h0.8v0.3h0.8v-0.3h0.8v-0.5h0.8v-1h0.8v1.5h0.8v-1.8h0.8v0.9h0.8v0.9h0.8v-1h0.8v-0.8h0.8v-1h0.8v2.2h0.8v-1.8h0.8v1.9h0.8v-0.1h0.8v0.1h0.8v0h0.8v0h0.8v0.4h0.8v0.4h0.8v-0.4h0.8v0.1h0.8v0h0.8v0.1h0.8v-0.1h0.8v0h0.8v0.3h0.8v0h0.8v0h0.8v0h0.8v-0.3h0.8V409Z" fill="#949414"/>
<text x="356.4" y="417.2" font-size="6.05">MIGL_H3K27ac</text>
<path d="M419.7 410.7H420.6V423.5H419.7" stroke="#8a8a8a" stroke-width="0.55" fill="none"/>
<text x="419" y="415" font-size="5.2" text-anchor="end" fill="#333">25</text>
<text x="419" y="423.4" font-size="5.2" text-anchor="end" fill="#333">0</text>
<path d="M423 423.3v-0.5h0.8v0.3h0.8v0h0.8v-0.3h0.8v0h0.8v0h0.8v0.3h0.8v-0.3h0.8v0h0.8v0h0.8v0h0.8v0h0.8v0.2h0.8v-0.2h0.8v0h0.8v0h0.8v-0.1h0.8v0.3h0.8v-0.2h0.8v-0.7h0.8v1h0.8v-0.6h0.8v0.1h0.8v-0.5h0.8v1h0.8v-0.1h0.8v-0.6h0.8v0.1h0.8v0.4h0.8v-0.1h0.8v0h0.8v0.3h0.8v-0.3h0.8V423.3Z" fill="#ff8c1a"/>
<path d="M460.3 410.7H461.2V423.5H460.3" stroke="#8a8a8a" stroke-width="0.55" fill="none"/>
<text x="459.6" y="415" font-size="5.2" text-anchor="end" fill="#333">36</text>
<text x="459.6" y="423.4" font-size="5.2" text-anchor="end" fill="#333">0</text>
<path d="M463.8 423.3v-0.7h0.8v0h0.8v-0.1h0.8v0.3h0.8v-0.2h0.8v0.5h0.8v-1h0.8v0.2h0.8v0.2h0.8v0.3h0.8v-0.1h0.8v0.4h0.8v0h0.8v-0.3h0.8v0h0.8v0h0.8v0h0.8v0h0.8v0.2h0.8v0.1h0.8v-0.3h0.8v0h0.8v0h0.8v0.3h0.8v0h0.8v-0.3h0.8v0.3h0.8v-0.1h0.8v0.1h0.8V423.3Z" fill="#ff8c1a"/>
<path d="M502.5 410.7H503.4V423.5H502.5" stroke="#8a8a8a" stroke-width="0.55" fill="none"/>
<text x="501.8" y="415" font-size="5.2" text-anchor="end" fill="#333">36</text>
<text x="501.8" y="423.4" font-size="5.2" text-anchor="end" fill="#333">0</text>
<path d="M505.8 423.3v-0.2h0.8v-0.6h0.8v0.3h0.8v0h0.8v0h0.8v0h0.8v0.3h0.8v-0.3h0.8v0h0.8v0h0.8v0.3h0.8v-0.2h0.8v-0.1h0.8v0.1h0.8v0.2h0.8v-0.3h0.8v0h0.8v0h0.8v0h0.8v0.2h0.8v-0.2h0.8v-0.1h0.8v0.4h0.8v0h0.8v-0.4h0.8v0.1h0.8v0h0.8v0h0.8v0h0.8v0.3h0.8v-0.3h0.8v0h0.8v0h0.8v0.3h0.8v-0.3h0.8v0.3h0.8v0h0.8V423.3Z" fill="#ff8c1a"/>
<path d="M542.8 410.7H543.7V423.5H542.8" stroke="#8a8a8a" stroke-width="0.55" fill="none"/>
<text x="542.1" y="415" font-size="5.2" text-anchor="end" fill="#333">20</text>
<text x="542.1" y="423.4" font-size="5.2" text-anchor="end" fill="#333">0</text>
<path d="M546 423.3v-1.5h0.8v-3.9h0.8v3.6h0.8v-0.2h0.8v-1.6h0.8v-0.6h0.8v1.4h0.8v2.1h0.8v0h0.8v-0.9h0.8v-2.2h0.8v3.3h0.8v-2.7h0.8v1.9h0.8v-1.2h0.8v-2.7h0.8v1.1h0.8v0.5h0.8v1.3h0.8v-0.2h0.8v-0.2h0.8v-0.1h0.8v1.1h0.8v-1h0.8v2.2h0.8v-0.4h0.8v-0.1h0.8v-0.8h0.8v-1.1h0.8v1.9h0.8v-2.3h0.8v1.2h0.8v-4.6h0.8v5.6h0.8v-1.9h0.8v0.6h0.8v0.3h0.8v-4h0.8v3.9h0.8v-1.9h0.8v1.2h0.8v-1.8h0.8v3.8h0.8v0.2h0.8v-0.6h0.8v0.7h0.8v-0.2h0.8v-1h0.8v0.3h0.8v1h0.8v-0.4h0.8v0.2h0.8V423.3Z" fill="#ff8c1a"/>
<path d="M593.3 410.7H594.2V423.5H593.3" stroke="#8a8a8a" stroke-width="0.55" fill="none"/>
<text x="592.6" y="415" font-size="5.2" text-anchor="end" fill="#333">20</text>
<text x="592.6" y="423.4" font-size="5.2" text-anchor="end" fill="#333">0</text>
<path d="M596.5 423.3v-1.1h0.8v-0.3h0.8v-0.1h0.8v0.3h0.8v1h0.8v-1h0.8v0.1h0.8v-0.4h0.8v-0.3h0.8v-1.5h0.8v-1.4h0.8v0.9h0.8v-2.2h0.8v2.1h0.8v1.4h0.8v-2.3h0.8v-5.5h0.8v8.4h0.8v0.7h0.8v-5h0.8v3.5h0.8v-2.4h0.8v1.9h0.8v2.2h0.8v-3.4h0.8v0.7h0.8v1.4h0.8v0.6h0.8v1h0.8v-3.3h0.8v0h0.8v1.7h0.8v-0.4h0.8v1.3h0.8v-2h0.8v1.3h0.8v0.1h0.8v1.2h0.8v-2.7h0.8v0.4h0.8v1.4h0.8v0.2h0.8v0.7h0.8v0h0.8v-3.5h0.8v1.5h0.8v0.2h0.8v1.4h0.8v0.5h0.8v0h0.8v-0.9h0.8v0.9h0.8v-1.1h0.8v-1h0.8v2.6h0.8v-2.6h0.8v0.6h0.8v-2.1h0.8v2.7h0.8v-1.8h0.8v-0.5h0.8v3h0.8v-1.2h0.8v0.7h0.8v-0.8h0.8v1.7h0.8V423.3Z" fill="#ff8c1a"/>
<path d="M658 410.7H658.9V423.5H658" stroke="#8a8a8a" stroke-width="0.55" fill="none"/>
<text x="657.3" y="415" font-size="5.2" text-anchor="end" fill="#333">44</text>
<text x="657.3" y="423.4" font-size="5.2" text-anchor="end" fill="#333">0</text>
<path d="M661 423.3v-0.5h0.8v-0.1h0.8v-1.2h0.8v0.2h0.8v-2.6h0.8v0.3h0.8v2.5h0.8v-0.1h0.8v-5.7h0.8v5h0.8v-0.7h0.8v-8h0.8v0.3h0.8v2.5h0.8v6.7h0.8v0.6h0.8v-1.8h0.8v1.2h0.8v-1.2h0.8v1h0.8v1.1h0.8v-0.3h0.8v-0.1h0.8v-0.1h0.8v0.5h0.8v0h0.8v-0.6h0.8v0.9h0.8v-0.3h0.8v0h0.8v0h0.8v0.3h0.8V423.3Z" fill="#ff8c1a"/>
<text x="356.4" y="440.4" font-size="6.05">AST_H3K27me3</text>
<path d="M419.7 433.9H420.6V446.7H419.7" stroke="#8a8a8a" stroke-width="0.55" fill="none"/>
<text x="419" y="438.2" font-size="5.2" text-anchor="end" fill="#333">37</text>
<text x="419" y="446.6" font-size="5.2" text-anchor="end" fill="#333">0</text>
<path d="M423 446.5v-0.5h0.8v0h0.8v0.3h0.8v-0.3h0.8v0h0.8v0h0.8v0.3h0.8v-0.4h0.8v0h0.8v-0.5h0.8v-0.2h0.8v1.1h0.8v-0.3h0.8v0.3h0.8v-0.3h0.8v0h0.8v0h0.8v0h0.8v-0.1h0.8v0.4h0.8v-0.5h0.8v0h0.8v0.2h0.8v-0.1h0.8v0h0.8v0.4h0.8v0h0.8v-0.3h0.8v0.3h0.8v0h0.8v-0.3h0.8v0.3h0.8v0h0.8V446.5Z" fill="#9a9a9a"/>
<path d="M460.3 433.9H461.2V446.7H460.3" stroke="#8a8a8a" stroke-width="0.55" fill="none"/>
<text x="459.6" y="438.2" font-size="5.2" text-anchor="end" fill="#333">61</text>
<text x="459.6" y="446.6" font-size="5.2" text-anchor="end" fill="#333">0</text>
<path d="M463.8 446.5v-0.5h0.8v0h0.8v0.2h0.8v-0.2h0.8v0.3h0.8v-0.3h0.8v0h0.8v0.3h0.8v-0.2h0.8v-0.1h0.8v0.3h0.8v-0.3h0.8v0.2h0.8v0.1h0.8v-0.1h0.8v0.1h0.8v0h0.8v0h0.8v-0.3h0.8v0.3h0.8v-0.3h0.8v0h0.8v0h0.8v0h0.8v0.3h0.8v-0.3h0.8v-0.1h0.8v0.1h0.8v0.3h0.8V446.5Z" fill="#9a9a9a"/>
<path d="M502.5 433.9H503.4V446.7H502.5" stroke="#8a8a8a" stroke-width="0.55" fill="none"/>
<text x="501.8" y="438.2" font-size="5.2" text-anchor="end" fill="#333">34</text>
<text x="501.8" y="446.6" font-size="5.2" text-anchor="end" fill="#333">0</text>
<path d="M505.8 446.5v-0.5h0.8v0h0.8v0.2h0.8v0.1h0.8v-0.3h0.8v0.3h0.8v0h0.8v0h0.8v-0.3h0.8v0h0.8v0h0.8v0h0.8v0h0.8v0h0.8v-0.3h0.8v0h0.8v0.3h0.8v-0.4h0.8v0.7h0.8v-0.3h0.8v-0.2h0.8v-0.4h0.8v0.5h0.8v0.1h0.8v0h0.8v-0.2h0.8v0.1h0.8v0.3h0.8v-0.2h0.8v0.1h0.8v0.1h0.8v0.1h0.8v0h0.8v0h0.8v0h0.8v-0.3h0.8v0h0.8V446.5Z" fill="#9a9a9a"/>
<path d="M542.8 433.9H543.7V446.7H542.8" stroke="#8a8a8a" stroke-width="0.55" fill="none"/>
<text x="542.1" y="438.2" font-size="5.2" text-anchor="end" fill="#333">63</text>
<text x="542.1" y="446.6" font-size="5.2" text-anchor="end" fill="#333">0</text>
<path d="M546 446.5v-1.7h0.8v-0.1h0.8v0.2h0.8v0.2h0.8v-1.4h0.8v0.5h0.8v0.8h0.8v0.7h0.8v-2.9h0.8v2.2h0.8v0.6h0.8v-0.5h0.8v-0.8h0.8v-0.6h0.8v-2.6h0.8v0h0.8v-3.2h0.8v2.9h0.8v2.5h0.8v-2.7h0.8v0.7h0.8v0.8h0.8v3.6h0.8v0h0.8v-1.8h0.8v1.8h0.8v0.2h0.8v-1.9h0.8v1.5h0.8v-2h0.8v2.7h0.8v-2.1h0.8v0.4h0.8v0.2h0.8v1h0.8v-3.3h0.8v2.5h0.8v-3.9h0.8v0.9h0.8v-2.3h0.8v-0.9h0.8v3.7h0.8v1.3h0.8v2.4h0.8v-0.1h0.8v-0.2h0.8v0.2h0.8v0h0.8v0.1h0.8v-1h0.8v0.1h0.8v0.8h0.8V446.5Z" fill="#9a9a9a"/>
<path d="M593.3 433.9H594.2V446.7H593.3" stroke="#8a8a8a" stroke-width="0.55" fill="none"/>
<text x="592.6" y="438.2" font-size="5.2" text-anchor="end" fill="#333">53</text>
<text x="592.6" y="446.6" font-size="5.2" text-anchor="end" fill="#333">0</text>
<path d="M596.5 446.5v-0.6h0.8v-0.4h0.8v0.5h0.8v-1.6h0.8v1.4h0.8v-2.8h0.8v2.5h0.8v0.5h0.8v-3.3h0.8v-1.3h0.8v-4h0.8v7h0.8v-8.5h0.8v-1.2h0.8v6h0.8v1.3h0.8v-7.3h0.8v2.5h0.8v8.1h0.8v-8.2h0.8v5.3h0.8v-7.7h0.8v0h0.8v8.2h0.8v-8.2h0.8v8.5h0.8v1.1h0.8v-5h0.8v1.6h0.8v-4.1h0.8v2.7h0.8v1.1h0.8v4.1h0.8v0.5h0.8v-2.5h0.8v-0.5h0.8v3h0.8v-5.9h0.8v6.6h0.8v-1.4h0.8v0.9h0.8v-1.3h0.8v-1.1h0.8v-0.8h0.8v0.1h0.8v-2.1h0.8v-2.4h0.8v8.3h0.8v-0.4h0.8v-4.2h0.8v4.5h0.8v-4h0.8v3.6h0.8v-1h0.8v-2.6h0.8v0.1h0.8v-0.6h0.8v1.7h0.8v1.8h0.8v-2.4h0.8v-1.8h0.8v2.4h0.8v-1.2h0.8v3.2h0.8v-1h0.8v1.7h0.8V446.5Z" fill="#9a9a9a"/>
<path d="M658 433.9H658.9V446.7H658" stroke="#8a8a8a" stroke-width="0.55" fill="none"/>
<text x="657.3" y="438.2" font-size="5.2" text-anchor="end" fill="#333">36</text>
<text x="657.3" y="446.6" font-size="5.2" text-anchor="end" fill="#333">0</text>
<path d="M661 446.5v-0.5h0.8v0.3h0.8v-0.3h0.8v-0.1h0.8v-0.2h0.8v0.2h0.8v-0.4h0.8v0.5h0.8v-0.1h0.8v0.1h0.8v-0.7h0.8v-0.1h0.8v1h0.8v-0.5h0.8v0.1h0.8v0.5h0.8v-0.1h0.8v-0.2h0.8v0h0.8v0.3h0.8v-0.3h0.8v0h0.8v0.3h0.8v0h0.8v-0.3h0.8v0.3h0.8v-0.3h0.8v0.3h0.8v0h0.8v-0.3h0.8v0.3h0.8v-0.3h0.8V446.5Z" fill="#9a9a9a"/>
<text x="356.4" y="454.8" font-size="6.05">MOL_H3K27me3</text>
<path d="M419.7 448.3H420.6V461.1H419.7" stroke="#8a8a8a" stroke-width="0.55" fill="none"/>
<text x="419" y="452.6" font-size="5.2" text-anchor="end" fill="#333">37</text>
<text x="419" y="461" font-size="5.2" text-anchor="end" fill="#333">0</text>
<path d="M423 460.9v-0.5h0.8v0.1h0.8v-0.1h0.8v0h0.8v0.3h0.8v-0.3h0.8v0h0.8v-1.8h0.8v0.2h0.8v-6.1h0.8v5.1h0.8v2h0.8v0.6h0.8v0.1h0.8v-0.7h0.8v0.2h0.8v-0.5h0.8v-0.6h0.8v0.1h0.8v0.1h0.8v1.1h0.8v0h0.8v-0.4h0.8v-1.8h0.8v1.6h0.8v0.4h0.8v-1.3h0.8v0.3h0.8v1.1h0.8v-0.8h0.8v1h0.8v0.3h0.8v-0.2h0.8V460.9Z" fill="#1f4e8c"/>
<path d="M460.3 448.3H461.2V461.1H460.3" stroke="#8a8a8a" stroke-width="0.55" fill="none"/>
<text x="459.6" y="452.6" font-size="5.2" text-anchor="end" fill="#333">61</text>
<text x="459.6" y="461" font-size="5.2" text-anchor="end" fill="#333">0</text>
<path d="M463.8 460.9v-1.2h0.8v0.7h0.8v-0.5h0.8v0.3h0.8v0.2h0.8v0h0.8v-0.1h0.8v0.1h0.8v0.3h0.8v-0.3h0.8v0h0.8v0h0.8v0h0.8v0.3h0.8v-0.3h0.8v0.1h0.8v-0.1h0.8v0h0.8v0.3h0.8v-0.3h0.8v0h0.8v0.3h0.8v-0.3h0.8v0.1h0.8v0h0.8v0.1h0.8v0h0.8v-0.4h0.8v0.3h0.8V460.9Z" fill="#1f4e8c"/>
<path d="M502.5 448.3H503.4V461.1H502.5" stroke="#8a8a8a" stroke-width="0.55" fill="none"/>
<text x="501.8" y="452.6" font-size="5.2" text-anchor="end" fill="#333">34</text>
<text x="501.8" y="461" font-size="5.2" text-anchor="end" fill="#333">0</text>
<path d="M505.8 460.9v-0.5h0.8v0h0.8v0h0.8v0h0.8v0h0.8v0.2h0.8v-0.2h0.8v0h0.8v0h0.8v0h0.8v0.3h0.8v-0.3h0.8v0h0.8v0h0.8v0.3h0.8v-0.5h0.8v0.2h0.8v-0.1h0.8v-1.1h0.8v1.4h0.8v-0.9h0.8v0.4h0.8v0.1h0.8v-0.2h0.8v0.1h0.8v0.3h0.8v-0.1h0.8v0.1h0.8v0h0.8v0.3h0.8v-0.3h0.8v0h0.8v0.3h0.8v-0.3h0.8v0h0.8v0.3h0.8v-0.3h0.8V460.9Z" fill="#1f4e8c"/>
<path d="M542.8 448.3H543.7V461.1H542.8" stroke="#8a8a8a" stroke-width="0.55" fill="none"/>
<text x="542.1" y="452.6" font-size="5.2" text-anchor="end" fill="#333">63</text>
<text x="542.1" y="461" font-size="5.2" text-anchor="end" fill="#333">0</text>
<path d="M546 460.9v-1.2h0.8v0.7h0.8v0h0.8v-0.5h0.8v-0.1h0.8v-1.1h0.8v0.3h0.8v-0.2h0.8v0.5h0.8v-1h0.8v0.6h0.8v1h0.8v-0.6h0.8v-1.7h0.8v2h0.8v-3h0.8v1.5h0.8v-2.8h0.8v5.1h0.8v-0.6h0.8v-2.4h0.8v1.1h0.8v1.3h0.8v-2.1h0.8v2.6h0.8v-0.2h0.8v-0.6h0.8v-0.7h0.8v0.1h0.8v0.2h0.8v-2.6h0.8v1.9h0.8v1.4h0.8v0.3h0.8v0.6h0.8v-3h0.8v2.1h0.8v-1.1h0.8v-3.4h0.8v2.1h0.8v1.7h0.8v0.3h0.8v0.8h0.8v-1.6h0.8v1.5h0.8v0.3h0.8v0.3h0.8v-0.3h0.8v-0.8h0.8v0.4h0.8v-0.2h0.8v0.6h0.8V460.9Z" fill="#1f4e8c"/>
<path d="M593.3 448.3H594.2V461.1H593.3" stroke="#8a8a8a" stroke-width="0.55" fill="none"/>
<text x="592.6" y="452.6" font-size="5.2" text-anchor="end" fill="#333">53</text>
<text x="592.6" y="461" font-size="5.2" text-anchor="end" fill="#333">0</text>
<path d="M596.5 460.9v-0.5h0.8v0h0.8v0h0.8v0h0.8v-1h0.8v0.7h0.8v0.3h0.8v-2.1h0.8v-1.8h0.8v0.3h0.8v3.8h0.8v-1.7h0.8v-7.9h0.8v6.3h0.8v-3.4h0.8v-4.8h0.8v0h0.8v6.2h0.8v-6.2h0.8v8.3h0.8v0.6h0.8v0.9h0.8v-0.5h0.8v0.1h0.8v-6.4h0.8v7.3h0.8v-6.8h0.8v4.2h0.8v-1h0.8v0.9h0.8v1.9h0.8v-3.6h0.8v-3.1h0.8v5.6h0.8v0.5h0.8v-0.7h0.8v-1.5h0.8v2.9h0.8v-1.7h0.8v1h0.8v-1.4h0.8v3.2h0.8v-0.2h0.8v-1h0.8v-0.1h0.8v1.7h0.8v-2.5h0.8v1.7h0.8v-1.3h0.8v1.7h0.8v0h0.8v-0.9h0.8v1.3h0.8v-1.9h0.8v1.8h0.8v-3h0.8v-2.5h0.8v1.7h0.8v-0.8h0.8v0.1h0.8v4.4h0.8v-0.2h0.8v-0.4h0.8v0.2h0.8v0.3h0.8v-1h0.8V460.9Z" fill="#1f4e8c"/>
<path d="M658 448.3H658.9V461.1H658" stroke="#8a8a8a" stroke-width="0.55" fill="none"/>
<text x="657.3" y="452.6" font-size="5.2" text-anchor="end" fill="#333">36</text>
<text x="657.3" y="461" font-size="5.2" text-anchor="end" fill="#333">0</text>
<path d="M661 460.9v-0.5h0.8v-0.1h0.8v0h0.8v0.3h0.8v-1.7h0.8v-0.4h0.8v0h0.8v1.6h0.8v0.3h0.8v-0.1h0.8v-1.9h0.8v0.7h0.8v1.1h0.8v-1.3h0.8v0.1h0.8v0.6h0.8v0.6h0.8v0.2h0.8v0.2h0.8v-0.2h0.8v0h0.8v-0.1h0.8v0.1h0.8v-0.1h0.8v0.1h0.8v0.3h0.8v-0.3h0.8v0.3h0.8v-0.3h0.8v0h0.8v0h0.8v0.3h0.8V460.9Z" fill="#1f4e8c"/>
<text x="356.4" y="469.2" font-size="6.05">OPC_H3K27me3</text>
<path d="M419.7 462.7H420.6V475.5H419.7" stroke="#8a8a8a" stroke-width="0.55" fill="none"/>
<text x="419" y="467" font-size="5.2" text-anchor="end" fill="#333">37</text>
<text x="419" y="475.4" font-size="5.2" text-anchor="end" fill="#333">0</text>
<path d="M423 475.3v-0.2h0.8v-0.3h0.8v0h0.8v0.3h0.8v-0.3h0.8v0h0.8v0.3h0.8v-0.3h0.8v-2.6h0.8v1.1h0.8v-0.9h0.8v2.4h0.8v0h0.8v0h0.8v0h0.8v0h0.8v0h0.8v-0.2h0.8v0.2h0.8v-0.4h0.8v0.7h0.8v-0.8h0.8v0.1h0.8v0.4h0.8v-0.6h0.8v0.6h0.8v-0.7h0.8v0.6h0.8v0.1h0.8v0.1h0.8v-0.1h0.8v0.1h0.8v-0.1h0.8V475.3Z" fill="#8a2be2"/>
<path d="M460.3 462.7H461.2V475.5H460.3" stroke="#8a8a8a" stroke-width="0.55" fill="none"/>
<text x="459.6" y="467" font-size="5.2" text-anchor="end" fill="#333">61</text>
<text x="459.6" y="475.4" font-size="5.2" text-anchor="end" fill="#333">0</text>
<path d="M463.8 475.3v-0.5h0.8v-0.4h0.8v-0.6h0.8v0.8h0.8v-0.7h0.8v0.1h0.8v0.8h0.8v-0.6h0.8v0.6h0.8v0.1h0.8v-0.1h0.8v0h0.8v-0.7h0.8v0.1h0.8v0.5h0.8v0.1h0.8v-0.6h0.8v0.6h0.8v-0.1h0.8v0.3h0.8v0.1h0.8v-0.8h0.8v0.2h0.8v-2h0.8v0.7h0.8v-1.6h0.8v2.8h0.8v-1.6h0.8v1.5h0.8V475.3Z" fill="#8a2be2"/>
<path d="M502.5 462.7H503.4V475.5H502.5" stroke="#8a8a8a" stroke-width="0.55" fill="none"/>
<text x="501.8" y="467" font-size="5.2" text-anchor="end" fill="#333">34</text>
<text x="501.8" y="475.4" font-size="5.2" text-anchor="end" fill="#333">0</text>
<path d="M505.8 475.3v-1.1h0.8v0.5h0.8v0.1h0.8v-0.2h0.8v-0.1h0.8v0.3h0.8v0h0.8v0h0.8v0h0.8v0h0.8v-0.1h0.8v0.2h0.8v-0.2h0.8v0.1h0.8v-0.4h0.8v0.6h0.8v-0.5h0.8v-0.3h0.8v0.1h0.8v0.5h0.8v0.1h0.8v-0.5h0.8v0.3h0.8v0.1h0.8v0.1h0.8v-0.1h0.8v0h0.8v0.3h0.8v-0.3h0.8v0h0.8v0h0.8v0h0.8v0.3h0.8v-0.3h0.8v0h0.8v0.3h0.8v0h0.8V475.3Z" fill="#8a2be2"/>
<path d="M542.8 462.7H543.7V475.5H542.8" stroke="#8a8a8a" stroke-width="0.55" fill="none"/>
<text x="542.1" y="467" font-size="5.2" text-anchor="end" fill="#333">63</text>
<text x="542.1" y="475.4" font-size="5.2" text-anchor="end" fill="#333">0</text>
<path d="M546 475.3v-5.3h0.8v4.8h0.8v-6.8h0.8v1.5h0.8v4.5h0.8v-6.1h0.8v5.4h0.8v-1.2h0.8v-1.9h0.8v-0.4h0.8v4.4h0.8v-3.1h0.8v2.6h0.8v-6.2h0.8v0.4h0.8v4.5h0.8v-4.8h0.8v5.7h0.8v0.3h0.8v-4.3h0.8v0.9h0.8v4.3h0.8v-0.3h0.8v0.3h0.8v-1.6h0.8v0.2h0.8v-0.9h0.8v2.3h0.8v-3.8h0.8v2.5h0.8v-3.5h0.8v3.5h0.8v-0.2h0.8v-0.3h0.8v-1.2h0.8v-1.2h0.8v3.1h0.8v0.1h0.8v-6.3h0.8v5.6h0.8v-4.7h0.8v6.6h0.8v-3.4h0.8v3.3h0.8v-0.7h0.8v0.1h0.8v0.4h0.8v0.4h0.8v0.3h0.8v-0.3h0.8v-0.5h0.8v0.3h0.8V475.3Z" fill="#8a2be2"/>
<path d="M593.3 462.7H594.2V475.5H593.3" stroke="#8a8a8a" stroke-width="0.55" fill="none"/>
<text x="592.6" y="467" font-size="5.2" text-anchor="end" fill="#333">53</text>
<text x="592.6" y="475.4" font-size="5.2" text-anchor="end" fill="#333">0</text>
<path d="M596.5 475.3v-0.6h0.8v0.2h0.8v-0.5h0.8v-0.3h0.8v0.1h0.8v-0.1h0.8v-1.5h0.8v2h0.8v0.2h0.8v-1.3h0.8v0.8h0.8v-2.9h0.8v3h0.8v-6.9h0.8v1h0.8v3.9h0.8v-4.6h0.8v-4.3h0.8v11.1h0.8v-5.6h0.8v5.2h0.8v-6.2h0.8v4.8h0.8v-9.3h0.8v7.9h0.8v1.5h0.8v-1.1h0.8v-3.2h0.8v2.2h0.8v3.2h0.8v-0.8h0.8v-0.1h0.8v0.1h0.8v-7.5h0.8v6h0.8v0.3h0.8v-2.3h0.8v3.4h0.8v-1.4h0.8v2.9h0.8v-4.2h0.8v-2.4h0.8v5.9h0.8v-2.8h0.8v2h0.8v-2.4h0.8v1.1h0.8v0.7h0.8v-1.8h0.8v3.5h0.8v-2.2h0.8v2.1h0.8v-1.6h0.8v1.3h0.8v1h0.8v-1.1h0.8v0.5h0.8v-5.3h0.8v3.7h0.8v1.3h0.8v-2.3h0.8v0.6h0.8v1.2h0.8v1.4h0.8v-0.8h0.8v0.5h0.8V475.3Z" fill="#8a2be2"/>
<path d="M658 462.7H658.9V475.5H658" stroke="#8a8a8a" stroke-width="0.55" fill="none"/>
<text x="657.3" y="467" font-size="5.2" text-anchor="end" fill="#333">36</text>
<text x="657.3" y="475.4" font-size="5.2" text-anchor="end" fill="#333">0</text>
<path d="M661 475.3v-0.5h0.8v-0.3h0.8v0.3h0.8v-2.7h0.8v-2.9h0.8v-2.6h0.8v2.3h0.8v1.6h0.8v3.7h0.8v-3.6h0.8v-1.4h0.8v4.5h0.8v-0.2h0.8v0.7h0.8v-1h0.8v0.7h0.8v-1.4h0.8v-0.1h0.8v2.2h0.8v-0.4h0.8v0.6h0.8v0h0.8v-0.1h0.8v0.1h0.8v-0.4h0.8v-0.3h0.8v0.2h0.8v0.5h0.8v0h0.8v0h0.8v-0.1h0.8v0.4h0.8V475.3Z" fill="#8a2be2"/>
<text x="356.4" y="483.5" font-size="6.05">CXEX_H3K27me3</text>
<path d="M419.7 477H420.6V489.8H419.7" stroke="#8a8a8a" stroke-width="0.55" fill="none"/>
<text x="419" y="481.3" font-size="5.2" text-anchor="end" fill="#333">37</text>
<text x="419" y="489.7" font-size="5.2" text-anchor="end" fill="#333">0</text>
<path d="M423 489.6v-0.5h0.8v0.1h0.8v0.2h0.8v-0.3h0.8v0.2h0.8v0.1h0.8v-0.3h0.8v-2h0.8v-4h0.8v-5.3h0.8v8.8h0.8v2.1h0.8v0.1h0.8v0.5h0.8v-0.2h0.8v-0.8h0.8v-1.1h0.8v1.8h0.8v-1.4h0.8v0.3h0.8v1.1h0.8v-2.6h0.8v2.3h0.8v0.4h0.8v-4.1h0.8v2.3h0.8v-0.8h0.8v2.7h0.8v-0.1h0.8v0h0.8v0h0.8v0h0.8v-0.1h0.8V489.6Z" fill="#8b1a1a"/>
<path d="M460.3 477H461.2V489.8H460.3" stroke="#8a8a8a" stroke-width="0.55" fill="none"/>
<text x="459.6" y="481.3" font-size="5.2" text-anchor="end" fill="#333">61</text>
<text x="459.6" y="489.7" font-size="5.2" text-anchor="end" fill="#333">0</text>
<path d="M463.8 489.6v-0.7h0.8v0.2h0.8v-0.3h0.8v0.1h0.8v0.1h0.8v0.1h0.8v0h0.8v0.2h0.8v-0.2h0.8v0.3h0.8v-0.3h0.8v0.3h0.8v-0.3h0.8v0.3h0.8v0h0.8v-0.3h0.8v0h0.8v0h0.8v0h0.8v0.1h0.8v0.2h0.8v-0.3h0.8v0.1h0.8v-0.5h0.8v-0.4h0.8v-0.2h0.8v0.4h0.8v0.1h0.8v0.8h0.8V489.6Z" fill="#8b1a1a"/>
<path d="M502.5 477H503.4V489.8H502.5" stroke="#8a8a8a" stroke-width="0.55" fill="none"/>
<text x="501.8" y="481.3" font-size="5.2" text-anchor="end" fill="#333">34</text>
<text x="501.8" y="489.7" font-size="5.2" text-anchor="end" fill="#333">0</text>
<path d="M505.8 489.6v-1h0.8v-2h0.8v-0.8h0.8v1.2h0.8v1.4h0.8v1h0.8v-0.3h0.8v0h0.8v-0.3h0.8v-0.1h0.8v0.4h0.8v-0.2h0.8v0.2h0.8v-0.7h0.8v0.7h0.8v-0.6h0.8v-1.1h0.8v1.2h0.8v-2.6h0.8v-0.7h0.8v1.8h0.8v1.4h0.8v-0.9h0.8v0.4h0.8v0h0.8v0.6h0.8v0.6h0.8v-0.2h0.8v-0.1h0.8v0.2h0.8v-0.1h0.8v0.4h0.8v0h0.8v-0.3h0.8v0.3h0.8v-0.3h0.8v0.2h0.8V489.6Z" fill="#8b1a1a"/>
<path d="M542.8 477H543.7V489.8H542.8" stroke="#8a8a8a" stroke-width="0.55" fill="none"/>
<text x="542.1" y="481.3" font-size="5.2" text-anchor="end" fill="#333">63</text>
<text x="542.1" y="489.7" font-size="5.2" text-anchor="end" fill="#333">0</text>
<path d="M546 489.6v-0.5h0.8v-0.1h0.8v0.1h0.8v-0.2h0.8v0.3h0.8v-0.1h0.8v0h0.8v0h0.8v0.3h0.8v-0.4h0.8v0.1h0.8v-0.2h0.8v0.5h0.8v-0.4h0.8v0.1h0.8v0h0.8v0h0.8v0h0.8v-0.1h0.8v-0.1h0.8v0h0.8v0.2h0.8v0.2h0.8v0.1h0.8v-0.3h0.8v0h0.8v0.3h0.8v-0.3h0.8v0.3h0.8v-0.6h0.8v0h0.8v0.6h0.8v-0.3h0.8v0h0.8v-0.1h0.8v-0.1h0.8v-0.5h0.8v0h0.8v0.3h0.8v0.4h0.8v-0.1h0.8v-0.1h0.8v0.5h0.8v-0.3h0.8v0h0.8v0.2h0.8v0.1h0.8v0h0.8v-0.3h0.8v0.3h0.8v-0.3h0.8v0h0.8V489.6Z" fill="#8b1a1a"/>
<path d="M593.3 477H594.2V489.8H593.3" stroke="#8a8a8a" stroke-width="0.55" fill="none"/>
<text x="592.6" y="481.3" font-size="5.2" text-anchor="end" fill="#333">53</text>
<text x="592.6" y="489.7" font-size="5.2" text-anchor="end" fill="#333">0</text>
<path d="M596.5 489.6v-0.5h0.8v-0.3h0.8v-1.4h0.8v-0.4h0.8v2h0.8v-2.2h0.8v0.5h0.8v2h0.8v-1h0.8v-3.1h0.8v0.6h0.8v-5.1h0.8v7h0.8v-0.8h0.8v-8.7h0.8v6.2h0.8v-6.6h0.8v4.5h0.8v-4.5h0.8v0h0.8v5.9h0.8v-5.9h0.8v7.7h0.8v-7.7h0.8v7.5h0.8v-7.5h0.8v8.6h0.8v1h0.8v-7.1h0.8v7.7h0.8v-6h0.8v5.9h0.8v-5.2h0.8v3.4h0.8v-0.5h0.8v-4.6h0.8v6.1h0.8v-5.5h0.8v1.9h0.8v4.2h0.8v-0.2h0.8v-1.9h0.8v-0.8h0.8v4.1h0.8v-0.2h0.8v-2.9h0.8v1.4h0.8v1.7h0.8v-2.1h0.8v1.3h0.8v0.3h0.8v-1.7h0.8v0.8h0.8v-0.6h0.8v-0.7h0.8v-4.4h0.8v-2h0.8v-0.4h0.8v0.4h0.8v0.6h0.8v5.1h0.8v-0.6h0.8v-0.2h0.8v3.1h0.8v0.7h0.8v-2.3h0.8V489.6Z" fill="#8b1a1a"/>
<path d="M658 477H658.9V489.8H658" stroke="#8a8a8a" stroke-width="0.55" fill="none"/>
<text x="657.3" y="481.3" font-size="5.2" text-anchor="end" fill="#333">36</text>
<text x="657.3" y="489.7" font-size="5.2" text-anchor="end" fill="#333">0</text>
<path d="M661 489.6v-0.2h0.8v-0.3h0.8v0.3h0.8v-0.1h0.8v-0.2h0.8v-0.2h0.8v-2.3h0.8v1.5h0.8v-1.4h0.8v1.6h0.8v-2.7h0.8v2.5h0.8v-2.6h0.8v3.1h0.8v0.3h0.8v-0.2h0.8v-0.1h0.8v0.3h0.8v0.5h0.8v-0.9h0.8v0.6h0.8v-0.7h0.8v0.1h0.8v0.9h0.8v-0.3h0.8v-0.3h0.8v0.3h0.8v0.1h0.8v-0.1h0.8v-0.1h0.8v0h0.8v0.1h0.8V489.6Z" fill="#8b1a1a"/>
<text x="356.4" y="497.9" font-size="6.05">CXINH_H3K27me3</text>
<path d="M419.7 491.4H420.6V504.2H419.7" stroke="#8a8a8a" stroke-width="0.55" fill="none"/>
<text x="419" y="495.7" font-size="5.2" text-anchor="end" fill="#333">37</text>
<text x="419" y="504.1" font-size="5.2" text-anchor="end" fill="#333">0</text>
<path d="M423 504v-0.2h0.8v-0.3h0.8v0.3h0.8v-0.5h0.8v0.2h0.8v0h0.8v-0.3h0.8v-1h0.8v-1.7h0.8v-8.3h0.8v3.7h0.8v7.6h0.8v0h0.8v-0.6h0.8v-0.4h0.8v1.1h0.8v-0.7h0.8v0.8h0.8v-0.4h0.8v-0.5h0.8v-1.1h0.8v-0.7h0.8v1.2h0.8v0.7h0.8v0h0.8v0.4h0.8v-2.3h0.8v1.9h0.8v-0.9h0.8v1.5h0.8v-0.4h0.8v0.2h0.8v0.2h0.8V504Z" fill="#1ee61e"/>
<path d="M460.3 491.4H461.2V504.2H460.3" stroke="#8a8a8a" stroke-width="0.55" fill="none"/>
<text x="459.6" y="495.7" font-size="5.2" text-anchor="end" fill="#333">61</text>
<text x="459.6" y="504.1" font-size="5.2" text-anchor="end" fill="#333">0</text>
<path d="M463.8 504v-0.2h0.8v-0.3h0.8v-0.3h0.8v0.3h0.8v0h0.8v0h0.8v0h0.8v0h0.8v0h0.8v0h0.8v0h0.8v0h0.8v0h0.8v0h0.8v0h0.8v0.3h0.8v-0.3h0.8v0h0.8v0h0.8v0h0.8v0h0.8v-0.3h0.8v-0.1h0.8v-0.1h0.8v0.2h0.8v-0.4h0.8v0.7h0.8v-0.4h0.8v-0.2h0.8V504Z" fill="#1ee61e"/>
<path d="M502.5 491.4H503.4V504.2H502.5" stroke="#8a8a8a" stroke-width="0.55" fill="none"/>
<text x="501.8" y="495.7" font-size="5.2" text-anchor="end" fill="#333">34</text>
<text x="501.8" y="504.1" font-size="5.2" text-anchor="end" fill="#333">0</text>
<path d="M505.8 504v-0.2h0.8v-0.6h0.8v0.3h0.8v0.3h0.8v-0.1h0.8v-0.2h0.8v0h0.8v-0.1h0.8v0.4h0.8v-0.3h0.8v0.3h0.8v0h0.8v-0.4h0.8v0.3h0.8v-0.2h0.8v-0.1h0.8v-0.1h0.8v-1.2h0.8v1.4h0.8v0.3h0.8v-0.9h0.8v-0.5h0.8v0.7h0.8v0.1h0.8v0.3h0.8v0.3h0.8v-0.3h0.8v0h0.8v0h0.8v0.3h0.8v0h0.8v-0.3h0.8v0.3h0.8v-0.3h0.8v0.3h0.8v0h0.8v-0.3h0.8V504Z" fill="#1ee61e"/>
<path d="M542.8 491.4H543.7V504.2H542.8" stroke="#8a8a8a" stroke-width="0.55" fill="none"/>
<text x="542.1" y="495.7" font-size="5.2" text-anchor="end" fill="#333">63</text>
<text x="542.1" y="504.1" font-size="5.2" text-anchor="end" fill="#333">0</text>
<path d="M546 504v-7.4h0.8v2.9h0.8v-3.1h0.8v0.6h0.8v0.5h0.8v-0.3h0.8v1.7h0.8v4.2h0.8v0.1h0.8v-3.9h0.8v2.5h0.8v-3.2h0.8v2.9h0.8v-3.4h0.8v-0.4h0.8v4.1h0.8v-4.7h0.8v3.1h0.8v2.1h0.8v-2.1h0.8v1.2h0.8v2.2h0.8v-3.8h0.8v3.7h0.8v-3.4h0.8v1.5h0.8v-0.1h0.8v1.8h0.8v0.2h0.8v-2.6h0.8v-0.2h0.8v1.8h0.8v0h0.8v-3.2h0.8v1.7h0.8v1.1h0.8v-0.9h0.8v-1.9h0.8v-7.1h0.8v6.5h0.8v-0.2h0.8v-1.8h0.8v5.6h0.8v-2h0.8v3.1h0.8v0.1h0.8v0h0.8v0h0.8v-0.5h0.8v0.4h0.8v-0.8h0.8v0.6h0.8V504Z" fill="#1ee61e"/>
<path d="M593.3 491.4H594.2V504.2H593.3" stroke="#8a8a8a" stroke-width="0.55" fill="none"/>
<text x="592.6" y="495.7" font-size="5.2" text-anchor="end" fill="#333">53</text>
<text x="592.6" y="504.1" font-size="5.2" text-anchor="end" fill="#333">0</text>
<path d="M596.5 504v-0.2h0.8v-0.3h0.8v0.2h0.8v-0.2h0.8v0.2h0.8v-0.2h0.8v0.1h0.8v0h0.8v-1.4h0.8v1.2h0.8v-1.4h0.8v0.9h0.8v-1.6h0.8v1.7h0.8v-1.5h0.8v-2.6h0.8v0.2h0.8v3.1h0.8v-4h0.8v2.5h0.8v1.8h0.8v-1h0.8v0.4h0.8v1.6h0.8v-0.3h0.8v-2.5h0.8v1.6h0.8v1.1h0.8v-0.6h0.8v-0.9h0.8v1.2h0.8v-0.7h0.8v-0.2h0.8v-0.8h0.8v0.2h0.8v1.7h0.8v-1.7h0.8v1.1h0.8v-0.1h0.8v1h0.8v-0.4h0.8v-1.5h0.8v0.4h0.8v1.1h0.8v-0.6h0.8v0.7h0.8v0.3h0.8v-1.6h0.8v0.9h0.8v0.9h0.8v-0.3h0.8v0.3h0.8v-0.3h0.8v-0.4h0.8v-0.5h0.8v0.3h0.8v-1.5h0.8v0.5h0.8v1.3h0.8v-0.8h0.8v1.2h0.8v0.2h0.8v-0.3h0.8v0h0.8v0h0.8v0.2h0.8V504Z" fill="#1ee61e"/>
<path d="M658 491.4H658.9V504.2H658" stroke="#8a8a8a" stroke-width="0.55" fill="none"/>
<text x="657.3" y="495.7" font-size="5.2" text-anchor="end" fill="#333">36</text>
<text x="657.3" y="504.1" font-size="5.2" text-anchor="end" fill="#333">0</text>
<path d="M661 504v-0.2h0.8v-0.2h0.8v-0.3h0.8v-0.3h0.8v-2.2h0.8v1.4h0.8v1.3h0.8v-1.7h0.8v1.5h0.8v-1.9h0.8v1.6h0.8v-0.1h0.8v-2.8h0.8v3h0.8v-0.5h0.8v0.6h0.8v0.2h0.8v0.1h0.8v0.1h0.8v-0.2h0.8v-0.5h0.8v0.1h0.8v0.6h0.8v-0.4h0.8v0h0.8v0.2h0.8v0.1h0.8v0h0.8v0.2h0.8v0.1h0.8v-0.3h0.8v0h0.8V504Z" fill="#1ee61e"/>
<text x="356.4" y="512.3" font-size="6.05">MIGL_H3K27me3</text>
<path d="M419.7 505.8H420.6V518.6H419.7" stroke="#8a8a8a" stroke-width="0.55" fill="none"/>
<text x="419" y="510.1" font-size="5.2" text-anchor="end" fill="#333">37</text>
<text x="419" y="518.5" font-size="5.2" text-anchor="end" fill="#333">0</text>
<path d="M423 518.4v-0.2h0.8v-0.3h0.8v0h0.8v0h0.8v0h0.8v0h0.8v0.2h0.8v-1.5h0.8v-2.8h0.8v-1.6h0.8v1.8h0.8v4.1h0.8v-0.5h0.8v0.3h0.8v-0.3h0.8v0.1h0.8v-1.5h0.8v0.5h0.8v-1h0.8v0.2h0.8v-0.2h0.8v1.1h0.8v-0.1h0.8v-2.6h0.8v1.1h0.8v-1.2h0.8v2.9h0.8v-0.9h0.8v1.7h0.8v-0.1h0.8v0.2h0.8v-0.3h0.8v0.5h0.8V518.4Z" fill="#f7b44a"/>
<path d="M460.3 505.8H461.2V518.6H460.3" stroke="#8a8a8a" stroke-width="0.55" fill="none"/>
<text x="459.6" y="510.1" font-size="5.2" text-anchor="end" fill="#333">61</text>
<text x="459.6" y="518.5" font-size="5.2" text-anchor="end" fill="#333">0</text>
<path d="M463.8 518.4v-0.5h0.8v-0.6h0.8v0.6h0.8v0.2h0.8v-0.4h0.8v0.3h0.8v-0.1h0.8v0.3h0.8v-0.1h0.8v-0.2h0.8v0h0.8v0h0.8v-0.1h0.8v0.1h0.8v0.3h0.8v0h0.8v-0.1h0.8v-0.2h0.8v0.3h0.8v-0.4h0.8v0.1h0.8v0h0.8v0h0.8v-0.7h0.8v0.7h0.8v-1.1h0.8v0.6h0.8v0.4h0.8v0h0.8V518.4Z" fill="#f7b44a"/>
<path d="M502.5 505.8H503.4V518.6H502.5" stroke="#8a8a8a" stroke-width="0.55" fill="none"/>
<text x="501.8" y="510.1" font-size="5.2" text-anchor="end" fill="#333">34</text>
<text x="501.8" y="518.5" font-size="5.2" text-anchor="end" fill="#333">0</text>
<path d="M505.8 518.4v-1.2h0.8v0.5h0.8v-1.4h0.8v1.6h0.8v-0.6h0.8v0.7h0.8v-0.1h0.8v0h0.8v-0.3h0.8v0.3h0.8v0h0.8v0h0.8v0h0.8v0h0.8v-0.3h0.8v-2h0.8v0.4h0.8v-0.2h0.8v1.6h0.8v-1.4h0.8v1.1h0.8v-1h0.8v0.5h0.8v0h0.8v0.4h0.8v-0.4h0.8v1.5h0.8v-0.5h0.8v-0.6h0.8v0.2h0.8v0.5h0.8v-0.3h0.8v0.5h0.8v0h0.8v-0.1h0.8v0h0.8v-0.1h0.8V518.4Z" fill="#f7b44a"/>
<path d="M542.8 505.8H543.7V518.6H542.8" stroke="#8a8a8a" stroke-width="0.55" fill="none"/>
<text x="542.1" y="510.1" font-size="5.2" text-anchor="end" fill="#333">63</text>
<text x="542.1" y="518.5" font-size="5.2" text-anchor="end" fill="#333">0</text>
<path d="M546 518.4v-0.8h0.8v-1.4h0.8v1.2h0.8v0.5h0.8v-1.2h0.8v-0.3h0.8v1.5h0.8v-1.7h0.8v-0.1h0.8v1.6h0.8v-2.8h0.8v2.1h0.8v-3h0.8v1.1h0.8v1.5h0.8v0.5h0.8v-3.5h0.8v2.2h0.8v-3.4h0.8v5.1h0.8v-0.5h0.8v0.4h0.8v0.2h0.8v-0.7h0.8v0.3h0.8v0.7h0.8v-0.7h0.8v-1.8h0.8v1.5h0.8v-0.7h0.8v1.1h0.8v-2.7h0.8v-2h0.8v1.5h0.8v0.7h0.8v2.7h0.8v-1.1h0.8v-3.6h0.8v4.7h0.8v-1h0.8v-1.7h0.8v2.4h0.8v-2h0.8v2.6h0.8v-1.3h0.8v0.2h0.8v0.9h0.8v-0.8h0.8v0.7h0.8v0.7h0.8v-0.3h0.8v-0.7h0.8V518.4Z" fill="#f7b44a"/>
<path d="M593.3 505.8H594.2V518.6H593.3" stroke="#8a8a8a" stroke-width="0.55" fill="none"/>
<text x="592.6" y="510.1" font-size="5.2" text-anchor="end" fill="#333">53</text>
<text x="592.6" y="518.5" font-size="5.2" text-anchor="end" fill="#333">0</text>
<path d="M596.5 518.4v-0.3h0.8v-0.6h0.8v-0.6h0.8v-0.7h0.8v0.2h0.8v-0.4h0.8v1.4h0.8v-1.5h0.8v-1.1h0.8v1.9h0.8v-0.7h0.8v-5h0.8v-4.3h0.8v5.7h0.8v0.5h0.8v-6.1h0.8v6.8h0.8v-7h0.8v0.4h0.8v6h0.8v-6.4h0.8v1.1h0.8v-1.1h0.8v1.7h0.8v6.2h0.8v-7.9h0.8v0h0.8v2.5h0.8v3.4h0.8v0.6h0.8v2.1h0.8v0h0.8v-1.7h0.8v2.1h0.8v-9h0.8v1.6h0.8v-0.9h0.8v6.8h0.8v-2.5h0.8v-1.3h0.8v6h0.8v-2.6h0.8v3.2h0.8v-2.6h0.8v1.1h0.8v0.6h0.8v-4.1h0.8v3.8h0.8v2h0.8v-0.9h0.8v0.9h0.8v-0.1h0.8v-2.3h0.8v0.4h0.8v-0.1h0.8v-4h0.8v5.1h0.8v-4.2h0.8v4h0.8v0.5h0.8v-0.9h0.8v-1.3h0.8v1h0.8v2.1h0.8v-1.3h0.8v0.9h0.8V518.4Z" fill="#f7b44a"/>
<path d="M658 505.8H658.9V518.6H658" stroke="#8a8a8a" stroke-width="0.55" fill="none"/>
<text x="657.3" y="510.1" font-size="5.2" text-anchor="end" fill="#333">36</text>
<text x="657.3" y="518.5" font-size="5.2" text-anchor="end" fill="#333">0</text>
<path d="M661 518.4v-0.3h0.8v-0.2h0.8v0h0.8v-0.4h0.8v-1h0.8v1.2h0.8v0.2h0.8v-0.5h0.8v-1h0.8v1.8h0.8v-1.2h0.8v-0.4h0.8v0.2h0.8v-0.4h0.8v1.5h0.8v-0.3h0.8v-0.6h0.8v0.9h0.8v0.2h0.8v-0.2h0.8v-0.1h0.8v0.1h0.8v0.3h0.8v0h0.8v-0.1h0.8v-0.2h0.8v-0.2h0.8v0.2h0.8v0h0.8v0h0.8v0h0.8v0.1h0.8V518.4Z" fill="#f7b44a"/>
<path d="M428.8 524.8H446.5" stroke="#5a5acc" stroke-width="0.5"/>
<path d="M429.3 524v1.6M434.7 524v1.6M440.1 524v1.6M445.5 523.6v2.4" stroke="#5a5acc" stroke-width="0.9"/>
<path d="M444.3 523.5L446.5 524.8L444.3 526.1Z" fill="#5a5acc"/>
<text x="437.6" y="529.7" font-size="3.3" text-anchor="middle" fill="#5a5acc">RFX4</text>
<path d="M470.2 524.8H487.9" stroke="#5a5acc" stroke-width="0.5"/>
<path d="M470.7 524v1.6M476.1 523.6v2.4M481.5 523.6v2.4M486.9 524v1.6" stroke="#5a5acc" stroke-width="0.9"/>
<path d="M485.7 523.5L487.9 524.8L485.7 526.1Z" fill="#5a5acc"/>
<text x="479" y="529.7" font-size="3.3" text-anchor="middle" fill="#5a5acc">NOG</text>
<path d="M515.5 524.8H533.2" stroke="#5a5acc" stroke-width="0.5"/>
<path d="M516 523.6v2.4M521.4 523.6v2.4M526.8 524v1.6M532.2 524v1.6" stroke="#5a5acc" stroke-width="0.9"/>
<path d="M531 523.5L533.2 524.8L531 526.1Z" fill="#5a5acc"/>
<text x="524.4" y="529.7" font-size="3.3" text-anchor="middle" fill="#5a5acc">NEU4</text>
<path d="M547 524.8H578.6" stroke="#5a5acc" stroke-width="0.5"/>
<path d="M547.5 523.6v2.4M552.5 524v1.6M557.5 523.6v2.4M562.5 524v1.6M567.6 524v1.6M572.6 524v1.6M577.6 523.6v2.4" stroke="#5a5acc" stroke-width="0.9"/>
<path d="M549.2 523.5L547 524.8L549.2 526.1Z" fill="#5a5acc"/>
<text x="562.8" y="529.7" font-size="3.3" text-anchor="middle" fill="#5a5acc">SLC17A7</text>
<path d="M608 524.8H633.8" stroke="#5a5acc" stroke-width="0.5"/>
<path d="M608.5 523.6v2.4M613.4 523.6v2.4M618.2 523.6v2.4M623.1 524v1.6M627.9 523.6v2.4M632.8 524v1.6" stroke="#5a5acc" stroke-width="0.9"/>
<path d="M610.2 523.5L608 524.8L610.2 526.1Z" fill="#5a5acc"/>
<text x="620.9" y="529.7" font-size="3.3" text-anchor="middle" fill="#5a5acc">GAD1</text>
<path d="M667.3 524.8H684.5" stroke="#5a5acc" stroke-width="0.5"/>
<path d="M667.8 524v1.6M673 523.6v2.4M678.3 523.6v2.4M683.5 524v1.6" stroke="#5a5acc" stroke-width="0.9"/>
<path d="M682.3 523.5L684.5 524.8L682.3 526.1Z" fill="#5a5acc"/>
<text x="675.9" y="529.7" font-size="3.3" text-anchor="middle" fill="#5a5acc">C1QA</text>
<path d="M428.8 534.6H446.5" stroke="#5a5acc" stroke-width="0.5"/>
<path d="M429.3 533.8v1.6M434.7 533.8v1.6M440.1 533.8v1.6M445.5 533.8v1.6" stroke="#5a5acc" stroke-width="0.9"/>
<path d="M444.3 533.3L446.5 534.6L444.3 535.9Z" fill="#5a5acc"/>
<text x="437.6" y="539.5" font-size="3.3" text-anchor="middle" fill="#5a5acc">RFX4</text>
<path d="M470.2 534.6H487.9" stroke="#5a5acc" stroke-width="0.5"/>
<path d="M470.7 533.4v2.4M476.1 533.8v1.6M481.5 533.4v2.4M486.9 533.4v2.4" stroke="#5a5acc" stroke-width="0.9"/>
<path d="M485.7 533.3L487.9 534.6L485.7 535.9Z" fill="#5a5acc"/>
<text x="479" y="539.5" font-size="3.3" text-anchor="middle" fill="#5a5acc">NOG</text>
<path d="M515.5 534.6H533.2" stroke="#5a5acc" stroke-width="0.5"/>
<path d="M516 533.8v1.6M521.4 533.8v1.6M526.8 533.8v1.6M532.2 533.8v1.6" stroke="#5a5acc" stroke-width="0.9"/>
<path d="M531 533.3L533.2 534.6L531 535.9Z" fill="#5a5acc"/>
<text x="524.4" y="539.5" font-size="3.3" text-anchor="middle" fill="#5a5acc">NEU4</text>
<path d="M608 534.6H650" stroke="#5a5acc" stroke-width="0.5"/>
<path d="M608.5 533.8v1.6M613 533.4v2.4M617.5 533.8v1.6M622 533.4v2.4M626.5 533.8v1.6M631 533.4v2.4M635.5 533.4v2.4M640 533.8v1.6M644.5 533.8v1.6M649 533.8v1.6" stroke="#5a5acc" stroke-width="0.9"/>
<path d="M647.8 533.3L650 534.6L647.8 535.9Z" fill="#5a5acc"/>
<text x="629" y="539.5" font-size="3.3" text-anchor="middle" fill="#5a5acc">GAD1</text>
<path d="M667.3 534.6H684.5" stroke="#5a5acc" stroke-width="0.5"/>
<path d="M667.8 533.4v2.4M673 533.8v1.6M678.3 533.8v1.6M683.5 533.8v1.6" stroke="#5a5acc" stroke-width="0.9"/>
<path d="M682.3 533.3L684.5 534.6L682.3 535.9Z" fill="#5a5acc"/>
<text x="675.9" y="539.5" font-size="3.3" text-anchor="middle" fill="#5a5acc">C1QA</text>
<defs>
<linearGradient id="hmvA" x1="0" y1="0" x2="0" y2="1"><stop offset="0" stop-color="#c8c8f0"/><stop offset="0.03" stop-color="#7070e0"/><stop offset="0.15" stop-color="#2e2ed0"/><stop offset="0.5" stop-color="#2020a8"/><stop offset="1" stop-color="#1a1a8a"/></linearGradient>
<linearGradient id="hmvB" x1="0" y1="0" x2="0" y2="1"><stop offset="0" stop-color="#e04040"/><stop offset="0.04" stop-color="#f4d4d4"/><stop offset="0.12" stop-color="#e6e6fa"/><stop offset="0.3" stop-color="#6060e8"/><stop offset="0.55" stop-color="#2a2acc"/><stop offset="1" stop-color="#1c1c9a"/></linearGradient>
<linearGradient id="hmvC" x1="0" y1="0" x2="0" y2="1"><stop offset="0" stop-color="#e03030"/><stop offset="0.05" stop-color="#f6c8c8"/><stop offset="0.16" stop-color="#f0f0fc"/><stop offset="0.38" stop-color="#7070ec"/><stop offset="0.6" stop-color="#2a2ad0"/><stop offset="1" stop-color="#1c1ca0"/></linearGradient>
<linearGradient id="hmvD" x1="0" y1="0" x2="0" y2="1"><stop offset="0" stop-color="#2c2cc0"/><stop offset="0.3" stop-color="#2222a8"/><stop offset="1" stop-color="#1c1c8a"/></linearGradient>
<linearGradient id="hmvE" x1="0" y1="0" x2="0" y2="1"><stop offset="0" stop-color="#d8a0a0"/><stop offset="0.02" stop-color="#3a3ad8"/><stop offset="0.3" stop-color="#2222b0"/><stop offset="1" stop-color="#1c1c8c"/></linearGradient>
<linearGradient id="bwr" x1="0" y1="0" x2="1" y2="0"><stop offset="0" stop-color="#10108a"/><stop offset="0.25" stop-color="#3030e0"/><stop offset="0.5" stop-color="#ffffff"/><stop offset="0.75" stop-color="#e03030"/><stop offset="1" stop-color="#a01010"/></linearGradient>
<pattern id="gtex" patternUnits="userSpaceOnUse" width="30" height="30"><path d="M4.9 20.7h4.4v.6h-4.4zM14.4 6.5h5.1v.6h-5.1zM24.2 15.4h3.8v.6h-3.8zM7.1 0.1h3.2v.6h-3.2zM17.6 2.1h5.1v.6h-5.1zM7.0 7.0h1.7v.6h-1.7zM29.9 22.2h5.4v.6h-5.4zM18.5 1.0h3.0v.6h-3.0zM14.9 3.5h5.8v.6h-5.8zM11.1 4.6h5.2v.6h-5.2zM3.7 27.8h3.5v.6h-3.5zM16.6 10.3h3.7v.6h-3.7zM5.6 1.1h5.4v.6h-5.4zM7.0 23.4h2.4v.6h-2.4zM29.1 26.8h4.9v.6h-4.9zM22.9 17.4h4.8v.6h-4.8zM3.7 14.3h5.2v.6h-5.2zM6.0 27.7h5.5v.6h-5.5zM12.3 11.0h3.5v.6h-3.5zM11.6 29.8h3.2v.6h-3.2zM0.8 2.8h4.7v.6h-4.7zM29.8 14.9h3.7v.6h-3.7zM16.5 22.4h2.5v.6h-2.5zM18.3 16.7h4.3v.6h-4.3zM5.4 5.1h3.1v.6h-3.1zM27.8 10.4h4.2v.6h-4.2zM9.2 3.1h1.8v.6h-1.8zM24.4 23.3h3.2v.6h-3.2zM20.5 20.3h5.5v.6h-5.5zM28.7 12.2h6.0v.6h-6.0zM28.8 17.7h5.5v.6h-5.5zM14.7 11.3h2.6v.6h-2.6zM26.3 4.9h1.8v.6h-1.8zM24.2 23.2h3.7v.6h-3.7zM25.1 1.6h2.7v.6h-2.7zM8.7 12.6h2.3v.6h-2.3zM2.1 10.1h5.5v.6h-5.5zM29.5 22.4h3.7v.6h-3.7zM7.6 28.8h3.9v.6h-3.9zM21.9 0.8h2.5v.6h-2.5zM25.1 23.9h5.5v.6h-5.5zM18.0 12.8h4.1v.6h-4.1zM25.5 9.2h3.9v.6h-3.9zM8.3 23.0h1.5v.6h-1.5zM20.6 28.6h1.6v.6h-1.6zM17.8 19.3h5.3v.6h-5.3zM17.5 7.7h3.3v.6h-3.3zM28.8 27.2h2.1v.6h-2.1zM2.8 2.8h1.6v.6h-1.6zM13.4 4.2h5.4v.6h-5.4zM19.7 3.8h3.9v.6h-3.9zM9.7 14.8h2.5v.6h-2.5zM5.0 5.5h3.2v.6h-3.2zM21.3 16.5h1.7v.6h-1.7zM21.3 26.2h5.0v.6h-5.0zM23.7 0.2h3.6v.6h-3.6zM1.9 22.9h2.3v.6h-2.3zM21.3 7.6h4.6v.6h-4.6zM9.4 1.3h3.2v.6h-3.2zM9.3 27.0h2.8v.6h-2.8zM15.1 16.5h5.8v.6h-5.8zM3.0 18.0h3.8v.6h-3.8zM22.0 29.0h2.9v.6h-2.9zM21.0 15.8h4.0v.6h-4.0zM1.9 24.4h5.9v.6h-5.9zM10.7 9.5h6.0v.6h-6.0zM3.2 2.3h1.8v.6h-1.8zM24.4 22.8h3.5v.6h-3.5zM18.6 0.6h4.4v.6h-4.4zM13.3 15.5h3.3v.6h-3.3zM12.0 6.8h1.7v.6h-1.7zM13.0 7.4h4.7v.6h-4.7zM24.5 21.7h3.6v.6h-3.6zM7.1 11.6h3.7v.6h-3.7zM19.0 28.9h1.9v.6h-1.9zM14.4 14.8h4.7v.6h-4.7zM26.7 23.4h4.3v.6h-4.3zM22.8 20.0h5.4v.6h-5.4zM21.0 20.5h2.6v.6h-2.6zM27.5 11.6h4.3v.6h-4.3zM24.7 28.9h6.0v.6h-6.0zM0.2 9.4h2.9v.6h-2.9zM11.7 4.4h4.0v.6h-4.0zM2.4 9.1h5.7v.6h-5.7zM22.3 13.9h2.0v.6h-2.0zM28.7 21.1h2.4v.6h-2.4zM10.1 19.2h4.6v.6h-4.6zM7.8 28.5h2.9v.6h-2.9zM7.6 25.4h2.2v.6h-2.2zM20.4 6.0h4.2v.6h-4.2z" fill="#fff" opacity="0.16"/><path d="M8.3 11.4h5.7v.6h-5.7zM14.0 13.1h4.3v.6h-4.3zM8.4 5.2h3.2v.6h-3.2zM8.2 5.7h5.8v.6h-5.8zM1.0 24.3h5.7v.6h-5.7zM21.1 0.6h3.8v.6h-3.8zM1.2 18.2h4.7v.6h-4.7zM7.2 0.2h3.9v.6h-3.9zM2.8 9.3h3.5v.6h-3.5zM26.8 11.1h2.1v.6h-2.1zM23.8 24.7h3.9v.6h-3.9zM1.5 5.6h3.3v.6h-3.3zM16.6 6.8h5.1v.6h-5.1zM25.3 27.8h5.5v.6h-5.5zM0.5 17.5h1.9v.6h-1.9zM27.0 22.4h4.9v.6h-4.9zM5.6 1.8h5.2v.6h-5.2zM18.2 18.6h3.6v.6h-3.6zM24.0 10.1h2.7v.6h-2.7zM10.6 8.9h4.3v.6h-4.3zM26.7 2.1h1.8v.6h-1.8zM15.4 20.3h2.4v.6h-2.4zM8.1 1.8h1.7v.6h-1.7zM14.9 20.4h4.4v.6h-4.4zM4.7 3.1h5.7v.6h-5.7zM16.2 12.3h4.6v.6h-4.6zM21.8 15.7h1.9v.6h-1.9zM24.8 6.4h1.7v.6h-1.7zM10.6 16.0h4.3v.6h-4.3zM5.2 21.3h3.7v.6h-3.7zM4.9 25.5h5.1v.6h-5.1zM27.2 20.4h2.5v.6h-2.5zM23.3 27.1h3.9v.6h-3.9zM27.3 29.1h3.3v.6h-3.3zM28.3 28.1h5.1v.6h-5.1zM0.3 10.6h4.3v.6h-4.3zM18.2 22.7h4.4v.6h-4.4zM4.8 27.9h3.9v.6h-3.9zM26.5 6.2h6.0v.6h-6.0zM16.6 23.3h4.8v.6h-4.8zM26.5 10.9h1.9v.6h-1.9zM12.2 5.3h3.9v.6h-3.9zM24.4 10.9h2.1v.6h-2.1zM0.8 12.7h4.1v.6h-4.1zM0.8 20.0h2.4v.6h-2.4zM3.2 27.8h3.9v.6h-3.9zM26.9 15.4h2.1v.6h-2.1zM7.2 12.7h4.4v.6h-4.4zM23.1 22.5h4.4v.6h-4.4zM7.6 12.9h3.2v.6h-3.2zM14.7 8.0h3.9v.6h-3.9zM13.8 1.1h5.2v.6h-5.2zM17.6 24.1h4.8v.6h-4.8zM21.9 29.8h3.2v.6h-3.2zM11.8 0.1h4.5v.6h-4.5zM17.4 17.3h6.0v.6h-6.0zM5.9 6.8h4.8v.6h-4.8zM24.4 14.5h1.7v.6h-1.7zM11.1 24.8h3.7v.6h-3.7zM13.8 11.7h4.3v.6h-4.3zM18.0 20.8h5.4v.6h-5.4zM22.5 11.2h2.6v.6h-2.6zM23.5 23.8h5.7v.6h-5.7zM6.0 25.4h5.5v.6h-5.5zM2.3 9.2h4.4v.6h-4.4zM4.4 24.9h2.7v.6h-2.7zM20.5 8.9h2.5v.6h-2.5zM6.2 14.9h4.7v.6h-4.7zM6.5 20.6h3.0v.6h-3.0zM19.5 11.0h2.4v.6h-2.4z" fill="#000040" opacity="0.14"/></pattern>
<linearGradient id="gmg" x1="0" y1="0" x2="0" y2="1"><stop offset="0" stop-color="#fff"/><stop offset="0.25" stop-color="#fff" stop-opacity="0.8"/><stop offset="0.6" stop-color="#fff" stop-opacity="0"/></linearGradient><mask id="gmask" maskContentUnits="objectBoundingBox"><rect width="1" height="1" fill="url(#gmg)"/></mask>
<filter id="blur1" x="-20%" y="-20%" width="140%" height="140%"><feGaussianBlur stdDeviation="0.8"/></filter>
<filter id="blur05" x="-50%" y="-10%" width="200%" height="120%"><feGaussianBlur stdDeviation="0.45"/></filter>
<filter id="blur2" x="-20%" y="-20%" width="140%" height="140%"><feGaussianBlur stdDeviation="1.5"/></filter>
</defs>
<text x="0" y="553.6" font-size="13.5" font-weight="bold" fill="#000" stroke="#000" stroke-width="0.55">g</text>
<text x="44.1" y="556.2" font-size="5.2" text-anchor="middle">H3K27me3 peaks</text>
<text x="44.1" y="561.9" font-size="5.3" text-anchor="middle">(MOL)</text>
<path d="M22.8 567.3V602.4H64.5" stroke="#333" stroke-width="0.5" fill="none"/>
<path d="M21.5 570.7H22.8" stroke="#333" stroke-width="0.4"/>
<text x="20.6" y="572.5" font-size="5.2" text-anchor="end" fill="#333">15</text>
<path d="M21.5 581.9H22.8" stroke="#333" stroke-width="0.4"/>
<text x="20.6" y="583.7" font-size="5.2" text-anchor="end" fill="#333">10</text>
<path d="M21.5 592.9H22.8" stroke="#333" stroke-width="0.4"/>
<text x="20.6" y="594.7" font-size="5.2" text-anchor="end" fill="#333">5</text>
<path d="M24.3 602.4v1.2" stroke="#333" stroke-width="0.4"/>
<text x="24.3" y="610.4" font-size="5.2" text-anchor="middle" fill="#333">-10</text>
<path d="M44.1 602.4v1.2" stroke="#333" stroke-width="0.4"/>
<text x="44.1" y="610.4" font-size="5.2" text-anchor="middle" fill="#333">0</text>
<path d="M64 602.4v1.2" stroke="#333" stroke-width="0.4"/>
<text x="64" y="610.4" font-size="5.2" text-anchor="middle" fill="#333">10</text>
<text x="44.1" y="619.2" font-size="5.3" text-anchor="middle">Distance (kb)</text>
<path d="M24.3 596.8L24.6 596.8L25 596.8L25.3 596.8L25.6 596.8L26 596.8L26.3 596.7L26.6 596.7L26.9 596.7L27.3 596.7L27.6 596.7L27.9 596.6L28.3 596.6L28.6 596.6L28.9 596.6L29.3 596.5L29.6 596.5L29.9 596.5L30.3 596.4L30.6 596.4L30.9 596.4L31.2 596.3L31.6 596.3L31.9 596.2L32.2 596.2L32.6 596.1L32.9 596.1L33.2 596L33.6 596L33.9 595.9L34.2 595.8L34.6 595.7L34.9 595.7L35.2 595.6L35.5 595.5L35.9 595.4L36.2 595.2L36.5 595.1L36.9 595L37.2 594.8L37.5 594.7L37.9 594.5L38.2 594.3L38.5 594.1L38.9 593.8L39.2 593.5L39.5 593.2L39.8 592.9L40.2 592.5L40.5 592.1L40.8 591.7L41.2 591.1L41.5 590.5L41.8 589.8L42.2 589L42.5 588.1L42.8 586.8L43.2 585.1L43.5 582.3L43.8 577.1L44.2 568.5L44.5 577.1L44.8 582.3L45.1 585.1L45.5 586.8L45.8 588.1L46.1 589L46.5 589.8L46.8 590.5L47.1 591.1L47.5 591.7L47.8 592.1L48.1 592.5L48.5 592.9L48.8 593.2L49.1 593.5L49.4 593.8L49.8 594.1L50.1 594.3L50.4 594.5L50.8 594.7L51.1 594.8L51.4 595L51.8 595.1L52.1 595.2L52.4 595.4L52.8 595.5L53.1 595.6L53.4 595.7L53.7 595.7L54.1 595.8L54.4 595.9L54.7 596L55.1 596L55.4 596.1L55.7 596.1L56.1 596.2L56.4 596.2L56.7 596.3L57.1 596.3L57.4 596.4L57.7 596.4L58 596.4L58.4 596.5L58.7 596.5L59 596.5L59.4 596.6L59.7 596.6L60 596.6L60.4 596.6L60.7 596.7L61 596.7L61.4 596.7L61.7 596.7L62 596.7L62.3 596.8L62.7 596.8L63 596.8L63.3 596.8L63.7 596.8L64 596.8" stroke="#f03030" stroke-width="0.9" fill="none" stroke-linejoin="round"/>
<path d="M24.3 601L24.6 600.9L25 600.9L25.3 600.9L25.6 600.9L26 600.9L26.3 600.9L26.6 600.9L26.9 600.9L27.3 600.9L27.6 600.9L27.9 600.9L28.3 600.9L28.6 600.9L28.9 600.9L29.3 600.9L29.6 600.8L29.9 600.8L30.3 600.8L30.6 600.8L30.9 600.8L31.2 600.8L31.6 600.8L31.9 600.8L32.2 600.7L32.6 600.7L32.9 600.7L33.2 600.7L33.6 600.7L33.9 600.6L34.2 600.6L34.6 600.6L34.9 600.6L35.2 600.5L35.5 600.5L35.9 600.5L36.2 600.4L36.5 600.4L36.9 600.3L37.2 600.3L37.5 600.2L37.9 600.1L38.2 600.1L38.5 600L38.9 599.9L39.2 599.8L39.5 599.6L39.8 599.5L40.2 599.3L40.5 599.1L40.8 598.9L41.2 598.7L41.5 598.4L41.8 598L42.2 597.6L42.5 597.1L42.8 596.5L43.2 595.7L43.5 594.5L43.8 592.5L44.2 590L44.5 592.5L44.8 594.5L45.1 595.7L45.5 596.5L45.8 597.1L46.1 597.6L46.5 598L46.8 598.4L47.1 598.7L47.5 598.9L47.8 599.1L48.1 599.3L48.5 599.5L48.8 599.6L49.1 599.8L49.4 599.9L49.8 600L50.1 600.1L50.4 600.1L50.8 600.2L51.1 600.3L51.4 600.3L51.8 600.4L52.1 600.4L52.4 600.5L52.8 600.5L53.1 600.5L53.4 600.6L53.7 600.6L54.1 600.6L54.4 600.6L54.7 600.7L55.1 600.7L55.4 600.7L55.7 600.7L56.1 600.7L56.4 600.8L56.7 600.8L57.1 600.8L57.4 600.8L57.7 600.8L58 600.8L58.4 600.8L58.7 600.8L59 600.9L59.4 600.9L59.7 600.9L60 600.9L60.4 600.9L60.7 600.9L61 600.9L61.4 600.9L61.7 600.9L62 600.9L62.3 600.9L62.7 600.9L63 600.9L63.3 600.9L63.7 600.9L64 601" stroke="#2ca02c" stroke-width="0.9" fill="none" stroke-linejoin="round"/>
<text x="94" y="556.2" font-size="5.2" text-anchor="middle">H3K27ac peaks</text>
<text x="94" y="561.9" font-size="5.3" text-anchor="middle">(MOL)</text>
<path d="M73 567.3V602.4H113.9" stroke="#333" stroke-width="0.5" fill="none"/>
<path d="M71.7 575.2H73" stroke="#333" stroke-width="0.4"/>
<text x="70.8" y="577" font-size="5.2" text-anchor="end" fill="#333">10</text>
<path d="M71.7 591H73" stroke="#333" stroke-width="0.4"/>
<text x="70.8" y="592.8" font-size="5.2" text-anchor="end" fill="#333">5</text>
<path d="M74.5 602.4v1.2" stroke="#333" stroke-width="0.4"/>
<text x="74.5" y="610.4" font-size="5.2" text-anchor="middle" fill="#333">-10</text>
<path d="M94 602.4v1.2" stroke="#333" stroke-width="0.4"/>
<text x="94" y="610.4" font-size="5.2" text-anchor="middle" fill="#333">0</text>
<path d="M113.4 602.4v1.2" stroke="#333" stroke-width="0.4"/>
<text x="113.4" y="610.4" font-size="5.2" text-anchor="middle" fill="#333">10</text>
<text x="94" y="619.2" font-size="5.3" text-anchor="middle">Distance (kb)</text>
<path d="M74.5 601.9L74.8 601.9L75.1 601.9L75.5 601.9L75.8 601.9L76.1 601.9L76.4 601.9L76.8 601.9L77.1 601.9L77.4 601.9L77.7 601.9L78.1 601.9L78.4 601.9L78.7 601.9L79 601.9L79.4 601.9L79.7 601.9L80 601.9L80.3 601.9L80.7 601.9L81 601.9L81.3 601.9L81.6 601.9L82 601.9L82.3 601.9L82.6 601.9L82.9 601.9L83.3 601.9L83.6 601.9L83.9 601.9L84.2 601.9L84.5 601.9L84.9 601.9L85.2 601.9L85.5 601.9L85.8 601.9L86.2 601.9L86.5 601.9L86.8 601.9L87.1 601.9L87.5 601.9L87.8 601.9L88.1 601.9L88.4 601.9L88.8 601.9L89.1 601.9L89.4 601.9L89.7 601.9L90.1 601.7L90.4 601.6L90.7 601.4L91 601.3L91.4 601.1L91.7 600.8L92 600.5L92.3 600.2L92.7 599.8L93 599.2L93.3 598.5L93.6 597.5L94 596.4L94.3 597.5L94.6 598.5L94.9 599.2L95.2 599.8L95.6 600.2L95.9 600.5L96.2 600.8L96.5 601.1L96.9 601.3L97.2 601.4L97.5 601.6L97.8 601.7L98.2 601.9L98.5 601.9L98.8 601.9L99.1 601.9L99.5 601.9L99.8 601.9L100.1 601.9L100.4 601.9L100.8 601.9L101.1 601.9L101.4 601.9L101.7 601.9L102.1 601.9L102.4 601.9L102.7 601.9L103 601.9L103.4 601.9L103.7 601.9L104 601.9L104.3 601.9L104.6 601.9L105 601.9L105.3 601.9L105.6 601.9L105.9 601.9L106.3 601.9L106.6 601.9L106.9 601.9L107.2 601.9L107.6 601.9L107.9 601.9L108.2 601.9L108.5 601.9L108.9 601.9L109.2 601.9L109.5 601.9L109.8 601.9L110.2 601.9L110.5 601.9L110.8 601.9L111.1 601.9L111.5 601.9L111.8 601.9L112.1 601.9L112.4 601.9L112.8 601.9L113.1 601.9L113.4 601.9" stroke="#f03030" stroke-width="0.9" fill="none" stroke-linejoin="round"/>
<path d="M74.5 597.7L74.8 597.6L75.1 597.6L75.5 597.6L75.8 597.6L76.1 597.6L76.4 597.5L76.8 597.5L77.1 597.5L77.4 597.5L77.7 597.4L78.1 597.4L78.4 597.4L78.7 597.4L79 597.3L79.4 597.3L79.7 597.3L80 597.2L80.3 597.2L80.7 597.1L81 597.1L81.3 597L81.6 597L82 596.9L82.3 596.9L82.6 596.8L82.9 596.8L83.3 596.7L83.6 596.6L83.9 596.5L84.2 596.4L84.5 596.3L84.9 596.2L85.2 596.1L85.5 596L85.8 595.9L86.2 595.7L86.5 595.6L86.8 595.4L87.1 595.2L87.5 595L87.8 594.7L88.1 594.5L88.4 594.2L88.8 593.9L89.1 593.5L89.4 593.1L89.7 592.7L90.1 592.1L90.4 591.6L90.7 590.9L91 590.1L91.4 589.3L91.7 588.2L92 587L92.3 585.6L92.7 583.7L93 581.1L93.3 577.2L93.6 570.8L94 562.2L94.3 570.8L94.6 577.2L94.9 581.1L95.2 583.7L95.6 585.6L95.9 587L96.2 588.2L96.5 589.3L96.9 590.1L97.2 590.9L97.5 591.6L97.8 592.1L98.2 592.7L98.5 593.1L98.8 593.5L99.1 593.9L99.5 594.2L99.8 594.5L100.1 594.7L100.4 595L100.8 595.2L101.1 595.4L101.4 595.6L101.7 595.7L102.1 595.9L102.4 596L102.7 596.1L103 596.2L103.4 596.3L103.7 596.4L104 596.5L104.3 596.6L104.6 596.7L105 596.8L105.3 596.8L105.6 596.9L105.9 596.9L106.3 597L106.6 597L106.9 597.1L107.2 597.1L107.6 597.2L107.9 597.2L108.2 597.3L108.5 597.3L108.9 597.3L109.2 597.4L109.5 597.4L109.8 597.4L110.2 597.4L110.5 597.5L110.8 597.5L111.1 597.5L111.5 597.5L111.8 597.6L112.1 597.6L112.4 597.6L112.8 597.6L113.1 597.6L113.4 597.7" stroke="#2ca02c" stroke-width="0.9" fill="none" stroke-linejoin="round"/>
<text x="145.3" y="556.2" font-size="5.2" text-anchor="middle">ATAC peaks</text>
<text x="145.3" y="561.9" font-size="5.3" text-anchor="middle">(MOL)</text>
<path d="M124.9 567.3V602.4H164.7" stroke="#333" stroke-width="0.5" fill="none"/>
<path d="M123.6 576H124.9" stroke="#333" stroke-width="0.4"/>
<text x="122.7" y="577.8" font-size="5.2" text-anchor="end" fill="#333">6</text>
<path d="M123.6 587H124.9" stroke="#333" stroke-width="0.4"/>
<text x="122.7" y="588.8" font-size="5.2" text-anchor="end" fill="#333">4</text>
<path d="M123.6 597.8H124.9" stroke="#333" stroke-width="0.4"/>
<text x="122.7" y="599.6" font-size="5.2" text-anchor="end" fill="#333">2</text>
<path d="M126.4 602.4v1.2" stroke="#333" stroke-width="0.4"/>
<text x="126.4" y="610.4" font-size="5.2" text-anchor="middle" fill="#333">-10</text>
<path d="M145.3 602.4v1.2" stroke="#333" stroke-width="0.4"/>
<text x="145.3" y="610.4" font-size="5.2" text-anchor="middle" fill="#333">0</text>
<path d="M164.2 602.4v1.2" stroke="#333" stroke-width="0.4"/>
<text x="164.2" y="610.4" font-size="5.2" text-anchor="middle" fill="#333">10</text>
<text x="145.3" y="619.2" font-size="5.3" text-anchor="middle">Distance (kb)</text>
<path d="M126.4 600.3L126.7 600.3L127 600.3L127.3 600.3L127.7 600.3L128 600.3L128.3 600.3L128.6 600.3L128.9 600.3L129.2 600.2L129.6 600.2L129.9 600.2L130.2 600.2L130.5 600.2L130.8 600.2L131.1 600.2L131.4 600.2L131.8 600.2L132.1 600.1L132.4 600.1L132.7 600.1L133 600.1L133.3 600.1L133.6 600.1L134 600L134.3 600L134.6 600L134.9 600L135.2 599.9L135.5 599.9L135.8 599.9L136.2 599.9L136.5 599.8L136.8 599.8L137.1 599.7L137.4 599.7L137.7 599.6L138.1 599.6L138.4 599.5L138.7 599.5L139 599.4L139.3 599.3L139.6 599.2L139.9 599.2L140.3 599.1L140.6 598.9L140.9 598.8L141.2 598.7L141.5 598.5L141.8 598.4L142.2 598.2L142.5 598L142.8 597.7L143.1 597.5L143.4 597.2L143.7 596.8L144 596.4L144.4 595.9L144.7 595.2L145 594.3L145.3 593.4L145.6 594.3L145.9 595.2L146.2 595.9L146.6 596.4L146.9 596.8L147.2 597.2L147.5 597.5L147.8 597.7L148.1 598L148.4 598.2L148.8 598.4L149.1 598.5L149.4 598.7L149.7 598.8L150 598.9L150.3 599.1L150.7 599.2L151 599.2L151.3 599.3L151.6 599.4L151.9 599.5L152.2 599.5L152.5 599.6L152.9 599.6L153.2 599.7L153.5 599.7L153.8 599.8L154.1 599.8L154.4 599.9L154.8 599.9L155.1 599.9L155.4 599.9L155.7 600L156 600L156.3 600L156.6 600L157 600.1L157.3 600.1L157.6 600.1L157.9 600.1L158.2 600.1L158.5 600.1L158.8 600.2L159.2 600.2L159.5 600.2L159.8 600.2L160.1 600.2L160.4 600.2L160.7 600.2L161 600.2L161.4 600.2L161.7 600.3L162 600.3L162.3 600.3L162.6 600.3L162.9 600.3L163.3 600.3L163.6 600.3L163.9 600.3L164.2 600.3" stroke="#f03030" stroke-width="0.9" fill="none" stroke-linejoin="round"/>
<path d="M126.4 592.8L126.7 592.8L127 592.7L127.3 592.7L127.7 592.7L128 592.7L128.3 592.7L128.6 592.6L128.9 592.6L129.2 592.6L129.6 592.6L129.9 592.5L130.2 592.5L130.5 592.5L130.8 592.4L131.1 592.4L131.4 592.3L131.8 592.3L132.1 592.3L132.4 592.2L132.7 592.2L133 592.1L133.3 592.1L133.6 592L134 591.9L134.3 591.9L134.6 591.8L134.9 591.7L135.2 591.7L135.5 591.6L135.8 591.5L136.2 591.4L136.5 591.3L136.8 591.1L137.1 591L137.4 590.9L137.7 590.7L138.1 590.6L138.4 590.4L138.7 590.2L139 590L139.3 589.7L139.6 589.5L139.9 589.2L140.3 588.9L140.6 588.5L140.9 588.1L141.2 587.7L141.5 587.2L141.8 586.7L142.2 586.1L142.5 585.4L142.8 584.6L143.1 583.8L143.4 582.8L143.7 581.6L144 580.1L144.4 578.2L144.7 575.6L145 571.7L145.3 567.3L145.6 571.7L145.9 575.6L146.2 578.2L146.6 580.1L146.9 581.6L147.2 582.8L147.5 583.8L147.8 584.6L148.1 585.4L148.4 586.1L148.8 586.7L149.1 587.2L149.4 587.7L149.7 588.1L150 588.5L150.3 588.9L150.7 589.2L151 589.5L151.3 589.7L151.6 590L151.9 590.2L152.2 590.4L152.5 590.6L152.9 590.7L153.2 590.9L153.5 591L153.8 591.1L154.1 591.3L154.4 591.4L154.8 591.5L155.1 591.6L155.4 591.7L155.7 591.7L156 591.8L156.3 591.9L156.6 591.9L157 592L157.3 592.1L157.6 592.1L157.9 592.2L158.2 592.2L158.5 592.3L158.8 592.3L159.2 592.3L159.5 592.4L159.8 592.4L160.1 592.5L160.4 592.5L160.7 592.5L161 592.6L161.4 592.6L161.7 592.6L162 592.6L162.3 592.7L162.6 592.7L162.9 592.7L163.3 592.7L163.6 592.7L163.9 592.8L164.2 592.8" stroke="#2ca02c" stroke-width="0.9" fill="none" stroke-linejoin="round"/>
<text x="195.9" y="556.2" font-size="5.2" text-anchor="middle">H3K27ac peaks</text>
<text x="195.9" y="561.9" font-size="5.3" text-anchor="middle">(brain MOLs—ref. 32)</text>
<path d="M174.6 567.3V602.4H216.2" stroke="#333" stroke-width="0.5" fill="none"/>
<path d="M173.3 569.6H174.6" stroke="#333" stroke-width="0.4"/>
<text x="172.4" y="571.4" font-size="5.2" text-anchor="end" fill="#333">10</text>
<path d="M173.3 576.6H174.6" stroke="#333" stroke-width="0.4"/>
<text x="172.4" y="578.4" font-size="5.2" text-anchor="end" fill="#333">8</text>
<path d="M173.3 583.6H174.6" stroke="#333" stroke-width="0.4"/>
<text x="172.4" y="585.4" font-size="5.2" text-anchor="end" fill="#333">6</text>
<path d="M173.3 590.6H174.6" stroke="#333" stroke-width="0.4"/>
<text x="172.4" y="592.4" font-size="5.2" text-anchor="end" fill="#333">4</text>
<path d="M173.3 597.6H174.6" stroke="#333" stroke-width="0.4"/>
<text x="172.4" y="599.4" font-size="5.2" text-anchor="end" fill="#333">2</text>
<path d="M176.1 602.4v1.2" stroke="#333" stroke-width="0.4"/>
<text x="176.1" y="610.4" font-size="5.2" text-anchor="middle" fill="#333">-10</text>
<path d="M195.9 602.4v1.2" stroke="#333" stroke-width="0.4"/>
<text x="195.9" y="610.4" font-size="5.2" text-anchor="middle" fill="#333">0</text>
<path d="M215.7 602.4v1.2" stroke="#333" stroke-width="0.4"/>
<text x="215.7" y="610.4" font-size="5.2" text-anchor="middle" fill="#333">10</text>
<text x="195.9" y="619.2" font-size="5.3" text-anchor="middle">Distance (kb)</text>
<path d="M176.1 599.2L176.4 599.2L176.8 599.2L177.1 599.2L177.4 599.1L177.8 599.1L178.1 599.1L178.4 599.1L178.7 599.1L179.1 599.1L179.4 599.1L179.7 599.1L180.1 599.1L180.4 599.1L180.7 599.1L181 599.1L181.4 599.1L181.7 599L182 599L182.4 599L182.7 599L183 599L183.4 599L183.7 599L184 599L184.3 598.9L184.7 598.9L185 598.9L185.3 598.9L185.7 598.9L186 598.8L186.3 598.8L186.7 598.8L187 598.8L187.3 598.7L187.7 598.7L188 598.7L188.3 598.6L188.6 598.6L189 598.5L189.3 598.5L189.6 598.4L190 598.4L190.3 598.3L190.6 598.3L190.9 598.2L191.3 598.1L191.6 598L191.9 597.9L192.3 597.8L192.6 597.7L192.9 597.6L193.3 597.5L193.6 597.3L193.9 597.2L194.2 597L194.6 596.8L194.9 596.5L195.2 596.3L195.6 595.9L195.9 595.7L196.2 595.9L196.6 596.3L196.9 596.5L197.2 596.8L197.5 597L197.9 597.2L198.2 597.3L198.5 597.5L198.9 597.6L199.2 597.7L199.5 597.8L199.9 597.9L200.2 598L200.5 598.1L200.8 598.2L201.2 598.3L201.5 598.3L201.8 598.4L202.2 598.4L202.5 598.5L202.8 598.5L203.2 598.6L203.5 598.6L203.8 598.7L204.1 598.7L204.5 598.7L204.8 598.8L205.1 598.8L205.5 598.8L205.8 598.8L206.1 598.9L206.5 598.9L206.8 598.9L207.1 598.9L207.4 598.9L207.8 599L208.1 599L208.4 599L208.8 599L209.1 599L209.4 599L209.8 599L210.1 599L210.4 599.1L210.8 599.1L211.1 599.1L211.4 599.1L211.7 599.1L212.1 599.1L212.4 599.1L212.7 599.1L213.1 599.1L213.4 599.1L213.7 599.1L214 599.1L214.4 599.1L214.7 599.2L215 599.2L215.4 599.2L215.7 599.2" stroke="#f03030" stroke-width="0.9" fill="none" stroke-linejoin="round"/>
<path d="M176.1 588.9L176.4 588.8L176.8 588.8L177.1 588.7L177.4 588.7L177.8 588.6L178.1 588.6L178.4 588.5L178.7 588.5L179.1 588.4L179.4 588.3L179.7 588.3L180.1 588.2L180.4 588.1L180.7 588L181 587.9L181.4 587.8L181.7 587.8L182 587.7L182.4 587.6L182.7 587.4L183 587.3L183.4 587.2L183.7 587.1L184 586.9L184.3 586.8L184.7 586.7L185 586.5L185.3 586.3L185.7 586.2L186 586L186.3 585.8L186.7 585.6L187 585.3L187.3 585.1L187.7 584.8L188 584.6L188.3 584.3L188.6 584L189 583.7L189.3 583.3L189.6 583L190 582.6L190.3 582.2L190.6 581.7L190.9 581.3L191.3 580.8L191.6 580.3L191.9 579.7L192.3 579.2L192.6 578.6L192.9 577.9L193.3 577.2L193.6 576.5L193.9 575.7L194.2 574.8L194.6 573.8L194.9 572.7L195.2 571.3L195.6 569.8L195.9 568.6L196.2 569.8L196.6 571.3L196.9 572.7L197.2 573.8L197.5 574.8L197.9 575.7L198.2 576.5L198.5 577.2L198.9 577.9L199.2 578.6L199.5 579.2L199.9 579.7L200.2 580.3L200.5 580.8L200.8 581.3L201.2 581.7L201.5 582.2L201.8 582.6L202.2 583L202.5 583.3L202.8 583.7L203.2 584L203.5 584.3L203.8 584.6L204.1 584.8L204.5 585.1L204.8 585.3L205.1 585.6L205.5 585.8L205.8 586L206.1 586.2L206.5 586.3L206.8 586.5L207.1 586.7L207.4 586.8L207.8 586.9L208.1 587.1L208.4 587.2L208.8 587.3L209.1 587.4L209.4 587.6L209.8 587.7L210.1 587.8L210.4 587.8L210.8 587.9L211.1 588L211.4 588.1L211.7 588.2L212.1 588.3L212.4 588.3L212.7 588.4L213.1 588.5L213.4 588.5L213.7 588.6L214 588.6L214.4 588.7L214.7 588.7L215 588.8L215.4 588.8L215.7 588.9" stroke="#2ca02c" stroke-width="0.9" fill="none" stroke-linejoin="round"/>
<text x="7.5" y="584" font-size="5.3" text-anchor="middle" transform="rotate(-90 7.5 584)">Norm. signal</text>
<rect x="219" y="572.7" width="3.8" height="3.6" fill="#1a8a1a"/>
<rect x="219" y="579.5" width="3.8" height="3.6" fill="#ee1111"/>
<text x="227" y="576.4" font-size="5.2">H3K27ac</text>
<text x="227" y="583.2" font-size="5.2">H3K27me3</text>
<defs><linearGradient id="hb00" x1="0" y1="0" x2="0" y2="1"><stop offset="0" stop-color="#3030e0"/><stop offset="0.4" stop-color="#2020b8"/><stop offset="1" stop-color="#1c1c8a"/></linearGradient><linearGradient id="hw00" x1="0" y1="0" x2="0" y2="1"><stop offset="0" stop-color="#fff" stop-opacity="0.55"/><stop offset="0.027" stop-color="#fff" stop-opacity="0.30"/><stop offset="0.060" stop-color="#fff" stop-opacity="0"/></linearGradient><linearGradient id="hf00" x1="0" y1="0" x2="0" y2="1"><stop offset="0" stop-color="#fff" stop-opacity="0.95"/><stop offset="0.6" stop-color="#fff" stop-opacity="0.75"/><stop offset="1" stop-color="#fff" stop-opacity="0.25"/></linearGradient><linearGradient id="hr00" x1="0" y1="0" x2="0" y2="1"><stop offset="0" stop-color="#c00808"/><stop offset="0.6" stop-color="#e42222"/><stop offset="1" stop-color="#f07070" stop-opacity="0.5"/></linearGradient></defs><rect x="24.7" y="629.2" width="38.9" height="53.7" fill="url(#hb00)"/><rect x="24.7" y="629.2" width="38.9" height="53.7" fill="url(#hw00)"/><path d="M42.2 629.2C43.5 631.2 42.5 635.2 43.2 642.6L43.8 656L44.5 656L45 642.6C45.8 635.2 44.8 631.2 46.1 629.2Z" fill="url(#hf00)" filter="url(#blur1)" opacity="0.7"/><path d="M43.3 629.2C43.8 633.2 42.9 637.3 43.4 645.3L43.8 656L44.5 656L44.9 645.3C45.4 637.3 44.5 633.2 45 629.2Z" fill="url(#hf00)" filter="url(#blur05)"/><path d="M42.5 629.2L45.8 629.2C44.8 630.9 44.6 633.5 44.4 637.8L43.9 637.8C43.6 633.5 43.5 630.9 42.5 629.2Z" fill="url(#hr00)" filter="url(#blur05)"/><rect x="24.7" y="629.2" width="38.9" height="53.7" fill="url(#gtex)" mask="url(#gmask)"/><path d="M44.1 629.2V682.9" stroke="#8a8af8" stroke-width="0.9" opacity="0.55"/><rect x="24.7" y="629.2" width="38.9" height="53.7" fill="none" stroke="#444" stroke-width="0.5"/>
<text x="25" y="691.1" font-size="5.4" fill="#333">-10.0</text>
<text x="64.4" y="691.1" font-size="5.4" text-anchor="end" fill="#333">10.0 kb</text>
<path d="M24.7 682.9v1.3M44.1 682.9v1.3M63.6 682.9v1.3" stroke="#333" stroke-width="0.4"/>
<defs><linearGradient id="hb01" x1="0" y1="0" x2="0" y2="1"><stop offset="0" stop-color="#3a3af0"/><stop offset="0.4" stop-color="#2222c8"/><stop offset="1" stop-color="#1c1c8c"/></linearGradient><linearGradient id="hw01" x1="0" y1="0" x2="0" y2="1"><stop offset="0" stop-color="#fff" stop-opacity="0.9"/><stop offset="0.072" stop-color="#fff" stop-opacity="0.50"/><stop offset="0.160" stop-color="#fff" stop-opacity="0"/></linearGradient><linearGradient id="hf01" x1="0" y1="0" x2="0" y2="1"><stop offset="0" stop-color="#fff" stop-opacity="0.95"/><stop offset="0.6" stop-color="#fff" stop-opacity="0.75"/><stop offset="1" stop-color="#fff" stop-opacity="0.25"/></linearGradient><linearGradient id="hr01" x1="0" y1="0" x2="0" y2="1"><stop offset="0" stop-color="#c00808"/><stop offset="0.6" stop-color="#e42222"/><stop offset="1" stop-color="#f07070" stop-opacity="0.5"/></linearGradient></defs><rect x="75.5" y="629.2" width="38.7" height="53.7" fill="url(#hb01)"/><rect x="75.5" y="629.2" width="38.7" height="53.7" fill="url(#hw01)"/><path d="M89.4 629.2C93 632 93.2 637.7 93.9 648L94.5 682.9L95.2 682.9L95.8 648C96.4 637.7 96.7 632 100.3 629.2Z" fill="url(#hf01)" filter="url(#blur1)" opacity="0.7"/><path d="M92.4 629.2C93.9 634.8 93.5 640.5 94 651.8L94.4 682.9L95.2 682.9L95.6 651.8C96.1 640.5 95.8 634.8 97.3 629.2Z" fill="url(#hf01)" filter="url(#blur05)"/><path d="M92.6 629.2L97 629.2C95.7 636.7 95.3 648 95 666.8L94.6 666.8C94.3 648 94 636.7 92.6 629.2Z" fill="url(#hr01)" filter="url(#blur05)"/><defs><linearGradient id="hbd01" x1="0" y1="0" x2="0" y2="1"><stop offset="0" stop-color="#e02828"/><stop offset="1" stop-color="#f5b0b0" stop-opacity="0"/></linearGradient></defs><rect x="75.5" y="629.2" width="38.7" height="1.6" fill="url(#hbd01)"/><rect x="75.5" y="629.2" width="38.7" height="53.7" fill="url(#gtex)" mask="url(#gmask)"/><path d="M94.8 629.2V682.9" stroke="#8a8af8" stroke-width="0.9" opacity="0.55"/><rect x="75.5" y="629.2" width="38.7" height="53.7" fill="none" stroke="#444" stroke-width="0.5"/>
<text x="75.8" y="691.1" font-size="5.4" fill="#333">-10.0</text>
<text x="115" y="691.1" font-size="5.4" text-anchor="end" fill="#333">10.0 kb</text>
<path d="M75.5 682.9v1.3M94.8 682.9v1.3M114.2 682.9v1.3" stroke="#333" stroke-width="0.4"/>
<defs><linearGradient id="hb02" x1="0" y1="0" x2="0" y2="1"><stop offset="0" stop-color="#3a3af0"/><stop offset="0.4" stop-color="#2424cc"/><stop offset="1" stop-color="#1c1c8e"/></linearGradient><linearGradient id="hw02" x1="0" y1="0" x2="0" y2="1"><stop offset="0" stop-color="#fff" stop-opacity="0.95"/><stop offset="0.135" stop-color="#fff" stop-opacity="0.52"/><stop offset="0.300" stop-color="#fff" stop-opacity="0"/></linearGradient><linearGradient id="hf02" x1="0" y1="0" x2="0" y2="1"><stop offset="0" stop-color="#fff" stop-opacity="0.95"/><stop offset="0.6" stop-color="#fff" stop-opacity="0.75"/><stop offset="1" stop-color="#fff" stop-opacity="0.25"/></linearGradient><linearGradient id="hr02" x1="0" y1="0" x2="0" y2="1"><stop offset="0" stop-color="#c00808"/><stop offset="0.6" stop-color="#e42222"/><stop offset="1" stop-color="#f07070" stop-opacity="0.5"/></linearGradient></defs><rect x="126.5" y="629.2" width="38.2" height="53.7" fill="url(#hb02)"/><rect x="126.5" y="629.2" width="38.2" height="53.7" fill="url(#hw02)"/><path d="M138.9 629.2C143.3 632.4 144 638.9 144.7 650.7L145.2 667.9L145.9 667.9L146.5 650.7C147.2 638.9 147.9 632.4 152.3 629.2Z" fill="url(#hf02)" filter="url(#blur1)" opacity="0.7"/><path d="M142.6 629.2C144.4 635.6 144.3 642.1 144.8 655L145.2 667.9L146 667.9L146.4 655C146.9 642.1 146.8 635.6 148.6 629.2Z" fill="url(#hf02)" filter="url(#blur05)"/><path d="M143.2 629.2L148 629.2C146.6 632.4 146.1 637.3 145.8 645.3L145.4 645.3C145.1 637.3 144.6 632.4 143.2 629.2Z" fill="url(#hr02)" filter="url(#blur05)"/><defs><linearGradient id="hbd02" x1="0" y1="0" x2="0" y2="1"><stop offset="0" stop-color="#e02828"/><stop offset="1" stop-color="#f5b0b0" stop-opacity="0"/></linearGradient></defs><rect x="126.5" y="629.2" width="38.2" height="4.8" fill="url(#hbd02)"/><rect x="126.5" y="629.2" width="38.2" height="53.7" fill="url(#gtex)" mask="url(#gmask)"/><path d="M145.6 629.2V682.9" stroke="#8a8af8" stroke-width="0.9" opacity="0.55"/><rect x="126.5" y="629.2" width="38.2" height="53.7" fill="none" stroke="#444" stroke-width="0.5"/>
<text x="126.8" y="691.1" font-size="5.4" fill="#333">-10.0</text>
<text x="165.5" y="691.1" font-size="5.4" text-anchor="end" fill="#333">10.0 kb</text>
<path d="M126.5 682.9v1.3M145.6 682.9v1.3M164.7 682.9v1.3" stroke="#333" stroke-width="0.4"/>
<defs><linearGradient id="hb03" x1="0" y1="0" x2="0" y2="1"><stop offset="0" stop-color="#3c3cf0"/><stop offset="0.4" stop-color="#2626cc"/><stop offset="1" stop-color="#1c1c8e"/></linearGradient><linearGradient id="hw03" x1="0" y1="0" x2="0" y2="1"><stop offset="0" stop-color="#fff" stop-opacity="0.95"/><stop offset="0.207" stop-color="#fff" stop-opacity="0.52"/><stop offset="0.460" stop-color="#fff" stop-opacity="0"/></linearGradient><linearGradient id="hf03" x1="0" y1="0" x2="0" y2="1"><stop offset="0" stop-color="#fff" stop-opacity="0.95"/><stop offset="0.6" stop-color="#fff" stop-opacity="0.75"/><stop offset="1" stop-color="#fff" stop-opacity="0.25"/></linearGradient><linearGradient id="hr03" x1="0" y1="0" x2="0" y2="1"><stop offset="0" stop-color="#c00808"/><stop offset="0.6" stop-color="#e42222"/><stop offset="1" stop-color="#f07070" stop-opacity="0.5"/></linearGradient></defs><rect x="176.4" y="629.2" width="38" height="53.7" fill="url(#hb03)"/><rect x="176.4" y="629.2" width="38" height="53.7" fill="url(#hw03)"/><path d="M184 629.2C191.4 634.8 193.8 646.1 194.5 666.8L195.1 681.3L195.8 681.3L196.3 666.8C197 646.1 199.4 634.8 206.8 629.2Z" fill="url(#hf03)" filter="url(#blur1)" opacity="0.7"/><path d="M190.3 629.2C193.3 640.5 194.1 651.8 194.6 674.3L195 681.3L195.8 681.3L196.2 674.3C196.7 651.8 197.5 640.5 200.5 629.2Z" fill="url(#hf03)" filter="url(#blur05)"/><path d="M193.2 629.2L197.6 629.2C196.3 631.9 195.9 635.9 195.6 642.6L195.2 642.6C194.9 635.9 194.5 631.9 193.2 629.2Z" fill="url(#hr03)" filter="url(#blur05)"/><defs><linearGradient id="hbd03" x1="0" y1="0" x2="0" y2="1"><stop offset="0" stop-color="#e02828"/><stop offset="1" stop-color="#f5b0b0" stop-opacity="0"/></linearGradient></defs><rect x="176.4" y="629.2" width="38" height="4.3" fill="url(#hbd03)"/><rect x="176.4" y="629.2" width="38" height="53.7" fill="url(#gtex)" mask="url(#gmask)"/><path d="M195.4 629.2V682.9" stroke="#8a8af8" stroke-width="0.9" opacity="0.55"/><rect x="176.4" y="629.2" width="38" height="53.7" fill="none" stroke="#444" stroke-width="0.5"/>
<text x="176.7" y="691.1" font-size="5.4" fill="#333">-10.0</text>
<text x="215.2" y="691.1" font-size="5.4" text-anchor="end" fill="#333">10.0 kb</text>
<path d="M176.4 682.9v1.3M195.4 682.9v1.3M214.4 682.9v1.3" stroke="#333" stroke-width="0.4"/>
<defs><linearGradient id="hb10" x1="0" y1="0" x2="0" y2="1"><stop offset="0" stop-color="#3a3af0"/><stop offset="0.4" stop-color="#2222c8"/><stop offset="1" stop-color="#1c1c8c"/></linearGradient><linearGradient id="hw10" x1="0" y1="0" x2="0" y2="1"><stop offset="0" stop-color="#fff" stop-opacity="0.9"/><stop offset="0.108" stop-color="#fff" stop-opacity="0.50"/><stop offset="0.240" stop-color="#fff" stop-opacity="0"/></linearGradient><linearGradient id="hf10" x1="0" y1="0" x2="0" y2="1"><stop offset="0" stop-color="#fff" stop-opacity="0.95"/><stop offset="0.6" stop-color="#fff" stop-opacity="0.75"/><stop offset="1" stop-color="#fff" stop-opacity="0.25"/></linearGradient><linearGradient id="hr10" x1="0" y1="0" x2="0" y2="1"><stop offset="0" stop-color="#c00808"/><stop offset="0.6" stop-color="#e42222"/><stop offset="1" stop-color="#f07070" stop-opacity="0.5"/></linearGradient></defs><rect x="24.7" y="696.2" width="38.9" height="53.7" fill="url(#hb10)"/><rect x="24.7" y="696.2" width="38.9" height="53.7" fill="url(#hw10)"/><path d="M36.4 696.2C41.4 699.8 42.5 707.1 43.2 720.4L43.8 749.9L44.5 749.9L45 720.4C45.8 707.1 46.9 699.8 51.9 696.2Z" fill="url(#hf10)" filter="url(#blur1)" opacity="0.7"/><path d="M40.6 696.2C42.7 703.4 42.9 710.7 43.4 725.2L43.8 749.9L44.5 749.9L44.9 725.2C45.4 710.7 45.6 703.4 47.7 696.2Z" fill="url(#hf10)" filter="url(#blur05)"/><path d="M41.8 696.2L46.5 696.2C45.1 700.3 44.6 706.4 44.4 716.6L43.9 716.6C43.6 706.4 43.2 700.3 41.8 696.2Z" fill="url(#hr10)" filter="url(#blur05)"/><defs><linearGradient id="hbd10" x1="0" y1="0" x2="0" y2="1"><stop offset="0" stop-color="#e02828"/><stop offset="1" stop-color="#f5b0b0" stop-opacity="0"/></linearGradient></defs><rect x="24.7" y="696.2" width="38.9" height="3.2" fill="url(#hbd10)"/><rect x="24.7" y="696.2" width="38.9" height="53.7" fill="url(#gtex)" mask="url(#gmask)"/><path d="M44.1 696.2V749.9" stroke="#6a6af4" stroke-width="0.9" opacity="0.55"/><rect x="24.7" y="696.2" width="38.9" height="53.7" fill="none" stroke="#444" stroke-width="0.5"/>
<text x="25" y="758.1" font-size="5.4" fill="#333">-10.0</text>
<text x="64.4" y="758.1" font-size="5.4" text-anchor="end" fill="#333">10.0 kb</text>
<path d="M24.7 749.9v1.3M44.1 749.9v1.3M63.6 749.9v1.3" stroke="#333" stroke-width="0.4"/>
<defs><linearGradient id="hb11" x1="0" y1="0" x2="0" y2="1"><stop offset="0" stop-color="#2c2cd0"/><stop offset="0.4" stop-color="#2222b4"/><stop offset="1" stop-color="#1c1c90"/></linearGradient></defs><rect x="75.5" y="696.2" width="38.7" height="53.7" fill="url(#hb11)"/><rect x="75.5" y="696.2" width="38.7" height="53.7" fill="url(#gtex)" mask="url(#gmask)"/><path d="M94.8 696.2V749.9" stroke="#6a6af4" stroke-width="0.9" opacity="0.55"/><rect x="75.5" y="696.2" width="38.7" height="53.7" fill="none" stroke="#444" stroke-width="0.5"/>
<text x="75.8" y="758.1" font-size="5.4" fill="#333">-10.0</text>
<text x="115" y="758.1" font-size="5.4" text-anchor="end" fill="#333">10.0 kb</text>
<path d="M75.5 749.9v1.3M94.8 749.9v1.3M114.2 749.9v1.3" stroke="#333" stroke-width="0.4"/>
<defs><linearGradient id="hb12" x1="0" y1="0" x2="0" y2="1"><stop offset="0" stop-color="#3030d8"/><stop offset="0.4" stop-color="#2424b8"/><stop offset="1" stop-color="#1c1c90"/></linearGradient><linearGradient id="hw12" x1="0" y1="0" x2="0" y2="1"><stop offset="0" stop-color="#fff" stop-opacity="0.6"/><stop offset="0.009" stop-color="#fff" stop-opacity="0.33"/><stop offset="0.020" stop-color="#fff" stop-opacity="0"/></linearGradient></defs><rect x="126.5" y="696.2" width="38.2" height="53.7" fill="url(#hb12)"/><rect x="126.5" y="696.2" width="38.2" height="53.7" fill="url(#hw12)"/><path d="M126.5 696.2Q145.6 698.4 164.7 696.2Z" fill="#d09090" opacity="0.8"/><rect x="126.5" y="696.2" width="38.2" height="53.7" fill="url(#gtex)" mask="url(#gmask)"/><path d="M145.6 696.2V749.9" stroke="#6a6af4" stroke-width="0.9" opacity="0.55"/><rect x="126.5" y="696.2" width="38.2" height="53.7" fill="none" stroke="#444" stroke-width="0.5"/>
<text x="126.8" y="758.1" font-size="5.4" fill="#333">-10.0</text>
<text x="165.5" y="758.1" font-size="5.4" text-anchor="end" fill="#333">10.0 kb</text>
<path d="M126.5 749.9v1.3M145.6 749.9v1.3M164.7 749.9v1.3" stroke="#333" stroke-width="0.4"/>
<defs><linearGradient id="hb13" x1="0" y1="0" x2="0" y2="1"><stop offset="0" stop-color="#2222b0"/><stop offset="0.4" stop-color="#1e1ea0"/><stop offset="1" stop-color="#1c1c8c"/></linearGradient></defs><rect x="176.4" y="696.2" width="38" height="53.7" fill="url(#hb13)"/><rect x="176.4" y="696.2" width="38" height="53.7" fill="url(#gtex)" mask="url(#gmask)"/><path d="M195.4 696.2V749.9" stroke="#6a6af4" stroke-width="0.9" opacity="0.55"/><rect x="176.4" y="696.2" width="38" height="53.7" fill="none" stroke="#444" stroke-width="0.5"/>
<text x="176.7" y="758.1" font-size="5.4" fill="#333">-10.0</text>
<text x="215.2" y="758.1" font-size="5.4" text-anchor="end" fill="#333">10.0 kb</text>
<path d="M176.4 749.9v1.3M195.4 749.9v1.3M214.4 749.9v1.3" stroke="#333" stroke-width="0.4"/>
<text x="15.8" y="657" font-size="5.3" text-anchor="middle" transform="rotate(-90 15.8 657)">H3K27ac signal (MOL)</text>
<text x="15.8" y="723.5" font-size="5.3" text-anchor="middle" transform="rotate(-90 15.8 723.5)">H3K27me3 signal (MOL)</text>
<rect x="31.3" y="763.8" width="26.6" height="3" fill="url(#bwr)"/>
<text x="27.5" y="767" font-size="5.2" fill="#333">0</text>
<text x="58.5" y="767" font-size="5.2" fill="#333">25</text>
<text x="45.1" y="774" font-size="6.7" text-anchor="middle">Norm. signal</text>
<rect x="80" y="763.8" width="26.3" height="3" fill="url(#bwr)"/>
<text x="76.9" y="767" font-size="5.2" fill="#333">0</text>
<text x="106.9" y="767" font-size="5.2" fill="#333">16</text>
<text x="93.7" y="774" font-size="6.7" text-anchor="middle">Norm. signal</text>
<rect x="132.8" y="763.8" width="26.2" height="3" fill="url(#bwr)"/>
<text x="129" y="767" font-size="5.2" fill="#333">0</text>
<text x="159.6" y="767" font-size="5.2" fill="#333">16</text>
<text x="146.4" y="774" font-size="6.7" text-anchor="middle">Norm. signal</text>
<rect x="180.2" y="763.8" width="25.6" height="3" fill="url(#bwr)"/>
<text x="176.8" y="767" font-size="5.2" fill="#333">0</text>
<text x="206.4" y="767" font-size="5.2" fill="#333">20</text>
<text x="193.5" y="774" font-size="6.7" text-anchor="middle">Norm. signal</text>
<text x="258.8" y="556.2" font-size="13.5" font-weight="bold" fill="#000" stroke="#000" stroke-width="0.55">h</text>
<text x="345" y="560.4" font-size="6.9" text-anchor="middle">Norm. signal</text>
<defs><linearGradient id="vir" x1="0" y1="0" x2="1" y2="0"><stop offset="0.0" stop-color="rgb(68, 1, 84)"/><stop offset="0.1" stop-color="rgb(72, 35, 116)"/><stop offset="0.2" stop-color="rgb(64, 67, 135)"/><stop offset="0.3" stop-color="rgb(52, 94, 141)"/><stop offset="0.4" stop-color="rgb(41, 120, 142)"/><stop offset="0.5" stop-color="rgb(32, 144, 140)"/><stop offset="0.6" stop-color="rgb(34, 167, 132)"/><stop offset="0.7" stop-color="rgb(68, 190, 112)"/><stop offset="0.8" stop-color="rgb(121, 209, 81)"/><stop offset="0.9" stop-color="rgb(189, 222, 38)"/><stop offset="1.0" stop-color="rgb(253, 231, 37)"/></linearGradient></defs>
<rect x="315" y="564.1" width="59.2" height="5.3" fill="url(#vir)" stroke="#444" stroke-width="0.3"/>
<text x="313.8" y="568.4" font-size="4.6" text-anchor="end">Min</text>
<text x="375.2" y="568.4" font-size="4.6">Max</text>
<text x="278.8" y="578" font-size="6.7" text-anchor="end" fill="#e8202a">MIGL</text>
<path d="M280 575.6h3" stroke="#333" stroke-width="0.5"/>
<text x="278.8" y="584.7" font-size="6.7" text-anchor="end" fill="#e8202a">CXEX</text>
<path d="M280 582.3h3" stroke="#333" stroke-width="0.5"/>
<text x="278.8" y="591.4" font-size="6.7" text-anchor="end" fill="#e8202a">CXINH</text>
<path d="M280 589h3" stroke="#333" stroke-width="0.5"/>
<text x="278.8" y="598.1" font-size="6.7" text-anchor="end" fill="#e8202a">OPC</text>
<path d="M280 595.7h3" stroke="#333" stroke-width="0.5"/>
<text x="278.8" y="604.7" font-size="6.7" text-anchor="end" fill="#e8202a">AST</text>
<path d="M280 602.3h3" stroke="#333" stroke-width="0.5"/>
<text x="278.8" y="611.4" font-size="6.7" text-anchor="end" fill="#e8202a">MOL</text>
<path d="M280 609h3" stroke="#333" stroke-width="0.5"/>
<text x="278.8" y="618.1" font-size="6.7" text-anchor="end" fill="#22a045">CXEX</text>
<path d="M280 615.7h3" stroke="#333" stroke-width="0.5"/>
<text x="278.8" y="624.7" font-size="6.7" text-anchor="end" fill="#22a045">CXINH</text>
<path d="M280 622.3h3" stroke="#333" stroke-width="0.5"/>
<text x="278.8" y="631.4" font-size="6.7" text-anchor="end" fill="#22a045">OPC</text>
<path d="M280 629h3" stroke="#333" stroke-width="0.5"/>
<text x="278.8" y="638.1" font-size="6.7" text-anchor="end" fill="#22a045">AST</text>
<path d="M280 635.7h3" stroke="#333" stroke-width="0.5"/>
<text x="278.8" y="644.8" font-size="6.7" text-anchor="end" fill="#22a045">MOL</text>
<path d="M280 642.4h3" stroke="#333" stroke-width="0.5"/>
<text x="278.8" y="651.4" font-size="6.7" text-anchor="end" fill="#3579c4">MIGL</text>
<path d="M280 649h3" stroke="#333" stroke-width="0.5"/>
<text x="278.8" y="658.1" font-size="6.7" text-anchor="end" fill="#22a045">MIGL</text>
<path d="M280 655.7h3" stroke="#333" stroke-width="0.5"/>
<text x="278.8" y="664.8" font-size="6.7" text-anchor="end" fill="#3579c4">CXEX</text>
<path d="M280 662.4h3" stroke="#333" stroke-width="0.5"/>
<text x="278.8" y="671.4" font-size="6.7" text-anchor="end" fill="#3579c4">CXINH</text>
<path d="M280 669h3" stroke="#333" stroke-width="0.5"/>
<text x="278.8" y="678.1" font-size="6.7" text-anchor="end" fill="#3579c4">MOL</text>
<path d="M280 675.7h3" stroke="#333" stroke-width="0.5"/>
<text x="278.8" y="684.8" font-size="6.7" text-anchor="end" fill="#3579c4">AST</text>
<path d="M280 682.4h3" stroke="#333" stroke-width="0.5"/>
<text x="278.8" y="691.5" font-size="6.7" text-anchor="end" fill="#3579c4">OPC</text>
<path d="M280 689.1h3" stroke="#333" stroke-width="0.5"/>
<rect x="284.6" y="572.3" width="381.8" height="120.1" fill="#46116a"/>
<path d="M288.1 575.6h1.7m3.5 0h5.2m6.9 0h3.5m12.1 0h5.2m29.5 0h3.5m5.2 0h1.7m26 0h8.7m13.9 0h1.7m8.7 0h1.7m12.1 0h1.7m1.7 0h1.7m6.9 0h1.7m6.9 0h1.7m1.7 0h1.7m3.5 0h1.7m10.4 0h1.7m1.7 0h1.7m6.9 0h3.5m1.7 0h1.7m5.2 0h3.5m6.9 0h1.7M293.3 582.3h3.5m8.7 0h1.7m8.7 0h5.2m1.7 0h3.5m8.7 0h3.5m24.3 0h3.5m24.3 0h5.2m5.2 0h1.7m12.1 0h1.7m1.7 0h1.7m6.9 0h1.7m10.4 0h1.7m3.5 0h1.7m13.9 0h1.7m1.7 0h1.7m3.5 0h1.7m3.5 0h1.7m1.7 0h1.7m1.7 0h1.7m1.7 0h1.7m3.5 0h1.7m5.2 0h1.7m1.7 0h1.7m6.9 0h1.7m6.9 0h1.7M288.1 589h1.7m1.7 0h3.5m1.7 0h1.7m17.4 0h1.7m1.7 0h1.7m1.7 0h1.7m5.2 0h1.7m3.5 0h1.7m3.5 0h1.7m6.9 0h1.7m3.5 0h1.7m8.7 0h1.7m26 0h10.4m6.9 0h5.2m1.7 0h1.7m5.2 0h1.7m3.5 0h1.7m3.5 0h1.7m10.4 0h1.7m1.7 0h3.5m10.4 0h1.7m12.1 0h1.7m1.7 0h1.7m1.7 0h1.7m8.7 0h1.7m3.5 0h1.7m3.5 0h6.9m3.5 0h1.7m147.5 0h1.7M288.1 595.7h1.7m5.2 0h1.7m8.7 0h1.7m3.5 0h1.7m3.5 0h3.5m17.4 0h1.7m1.7 0h1.7m6.9 0h1.7m5.2 0h1.7m5.2 0h3.5m24.3 0h5.2m8.7 0h1.7m5.2 0h1.7m1.7 0h1.7m10.4 0h3.5m8.7 0h1.7m8.7 0h1.7m8.7 0h1.7m1.7 0h1.7m12.1 0h1.7m5.2 0h1.7m12.1 0h1.7m8.7 0h1.7m5.2 0h1.7M288.1 602.3h3.5m3.5 0h1.7m8.7 0h1.7m3.5 0h1.7m3.5 0h1.7m5.2 0h1.7m10.4 0h3.5m12.1 0h1.7m1.7 0h3.5m5.2 0h3.5m22.6 0h3.5m3.5 0h5.2m1.7 0h1.7m6.9 0h1.7m1.7 0h1.7m6.9 0h5.2m5.2 0h1.7m5.2 0h1.7m17.4 0h1.7m1.7 0h1.7m3.5 0h1.7m1.7 0h3.5m1.7 0h5.2m6.9 0h1.7m1.7 0h3.5m8.7 0h3.5m6.9 0h1.7M288.1 609h1.7m17.4 0h1.7m5.2 0h5.2m3.5 0h1.7m8.7 0h3.5m19.1 0h1.7m6.9 0h1.7m26 0h5.2m3.5 0h1.7m12.1 0h1.7m12.1 0h1.7m3.5 0h1.7m3.5 0h1.7m5.2 0h1.7m5.2 0h1.7m5.2 0h1.7m1.7 0h1.7m6.9 0h1.7m3.5 0h5.2m3.5 0h1.7m6.9 0h1.7m12.1 0h1.7m5.2 0h1.7M286.3 615.7h1.7m12.1 0h1.7m41.7 0h1.7m6.9 0h1.7m192.6 0h1.7M286.3 622.3h1.7m55.5 0h1.7m225.6 0h1.7m10.4 0h1.7M334.9 629h1.7m3.5 0h1.7M286.3 635.7h3.5m3.5 0h1.7m45.1 0h1.7m1.7 0h1.7m6.9 0h1.7m184 0h1.7M288.1 642.4h1.7m53.8 0h1.7M314.1 649h1.7m57.3 0h1.7m22.6 0h1.7m64.2 0h1.7m29.5 0h1.7m1.7 0h1.7m8.7 0h1.7m5.2 0h1.7m8.7 0h1.7m3.5 0h3.5m3.5 0h1.7m36.4 0h1.7m5.2 0h1.7m8.7 0h1.7m15.6 0h1.7m3.5 0h1.7m8.7 0h1.7m8.7 0h1.7m6.9 0h1.7m1.7 0h1.7M355.8 655.7h1.7m39.9 0h1.7m1.7 0h1.7m92 0h1.7m19.1 0h1.7m13.9 0h1.7m5.2 0h1.7m53.8 0h1.7m6.9 0h1.7m1.7 0h1.7M407.8 662.4h1.7m3.5 0h1.7m13.9 0h1.7m65.9 0h3.5m8.7 0h1.7m5.2 0h1.7m60.7 0h1.7m1.7 0h3.5m39.9 0h3.5M336.7 669h1.7m55.5 0h1.7m17.4 0h1.7m13.9 0h1.7m15.6 0h1.7m31.2 0h1.7m17.4 0h1.7m8.7 0h1.7m31.2 0h1.7m5.2 0h1.7m31.2 0h1.7m31.2 0h1.7m10.4 0h1.7m6.9 0h1.7m5.2 0h1.7m1.7 0h1.7M329.7 675.7h1.7m5.2 0h1.7m39.9 0h1.7m1.7 0h1.7m6.9 0h1.7m1.7 0h1.7m15.6 0h3.5m22.6 0h1.7m6.9 0h1.7m24.3 0h1.7m5.2 0h1.7m15.6 0h1.7m10.4 0h1.7m17.4 0h1.7m85 0h1.7M378.3 682.4h3.5m12.1 0h1.7m10.4 0h3.5m19.1 0h1.7m15.6 0h1.7m36.4 0h1.7m97.2 0h1.7m12.1 0h1.7m15.6 0h1.7M336.7 689.1h1.7m39.9 0h1.7m1.7 0h1.7m10.4 0h1.7m17.4 0h1.7m3.5 0h3.5m15.6 0h1.7m6.9 0h1.7m24.3 0h1.7m10.4 0h1.7m10.4 0h3.5m81.6 0h1.7m5.2 0h1.7m3.5 0h1.7m65.9 0h1.7" stroke="#440154" stroke-width="6.7"/>
<path d="M298.5 575.6h1.7m1.7 0h1.7m27.8 0h12.1m1.7 0h6.9m8.7 0h3.5m17.4 0h1.7m1.7 0h1.7m1.7 0h3.5m10.4 0h1.7m5.2 0h3.5m8.7 0h1.7m5.2 0h3.5m5.2 0h1.7m5.2 0h6.9m1.7 0h1.7m6.9 0h1.7m8.7 0h3.5m1.7 0h1.7m6.9 0h1.7m1.7 0h1.7m5.2 0h1.7m1.7 0h3.5m5.2 0h6.9m147.5 0h1.7M288.1 582.3h3.5m5.2 0h1.7m1.7 0h1.7m1.7 0h1.7m1.7 0h6.9m6.9 0h1.7m5.2 0h1.7m1.7 0h3.5m6.9 0h1.7m1.7 0h1.7m5.2 0h1.7m1.7 0h5.2m24.3 0h1.7m8.7 0h3.5m3.5 0h1.7m6.9 0h3.5m1.7 0h1.7m5.2 0h3.5m1.7 0h3.5m17.4 0h5.2m10.4 0h1.7m3.5 0h3.5m5.2 0h1.7m5.2 0h1.7m3.5 0h1.7m5.2 0h1.7m1.7 0h1.7m3.5 0h1.7m3.5 0h1.7m1.7 0h1.7m135.4 0h1.7m8.7 0h1.7M289.8 589h1.7m3.5 0h1.7m6.9 0h5.2m12.1 0h1.7m10.4 0h1.7m3.5 0h1.7m15.6 0h3.5m3.5 0h1.7m20.8 0h1.7m3.5 0h1.7m10.4 0h1.7m3.5 0h1.7m5.2 0h1.7m1.7 0h1.7m5.2 0h3.5m1.7 0h1.7m6.9 0h3.5m1.7 0h1.7m13.9 0h1.7m3.5 0h1.7m1.7 0h1.7m1.7 0h5.2m1.7 0h1.7m5.2 0h1.7m1.7 0h3.5m5.2 0h1.7m17.4 0h1.7m133.6 0h1.7m8.7 0h1.7M289.8 595.7h1.7m15.6 0h1.7m12.1 0h5.2m3.5 0h6.9m5.2 0h1.7m1.7 0h3.5m1.7 0h1.7m1.7 0h1.7m33 0h1.7m5.2 0h1.7m20.8 0h1.7m3.5 0h1.7m6.9 0h3.5m5.2 0h3.5m6.9 0h3.5m1.7 0h1.7m10.4 0h1.7m1.7 0h3.5m3.5 0h1.7m5.2 0h1.7m1.7 0h1.7m1.7 0h3.5m3.5 0h1.7m3.5 0h3.5m8.7 0h1.7m133.6 0h1.7m8.7 0h1.7M293.3 602.3h1.7m1.7 0h1.7m10.4 0h1.7m1.7 0h3.5m1.7 0h3.5m10.4 0h3.5m6.9 0h1.7m1.7 0h5.2m6.9 0h1.7m26 0h1.7m5.2 0h1.7m6.9 0h1.7m26 0h3.5m6.9 0h1.7m5.2 0h6.9m12.1 0h1.7m17.4 0h1.7m5.2 0h1.7m5.2 0h1.7m1.7 0h1.7m5.2 0h1.7m6.9 0h1.7m131.9 0h1.7m10.4 0h1.7M291.5 609h10.4m3.5 0h1.7m1.7 0h5.2m5.2 0h3.5m34.7 0h1.7m3.5 0h1.7m26 0h1.7m5.2 0h1.7m3.5 0h1.7m5.2 0h3.5m3.5 0h1.7m1.7 0h1.7m3.5 0h3.5m8.7 0h1.7m3.5 0h3.5m1.7 0h3.5m10.4 0h1.7m10.4 0h1.7m8.7 0h1.7m6.9 0h1.7m3.5 0h1.7m3.5 0h1.7m6.9 0h3.5m1.7 0h1.7m144 0h1.7M284.6 615.7h1.7m1.7 0h1.7m50.3 0h1.7m20.8 0h1.7m159.7 0h1.7m12.1 0h1.7m33 0h1.7m6.9 0h1.7m5.2 0h1.7m13.9 0h1.7m5.2 0h1.7m8.7 0h1.7M288.1 622.3h3.5m1.7 0h1.7m22.6 0h1.7m20.8 0h1.7m10.4 0h1.7m24.3 0h1.7m12.1 0h1.7m130.2 0h1.7m12.1 0h1.7m33 0h1.7m29.5 0h1.7M284.6 629h5.2m53.8 0h1.7m46.9 0h1.7m144 0h1.7m43.4 0h1.7m1.7 0h1.7m15.6 0h1.7M308.9 635.7h1.7m1.7 0h1.7m33 0h3.5m17.4 0h1.7m154.5 0h1.7m45.1 0h1.7m8.7 0h1.7M286.3 642.4h1.7m5.2 0h1.7m5.2 0h1.7m13.9 0h1.7m22.6 0h1.7m6.9 0h1.7m19.1 0h1.7m166.6 0h1.7m26 0h1.7m15.6 0h1.7m19.1 0h1.7M284.6 649h3.5m27.8 0h1.7m3.5 0h3.5m34.7 0h1.7m1.7 0h1.7m3.5 0h1.7m10.4 0h1.7m10.4 0h3.5m5.2 0h1.7m3.5 0h1.7m5.2 0h1.7m20.8 0h1.7m3.5 0h1.7m8.7 0h3.5m1.7 0h1.7m6.9 0h1.7m1.7 0h1.7m34.7 0h3.5m1.7 0h1.7m8.7 0h1.7m1.7 0h1.7m3.5 0h1.7m3.5 0h3.5m1.7 0h1.7m10.4 0h1.7m1.7 0h1.7m8.7 0h3.5m8.7 0h1.7m1.7 0h1.7m5.2 0h1.7m6.9 0h1.7m1.7 0h3.5m8.7 0h1.7m10.4 0h1.7m31.2 0h1.7M289.8 655.7h1.7m22.6 0h1.7m5.2 0h1.7m26 0h1.7m3.5 0h1.7m17.4 0h1.7m5.2 0h1.7m12.1 0h1.7m10.4 0h1.7m5.2 0h1.7m22.6 0h1.7m12.1 0h1.7m6.9 0h1.7m3.5 0h1.7m22.6 0h1.7m6.9 0h1.7m24.3 0h3.5m5.2 0h3.5m5.2 0h3.5m15.6 0h1.7m27.8 0h1.7m5.2 0h1.7m1.7 0h1.7m10.4 0h3.5m6.9 0h1.7m10.4 0h3.5m6.9 0h1.7m1.7 0h1.7m6.9 0h1.7M326.3 662.4h1.7m8.7 0h1.7m29.5 0h3.5m20.8 0h3.5m1.7 0h1.7m24.3 0h1.7m1.7 0h1.7m8.7 0h3.5m5.2 0h1.7m17.4 0h1.7m5.2 0h1.7m5.2 0h1.7m3.5 0h1.7m55.5 0h1.7m5.2 0h1.7m13.9 0h1.7m5.2 0h1.7m19.1 0h1.7m1.7 0h3.5m22.6 0h3.5m20.8 0h1.7m15.6 0h3.5M329.7 669h3.5m38.2 0h1.7m5.2 0h1.7m10.4 0h3.5m3.5 0h1.7m20.8 0h1.7m3.5 0h1.7m10.4 0h3.5m31.2 0h1.7m20.8 0h3.5m13.9 0h1.7m1.7 0h1.7m10.4 0h1.7m10.4 0h1.7m13.9 0h1.7m6.9 0h1.7m3.5 0h3.5m10.4 0h1.7m8.7 0h1.7m26 0h1.7m6.9 0h1.7m1.7 0h1.7m27.8 0h3.5M331.5 675.7h3.5m45.1 0h1.7m19.1 0h1.7m5.2 0h1.7m8.7 0h1.7m43.4 0h3.5m3.5 0h1.7m3.5 0h1.7m6.9 0h3.5m3.5 0h1.7m5.2 0h3.5m8.7 0h1.7m43.4 0h1.7m6.9 0h1.7m15.6 0h1.7m6.9 0h1.7m1.7 0h1.7m65.9 0h1.7m1.7 0h1.7M331.5 682.4h1.7m3.5 0h1.7m33 0h1.7m8.7 0h1.7m3.5 0h1.7m1.7 0h3.5m26 0h6.9m10.4 0h1.7m31.2 0h1.7m6.9 0h1.7m10.4 0h1.7m3.5 0h3.5m8.7 0h1.7m1.7 0h1.7m1.7 0h1.7m31.2 0h1.7m5.2 0h1.7m13.9 0h1.7m5.2 0h1.7m1.7 0h1.7m12.1 0h1.7m64.2 0h1.7M326.3 689.1h1.7m52.1 0h1.7m15.6 0h1.7m6.9 0h1.7m3.5 0h1.7m15.6 0h1.7m8.7 0h1.7m6.9 0h1.7m15.6 0h3.5m10.4 0h1.7m10.4 0h1.7m15.6 0h1.7m1.7 0h1.7m13.9 0h1.7m12.1 0h3.5m5.2 0h1.7m3.5 0h1.7m8.7 0h1.7m3.5 0h1.7m10.4 0h1.7m5.2 0h1.7m3.5 0h1.7m17.4 0h3.5" stroke="#461567" stroke-width="6.7"/>
<path d="M289.8 575.6h3.5m6.9 0h1.7m1.7 0h1.7m3.5 0h1.7m8.7 0h1.7m5.2 0h3.5m22.6 0h3.5m3.5 0h1.7m22.6 0h1.7m1.7 0h1.7m12.1 0h1.7m1.7 0h1.7m6.9 0h1.7m1.7 0h5.2m1.7 0h1.7m1.7 0h1.7m3.5 0h1.7m1.7 0h1.7m3.5 0h1.7m13.9 0h1.7m6.9 0h3.5m6.9 0h1.7m1.7 0h1.7m6.9 0h1.7m1.7 0h1.7m24.3 0h1.7m5.2 0h1.7m24.3 0h1.7m79.8 0h1.7m19.1 0h1.7M291.5 582.3h1.7m8.7 0h1.7m10.4 0h1.7m10.4 0h1.7m10.4 0h3.5m5.2 0h5.2m8.7 0h1.7m19.1 0h1.7m15.6 0h1.7m5.2 0h5.2m20.8 0h5.2m3.5 0h3.5m1.7 0h3.5m6.9 0h3.5m15.6 0h1.7m15.6 0h3.5m8.7 0h1.7m3.5 0h1.7m36.4 0h1.7m27.8 0h1.7m85 0h1.7M300.2 589h3.5m5.2 0h3.5m1.7 0h1.7m1.7 0h1.7m5.2 0h1.7m1.7 0h1.7m1.7 0h1.7m3.5 0h1.7m3.5 0h3.5m1.7 0h1.7m1.7 0h1.7m6.9 0h3.5m19.1 0h1.7m3.5 0h3.5m13.9 0h3.5m12.1 0h1.7m10.4 0h1.7m3.5 0h1.7m8.7 0h1.7m3.5 0h3.5m5.2 0h1.7m19.1 0h1.7m8.7 0h1.7m1.7 0h1.7m3.5 0h3.5m6.9 0h3.5m5.2 0h1.7m6.9 0h1.7m27.8 0h1.7M291.5 595.7h3.5m3.5 0h1.7m1.7 0h1.7m5.2 0h1.7m1.7 0h3.5m3.5 0h1.7m5.2 0h1.7m10.4 0h1.7m17.4 0h5.2m19.1 0h1.7m1.7 0h3.5m17.4 0h1.7m5.2 0h1.7m22.6 0h1.7m5.2 0h5.2m15.6 0h3.5m6.9 0h1.7m3.5 0h1.7m8.7 0h1.7m17.4 0h5.2m149.2 0h1.7M298.5 602.3h1.7m3.5 0h1.7m1.7 0h1.7m12.1 0h1.7m1.7 0h1.7m12.1 0h3.5m39.9 0h3.5m8.7 0h1.7m12.1 0h3.5m1.7 0h1.7m1.7 0h3.5m12.1 0h1.7m1.7 0h1.7m5.2 0h3.5m6.9 0h1.7m3.5 0h1.7m1.7 0h1.7m22.6 0h1.7m8.7 0h1.7m1.7 0h1.7m1.7 0h1.7m5.2 0h1.7m140.6 0h1.7m10.4 0h1.7M303.7 609h1.7m19.1 0h6.9m5.2 0h13.9m8.7 0h3.5m19.1 0h5.2m1.7 0h1.7m8.7 0h1.7m3.5 0h3.5m10.4 0h1.7m1.7 0h3.5m5.2 0h3.5m1.7 0h1.7m13.9 0h1.7m1.7 0h1.7m8.7 0h5.2m12.1 0h1.7m5.2 0h3.5m3.5 0h1.7m1.7 0h3.5m1.7 0h3.5m62.5 0h1.7m5.2 0h1.7m1.7 0h1.7m62.5 0h1.7m3.5 0h3.5m10.4 0h1.7M293.3 615.7h1.7m1.7 0h1.7m19.1 0h1.7m8.7 0h1.7m8.7 0h1.7m8.7 0h1.7m3.5 0h1.7m1.7 0h1.7m8.7 0h1.7m8.7 0h1.7m48.6 0h1.7m29.5 0h1.7m65.9 0h1.7m36.4 0h1.7m3.5 0h1.7m10.4 0h1.7m1.7 0h1.7m5.2 0h5.2m17.4 0h1.7M284.6 622.3h1.7m8.7 0h1.7m19.1 0h1.7m3.5 0h1.7m13.9 0h1.7m26 0h1.7m1.7 0h3.5m10.4 0h1.7m118 0h1.7m33 0h1.7m17.4 0h1.7m8.7 0h1.7m1.7 0h1.7m10.4 0h1.7m3.5 0h3.5m3.5 0h1.7m3.5 0h3.5m6.9 0h1.7m10.4 0h1.7m13.9 0h1.7M289.8 629h1.7m1.7 0h1.7m5.2 0h1.7m1.7 0h1.7m3.5 0h1.7m1.7 0h1.7m1.7 0h1.7m45.1 0h1.7m3.5 0h3.5m3.5 0h1.7m119.7 0h1.7m57.3 0h1.7m8.7 0h1.7m3.5 0h3.5m13.9 0h1.7m3.5 0h1.7m3.5 0h1.7m10.4 0h1.7M289.8 635.7h1.7m5.2 0h1.7m1.7 0h1.7m13.9 0h3.5m13.9 0h1.7m3.5 0h1.7m17.4 0h1.7m3.5 0h3.5m3.5 0h1.7m3.5 0h1.7m62.5 0h1.7m86.8 0h1.7m17.4 0h1.7m6.9 0h3.5m13.9 0h1.7m8.7 0h1.7m1.7 0h1.7m5.2 0h1.7m3.5 0h3.5m1.7 0h1.7m1.7 0h1.7M284.6 642.4h1.7m48.6 0h3.5m8.7 0h1.7m3.5 0h1.7m10.4 0h1.7m5.2 0h1.7m17.4 0h3.5m3.5 0h1.7m50.3 0h1.7m41.7 0h1.7m39.9 0h1.7m3.5 0h1.7m10.4 0h1.7m3.5 0h1.7m12.1 0h3.5m10.4 0h1.7m1.7 0h10.4m12.1 0h1.7M288.1 649h3.5m20.8 0h1.7m43.4 0h1.7m1.7 0h1.7m3.5 0h1.7m1.7 0h1.7m3.5 0h1.7m1.7 0h1.7m1.7 0h3.5m5.2 0h1.7m6.9 0h1.7m3.5 0h1.7m3.5 0h3.5m24.3 0h3.5m3.5 0h1.7m3.5 0h1.7m10.4 0h1.7m3.5 0h1.7m1.7 0h3.5m1.7 0h3.5m1.7 0h3.5m8.7 0h1.7m1.7 0h1.7m1.7 0h1.7m15.6 0h1.7m8.7 0h1.7m12.1 0h3.5m3.5 0h1.7m3.5 0h1.7m5.2 0h1.7m1.7 0h1.7m5.2 0h1.7m6.9 0h1.7m5.2 0h1.7m1.7 0h3.5m5.2 0h1.7m3.5 0h5.2m12.1 0h3.5m5.2 0h1.7m3.5 0h1.7m1.7 0h3.5m1.7 0h1.7m5.2 0h6.9m1.7 0h1.7M317.6 655.7h3.5m29.5 0h1.7m5.2 0h1.7m6.9 0h6.9m3.5 0h3.5m5.2 0h1.7m5.2 0h1.7m5.2 0h1.7m10.4 0h1.7m22.6 0h1.7m12.1 0h1.7m10.4 0h3.5m3.5 0h1.7m1.7 0h1.7m10.4 0h1.7m5.2 0h1.7m3.5 0h1.7m8.7 0h3.5m1.7 0h1.7m3.5 0h1.7m8.7 0h1.7m17.4 0h1.7m3.5 0h1.7m10.4 0h3.5m8.7 0h3.5m1.7 0h1.7m3.5 0h3.5m1.7 0h1.7m13.9 0h1.7m17.4 0h1.7m5.2 0h1.7m17.4 0h1.7m5.2 0h1.7M329.7 662.4h3.5m1.7 0h1.7m29.5 0h1.7m6.9 0h1.7m24.3 0h1.7m3.5 0h1.7m3.5 0h1.7m1.7 0h1.7m3.5 0h1.7m8.7 0h1.7m3.5 0h1.7m3.5 0h1.7m5.2 0h1.7m3.5 0h5.2m8.7 0h5.2m1.7 0h5.2m6.9 0h1.7m3.5 0h3.5m5.2 0h3.5m1.7 0h1.7m3.5 0h3.5m5.2 0h1.7m6.9 0h1.7m8.7 0h1.7m13.9 0h1.7m3.5 0h1.7m5.2 0h1.7m17.4 0h1.7m1.7 0h3.5m1.7 0h1.7m19.1 0h3.5m12.1 0h8.7m1.7 0h5.2m6.9 0h1.7m3.5 0h1.7m1.7 0h1.7M334.9 669h1.7m31.2 0h3.5m3.5 0h1.7m5.2 0h1.7m15.6 0h3.5m5.2 0h1.7m1.7 0h1.7m10.4 0h1.7m10.4 0h1.7m3.5 0h3.5m3.5 0h1.7m17.4 0h1.7m6.9 0h3.5m5.2 0h3.5m3.5 0h1.7m17.4 0h1.7m6.9 0h1.7m1.7 0h1.7m20.8 0h1.7m6.9 0h1.7m3.5 0h5.2m1.7 0h1.7m5.2 0h1.7m1.7 0h1.7m6.9 0h1.7m1.7 0h1.7m1.7 0h1.7m1.7 0h3.5m19.1 0h1.7m3.5 0h3.5m12.1 0h1.7m3.5 0h1.7m3.5 0h1.7m3.5 0h1.7m3.5 0h3.5M334.9 675.7h1.7m31.2 0h5.2m13.9 0h3.5m6.9 0h3.5m19.1 0h1.7m26 0h1.7m6.9 0h1.7m19.1 0h1.7m1.7 0h1.7m12.1 0h1.7m5.2 0h1.7m1.7 0h1.7m5.2 0h1.7m1.7 0h1.7m8.7 0h1.7m1.7 0h3.5m3.5 0h1.7m1.7 0h1.7m5.2 0h1.7m10.4 0h1.7m8.7 0h6.9m6.9 0h1.7m1.7 0h3.5m5.2 0h3.5m8.7 0h1.7m8.7 0h1.7M326.3 682.4h1.7m39.9 0h3.5m3.5 0h1.7m19.1 0h3.5m1.7 0h1.7m8.7 0h3.5m17.4 0h1.7m5.2 0h1.7m6.9 0h1.7m12.1 0h6.9m3.5 0h1.7m3.5 0h1.7m13.9 0h1.7m6.9 0h1.7m3.5 0h1.7m1.7 0h1.7m1.7 0h1.7m3.5 0h1.7m5.2 0h1.7m5.2 0h1.7m5.2 0h3.5m6.9 0h1.7m6.9 0h1.7m6.9 0h3.5m13.9 0h1.7m1.7 0h1.7m3.5 0h1.7m29.5 0h1.7m12.1 0h1.7m22.6 0h3.5M331.5 689.1h1.7m1.7 0h1.7m33 0h1.7m12.1 0h1.7m10.4 0h1.7m10.4 0h3.5m12.1 0h3.5m3.5 0h1.7m3.5 0h1.7m24.3 0h3.5m3.5 0h3.5m1.7 0h1.7m1.7 0h1.7m1.7 0h1.7m3.5 0h1.7m12.1 0h3.5m1.7 0h1.7m3.5 0h1.7m3.5 0h1.7m1.7 0h1.7m8.7 0h3.5m12.1 0h1.7m17.4 0h1.7m1.7 0h3.5m1.7 0h1.7m3.5 0h1.7m38.2 0h1.7m12.1 0h1.7m29.5 0h3.5" stroke="#472977" stroke-width="6.7"/>
<path d="M329.7 575.6h1.7m74.6 0h3.5m24.3 0h1.7m19.1 0h1.7m1.7 0h1.7m10.4 0h1.7m10.4 0h1.7m19.1 0h1.7m71.2 0h1.7m41.7 0h1.7m22.6 0h1.7m5.2 0h1.7m12.1 0h1.7M298.5 582.3h1.7m43.4 0h1.7m8.7 0h1.7m31.2 0h3.5m13.9 0h1.7m13.9 0h3.5m13.9 0h1.7m15.6 0h1.7m5.2 0h1.7m3.5 0h1.7m13.9 0h1.7m3.5 0h1.7m31.2 0h3.5m3.5 0h1.7m24.3 0h1.7m5.2 0h3.5m17.4 0h1.7m46.9 0h1.7m6.9 0h1.7M298.5 589h1.7m12.1 0h1.7m12.1 0h1.7m17.4 0h1.7m36.4 0h1.7m50.3 0h1.7m5.2 0h1.7m12.1 0h3.5m6.9 0h1.7m19.1 0h1.7m36.4 0h1.7m6.9 0h3.5m26 0h1.7m17.4 0h1.7m55.5 0h3.5m6.9 0h1.7M296.7 595.7h1.7m1.7 0h1.7m1.7 0h1.7m22.6 0h1.7m13.9 0h1.7m6.9 0h1.7m29.5 0h1.7m17.4 0h1.7m3.5 0h3.5m5.2 0h1.7m6.9 0h1.7m3.5 0h1.7m3.5 0h1.7m20.8 0h1.7m1.7 0h1.7m6.9 0h1.7m15.6 0h1.7m6.9 0h1.7m3.5 0h3.5m17.4 0h1.7m10.4 0h5.2m10.4 0h1.7m17.4 0h1.7m6.9 0h1.7m1.7 0h1.7m45.1 0h1.7M291.5 602.3h1.7m8.7 0h1.7m24.3 0h3.5m12.1 0h1.7m6.9 0h1.7m5.2 0h3.5m57.3 0h1.7m33 0h1.7m10.4 0h1.7m1.7 0h1.7m3.5 0h1.7m5.2 0h1.7m27.8 0h3.5m3.5 0h1.7m26 0h1.7m6.9 0h1.7m10.4 0h1.7m3.5 0h1.7m1.7 0h1.7m5.2 0h1.7m57.3 0h1.7m5.2 0h1.7M302 609h1.7m27.8 0h1.7m17.4 0h3.5m33 0h1.7m24.3 0h1.7m26 0h1.7m13.9 0h3.5m10.4 0h1.7m3.5 0h1.7m10.4 0h1.7m20.8 0h1.7m15.6 0h1.7m8.7 0h1.7m3.5 0h1.7m29.5 0h1.7m6.9 0h1.7m57.3 0h1.7M289.8 615.7h1.7m12.1 0h8.7m1.7 0h3.5m5.2 0h1.7m1.7 0h1.7m1.7 0h1.7m3.5 0h3.5m3.5 0h1.7m3.5 0h1.7m22.6 0h1.7m1.7 0h1.7m24.3 0h1.7m12.1 0h1.7m5.2 0h1.7m22.6 0h1.7m8.7 0h1.7m3.5 0h1.7m45.1 0h1.7m5.2 0h1.7m13.9 0h1.7m1.7 0h3.5m10.4 0h1.7m1.7 0h1.7m1.7 0h3.5m10.4 0h1.7m6.9 0h1.7m12.1 0h1.7m13.9 0h3.5m1.7 0h1.7m3.5 0h1.7m5.2 0h3.5m5.2 0h1.7m1.7 0h3.5m17.4 0h1.7M296.7 622.3h1.7m1.7 0h1.7m1.7 0h3.5m1.7 0h1.7m1.7 0h3.5m6.9 0h3.5m1.7 0h1.7m3.5 0h3.5m5.2 0h1.7m3.5 0h3.5m3.5 0h5.2m3.5 0h1.7m10.4 0h1.7m8.7 0h1.7m6.9 0h1.7m1.7 0h1.7m12.1 0h1.7m3.5 0h1.7m43.4 0h1.7m1.7 0h1.7m5.2 0h1.7m10.4 0h1.7m34.7 0h3.5m1.7 0h3.5m1.7 0h1.7m6.9 0h3.5m5.2 0h1.7m1.7 0h1.7m38.2 0h1.7m1.7 0h3.5m6.9 0h1.7m3.5 0h1.7m1.7 0h1.7m1.7 0h1.7m10.4 0h1.7m8.7 0h1.7M298.5 629h1.7m13.9 0h1.7m1.7 0h1.7m1.7 0h3.5m3.5 0h1.7m6.9 0h3.5m1.7 0h1.7m1.7 0h1.7m1.7 0h1.7m1.7 0h6.9m5.2 0h3.5m3.5 0h3.5m3.5 0h1.7m5.2 0h1.7m3.5 0h1.7m5.2 0h1.7m27.8 0h1.7m34.7 0h3.5m53.8 0h1.7m1.7 0h1.7m1.7 0h1.7m1.7 0h1.7m15.6 0h1.7m1.7 0h1.7m3.5 0h1.7m10.4 0h1.7m6.9 0h1.7m1.7 0h1.7m1.7 0h1.7m8.7 0h3.5m15.6 0h1.7m5.2 0h1.7m1.7 0h1.7m10.4 0h1.7m15.6 0h1.7m1.7 0h1.7M284.6 635.7h1.7m8.7 0h1.7m6.9 0h5.2m13.9 0h1.7m1.7 0h1.7m6.9 0h3.5m3.5 0h1.7m10.4 0h3.5m13.9 0h1.7m8.7 0h1.7m8.7 0h1.7m55.5 0h1.7m26 0h1.7m1.7 0h1.7m12.1 0h1.7m13.9 0h1.7m3.5 0h3.5m1.7 0h3.5m6.9 0h6.9m1.7 0h1.7m6.9 0h1.7m15.6 0h1.7m8.7 0h3.5m5.2 0h1.7m1.7 0h1.7m1.7 0h1.7m1.7 0h3.5m6.9 0h1.7m3.5 0h3.5m6.9 0h3.5m10.4 0h1.7m12.1 0h1.7M289.8 642.4h1.7m3.5 0h3.5m5.2 0h3.5m1.7 0h1.7m43.4 0h5.2m3.5 0h1.7m10.4 0h1.7m3.5 0h3.5m1.7 0h1.7m43.4 0h1.7m3.5 0h1.7m1.7 0h1.7m20.8 0h1.7m64.2 0h1.7m17.4 0h1.7m6.9 0h1.7m12.1 0h1.7m10.4 0h1.7m3.5 0h1.7m10.4 0h1.7m8.7 0h1.7m1.7 0h1.7m1.7 0h3.5m22.6 0h1.7m8.7 0h3.5M319.3 649h1.7m43.4 0h1.7m5.2 0h1.7m3.5 0h1.7m6.9 0h1.7m1.7 0h1.7m55.5 0h3.5m5.2 0h1.7m1.7 0h3.5m12.1 0h1.7m3.5 0h1.7m3.5 0h1.7m1.7 0h5.2m19.1 0h1.7m31.2 0h3.5m8.7 0h3.5m1.7 0h1.7m20.8 0h1.7m8.7 0h1.7m17.4 0h1.7m15.6 0h3.5m6.9 0h1.7m19.1 0h3.5M284.6 655.7h5.2m22.6 0h1.7m1.7 0h1.7m5.2 0h1.7m20.8 0h3.5m3.5 0h1.7m6.9 0h1.7m12.1 0h1.7m5.2 0h1.7m55.5 0h3.5m1.7 0h3.5m5.2 0h1.7m3.5 0h1.7m6.9 0h1.7m6.9 0h3.5m1.7 0h3.5m3.5 0h1.7m10.4 0h1.7m3.5 0h1.7m3.5 0h1.7m8.7 0h1.7m13.9 0h1.7m1.7 0h1.7m3.5 0h1.7m1.7 0h1.7m3.5 0h5.2m3.5 0h1.7m6.9 0h1.7m6.9 0h1.7m1.7 0h3.5m8.7 0h1.7m1.7 0h1.7m3.5 0h1.7m3.5 0h1.7m6.9 0h1.7m5.2 0h1.7m15.6 0h3.5m8.7 0h1.7M371.4 662.4h1.7m22.6 0h1.7m1.7 0h1.7m17.4 0h1.7m5.2 0h1.7m17.4 0h1.7m15.6 0h3.5m15.6 0h1.7m24.3 0h1.7m5.2 0h1.7m5.2 0h3.5m1.7 0h1.7m1.7 0h1.7m3.5 0h3.5m1.7 0h1.7m1.7 0h5.2m6.9 0h1.7m3.5 0h1.7m5.2 0h3.5m1.7 0h1.7m1.7 0h1.7m27.8 0h1.7m3.5 0h1.7m5.2 0h3.5m17.4 0h1.7m8.7 0h3.5m1.7 0h1.7m3.5 0h1.7M328 669h1.7m50.3 0h1.7m3.5 0h3.5m6.9 0h1.7m5.2 0h3.5m3.5 0h1.7m3.5 0h5.2m1.7 0h1.7m6.9 0h1.7m12.1 0h1.7m24.3 0h1.7m1.7 0h1.7m5.2 0h3.5m8.7 0h1.7m5.2 0h3.5m1.7 0h1.7m6.9 0h1.7m1.7 0h1.7m1.7 0h1.7m1.7 0h3.5m15.6 0h1.7m1.7 0h1.7m1.7 0h1.7m5.2 0h1.7m8.7 0h1.7m8.7 0h1.7m6.9 0h1.7m13.9 0h1.7m3.5 0h1.7m6.9 0h1.7m10.4 0h1.7m1.7 0h1.7m6.9 0h1.7m8.7 0h3.5m3.5 0h1.7M326.3 675.7h3.5m36.4 0h1.7m15.6 0h3.5m5.2 0h1.7m10.4 0h1.7m8.7 0h1.7m15.6 0h1.7m5.2 0h1.7m1.7 0h1.7m10.4 0h1.7m5.2 0h1.7m3.5 0h3.5m3.5 0h1.7m6.9 0h1.7m19.1 0h1.7m1.7 0h1.7m8.7 0h3.5m1.7 0h1.7m8.7 0h3.5m1.7 0h1.7m1.7 0h3.5m3.5 0h3.5m1.7 0h1.7m5.2 0h3.5m1.7 0h3.5m6.9 0h5.2m20.8 0h1.7m12.1 0h1.7m1.7 0h1.7m1.7 0h1.7m13.9 0h1.7m13.9 0h1.7m6.9 0h1.7M329.7 682.4h1.7m3.5 0h1.7m29.5 0h1.7m15.6 0h3.5m12.1 0h1.7m1.7 0h1.7m10.4 0h1.7m1.7 0h1.7m10.4 0h1.7m3.5 0h1.7m5.2 0h3.5m3.5 0h3.5m20.8 0h3.5m5.2 0h1.7m1.7 0h1.7m1.7 0h1.7m8.7 0h1.7m15.6 0h1.7m5.2 0h1.7m1.7 0h5.2m3.5 0h3.5m3.5 0h1.7m6.9 0h1.7m3.5 0h1.7m5.2 0h3.5m8.7 0h1.7m1.7 0h1.7m8.7 0h1.7m15.6 0h1.7m6.9 0h5.2m6.9 0h1.7m3.5 0h1.7m1.7 0h1.7m19.1 0h1.7M333.2 689.1h1.7m31.2 0h3.5m1.7 0h5.2m8.7 0h3.5m1.7 0h3.5m5.2 0h6.9m8.7 0h1.7m5.2 0h1.7m3.5 0h1.7m3.5 0h1.7m6.9 0h1.7m1.7 0h1.7m10.4 0h1.7m1.7 0h1.7m13.9 0h1.7m10.4 0h1.7m3.5 0h3.5m10.4 0h1.7m5.2 0h1.7m1.7 0h1.7m1.7 0h1.7m3.5 0h1.7m5.2 0h5.2m1.7 0h1.7m5.2 0h1.7m10.4 0h3.5m12.1 0h3.5m6.9 0h1.7m5.2 0h1.7m3.5 0h1.7m20.8 0h5.2m10.4 0h1.7m15.6 0h1.7" stroke="#423b83" stroke-width="6.7"/>
<path d="M343.6 575.6h1.7m22.6 0h1.7m157.9 0h1.7m1.7 0h1.7m3.5 0h1.7m13.9 0h1.7m1.7 0h1.7m5.2 0h1.7m15.6 0h1.7m3.5 0h3.5m38.2 0h1.7m12.1 0h1.7m3.5 0h3.5M329.7 582.3h1.7m48.6 0h1.7m121.5 0h1.7m8.7 0h1.7m20.8 0h1.7m6.9 0h1.7m3.5 0h3.5m1.7 0h1.7m12.1 0h1.7m52.1 0h1.7m1.7 0h1.7m8.7 0h1.7m1.7 0h1.7m1.7 0h3.5m1.7 0h3.5M352.3 589h1.7m13.9 0h1.7m52.1 0h1.7m46.9 0h1.7m46.9 0h1.7m12.1 0h1.7m3.5 0h1.7m3.5 0h1.7m8.7 0h1.7m10.4 0h1.7m1.7 0h5.2m52.1 0h1.7m1.7 0h1.7m1.7 0h1.7m1.7 0h1.7m5.2 0h1.7M420 595.7h3.5m31.2 0h1.7m26 0h1.7m36.4 0h1.7m8.7 0h1.7m8.7 0h1.7m3.5 0h3.5m1.7 0h5.2m1.7 0h1.7m6.9 0h1.7m6.9 0h1.7m8.7 0h1.7m33 0h1.7m3.5 0h1.7m5.2 0h3.5m3.5 0h1.7m3.5 0h3.5m1.7 0h1.7M300.2 602.3h1.7m24.3 0h1.7m52.1 0h1.7m5.2 0h1.7m15.6 0h3.5m13.9 0h1.7m13.9 0h1.7m17.4 0h1.7m29.5 0h1.7m33 0h1.7m5.2 0h8.7m3.5 0h1.7m1.7 0h1.7m15.6 0h3.5m5.2 0h1.7m6.9 0h1.7m41.7 0h1.7m8.7 0h3.5m10.4 0h1.7M289.8 609h1.7m62.5 0h1.7m52.1 0h1.7m109.3 0h1.7m15.6 0h1.7m6.9 0h3.5m5.2 0h3.5m1.7 0h1.7m5.2 0h5.2m1.7 0h1.7m26 0h1.7m24.3 0h3.5m6.9 0h1.7m1.7 0h1.7m6.9 0h1.7M295 615.7h1.7m5.2 0h1.7m8.7 0h1.7m5.2 0h3.5m22.6 0h1.7m17.4 0h1.7m3.5 0h1.7m1.7 0h1.7m1.7 0h1.7m1.7 0h1.7m3.5 0h1.7m15.6 0h3.5m5.2 0h1.7m10.4 0h5.2m1.7 0h1.7m6.9 0h1.7m3.5 0h1.7m1.7 0h3.5m19.1 0h1.7m3.5 0h6.9m1.7 0h1.7m3.5 0h1.7m1.7 0h1.7m1.7 0h3.5m12.1 0h1.7m3.5 0h1.7m1.7 0h3.5m8.7 0h1.7m8.7 0h1.7m31.2 0h1.7m1.7 0h1.7m3.5 0h1.7m3.5 0h1.7m6.9 0h5.2m1.7 0h1.7m6.9 0h1.7m13.9 0h1.7m3.5 0h1.7m3.5 0h1.7m1.7 0h3.5m1.7 0h6.9m3.5 0h3.5m1.7 0h1.7M291.5 622.3h1.7m26 0h1.7m5.2 0h1.7m10.4 0h1.7m5.2 0h1.7m3.5 0h1.7m13.9 0h1.7m3.5 0h1.7m6.9 0h1.7m8.7 0h1.7m8.7 0h3.5m8.7 0h3.5m6.9 0h6.9m1.7 0h1.7m1.7 0h1.7m1.7 0h1.7m5.2 0h5.2m5.2 0h1.7m1.7 0h1.7m1.7 0h1.7m5.2 0h1.7m1.7 0h5.2m1.7 0h1.7m6.9 0h1.7m1.7 0h5.2m8.7 0h3.5m1.7 0h1.7m1.7 0h1.7m17.4 0h1.7m10.4 0h1.7m8.7 0h1.7m1.7 0h1.7m12.1 0h1.7m1.7 0h3.5m3.5 0h1.7m3.5 0h1.7m10.4 0h1.7m12.1 0h1.7m6.9 0h3.5m5.2 0h3.5m6.9 0h5.2m3.5 0h3.5m1.7 0h8.7M291.5 629h1.7m1.7 0h3.5m8.7 0h1.7m17.4 0h1.7m5.2 0h1.7m24.3 0h1.7m20.8 0h3.5m13.9 0h1.7m1.7 0h3.5m5.2 0h3.5m3.5 0h1.7m8.7 0h5.2m12.1 0h1.7m1.7 0h1.7m1.7 0h5.2m1.7 0h1.7m8.7 0h3.5m1.7 0h1.7m1.7 0h3.5m8.7 0h5.2m5.2 0h1.7m5.2 0h1.7m1.7 0h5.2m5.2 0h1.7m1.7 0h1.7m5.2 0h1.7m1.7 0h1.7m1.7 0h5.2m1.7 0h1.7m12.1 0h1.7m13.9 0h1.7m1.7 0h1.7m8.7 0h3.5m6.9 0h3.5m1.7 0h1.7m1.7 0h1.7m5.2 0h3.5m6.9 0h5.2m1.7 0h1.7m3.5 0h1.7m3.5 0h3.5m3.5 0h3.5m5.2 0h6.9M298.5 635.7h1.7m13.9 0h1.7m12.1 0h3.5m45.1 0h5.2m6.9 0h1.7m8.7 0h3.5m1.7 0h1.7m3.5 0h1.7m1.7 0h5.2m3.5 0h1.7m1.7 0h1.7m5.2 0h1.7m10.4 0h3.5m5.2 0h1.7m1.7 0h1.7m6.9 0h1.7m5.2 0h3.5m3.5 0h1.7m3.5 0h1.7m5.2 0h3.5m1.7 0h3.5m1.7 0h1.7m3.5 0h3.5m1.7 0h3.5m10.4 0h1.7m13.9 0h5.2m17.4 0h1.7m3.5 0h1.7m3.5 0h1.7m3.5 0h1.7m20.8 0h1.7m5.2 0h1.7m3.5 0h5.2m5.2 0h1.7m1.7 0h3.5m1.7 0h1.7m1.7 0h3.5m1.7 0h5.2m3.5 0h1.7m1.7 0h1.7m1.7 0h1.7m1.7 0h1.7M298.5 642.4h1.7m6.9 0h1.7m3.5 0h3.5m17.4 0h1.7m3.5 0h1.7m26 0h3.5m8.7 0h1.7m6.9 0h3.5m10.4 0h5.2m6.9 0h10.4m1.7 0h1.7m5.2 0h1.7m3.5 0h1.7m5.2 0h1.7m10.4 0h1.7m1.7 0h1.7m1.7 0h3.5m3.5 0h5.2m1.7 0h1.7m5.2 0h1.7m3.5 0h1.7m3.5 0h1.7m34.7 0h3.5m1.7 0h1.7m3.5 0h3.5m3.5 0h1.7m17.4 0h1.7m5.2 0h6.9m24.3 0h3.5m31.2 0h1.7m1.7 0h1.7m3.5 0h1.7m6.9 0h5.2M317.6 649h1.7m67.7 0h1.7m19.1 0h1.7m10.4 0h1.7m12.1 0h1.7m6.9 0h1.7m59 0h1.7m13.9 0h1.7m29.5 0h1.7m17.4 0h1.7m3.5 0h1.7m33 0h1.7m6.9 0h3.5M343.6 655.7h1.7m13.9 0h1.7m1.7 0h3.5m20.8 0h1.7m1.7 0h1.7m10.4 0h3.5m1.7 0h3.5m10.4 0h1.7m31.2 0h3.5m20.8 0h1.7m5.2 0h1.7m5.2 0h1.7m6.9 0h1.7m10.4 0h1.7m6.9 0h1.7m34.7 0h1.7m6.9 0h1.7m5.2 0h1.7m34.7 0h1.7m3.5 0h1.7m3.5 0h1.7m6.9 0h1.7m6.9 0h3.5m8.7 0h1.7m12.1 0h1.7M328 662.4h1.7m3.5 0h1.7m38.2 0h1.7m27.8 0h3.5m3.5 0h1.7m5.2 0h1.7m3.5 0h1.7m8.7 0h1.7m8.7 0h1.7m5.2 0h3.5m5.2 0h3.5m20.8 0h1.7m3.5 0h3.5m3.5 0h1.7m20.8 0h1.7m5.2 0h1.7m5.2 0h1.7m17.4 0h1.7m5.2 0h1.7m3.5 0h1.7m15.6 0h1.7m5.2 0h1.7m19.1 0h1.7M324.5 669h3.5m5.2 0h1.7m12.1 0h1.7m17.4 0h1.7m8.7 0h1.7m5.2 0h1.7m20.8 0h1.7m19.1 0h1.7m3.5 0h1.7m15.6 0h5.2m1.7 0h3.5m8.7 0h1.7m17.4 0h3.5m12.1 0h1.7m1.7 0h1.7m20.8 0h10.4m12.1 0h1.7m20.8 0h1.7m13.9 0h1.7m17.4 0h1.7m8.7 0h1.7m15.6 0h1.7M348.8 675.7h1.7m3.5 0h1.7m17.4 0h5.2m17.4 0h1.7m5.2 0h1.7m1.7 0h1.7m1.7 0h1.7m5.2 0h1.7m3.5 0h1.7m10.4 0h3.5m3.5 0h1.7m1.7 0h1.7m3.5 0h5.2m5.2 0h1.7m26 0h3.5m1.7 0h1.7m26 0h1.7m1.7 0h1.7m26 0h1.7m3.5 0h1.7m39.9 0h1.7m5.2 0h1.7m3.5 0h1.7m8.7 0h1.7m6.9 0h1.7m15.6 0h1.7m1.7 0h1.7M328 682.4h1.7m3.5 0h1.7m5.2 0h1.7m8.7 0h1.7m20.8 0h1.7m1.7 0h1.7m10.4 0h1.7m19.1 0h1.7m5.2 0h1.7m8.7 0h1.7m12.1 0h1.7m10.4 0h5.2m1.7 0h1.7m6.9 0h1.7m10.4 0h1.7m5.2 0h1.7m5.2 0h1.7m6.9 0h3.5m13.9 0h3.5m10.4 0h1.7m8.7 0h3.5m5.2 0h1.7m5.2 0h3.5m8.7 0h1.7m17.4 0h1.7m12.1 0h1.7m3.5 0h1.7m8.7 0h3.5m1.7 0h1.7m12.1 0h3.5m8.7 0h3.5m3.5 0h1.7M319.3 689.1h1.7m1.7 0h3.5m1.7 0h1.7m59 0h1.7m26 0h1.7m24.3 0h1.7m5.2 0h6.9m1.7 0h1.7m22.6 0h1.7m5.2 0h1.7m12.1 0h1.7m17.4 0h3.5m12.1 0h1.7m8.7 0h1.7m1.7 0h3.5m6.9 0h1.7m22.6 0h1.7m17.4 0h1.7m1.7 0h1.7m19.1 0h1.7m22.6 0h1.7m1.7 0h1.7" stroke="#3c4d89" stroke-width="6.7"/>
<path d="M373.1 575.6h1.7m3.5 0h1.7m149.2 0h1.7m1.7 0h1.7m3.5 0h8.7m6.9 0h1.7m1.7 0h5.2m1.7 0h5.2m1.7 0h3.5m3.5 0h1.7m3.5 0h1.7m3.5 0h1.7m3.5 0h1.7m3.5 0h1.7m5.2 0h3.5m3.5 0h1.7m3.5 0h1.7m8.7 0h1.7m5.2 0h5.2m1.7 0h1.7m5.2 0h1.7M383.5 582.3h1.7m133.6 0h1.7m5.2 0h1.7m6.9 0h1.7m1.7 0h6.9m1.7 0h1.7m8.7 0h1.7m5.2 0h3.5m6.9 0h3.5m1.7 0h1.7m17.4 0h1.7m3.5 0h1.7m13.9 0h1.7m6.9 0h1.7m1.7 0h5.2m5.2 0h1.7M522.4 589h3.5m1.7 0h1.7m1.7 0h1.7m6.9 0h3.5m1.7 0h6.9m3.5 0h3.5m1.7 0h3.5m3.5 0h1.7m6.9 0h6.9m12.1 0h5.2m3.5 0h1.7m5.2 0h3.5m8.7 0h1.7m6.9 0h1.7m1.7 0h1.7m1.7 0h1.7m5.2 0h5.2M518.9 595.7h1.7m8.7 0h1.7m1.7 0h1.7m5.2 0h1.7m1.7 0h1.7m15.6 0h6.9m3.5 0h1.7m1.7 0h1.7m6.9 0h3.5m1.7 0h1.7m1.7 0h1.7m5.2 0h1.7m1.7 0h1.7m3.5 0h1.7m1.7 0h1.7m10.4 0h3.5m3.5 0h3.5m3.5 0h3.5m1.7 0h3.5m3.5 0h1.7M374.8 602.3h1.7m144 0h1.7m1.7 0h1.7m1.7 0h1.7m8.7 0h3.5m1.7 0h1.7m3.5 0h5.2m3.5 0h5.2m6.9 0h1.7m3.5 0h1.7m1.7 0h1.7m6.9 0h5.2m6.9 0h1.7m5.2 0h1.7m1.7 0h1.7m1.7 0h3.5m12.1 0h5.2m3.5 0h5.2m1.7 0h1.7M520.6 609h6.9m1.7 0h1.7m1.7 0h3.5m3.5 0h3.5m5.2 0h5.2m6.9 0h5.2m10.4 0h1.7m1.7 0h1.7m3.5 0h3.5m3.5 0h1.7m8.7 0h1.7m5.2 0h1.7m5.2 0h1.7m12.1 0h1.7m1.7 0h1.7m3.5 0h1.7m3.5 0h1.7m1.7 0h1.7M291.5 615.7h1.7m5.2 0h1.7m31.2 0h3.5m31.2 0h1.7m45.1 0h1.7m1.7 0h5.2m10.4 0h6.9m1.7 0h3.5m8.7 0h3.5m1.7 0h1.7m3.5 0h3.5m1.7 0h1.7m1.7 0h3.5m6.9 0h1.7m6.9 0h1.7m1.7 0h1.7m5.2 0h1.7m1.7 0h3.5m1.7 0h1.7m1.7 0h1.7m10.4 0h1.7m12.1 0h3.5m24.3 0h1.7m5.2 0h1.7m43.4 0h1.7m1.7 0h1.7m22.6 0h1.7m13.9 0h1.7M298.5 622.3h1.7m1.7 0h1.7m3.5 0h1.7m20.8 0h1.7m29.5 0h1.7m10.4 0h1.7m1.7 0h1.7m5.2 0h1.7m1.7 0h3.5m5.2 0h1.7m1.7 0h1.7m3.5 0h3.5m1.7 0h1.7m6.9 0h5.2m6.9 0h1.7m5.2 0h1.7m1.7 0h5.2m5.2 0h1.7m1.7 0h1.7m1.7 0h1.7m8.7 0h1.7m8.7 0h1.7m5.2 0h3.5m1.7 0h1.7m5.2 0h1.7m10.4 0h1.7m1.7 0h1.7m1.7 0h1.7m13.9 0h1.7m8.7 0h3.5m3.5 0h1.7m12.1 0h1.7m1.7 0h1.7m6.9 0h1.7m29.5 0h1.7m3.5 0h1.7m5.2 0h1.7m6.9 0h1.7m8.7 0h1.7m1.7 0h1.7m5.2 0h3.5M305.4 629h1.7m3.5 0h1.7m6.9 0h1.7m8.7 0h3.5m13.9 0h1.7m27.8 0h1.7m8.7 0h3.5m3.5 0h1.7m5.2 0h1.7m3.5 0h5.2m3.5 0h3.5m3.5 0h5.2m8.7 0h5.2m3.5 0h1.7m1.7 0h1.7m1.7 0h1.7m8.7 0h1.7m5.2 0h1.7m3.5 0h1.7m1.7 0h1.7m5.2 0h1.7m3.5 0h1.7m6.9 0h3.5m5.2 0h1.7m1.7 0h1.7m5.2 0h3.5m8.7 0h1.7m3.5 0h1.7m8.7 0h1.7m3.5 0h1.7m1.7 0h1.7m8.7 0h1.7m1.7 0h1.7m43.4 0h1.7m20.8 0h1.7m3.5 0h3.5m3.5 0h3.5m5.2 0h1.7M291.5 635.7h1.7m17.4 0h1.7m6.9 0h3.5m1.7 0h1.7m19.1 0h1.7m13.9 0h1.7m3.5 0h1.7m5.2 0h1.7m8.7 0h1.7m1.7 0h1.7m13.9 0h1.7m1.7 0h1.7m3.5 0h1.7m5.2 0h3.5m1.7 0h1.7m1.7 0h5.2m1.7 0h5.2m3.5 0h1.7m3.5 0h1.7m5.2 0h1.7m1.7 0h6.9m5.2 0h1.7m3.5 0h1.7m5.2 0h1.7m5.2 0h1.7m13.9 0h1.7m45.1 0h1.7m6.9 0h1.7m27.8 0h1.7m34.7 0h1.7m12.1 0h1.7m5.2 0h1.7m3.5 0h1.7m1.7 0h1.7m1.7 0h1.7m3.5 0h1.7M291.5 642.4h1.7m8.7 0h1.7m27.8 0h1.7m8.7 0h1.7m1.7 0h1.7m12.1 0h3.5m20.8 0h1.7m8.7 0h1.7m3.5 0h1.7m5.2 0h1.7m1.7 0h3.5m10.4 0h1.7m1.7 0h3.5m3.5 0h1.7m5.2 0h3.5m1.7 0h3.5m1.7 0h1.7m1.7 0h1.7m19.1 0h1.7m1.7 0h3.5m3.5 0h1.7m3.5 0h1.7m3.5 0h3.5m26 0h1.7m17.4 0h1.7m13.9 0h1.7m1.7 0h1.7m34.7 0h3.5m10.4 0h1.7m29.5 0h1.7m3.5 0h1.7m10.4 0h3.5M350.5 649h1.7m50.3 0h1.7m19.1 0h1.7m6.9 0h1.7m52.1 0h1.7m13.9 0h1.7m10.4 0h1.7m6.9 0h1.7m48.6 0h1.7m53.8 0h1.7m17.4 0h1.7m12.1 0h1.7M308.9 655.7h1.7m72.9 0h1.7m48.6 0h1.7m12.1 0h1.7m20.8 0h1.7m31.2 0h1.7m13.9 0h1.7m8.7 0h1.7m19.1 0h1.7m17.4 0h1.7m1.7 0h1.7m45.1 0h1.7m10.4 0h1.7m13.9 0h1.7m13.9 0h1.7M378.3 662.4h1.7m53.8 0h1.7m67.7 0h1.7m27.8 0h1.7m17.4 0h1.7m46.9 0h5.2m3.5 0h1.7m17.4 0h1.7m17.4 0h1.7m6.9 0h1.7M373.1 669h1.7m13.9 0h1.7m43.4 0h1.7m24.3 0h1.7m3.5 0h1.7m112.8 0h1.7m17.4 0h1.7m10.4 0h1.7m34.7 0h1.7M458.1 675.7h1.7m53.8 0h1.7m29.5 0h1.7m38.2 0h1.7m5.2 0h1.7m6.9 0h1.7m6.9 0h1.7m13.9 0h5.2m1.7 0h6.9m1.7 0h6.9m1.7 0h1.7m1.7 0h1.7m3.5 0h3.5M321 682.4h1.7m22.6 0h1.7m57.3 0h1.7m168.3 0h1.7m10.4 0h1.7m10.4 0h6.9m3.5 0h1.7m19.1 0h3.5m1.7 0h1.7m10.4 0h1.7M329.7 689.1h1.7m10.4 0h1.7m20.8 0h1.7m10.4 0h1.7m55.5 0h1.7m121.5 0h1.7m20.8 0h1.7m17.4 0h3.5m1.7 0h1.7m1.7 0h1.7m1.7 0h3.5m10.4 0h5.2m3.5 0h1.7m1.7 0h1.7m10.4 0h3.5m3.5 0h1.7m1.7 0h1.7" stroke="#355c8d" stroke-width="6.7"/>
<path d="M310.6 575.6h1.7m5.2 0h1.7m57.3 0h1.7m140.6 0h5.2m1.7 0h1.7m6.9 0h1.7m10.4 0h3.5m19.1 0h1.7m3.5 0h1.7m5.2 0h1.7m8.7 0h1.7m1.7 0h3.5m1.7 0h5.2m3.5 0h3.5m1.7 0h3.5m3.5 0h1.7m1.7 0h1.7m3.5 0h1.7m1.7 0h1.7M378.3 582.3h1.7m144 0h1.7m3.5 0h5.2m24.3 0h1.7m6.9 0h1.7m1.7 0h3.5m8.7 0h1.7m8.7 0h5.2m3.5 0h1.7m1.7 0h12.1m29.5 0h1.7M551.9 589h1.7m20.8 0h1.7m17.4 0h1.7m5.2 0h3.5m1.7 0h5.2m3.5 0h5.2m8.7 0h1.7M524.1 595.7h5.2m15.6 0h1.7m10.4 0h1.7m13.9 0h1.7m5.2 0h1.7m8.7 0h1.7m1.7 0h3.5m3.5 0h1.7m1.7 0h3.5m5.2 0h1.7m1.7 0h5.2M366.2 602.3h1.7m1.7 0h1.7m5.2 0h3.5m145.8 0h1.7m26 0h1.7m10.4 0h1.7m13.9 0h1.7m1.7 0h1.7m5.2 0h6.9m1.7 0h5.2m12.1 0h3.5m3.5 0h3.5m17.4 0h1.7M366.2 609h1.7m8.7 0h1.7m152.7 0h1.7m24.3 0h1.7m29.5 0h1.7m3.5 0h1.7m1.7 0h3.5m3.5 0h5.2m1.7 0h1.7m1.7 0h1.7m8.7 0h1.7m5.2 0h1.7m1.7 0h1.7M324.5 615.7h1.7m24.3 0h1.7m3.5 0h1.7m1.7 0h3.5m19.1 0h1.7m6.9 0h3.5m1.7 0h1.7m1.7 0h1.7m5.2 0h5.2m55.5 0h1.7m17.4 0h1.7m12.1 0h1.7m43.4 0h1.7m3.5 0h1.7m1.7 0h1.7m3.5 0h3.5m1.7 0h1.7m62.5 0h1.7m26 0h1.7M310.6 622.3h1.7m19.1 0h1.7m100.7 0h1.7m17.4 0h1.7m27.8 0h1.7m20.8 0h1.7m12.1 0h1.7m8.7 0h1.7m31.2 0h1.7m59 0h1.7M302 629h1.7m46.9 0h1.7m8.7 0h1.7m17.4 0h1.7m38.2 0h1.7m12.1 0h1.7m5.2 0h1.7m39.9 0h1.7m1.7 0h1.7m17.4 0h1.7m52.1 0h1.7m1.7 0h1.7m10.4 0h1.7m31.2 0h1.7m10.4 0h1.7m1.7 0h1.7M331.5 635.7h1.7m52.1 0h1.7m3.5 0h1.7m1.7 0h3.5m10.4 0h1.7m31.2 0h1.7m8.7 0h1.7m15.6 0h1.7m15.6 0h1.7m62.5 0h1.7m6.9 0h1.7m1.7 0h1.7m3.5 0h1.7m50.3 0h1.7m10.4 0h1.7m29.5 0h1.7M310.6 642.4h1.7m10.4 0h1.7m26 0h1.7m20.8 0h1.7m1.7 0h1.7m17.4 0h1.7m10.4 0h1.7m43.4 0h1.7m3.5 0h1.7m6.9 0h3.5m12.1 0h1.7m15.6 0h1.7m6.9 0h1.7m1.7 0h1.7m10.4 0h1.7m24.3 0h1.7m1.7 0h1.7m6.9 0h1.7m59 0h1.7m22.6 0h1.7M355.8 649h1.7m60.7 0h1.7m1.7 0h1.7m5.2 0h1.7M293.3 655.7h1.7m46.9 0h1.7m45.1 0h1.7m26 0h1.7m5.2 0h1.7m48.6 0h1.7m152.7 0h1.7m31.2 0h1.7M340.1 662.4h5.2m1.7 0h3.5m5.2 0h3.5m1.7 0h1.7m13.9 0h1.7m12.1 0h1.7m182.2 0h1.7m22.6 0h1.7m12.1 0h1.7M319.3 669h1.7m27.8 0h1.7m1.7 0h1.7m6.9 0h1.7m92 0h1.7m6.9 0h1.7m135.4 0h1.7m1.7 0h3.5m48.6 0h1.7M321 675.7h1.7m15.6 0h3.5m262.1 0h1.7m50.3 0h1.7M341.9 682.4h3.5m1.7 0h1.7m13.9 0h3.5m67.7 0h1.7m22.6 0h1.7m152.7 0h1.7m29.5 0h1.7m10.4 0h1.7M340.1 689.1h1.7m5.2 0h3.5m8.7 0h1.7m1.7 0h1.7m237.8 0h1.7" stroke="#2e6c8e" stroke-width="6.7"/>
<path d="M312.4 575.6h1.7m1.7 0h1.7m52.1 0h3.5m1.7 0h1.7m3.5 0h1.7m208.3 0h1.7m31.2 0h1.7M366.2 582.3h1.7m5.2 0h1.7m210 0h1.7m1.7 0h3.5m8.7 0h1.7m15.6 0h1.7m1.7 0h1.7m1.7 0h1.7m27.8 0h1.7M366.2 589h1.7m5.2 0h1.7m3.5 0h1.7m204.8 0h1.7m33 0h3.5m1.7 0h1.7M366.2 595.7h1.7m1.7 0h1.7m6.9 0h3.5m215.2 0h1.7m10.4 0h1.7m3.5 0h1.7M367.9 602.3h1.7m1.7 0h1.7m234.3 0h1.7m1.7 0h1.7m3.5 0h1.7m3.5 0h1.7M369.6 609h6.9m213.5 0h1.7m3.5 0h1.7m15.6 0h1.7m3.5 0h6.9M387 615.7h3.5m3.5 0h1.7m55.5 0h1.7m34.7 0h1.7m13.9 0h1.7m13.9 0h1.7m8.7 0h1.7m31.2 0h1.7m67.7 0h1.7m8.7 0h1.7M359.2 622.3h1.7m138.8 0h1.7m52.1 0h1.7m3.5 0h1.7m95.5 0h1.7M324.5 629h1.7m116.3 0h1.7m13.9 0h1.7m43.4 0h1.7m126.7 0h1.7M302 635.7h1.7m46.9 0h1.7m6.9 0h1.7m36.4 0h1.7m67.7 0h1.7m31.2 0h1.7m1.7 0h1.7m24.3 0h1.7m22.6 0h1.7M487.6 642.4h1.7m12.1 0h3.5m1.7 0h1.7m5.2 0h10.4m5.2 0h1.7m27.8 0h1.7m72.9 0h1.7m20.8 0h1.7M328 649h3.5m6.9 0h1.7m55.5 0h1.7m19.1 0h1.7m12.1 0h1.7M291.5 655.7h1.7m3.5 0h12.1m1.7 0h1.7m130.2 0h1.7m211.7 0h1.7M321 662.4h1.7m15.6 0h1.7m5.2 0h1.7m5.2 0h3.5m6.9 0h3.5m13.9 0h5.2m1.7 0h3.5M321 669h3.5m13.9 0h1.7m3.5 0h1.7m5.2 0h1.7m1.7 0h1.7m1.7 0h1.7m3.5 0h1.7m97.2 0h1.7m149.2 0h1.7M308.9 675.7h1.7m8.7 0h1.7m1.7 0h1.7m19.1 0h1.7m6.9 0h1.7m1.7 0h1.7m1.7 0h6.9M308.9 682.4h1.7m12.1 0h3.5m12.1 0h1.7m8.7 0h1.7m1.7 0h6.9m1.7 0h1.7M343.6 689.1h1.7m5.2 0h1.7" stroke="#287b8e" stroke-width="6.7"/>
<path d="M366.2 575.6h1.7M367.9 582.3h1.7m1.7 0h1.7M371.4 589h1.7m3.5 0h1.7m1.7 0h1.7m272.5 0h1.7M367.9 595.7h1.7m5.2 0h3.5m282.9 0h1.7M373.1 602.3h1.7M367.9 609h1.7m8.7 0h3.5M383.5 615.7h1.7m12.1 0h1.7M407.8 622.3h1.7m57.3 0h1.7m163.1 0h1.7M395.7 629h1.7m69.4 0h1.7M487.6 635.7h1.7m29.5 0h1.7M317.6 642.4h1.7m5.2 0h1.7m178.8 0h1.7m3.5 0h1.7m109.3 0h1.7m5.2 0h5.2m3.5 0h3.5M343.6 649h1.7m3.5 0h1.7m64.2 0h1.7m8.7 0h3.5M295 655.7h1.7m33 0h1.7m64.2 0h1.7m20.8 0h1.7m5.2 0h8.7M286.3 662.4h1.7m12.1 0h1.7m17.4 0h1.7m1.7 0h3.5m24.3 0h1.7m6.9 0h1.7m24.3 0h1.7M340.1 669h3.5m1.7 0h1.7m8.7 0h1.7m1.7 0h1.7m3.5 0h1.7M289.8 675.7h1.7m13.9 0h1.7m3.5 0h1.7m12.1 0h1.7m15.6 0h1.7m3.5 0h1.7m8.7 0h1.7m64.2 0h1.7m5.2 0h1.7m180.5 0h1.7M305.4 682.4h1.7m52.1 0h1.7M295 689.1h1.7m24.3 0h1.7m22.6 0h1.7m5.2 0h1.7m1.7 0h3.5m282.9 0h1.7" stroke="#23898d" stroke-width="6.7"/>
<path d="M314.1 575.6h1.7m340.1 0h1.7M374.8 582.3h3.5m208.3 0h1.7M286.3 589h1.7m81.6 0h1.7m216.9 0h1.7m1.7 0h1.7M286.3 602.3h1.7M503.3 622.3h1.7M487.6 629h1.7M319.3 642.4h1.7m6.9 0h1.7m289.8 0h1.7m3.5 0h3.5M333.2 649h1.7m12.1 0h1.7m5.2 0h1.7M328 655.7h1.7m85 0h1.7m3.5 0h1.7M305.4 662.4h1.7M286.3 669h1.7m3.5 0h1.7M307.2 675.7h1.7m36.4 0h1.7m3.5 0h1.7M319.3 682.4h1.7m329.7 0h1.7M338.4 689.1h1.7m13.9 0h1.7m5.2 0h1.7m275.9 0h3.5m1.7 0h5.2" stroke="#21978a" stroke-width="6.7"/>
<path d="M369.6 582.3h1.7m220.4 0h1.7M374.8 589h1.7m210 0h1.7m1.7 0h1.7M371.4 595.7h3.5m24.3 0h3.5M321 642.4h1.7m3.5 0h1.7m1.7 0h1.7m303.7 0h1.7M302 649h1.7m41.7 0h1.7M324.5 655.7h1.7M425.2 675.7h5.2M645.6 682.4h1.7" stroke="#22a485" stroke-width="6.7"/>
<path d="M397.4 595.7h1.7M654.3 602.3h1.7m5.2 0h1.7M298.5 649h1.7m52.1 0h1.7M326.3 655.7h1.7m3.5 0h5.2m1.7 0h3.5M288.1 662.4h1.7m1.7 0h1.7m8.7 0h1.7M298.5 669h1.7m10.4 0h1.7M286.3 675.7h1.7m6.9 0h1.7m20.8 0h1.7M286.3 682.4h1.7m19.1 0h1.7m3.5 0h1.7M296.7 689.1h1.7m1.7 0h1.7" stroke="#32b27b" stroke-width="6.7"/>
<path d="M657.7 582.3h1.7M657.7 602.3h1.7M336.7 655.7h1.7M284.6 662.4h1.7m10.4 0h1.7m15.6 0h1.7m1.7 0h1.7M284.6 669h1.7m1.7 0h3.5m20.8 0h1.7m3.5 0h1.7M284.6 675.7h1.7m5.2 0h1.7m5.2 0h1.7m3.5 0h1.7M288.1 682.4h1.7m26 0h1.7m331.5 0h1.7" stroke="#47bf6e" stroke-width="6.7"/>
<path d="M284.6 575.6h1.7m373.1 0h3.5M659.5 589h1.7M657.7 595.7h1.7M300.2 649h1.7m33 0h1.7M295 669h3.5m5.2 0h1.7m8.7 0h1.7M288.1 675.7h1.7m24.3 0h1.7M289.8 682.4h1.7m8.7 0h1.7m8.7 0h1.7M288.1 689.1h1.7m1.7 0h1.7m12.1 0h1.7m5.2 0h1.7" stroke="#66ca5c" stroke-width="6.7"/>
<path d="M286.3 595.7h1.7M656 602.3h1.7m1.7 0h1.7M654.3 609h1.7m5.2 0h1.7M296.7 649h1.7m41.7 0h1.7M293.3 662.4h1.7m12.1 0h1.7m1.7 0h1.7M308.9 669h1.7M302 675.7h1.7M291.5 682.4h1.7m1.7 0h1.7m6.9 0h1.7M286.3 689.1h1.7m13.9 0h1.7m5.2 0h1.7" stroke="#89d447" stroke-width="6.7"/>
<path d="M661.2 589h1.7M284.6 595.7h1.7m369.7 0h1.7M659.5 609h1.7M308.9 649h1.7m13.9 0h1.7m5.2 0h1.7M289.8 662.4h1.7m3.5 0h1.7m1.7 0h1.7m3.5 0h1.7m6.9 0h1.7M302 669h1.7m1.7 0h1.7M293.3 675.7h1.7m5.2 0h1.7m10.4 0h1.7M293.3 682.4h1.7m22.6 0h1.7M307.2 689.1h1.7m6.9 0h3.5" stroke="#b1dc2e" stroke-width="6.7"/>
<path d="M286.3 575.6h1.7m366.2 0h1.7m1.7 0h1.7M284.6 582.3h3.5m367.9 0h1.7m1.7 0h3.5M656 589h3.5M654.3 595.7h1.7m3.5 0h1.7M656 609h3.5M307.2 649h1.7m17.4 0h1.7m8.7 0h1.7M308.9 662.4h1.7m5.2 0h1.7M300.2 669h1.7m13.9 0h1.7M315.8 675.7h1.7M284.6 682.4h1.7m10.4 0h3.5m1.7 0h1.7m10.4 0h1.7M289.8 689.1h1.7m1.7 0h1.7m3.5 0h1.7m3.5 0h1.7m5.2 0h1.7m1.7 0h1.7" stroke="#d7e226" stroke-width="6.7"/>
<path d="M284.6 589h1.7M284.6 602.3h1.7M284.6 609h3.5M291.5 649h5.2m6.9 0h3.5m3.5 0h1.7m29.5 0h1.7M293.3 669h1.7m12.1 0h1.7M296.7 675.7h1.7M284.6 689.1h1.7" stroke="#fde725" stroke-width="6.7"/>
<rect x="666.6" y="572.3" width="1.3" height="40" fill="#ff0000"/>
<rect x="666.6" y="612.3" width="1.3" height="33.4" fill="#2ca02c"/>
<rect x="666.6" y="645.7" width="1.3" height="6.7" fill="#1f77d4"/>
<rect x="666.6" y="652.4" width="1.3" height="6.7" fill="#2ca02c"/>
<rect x="666.6" y="659" width="1.3" height="33.4" fill="#1f77d4"/>
<path d="M668 582.3H670.5V589H668M668 595.7H670.5V602.3H668M670.5 585.6H672.5V599H670.5M668 575.6H674V592.3H672.5M674 584H675.5V609H668M668 615.7H671V622.3H668M668 629H671V635.7H668M671 639H673V642.4H668M671 619H676V640.7H673M668 649H671V655.7H668M668 662.4H670.5V669H668M668 675.7H670.5V682.4H668M670.5 665.7H672.5V679.1H670.5M672.5 672.4H674V689.1H668" stroke="#9a9a9a" stroke-width="0.6" fill="none"/>
<path d="M671 652.4H678V680.7H674M676 629.7H681V666.4H678M675.5 594.3H684.5V647.7H681" stroke="#555" stroke-width="0.6" fill="none"/>
<rect x="269.3" y="697" width="3.3" height="3.3" fill="#2e7bc4"/>
<text x="277.4" y="700" font-size="4.8">ATAC</text>
<rect x="269.3" y="703.7" width="3.3" height="3.3" fill="#1a9a3a"/>
<text x="277.4" y="706.7" font-size="4.8">H3K27ac</text>
<rect x="269.3" y="710.4" width="3.3" height="3.3" fill="#e8202a"/>
<text x="277.4" y="713.4" font-size="4.8">H3K27me3</text>
<text x="375.6" y="713.8" font-size="13.5" font-weight="bold" fill="#000" stroke="#000" stroke-width="0.55">i</text>
<rect x="419.3" y="703.7" width="9.1" height="9.1" fill="#ff0000"/>
<rect x="428.2" y="703.7" width="9.1" height="9.1" fill="#ff7373"/>
<rect x="437.1" y="703.7" width="9.1" height="9.1" fill="#ff7373"/>
<rect x="446.1" y="703.7" width="9.1" height="9.1" fill="#ff7373"/>
<rect x="455" y="703.7" width="9.1" height="9.1" fill="#ff8080"/>
<rect x="463.9" y="703.7" width="9.1" height="9.1" fill="#ff7373"/>
<rect x="472.8" y="703.7" width="9.1" height="9.1" fill="#ff4040"/>
<rect x="481.7" y="703.7" width="9.1" height="9.1" fill="#ffb8b8"/>
<rect x="490.7" y="703.7" width="9.1" height="9.1" fill="#ffd9d9"/>
<rect x="499.6" y="703.7" width="9.1" height="9.1" fill="#ffcccc"/>
<rect x="508.5" y="703.7" width="9.1" height="9.1" fill="#ffe0e0"/>
<rect x="517.4" y="703.7" width="9.1" height="9.1" fill="#ffe6e6"/>
<rect x="526.3" y="703.7" width="9.1" height="9.1" fill="#c7c7ff"/>
<rect x="535.3" y="703.7" width="9.1" height="9.1" fill="#e0e0ff"/>
<rect x="544.2" y="703.7" width="9.1" height="9.1" fill="#e6e6ff"/>
<rect x="553.1" y="703.7" width="9.1" height="9.1" fill="#ebebff"/>
<rect x="562" y="703.7" width="9.1" height="9.1" fill="#e6e6ff"/>
<rect x="570.9" y="703.7" width="9.1" height="9.1" fill="#ebebff"/>
<rect x="419.3" y="712.6" width="9.1" height="9.1" fill="#ff7373"/>
<rect x="428.2" y="712.6" width="9.1" height="9.1" fill="#ff0000"/>
<rect x="437.1" y="712.6" width="9.1" height="9.1" fill="#ff4040"/>
<rect x="446.1" y="712.6" width="9.1" height="9.1" fill="#ff5757"/>
<rect x="455" y="712.6" width="9.1" height="9.1" fill="#ff6b6b"/>
<rect x="463.9" y="712.6" width="9.1" height="9.1" fill="#ff6161"/>
<rect x="472.8" y="712.6" width="9.1" height="9.1" fill="#ffb8b8"/>
<rect x="481.7" y="712.6" width="9.1" height="9.1" fill="#ff6666"/>
<rect x="490.7" y="712.6" width="9.1" height="9.1" fill="#ff9e9e"/>
<rect x="499.6" y="712.6" width="9.1" height="9.1" fill="#ffa6a6"/>
<rect x="508.5" y="712.6" width="9.1" height="9.1" fill="#ffb8b8"/>
<rect x="517.4" y="712.6" width="9.1" height="9.1" fill="#ffb2b2"/>
<rect x="526.3" y="712.6" width="9.1" height="9.1" fill="#f2f2ff"/>
<rect x="535.3" y="712.6" width="9.1" height="9.1" fill="#e0e0ff"/>
<rect x="544.2" y="712.6" width="9.1" height="9.1" fill="#e6e6ff"/>
<rect x="553.1" y="712.6" width="9.1" height="9.1" fill="#e6e6ff"/>
<rect x="562" y="712.6" width="9.1" height="9.1" fill="#ebebff"/>
<rect x="570.9" y="712.6" width="9.1" height="9.1" fill="#f0f0ff"/>
<rect x="419.3" y="721.5" width="9.1" height="9.1" fill="#ff7373"/>
<rect x="428.2" y="721.5" width="9.1" height="9.1" fill="#ff4040"/>
<rect x="437.1" y="721.5" width="9.1" height="9.1" fill="#ff0000"/>
<rect x="446.1" y="721.5" width="9.1" height="9.1" fill="#ff4040"/>
<rect x="455" y="721.5" width="9.1" height="9.1" fill="#ff6666"/>
<rect x="463.9" y="721.5" width="9.1" height="9.1" fill="#ff4d4d"/>
<rect x="472.8" y="721.5" width="9.1" height="9.1" fill="#ffb8b8"/>
<rect x="481.7" y="721.5" width="9.1" height="9.1" fill="#ff9999"/>
<rect x="490.7" y="721.5" width="9.1" height="9.1" fill="#ff8080"/>
<rect x="499.6" y="721.5" width="9.1" height="9.1" fill="#ffa6a6"/>
<rect x="508.5" y="721.5" width="9.1" height="9.1" fill="#ffbfbf"/>
<rect x="517.4" y="721.5" width="9.1" height="9.1" fill="#ffb2b2"/>
<rect x="526.3" y="721.5" width="9.1" height="9.1" fill="#fafaff"/>
<rect x="535.3" y="721.5" width="9.1" height="9.1" fill="#ebebff"/>
<rect x="544.2" y="721.5" width="9.1" height="9.1" fill="#e6e6ff"/>
<rect x="553.1" y="721.5" width="9.1" height="9.1" fill="#f2f2ff"/>
<rect x="562" y="721.5" width="9.1" height="9.1" fill="#ebebff"/>
<rect x="570.9" y="721.5" width="9.1" height="9.1" fill="#f0f0ff"/>
<rect x="419.3" y="730.5" width="9.1" height="9.1" fill="#ff7373"/>
<rect x="428.2" y="730.5" width="9.1" height="9.1" fill="#ff5757"/>
<rect x="437.1" y="730.5" width="9.1" height="9.1" fill="#ff4040"/>
<rect x="446.1" y="730.5" width="9.1" height="9.1" fill="#ff0000"/>
<rect x="455" y="730.5" width="9.1" height="9.1" fill="#ff7373"/>
<rect x="463.9" y="730.5" width="9.1" height="9.1" fill="#ff5959"/>
<rect x="472.8" y="730.5" width="9.1" height="9.1" fill="#ffb8b8"/>
<rect x="481.7" y="730.5" width="9.1" height="9.1" fill="#ff9e9e"/>
<rect x="490.7" y="730.5" width="9.1" height="9.1" fill="#ffa6a6"/>
<rect x="499.6" y="730.5" width="9.1" height="9.1" fill="#ff6161"/>
<rect x="508.5" y="730.5" width="9.1" height="9.1" fill="#ffbfbf"/>
<rect x="517.4" y="730.5" width="9.1" height="9.1" fill="#ffbdbd"/>
<rect x="526.3" y="730.5" width="9.1" height="9.1" fill="#e6e6ff"/>
<rect x="535.3" y="730.5" width="9.1" height="9.1" fill="#e0e0ff"/>
<rect x="544.2" y="730.5" width="9.1" height="9.1" fill="#e0e0ff"/>
<rect x="553.1" y="730.5" width="9.1" height="9.1" fill="#e0e0ff"/>
<rect x="562" y="730.5" width="9.1" height="9.1" fill="#e0e0ff"/>
<rect x="570.9" y="730.5" width="9.1" height="9.1" fill="#e6e6ff"/>
<rect x="419.3" y="739.4" width="9.1" height="9.1" fill="#ff8080"/>
<rect x="428.2" y="739.4" width="9.1" height="9.1" fill="#ff6b6b"/>
<rect x="437.1" y="739.4" width="9.1" height="9.1" fill="#ff6666"/>
<rect x="446.1" y="739.4" width="9.1" height="9.1" fill="#ff7373"/>
<rect x="455" y="739.4" width="9.1" height="9.1" fill="#ff0000"/>
<rect x="463.9" y="739.4" width="9.1" height="9.1" fill="#ff2e2e"/>
<rect x="472.8" y="739.4" width="9.1" height="9.1" fill="#ffc7c7"/>
<rect x="481.7" y="739.4" width="9.1" height="9.1" fill="#ffb8b8"/>
<rect x="490.7" y="739.4" width="9.1" height="9.1" fill="#ffb8b8"/>
<rect x="499.6" y="739.4" width="9.1" height="9.1" fill="#ffc7c7"/>
<rect x="508.5" y="739.4" width="9.1" height="9.1" fill="#ff5959"/>
<rect x="517.4" y="739.4" width="9.1" height="9.1" fill="#ff8c8c"/>
<rect x="526.3" y="739.4" width="9.1" height="9.1" fill="#f2f2ff"/>
<rect x="535.3" y="739.4" width="9.1" height="9.1" fill="#ebebff"/>
<rect x="544.2" y="739.4" width="9.1" height="9.1" fill="#e6e6ff"/>
<rect x="553.1" y="739.4" width="9.1" height="9.1" fill="#e6e6ff"/>
<rect x="562" y="739.4" width="9.1" height="9.1" fill="#c7c7ff"/>
<rect x="570.9" y="739.4" width="9.1" height="9.1" fill="#dbdbff"/>
<rect x="419.3" y="748.3" width="9.1" height="9.1" fill="#ff7373"/>
<rect x="428.2" y="748.3" width="9.1" height="9.1" fill="#ff6161"/>
<rect x="437.1" y="748.3" width="9.1" height="9.1" fill="#ff4d4d"/>
<rect x="446.1" y="748.3" width="9.1" height="9.1" fill="#ff5959"/>
<rect x="455" y="748.3" width="9.1" height="9.1" fill="#ff2e2e"/>
<rect x="463.9" y="748.3" width="9.1" height="9.1" fill="#ff0000"/>
<rect x="472.8" y="748.3" width="9.1" height="9.1" fill="#ffb8b8"/>
<rect x="481.7" y="748.3" width="9.1" height="9.1" fill="#ffa6a6"/>
<rect x="490.7" y="748.3" width="9.1" height="9.1" fill="#ffa6a6"/>
<rect x="499.6" y="748.3" width="9.1" height="9.1" fill="#ffb2b2"/>
<rect x="508.5" y="748.3" width="9.1" height="9.1" fill="#ff8c8c"/>
<rect x="517.4" y="748.3" width="9.1" height="9.1" fill="#ff7373"/>
<rect x="526.3" y="748.3" width="9.1" height="9.1" fill="#f2f2ff"/>
<rect x="535.3" y="748.3" width="9.1" height="9.1" fill="#ebebff"/>
<rect x="544.2" y="748.3" width="9.1" height="9.1" fill="#e6e6ff"/>
<rect x="553.1" y="748.3" width="9.1" height="9.1" fill="#e6e6ff"/>
<rect x="562" y="748.3" width="9.1" height="9.1" fill="#ccccff"/>
<rect x="570.9" y="748.3" width="9.1" height="9.1" fill="#d1d1ff"/>
<rect x="419.3" y="757.2" width="9.1" height="9.1" fill="#ff4040"/>
<rect x="428.2" y="757.2" width="9.1" height="9.1" fill="#ffb8b8"/>
<rect x="437.1" y="757.2" width="9.1" height="9.1" fill="#ffb8b8"/>
<rect x="446.1" y="757.2" width="9.1" height="9.1" fill="#ffb8b8"/>
<rect x="455" y="757.2" width="9.1" height="9.1" fill="#ffc7c7"/>
<rect x="463.9" y="757.2" width="9.1" height="9.1" fill="#ffb8b8"/>
<rect x="472.8" y="757.2" width="9.1" height="9.1" fill="#ff0000"/>
<rect x="481.7" y="757.2" width="9.1" height="9.1" fill="#ff8c8c"/>
<rect x="490.7" y="757.2" width="9.1" height="9.1" fill="#ffb2b2"/>
<rect x="499.6" y="757.2" width="9.1" height="9.1" fill="#ffa6a6"/>
<rect x="508.5" y="757.2" width="9.1" height="9.1" fill="#ffc7c7"/>
<rect x="517.4" y="757.2" width="9.1" height="9.1" fill="#ffbfbf"/>
<rect x="526.3" y="757.2" width="9.1" height="9.1" fill="#ccccff"/>
<rect x="535.3" y="757.2" width="9.1" height="9.1" fill="#e0e0ff"/>
<rect x="544.2" y="757.2" width="9.1" height="9.1" fill="#e6e6ff"/>
<rect x="553.1" y="757.2" width="9.1" height="9.1" fill="#e6e6ff"/>
<rect x="562" y="757.2" width="9.1" height="9.1" fill="#e6e6ff"/>
<rect x="570.9" y="757.2" width="9.1" height="9.1" fill="#ebebff"/>
<rect x="419.3" y="766.1" width="9.1" height="9.1" fill="#ffb8b8"/>
<rect x="428.2" y="766.1" width="9.1" height="9.1" fill="#ff6666"/>
<rect x="437.1" y="766.1" width="9.1" height="9.1" fill="#ff9999"/>
<rect x="446.1" y="766.1" width="9.1" height="9.1" fill="#ff9e9e"/>
<rect x="455" y="766.1" width="9.1" height="9.1" fill="#ffb8b8"/>
<rect x="463.9" y="766.1" width="9.1" height="9.1" fill="#ffa6a6"/>
<rect x="472.8" y="766.1" width="9.1" height="9.1" fill="#ff8c8c"/>
<rect x="481.7" y="766.1" width="9.1" height="9.1" fill="#ff0000"/>
<rect x="490.7" y="766.1" width="9.1" height="9.1" fill="#ff5959"/>
<rect x="499.6" y="766.1" width="9.1" height="9.1" fill="#ff6161"/>
<rect x="508.5" y="766.1" width="9.1" height="9.1" fill="#ff9999"/>
<rect x="517.4" y="766.1" width="9.1" height="9.1" fill="#ff8c8c"/>
<rect x="526.3" y="766.1" width="9.1" height="9.1" fill="#e6e6ff"/>
<rect x="535.3" y="766.1" width="9.1" height="9.1" fill="#ccccff"/>
<rect x="544.2" y="766.1" width="9.1" height="9.1" fill="#dbdbff"/>
<rect x="553.1" y="766.1" width="9.1" height="9.1" fill="#e6e6ff"/>
<rect x="562" y="766.1" width="9.1" height="9.1" fill="#e0e0ff"/>
<rect x="570.9" y="766.1" width="9.1" height="9.1" fill="#e0e0ff"/>
<rect x="419.3" y="775.1" width="9.1" height="9.1" fill="#ffd9d9"/>
<rect x="428.2" y="775.1" width="9.1" height="9.1" fill="#ff9e9e"/>
<rect x="437.1" y="775.1" width="9.1" height="9.1" fill="#ff8080"/>
<rect x="446.1" y="775.1" width="9.1" height="9.1" fill="#ffa6a6"/>
<rect x="455" y="775.1" width="9.1" height="9.1" fill="#ffb8b8"/>
<rect x="463.9" y="775.1" width="9.1" height="9.1" fill="#ffa6a6"/>
<rect x="472.8" y="775.1" width="9.1" height="9.1" fill="#ffb2b2"/>
<rect x="481.7" y="775.1" width="9.1" height="9.1" fill="#ff5959"/>
<rect x="490.7" y="775.1" width="9.1" height="9.1" fill="#ff0000"/>
<rect x="499.6" y="775.1" width="9.1" height="9.1" fill="#ff6666"/>
<rect x="508.5" y="775.1" width="9.1" height="9.1" fill="#ff9999"/>
<rect x="517.4" y="775.1" width="9.1" height="9.1" fill="#ff8c8c"/>
<rect x="526.3" y="775.1" width="9.1" height="9.1" fill="#ebebff"/>
<rect x="535.3" y="775.1" width="9.1" height="9.1" fill="#dbdbff"/>
<rect x="544.2" y="775.1" width="9.1" height="9.1" fill="#ccccff"/>
<rect x="553.1" y="775.1" width="9.1" height="9.1" fill="#e6e6ff"/>
<rect x="562" y="775.1" width="9.1" height="9.1" fill="#e0e0ff"/>
<rect x="570.9" y="775.1" width="9.1" height="9.1" fill="#e0e0ff"/>
<rect x="419.3" y="784" width="9.1" height="9.1" fill="#ffcccc"/>
<rect x="428.2" y="784" width="9.1" height="9.1" fill="#ffa6a6"/>
<rect x="437.1" y="784" width="9.1" height="9.1" fill="#ffa6a6"/>
<rect x="446.1" y="784" width="9.1" height="9.1" fill="#ff6161"/>
<rect x="455" y="784" width="9.1" height="9.1" fill="#ffc7c7"/>
<rect x="463.9" y="784" width="9.1" height="9.1" fill="#ffb2b2"/>
<rect x="472.8" y="784" width="9.1" height="9.1" fill="#ffa6a6"/>
<rect x="481.7" y="784" width="9.1" height="9.1" fill="#ff6161"/>
<rect x="490.7" y="784" width="9.1" height="9.1" fill="#ff6666"/>
<rect x="499.6" y="784" width="9.1" height="9.1" fill="#ff0000"/>
<rect x="508.5" y="784" width="9.1" height="9.1" fill="#ff9999"/>
<rect x="517.4" y="784" width="9.1" height="9.1" fill="#ff8c8c"/>
<rect x="526.3" y="784" width="9.1" height="9.1" fill="#dbdbff"/>
<rect x="535.3" y="784" width="9.1" height="9.1" fill="#d6d6ff"/>
<rect x="544.2" y="784" width="9.1" height="9.1" fill="#d6d6ff"/>
<rect x="553.1" y="784" width="9.1" height="9.1" fill="#d6d6ff"/>
<rect x="562" y="784" width="9.1" height="9.1" fill="#d6d6ff"/>
<rect x="570.9" y="784" width="9.1" height="9.1" fill="#dbdbff"/>
<rect x="419.3" y="792.9" width="9.1" height="9.1" fill="#ffe0e0"/>
<rect x="428.2" y="792.9" width="9.1" height="9.1" fill="#ffb8b8"/>
<rect x="437.1" y="792.9" width="9.1" height="9.1" fill="#ffbfbf"/>
<rect x="446.1" y="792.9" width="9.1" height="9.1" fill="#ffbfbf"/>
<rect x="455" y="792.9" width="9.1" height="9.1" fill="#ff5959"/>
<rect x="463.9" y="792.9" width="9.1" height="9.1" fill="#ff8c8c"/>
<rect x="472.8" y="792.9" width="9.1" height="9.1" fill="#ffc7c7"/>
<rect x="481.7" y="792.9" width="9.1" height="9.1" fill="#ff9999"/>
<rect x="490.7" y="792.9" width="9.1" height="9.1" fill="#ff9999"/>
<rect x="499.6" y="792.9" width="9.1" height="9.1" fill="#ff9999"/>
<rect x="508.5" y="792.9" width="9.1" height="9.1" fill="#ff0000"/>
<rect x="517.4" y="792.9" width="9.1" height="9.1" fill="#ff4040"/>
<rect x="526.3" y="792.9" width="9.1" height="9.1" fill="#f2f2ff"/>
<rect x="535.3" y="792.9" width="9.1" height="9.1" fill="#e6e6ff"/>
<rect x="544.2" y="792.9" width="9.1" height="9.1" fill="#e6e6ff"/>
<rect x="553.1" y="792.9" width="9.1" height="9.1" fill="#e6e6ff"/>
<rect x="562" y="792.9" width="9.1" height="9.1" fill="#c2c2ff"/>
<rect x="570.9" y="792.9" width="9.1" height="9.1" fill="#d1d1ff"/>
<rect x="419.3" y="801.8" width="9.1" height="9.1" fill="#ffe6e6"/>
<rect x="428.2" y="801.8" width="9.1" height="9.1" fill="#ffb2b2"/>
<rect x="437.1" y="801.8" width="9.1" height="9.1" fill="#ffb2b2"/>
<rect x="446.1" y="801.8" width="9.1" height="9.1" fill="#ffbdbd"/>
<rect x="455" y="801.8" width="9.1" height="9.1" fill="#ff8c8c"/>
<rect x="463.9" y="801.8" width="9.1" height="9.1" fill="#ff7373"/>
<rect x="472.8" y="801.8" width="9.1" height="9.1" fill="#ffbfbf"/>
<rect x="481.7" y="801.8" width="9.1" height="9.1" fill="#ff8c8c"/>
<rect x="490.7" y="801.8" width="9.1" height="9.1" fill="#ff8c8c"/>
<rect x="499.6" y="801.8" width="9.1" height="9.1" fill="#ff8c8c"/>
<rect x="508.5" y="801.8" width="9.1" height="9.1" fill="#ff4040"/>
<rect x="517.4" y="801.8" width="9.1" height="9.1" fill="#ff0000"/>
<rect x="526.3" y="801.8" width="9.1" height="9.1" fill="#ebebff"/>
<rect x="535.3" y="801.8" width="9.1" height="9.1" fill="#e0e0ff"/>
<rect x="544.2" y="801.8" width="9.1" height="9.1" fill="#e0e0ff"/>
<rect x="553.1" y="801.8" width="9.1" height="9.1" fill="#e0e0ff"/>
<rect x="562" y="801.8" width="9.1" height="9.1" fill="#c7c7ff"/>
<rect x="570.9" y="801.8" width="9.1" height="9.1" fill="#ccccff"/>
<rect x="419.3" y="810.7" width="9.1" height="9.1" fill="#c7c7ff"/>
<rect x="428.2" y="810.7" width="9.1" height="9.1" fill="#f2f2ff"/>
<rect x="437.1" y="810.7" width="9.1" height="9.1" fill="#fafaff"/>
<rect x="446.1" y="810.7" width="9.1" height="9.1" fill="#e6e6ff"/>
<rect x="455" y="810.7" width="9.1" height="9.1" fill="#f2f2ff"/>
<rect x="463.9" y="810.7" width="9.1" height="9.1" fill="#f2f2ff"/>
<rect x="472.8" y="810.7" width="9.1" height="9.1" fill="#ccccff"/>
<rect x="481.7" y="810.7" width="9.1" height="9.1" fill="#e6e6ff"/>
<rect x="490.7" y="810.7" width="9.1" height="9.1" fill="#ebebff"/>
<rect x="499.6" y="810.7" width="9.1" height="9.1" fill="#dbdbff"/>
<rect x="508.5" y="810.7" width="9.1" height="9.1" fill="#f2f2ff"/>
<rect x="517.4" y="810.7" width="9.1" height="9.1" fill="#ebebff"/>
<rect x="526.3" y="810.7" width="9.1" height="9.1" fill="#ff0000"/>
<rect x="535.3" y="810.7" width="9.1" height="9.1" fill="#ff2e2e"/>
<rect x="544.2" y="810.7" width="9.1" height="9.1" fill="#ff4d4d"/>
<rect x="553.1" y="810.7" width="9.1" height="9.1" fill="#ff4040"/>
<rect x="562" y="810.7" width="9.1" height="9.1" fill="#ff4d4d"/>
<rect x="570.9" y="810.7" width="9.1" height="9.1" fill="#ff4d4d"/>
<rect x="419.3" y="819.7" width="9.1" height="9.1" fill="#e0e0ff"/>
<rect x="428.2" y="819.7" width="9.1" height="9.1" fill="#e0e0ff"/>
<rect x="437.1" y="819.7" width="9.1" height="9.1" fill="#ebebff"/>
<rect x="446.1" y="819.7" width="9.1" height="9.1" fill="#e0e0ff"/>
<rect x="455" y="819.7" width="9.1" height="9.1" fill="#ebebff"/>
<rect x="463.9" y="819.7" width="9.1" height="9.1" fill="#ebebff"/>
<rect x="472.8" y="819.7" width="9.1" height="9.1" fill="#e0e0ff"/>
<rect x="481.7" y="819.7" width="9.1" height="9.1" fill="#ccccff"/>
<rect x="490.7" y="819.7" width="9.1" height="9.1" fill="#dbdbff"/>
<rect x="499.6" y="819.7" width="9.1" height="9.1" fill="#d6d6ff"/>
<rect x="508.5" y="819.7" width="9.1" height="9.1" fill="#e6e6ff"/>
<rect x="517.4" y="819.7" width="9.1" height="9.1" fill="#e0e0ff"/>
<rect x="526.3" y="819.7" width="9.1" height="9.1" fill="#ff2e2e"/>
<rect x="535.3" y="819.7" width="9.1" height="9.1" fill="#ff0000"/>
<rect x="544.2" y="819.7" width="9.1" height="9.1" fill="#ff3333"/>
<rect x="553.1" y="819.7" width="9.1" height="9.1" fill="#ff2626"/>
<rect x="562" y="819.7" width="9.1" height="9.1" fill="#ff4747"/>
<rect x="570.9" y="819.7" width="9.1" height="9.1" fill="#ff4040"/>
<rect x="419.3" y="828.6" width="9.1" height="9.1" fill="#e6e6ff"/>
<rect x="428.2" y="828.6" width="9.1" height="9.1" fill="#e6e6ff"/>
<rect x="437.1" y="828.6" width="9.1" height="9.1" fill="#e6e6ff"/>
<rect x="446.1" y="828.6" width="9.1" height="9.1" fill="#e0e0ff"/>
<rect x="455" y="828.6" width="9.1" height="9.1" fill="#e6e6ff"/>
<rect x="463.9" y="828.6" width="9.1" height="9.1" fill="#e6e6ff"/>
<rect x="472.8" y="828.6" width="9.1" height="9.1" fill="#e6e6ff"/>
<rect x="481.7" y="828.6" width="9.1" height="9.1" fill="#dbdbff"/>
<rect x="490.7" y="828.6" width="9.1" height="9.1" fill="#ccccff"/>
<rect x="499.6" y="828.6" width="9.1" height="9.1" fill="#d6d6ff"/>
<rect x="508.5" y="828.6" width="9.1" height="9.1" fill="#e6e6ff"/>
<rect x="517.4" y="828.6" width="9.1" height="9.1" fill="#e0e0ff"/>
<rect x="526.3" y="828.6" width="9.1" height="9.1" fill="#ff4d4d"/>
<rect x="535.3" y="828.6" width="9.1" height="9.1" fill="#ff3333"/>
<rect x="544.2" y="828.6" width="9.1" height="9.1" fill="#ff0000"/>
<rect x="553.1" y="828.6" width="9.1" height="9.1" fill="#ff3333"/>
<rect x="562" y="828.6" width="9.1" height="9.1" fill="#ff4d4d"/>
<rect x="570.9" y="828.6" width="9.1" height="9.1" fill="#ff4747"/>
<rect x="419.3" y="837.5" width="9.1" height="9.1" fill="#ebebff"/>
<rect x="428.2" y="837.5" width="9.1" height="9.1" fill="#e6e6ff"/>
<rect x="437.1" y="837.5" width="9.1" height="9.1" fill="#f2f2ff"/>
<rect x="446.1" y="837.5" width="9.1" height="9.1" fill="#e0e0ff"/>
<rect x="455" y="837.5" width="9.1" height="9.1" fill="#e6e6ff"/>
<rect x="463.9" y="837.5" width="9.1" height="9.1" fill="#e6e6ff"/>
<rect x="472.8" y="837.5" width="9.1" height="9.1" fill="#e6e6ff"/>
<rect x="481.7" y="837.5" width="9.1" height="9.1" fill="#e6e6ff"/>
<rect x="490.7" y="837.5" width="9.1" height="9.1" fill="#e6e6ff"/>
<rect x="499.6" y="837.5" width="9.1" height="9.1" fill="#d6d6ff"/>
<rect x="508.5" y="837.5" width="9.1" height="9.1" fill="#e6e6ff"/>
<rect x="517.4" y="837.5" width="9.1" height="9.1" fill="#e0e0ff"/>
<rect x="526.3" y="837.5" width="9.1" height="9.1" fill="#ff4040"/>
<rect x="535.3" y="837.5" width="9.1" height="9.1" fill="#ff2626"/>
<rect x="544.2" y="837.5" width="9.1" height="9.1" fill="#ff3333"/>
<rect x="553.1" y="837.5" width="9.1" height="9.1" fill="#ff0000"/>
<rect x="562" y="837.5" width="9.1" height="9.1" fill="#ff4747"/>
<rect x="570.9" y="837.5" width="9.1" height="9.1" fill="#ff3838"/>
<rect x="419.3" y="846.4" width="9.1" height="9.1" fill="#e6e6ff"/>
<rect x="428.2" y="846.4" width="9.1" height="9.1" fill="#ebebff"/>
<rect x="437.1" y="846.4" width="9.1" height="9.1" fill="#ebebff"/>
<rect x="446.1" y="846.4" width="9.1" height="9.1" fill="#e0e0ff"/>
<rect x="455" y="846.4" width="9.1" height="9.1" fill="#c7c7ff"/>
<rect x="463.9" y="846.4" width="9.1" height="9.1" fill="#ccccff"/>
<rect x="472.8" y="846.4" width="9.1" height="9.1" fill="#e6e6ff"/>
<rect x="481.7" y="846.4" width="9.1" height="9.1" fill="#e0e0ff"/>
<rect x="490.7" y="846.4" width="9.1" height="9.1" fill="#e0e0ff"/>
<rect x="499.6" y="846.4" width="9.1" height="9.1" fill="#d6d6ff"/>
<rect x="508.5" y="846.4" width="9.1" height="9.1" fill="#c2c2ff"/>
<rect x="517.4" y="846.4" width="9.1" height="9.1" fill="#c7c7ff"/>
<rect x="526.3" y="846.4" width="9.1" height="9.1" fill="#ff4d4d"/>
<rect x="535.3" y="846.4" width="9.1" height="9.1" fill="#ff4747"/>
<rect x="544.2" y="846.4" width="9.1" height="9.1" fill="#ff4d4d"/>
<rect x="553.1" y="846.4" width="9.1" height="9.1" fill="#ff4747"/>
<rect x="562" y="846.4" width="9.1" height="9.1" fill="#ff0000"/>
<rect x="570.9" y="846.4" width="9.1" height="9.1" fill="#ff2626"/>
<rect x="419.3" y="855.3" width="9.1" height="9.1" fill="#ebebff"/>
<rect x="428.2" y="855.3" width="9.1" height="9.1" fill="#f0f0ff"/>
<rect x="437.1" y="855.3" width="9.1" height="9.1" fill="#f0f0ff"/>
<rect x="446.1" y="855.3" width="9.1" height="9.1" fill="#e6e6ff"/>
<rect x="455" y="855.3" width="9.1" height="9.1" fill="#dbdbff"/>
<rect x="463.9" y="855.3" width="9.1" height="9.1" fill="#d1d1ff"/>
<rect x="472.8" y="855.3" width="9.1" height="9.1" fill="#ebebff"/>
<rect x="481.7" y="855.3" width="9.1" height="9.1" fill="#e0e0ff"/>
<rect x="490.7" y="855.3" width="9.1" height="9.1" fill="#e0e0ff"/>
<rect x="499.6" y="855.3" width="9.1" height="9.1" fill="#dbdbff"/>
<rect x="508.5" y="855.3" width="9.1" height="9.1" fill="#d1d1ff"/>
<rect x="517.4" y="855.3" width="9.1" height="9.1" fill="#ccccff"/>
<rect x="526.3" y="855.3" width="9.1" height="9.1" fill="#ff4d4d"/>
<rect x="535.3" y="855.3" width="9.1" height="9.1" fill="#ff4040"/>
<rect x="544.2" y="855.3" width="9.1" height="9.1" fill="#ff4747"/>
<rect x="553.1" y="855.3" width="9.1" height="9.1" fill="#ff3838"/>
<rect x="562" y="855.3" width="9.1" height="9.1" fill="#ff2626"/>
<rect x="570.9" y="855.3" width="9.1" height="9.1" fill="#ff0000"/>
<path d="M472.8 703.7v160.6M419.3 757.2h160.6M526.3 703.7v160.6M419.3 810.7h160.6" stroke="#333" stroke-width="0.55"/>
<text x="413.3" y="709.9" font-size="4.9" text-anchor="end" fill="#333">MIGL</text>
<text x="425.5" y="868.2" font-size="4.9" text-anchor="end" fill="#333" transform="rotate(-90 425.5 868.2)">MIGL</text>
<text x="413.3" y="718.8" font-size="4.9" text-anchor="end" fill="#333">AST</text>
<text x="434.4" y="868.2" font-size="4.9" text-anchor="end" fill="#333" transform="rotate(-90 434.4 868.2)">AST</text>
<text x="413.3" y="727.7" font-size="4.9" text-anchor="end" fill="#333">OPC</text>
<text x="443.3" y="868.2" font-size="4.9" text-anchor="end" fill="#333" transform="rotate(-90 443.3 868.2)">OPC</text>
<text x="413.3" y="736.6" font-size="4.9" text-anchor="end" fill="#333">MOL</text>
<text x="452.2" y="868.2" font-size="4.9" text-anchor="end" fill="#333" transform="rotate(-90 452.2 868.2)">MOL</text>
<text x="413.3" y="745.5" font-size="4.9" text-anchor="end" fill="#333">CXEX</text>
<text x="461.1" y="868.2" font-size="4.9" text-anchor="end" fill="#333" transform="rotate(-90 461.1 868.2)">CXEX</text>
<text x="413.3" y="754.5" font-size="4.9" text-anchor="end" fill="#333">CXINH</text>
<text x="470.1" y="868.2" font-size="4.9" text-anchor="end" fill="#333" transform="rotate(-90 470.1 868.2)">CXINH</text>
<text x="413.3" y="763.4" font-size="4.9" text-anchor="end" fill="#333">MIGL</text>
<text x="479" y="868.2" font-size="4.9" text-anchor="end" fill="#333" transform="rotate(-90 479 868.2)">MIGL</text>
<text x="413.3" y="772.3" font-size="4.9" text-anchor="end" fill="#333">AST</text>
<text x="487.9" y="868.2" font-size="4.9" text-anchor="end" fill="#333" transform="rotate(-90 487.9 868.2)">AST</text>
<text x="413.3" y="781.2" font-size="4.9" text-anchor="end" fill="#333">OPC</text>
<text x="496.8" y="868.2" font-size="4.9" text-anchor="end" fill="#333" transform="rotate(-90 496.8 868.2)">OPC</text>
<text x="413.3" y="790.1" font-size="4.9" text-anchor="end" fill="#333">MOL</text>
<text x="505.7" y="868.2" font-size="4.9" text-anchor="end" fill="#333" transform="rotate(-90 505.7 868.2)">MOL</text>
<text x="413.3" y="799.1" font-size="4.9" text-anchor="end" fill="#333">CXEX</text>
<text x="514.7" y="868.2" font-size="4.9" text-anchor="end" fill="#333" transform="rotate(-90 514.7 868.2)">CXEX</text>
<text x="413.3" y="808" font-size="4.9" text-anchor="end" fill="#333">CXINH</text>
<text x="523.6" y="868.2" font-size="4.9" text-anchor="end" fill="#333" transform="rotate(-90 523.6 868.2)">CXINH</text>
<text x="413.3" y="816.9" font-size="4.9" text-anchor="end" fill="#333">MIGL</text>
<text x="532.5" y="868.2" font-size="4.9" text-anchor="end" fill="#333" transform="rotate(-90 532.5 868.2)">MIGL</text>
<text x="413.3" y="825.8" font-size="4.9" text-anchor="end" fill="#333">AST</text>
<text x="541.4" y="868.2" font-size="4.9" text-anchor="end" fill="#333" transform="rotate(-90 541.4 868.2)">AST</text>
<text x="413.3" y="834.7" font-size="4.9" text-anchor="end" fill="#333">OPC</text>
<text x="550.3" y="868.2" font-size="4.9" text-anchor="end" fill="#333" transform="rotate(-90 550.3 868.2)">OPC</text>
<text x="413.3" y="843.7" font-size="4.9" text-anchor="end" fill="#333">MOL</text>
<text x="559.3" y="868.2" font-size="4.9" text-anchor="end" fill="#333" transform="rotate(-90 559.3 868.2)">MOL</text>
<text x="413.3" y="852.6" font-size="4.9" text-anchor="end" fill="#333">CXEX</text>
<text x="568.2" y="868.2" font-size="4.9" text-anchor="end" fill="#333" transform="rotate(-90 568.2 868.2)">CXEX</text>
<text x="413.3" y="861.5" font-size="4.9" text-anchor="end" fill="#333">CXINH</text>
<text x="577.1" y="868.2" font-size="4.9" text-anchor="end" fill="#333" transform="rotate(-90 577.1 868.2)">CXINH</text>
<path d="M414.5 708.2h3.2M423.8 864.3v2.6M414.5 717.1h3.2M432.7 864.3v2.6M414.5 726h3.2M441.6 864.3v2.6M414.5 734.9h3.2M450.5 864.3v2.6M414.5 743.8h3.2M459.4 864.3v2.6M414.5 752.8h3.2M468.4 864.3v2.6M414.5 761.7h3.2M477.3 864.3v2.6M414.5 770.6h3.2M486.2 864.3v2.6M414.5 779.5h3.2M495.1 864.3v2.6M414.5 788.4h3.2M504 864.3v2.6M414.5 797.4h3.2M513 864.3v2.6M414.5 806.3h3.2M521.9 864.3v2.6M414.5 815.2h3.2M530.8 864.3v2.6M414.5 824.1h3.2M539.7 864.3v2.6M414.5 833h3.2M548.6 864.3v2.6M414.5 842h3.2M557.6 864.3v2.6M414.5 850.9h3.2M566.5 864.3v2.6M414.5 859.8h3.2M575.4 864.3v2.6" stroke="#333" stroke-width="0.45"/>
<text x="392.6" y="730.5" font-size="6.6" text-anchor="middle" transform="rotate(-90 392.6 730.5)">ATAC</text>
<text x="446.1" y="895.3" font-size="6.6" text-anchor="middle">ATAC</text>
<text x="392.6" y="784" font-size="6.6" text-anchor="middle" transform="rotate(-90 392.6 784)">H3K27ac</text>
<text x="499.6" y="895.3" font-size="6.6" text-anchor="middle">H3K27ac</text>
<text x="392.6" y="837.5" font-size="6.6" text-anchor="middle" transform="rotate(-90 392.6 837.5)">H3K27me3</text>
<text x="553.1" y="895.3" font-size="6.6" text-anchor="middle">H3K27me3</text>
<path d="M396.8 704.5V756.4M420.1 888H472M396.8 758V809.9M473.6 888H525.5M396.8 811.5V863.5M527.1 888H579.1" stroke="#333" stroke-width="0.6"/>
<defs><linearGradient id="pc" x1="0" y1="0" x2="0" y2="1"><stop offset="0" stop-color="#dd0000"/><stop offset="0.5" stop-color="#ffffff"/><stop offset="1" stop-color="#0000dd"/></linearGradient></defs>
<rect x="585.3" y="768.9" width="4.4" height="49.1" fill="url(#pc)" stroke="#444" stroke-width="0.3"/>
<text x="586.2" y="764.6" font-size="4.8" fill="#333" transform="rotate(90 586.2 764.6)">1</text>
<text x="586.2" y="818.8" font-size="4.8" fill="#333" transform="rotate(90 586.2 818.8)">−1</text>
<text x="592.4" y="765.2" font-size="6.8" transform="rotate(90 592.4 765.2)">Pearson correlation</text>
</svg>
</body></html>
